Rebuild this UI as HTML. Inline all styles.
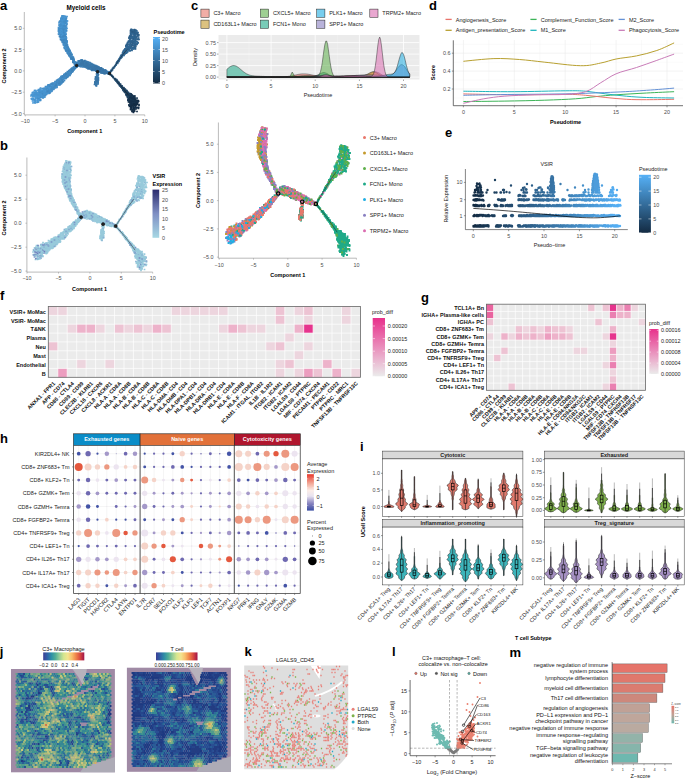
<!DOCTYPE html>
<html><head><meta charset="utf-8"><style>
html,body{margin:0;padding:0;background:#fff;}
svg{display:block;font-family:"Liberation Sans",sans-serif;}
</style></head><body>
<svg width="685" height="778" viewBox="0 0 685 778">
<rect width="685" height="778" fill="#fff"/>
<text x="0.0" y="9.5" font-size="13" text-anchor="start" font-weight="bold" fill="#000">a</text>
<text x="86.0" y="9.5" font-size="6.3" text-anchor="middle" font-weight="bold" fill="#000">Myeloid cells</text>
<path transform="scale(.5)" d="M133 48h0M125 67h0M132 36h0M130 88h0M132 93h0M127 64h0M118 58h0M129 75h0M132 44h0M128 83h0M132 102h0M119 65h0M121 63h0M125 64h0M125 65h0M132 81h0M119 61h0M126 63h0M131 56h0M134 83h0M124 75h0M128 60h0M138 103h0M118 56h0M118 61h0M138 98h0M132 68h0M129 62h0M138 106h0M135 101h0M123 63h0M120 64h0M130 55h0M133 94h0M125 66h0M128 72h0M126 53h0M128 46h0M125 44h0M132 74h0M127 56h0M123 81h0M127 64h0M123 40h0M132 37h0M98 183h0M69 199h0M119 164h0M117 167h0M71 203h0M98 185h0M112 166h0M90 194h0M77 181h0M81 189h0M93 184h0M110 166h0M123 164h0M87 185h0M114 171h0M103 176h0M107 179h0M130 148h0M98 170h0M108 171h0M106 176h0M125 161h0M109 167h0M99 184h0M78 182h0M71 196h0M108 169h0M127 159h0M93 178h0M106 178h0M86 189h0M65 191h0M79 195h0M90 187h0M113 164h0M137 146h0M83 191h0M71 187h0M81 176h0M79 199h0M107 173h0M97 177h0M101 179h0M98 173h0M122 153h0M76 204h0M82 183h0M119 167h0M88 186h0M70 202h0M104 171h0M81 192h0M97 171h0M125 155h0M117 158h0M100 176h0" stroke="#4590ca" stroke-width="3.40" stroke-linecap="square" fill="none"/>
<path transform="scale(.5)" d="M144 117h0M143 114h0M130 41h0M126 58h0M119 73h0M123 52h0M132 93h0M153 130h0M140 107h0M128 81h0M125 64h0M125 69h0M130 73h0M132 78h0M141 109h0M129 90h0M151 124h0M131 98h0M129 83h0M132 88h0M124 55h0M135 98h0M128 74h0M128 77h0M133 95h0M127 69h0M130 94h0M125 68h0M141 114h0M139 112h0M136 98h0M139 112h0M147 120h0M140 111h0M132 47h0M134 101h0M133 98h0M130 63h0M134 98h0M129 68h0M136 95h0M122 43h0M135 93h0M134 90h0M146 116h0M125 64h0M127 74h0M131 86h0M85 182h0M121 165h0M108 174h0M137 152h0M97 170h0M126 157h0M119 162h0M94 179h0M121 168h0M148 139h0M132 148h0M123 160h0M137 151h0M142 146h0M110 166h0M96 174h0M147 138h0M138 149h0M129 161h0M120 163h0M143 137h0M95 175h0M95 176h0M92 184h0M143 142h0M113 165h0M127 158h0M132 154h0M113 161h0M142 141h0M114 165h0M94 178h0M144 137h0M102 176h0M95 187h0M103 172h0M102 173h0M107 167h0M114 174h0M82 183h0M84 193h0M145 143h0" stroke="#4187bf" stroke-width="3.40" stroke-linecap="square" fill="none"/>
<path transform="scale(.5)" d="M140 103h0M131 73h0M135 92h0M131 56h0M121 73h0M127 38h0M130 42h0M118 64h0M127 49h0M133 49h0M127 82h0M130 79h0M142 110h0M144 117h0M124 61h0M125 34h0M125 85h0M124 60h0M141 111h0M124 59h0M120 69h0M126 43h0M126 79h0M129 97h0M122 47h0M122 52h0M127 84h0M125 48h0M129 71h0M126 81h0M137 108h0M132 101h0M122 38h0M134 84h0M123 63h0M131 75h0M135 100h0M132 100h0M125 44h0M129 35h0M127 81h0M124 73h0M130 71h0M128 63h0M148 124h0M137 96h0M128 73h0M122 69h0M133 45h0M144 118h0M135 90h0M133 62h0M129 60h0M127 85h0M139 112h0M139 109h0M127 63h0M129 83h0M142 144h0M86 186h0M141 148h0M103 181h0M78 186h0M87 183h0M130 150h0M144 144h0M79 180h0M110 170h0M84 190h0M133 147h0M130 150h0M75 194h0M130 150h0M81 199h0M84 189h0M141 139h0M81 185h0M85 195h0M151 136h0M104 182h0M135 152h0M74 187h0M103 175h0M124 165h0M148 134h0M114 169h0M130 153h0M120 157h0M81 201h0M144 136h0M75 192h0M122 157h0M100 179h0M92 188h0M99 178h0M93 177h0M86 187h0M97 177h0M145 138h0M99 172h0M112 173h0M149 134h0M120 164h0M154 131h0M140 144h0M86 190h0M103 183h0M103 176h0M103 179h0M109 166h0M111 173h0M105 174h0M118 160h0M131 157h0M114 166h0M90 179h0M93 181h0M135 152h0M120 170h0M83 194h0M108 171h0M120 160h0M126 156h0M87 193h0" stroke="#438bc4" stroke-width="3.40" stroke-linecap="square" fill="none"/>
<path transform="scale(.5)" d="M120 54h0M126 65h0M123 58h0M132 44h0M120 56h0M130 47h0M124 53h0M119 60h0M134 57h0M130 44h0M125 74h0M128 54h0M125 49h0M118 46h0M133 41h0M124 52h0M126 50h0M127 52h0M134 42h0M133 61h0M130 35h0M122 47h0M125 42h0M126 40h0M127 47h0M124 39h0M119 62h0M130 46h0M132 38h0M126 50h0M123 55h0M72 191h0M86 186h0M101 173h0M101 172h0M69 185h0M85 190h0M101 181h0M83 189h0M80 189h0M69 189h0M92 187h0M113 164h0M72 193h0M88 179h0M64 197h0M80 183h0M71 201h0M92 183h0M84 186h0M70 205h0M88 194h0M74 192h0M80 193h0M89 184h0M81 200h0M88 191h0" stroke="#4794d0" stroke-width="3.40" stroke-linecap="square" fill="none"/>
<path transform="scale(.5)" d="M148 122h0M146 122h0M146 125h0M143 118h0M150 127h0M149 128h0M152 125h0M149 127h0M142 144h0M140 146h0M138 141h0M150 135h0M198 139h0M168 123h0M200 140h0M155 129h0M150 128h0M189 137h0M179 130h0M186 137h0M149 129h0M163 125h0M187 138h0M181 132h0M197 140h0M174 128h0M162 133h0M187 132h0M160 128h0M164 122h0M191 133h0M169 129h0M181 135h0M173 131h0M168 133h0M195 141h0M173 123h0M204 142h0M174 136h0M176 135h0M184 129h0M181 133h0M189 138h0M189 132h0M189 136h0M173 129h0M198 139h0M191 164h0M191 165h0M195 154h0M193 172h0M194 164h0M194 165h0" stroke="#3d7fb4" stroke-width="3.40" stroke-linecap="square" fill="none"/>
<path transform="scale(.5)" d="M134 101h0M126 84h0M150 127h0M129 86h0M142 118h0M151 131h0M129 78h0M133 90h0M149 126h0M143 109h0M145 116h0M133 82h0M134 96h0M142 112h0M150 126h0M132 86h0M133 102h0M137 103h0M134 100h0M139 104h0M154 130h0M129 95h0M148 122h0M135 94h0M136 96h0M151 128h0M123 80h0M124 155h0M132 157h0M136 153h0M118 170h0M125 156h0M131 152h0M138 143h0M148 136h0M147 140h0M153 134h0M146 142h0M146 143h0M136 148h0M134 152h0M115 160h0M149 137h0M126 156h0M125 153h0M135 151h0M129 156h0M143 138h0M134 148h0M139 150h0M140 151h0M151 132h0M131 147h0M132 154h0M162 132h0M154 131h0M152 126h0M153 129h0M168 134h0M157 132h0M161 130h0M164 120h0M161 130h0M163 131h0M174 134h0M160 125h0" stroke="#3f83b9" stroke-width="3.40" stroke-linecap="square" fill="none"/>
<path transform="scale(.5)" d="M77 204h0M67 186h0M63 190h0M66 206h0M70 188h0M82 195h0M90 185h0M77 195h0M83 186h0M77 179h0M77 198h0" stroke="#4998d5" stroke-width="3.40" stroke-linecap="square" fill="none"/>
<path transform="scale(.5)" d="M65 185h0M67 204h0" stroke="#4c9cdb" stroke-width="3.40" stroke-linecap="square" fill="none"/>
<path transform="scale(.5)" d="M162 132h0M173 128h0M201 136h0M175 128h0M154 127h0M179 131h0M160 126h0M215 143h0M193 135h0M217 148h0M154 126h0M163 125h0M154 128h0M179 133h0M211 145h0M152 128h0M177 136h0M176 129h0M192 142h0M190 132h0M203 142h0M182 137h0M202 145h0M159 128h0M175 128h0M162 120h0M174 128h0M155 128h0M193 140h0M211 145h0M164 130h0M169 128h0M194 139h0M162 133h0M207 140h0M178 125h0M212 146h0M206 146h0M163 127h0M203 139h0M206 138h0M158 126h0M163 129h0M187 131h0M165 131h0M183 134h0M196 138h0M159 126h0M173 132h0M172 132h0M213 145h0M178 130h0M191 157h0M194 157h0M192 159h0M193 168h0M192 165h0M193 164h0M192 171h0M194 152h0M193 156h0" stroke="#3b7bae" stroke-width="3.40" stroke-linecap="square" fill="none"/>
<path transform="scale(.5)" d="M158 122h0M191 139h0M182 135h0M160 133h0M202 137h0M185 140h0M194 140h0M188 136h0M171 125h0M184 129h0M171 126h0M192 134h0M206 140h0M188 136h0M207 140h0M195 138h0M219 146h0M213 144h0M167 127h0M198 142h0M170 126h0M158 126h0M195 134h0M195 135h0M173 124h0M216 147h0M159 129h0M160 127h0M170 121h0M188 134h0M173 134h0M179 133h0M210 146h0M206 144h0M205 141h0M185 136h0M163 127h0M173 134h0M164 124h0M175 136h0M218 145h0M169 121h0M172 132h0M176 136h0M218 145h0M178 137h0M195 137h0M176 130h0M206 144h0M193 136h0M175 124h0M196 168h0M191 165h0M195 159h0M193 170h0M192 167h0M195 153h0M194 151h0M196 163h0M195 146h0M189 169h0M196 156h0M195 166h0M195 162h0M191 164h0" stroke="#3976a8" stroke-width="3.40" stroke-linecap="square" fill="none"/>
<path transform="scale(.5)" d="M208 143h0M203 142h0M192 132h0M209 144h0M204 144h0M212 141h0M208 147h0M199 136h0M208 144h0M196 138h0M202 142h0M215 145h0M203 136h0M192 138h0M215 144h0M211 147h0M206 146h0M195 151h0M191 158h0M193 165h0M197 160h0M194 167h0M195 165h0M196 146h0M194 147h0" stroke="#3772a3" stroke-width="3.40" stroke-linecap="square" fill="none"/>
<path transform="scale(.5)" d="M256 93h0M266 75h0M262 67h0M259 73h0M274 79h0M255 88h0M234 125h0M245 109h0M262 67h0M264 89h0M270 72h0M265 65h0M262 93h0M274 88h0M253 106h0M257 94h0M267 67h0M269 68h0M249 106h0M270 71h0M260 101h0M254 95h0M269 84h0M255 92h0M271 89h0M258 77h0M263 100h0M267 97h0M256 99h0M275 78h0M268 73h0M267 79h0M271 76h0M268 68h0M261 72h0M266 74h0M263 91h0M251 101h0M255 92h0M265 64h0M220 146h0M252 103h0M275 70h0M247 107h0M255 96h0M258 77h0M262 97h0M232 130h0M252 98h0M266 82h0M268 91h0M261 84h0M263 100h0M276 79h0M270 81h0M276 71h0M270 96h0M249 106h0M227 136h0M262 66h0M262 67h0" stroke="#2e618c" stroke-width="3.40" stroke-linecap="square" fill="none"/>
<path transform="scale(.5)" d="M246 110h0M236 123h0M258 99h0M230 133h0M260 102h0M233 127h0M261 87h0M225 138h0M240 116h0M239 119h0M254 93h0M238 118h0M227 135h0" stroke="#326a97" stroke-width="3.40" stroke-linecap="square" fill="none"/>
<path transform="scale(.5)" d="M270 86h0M261 67h0M260 79h0M252 92h0M242 111h0M257 82h0M264 90h0M254 99h0M273 83h0M262 70h0M223 142h0M234 125h0M242 112h0M225 140h0M265 80h0M260 74h0M241 113h0M272 61h0M264 84h0M255 104h0M263 94h0M260 86h0M276 86h0M270 97h0M255 85h0M227 136h0M236 123h0M268 95h0M235 125h0M237 123h0M235 123h0M272 69h0M243 115h0M268 65h0M264 83h0" stroke="#306692" stroke-width="3.40" stroke-linecap="square" fill="none"/>
<path transform="scale(.5)" d="M273 64h0M260 78h0M271 80h0M265 97h0M248 106h0M264 76h0M254 89h0M256 93h0M270 76h0M261 77h0M267 77h0M251 98h0M260 96h0M274 66h0M278 79h0M247 102h0M263 59h0M274 73h0M251 103h0M265 64h0M265 84h0M253 98h0M270 89h0M261 61h0M249 104h0M263 84h0M258 94h0M261 84h0" stroke="#2c5d86" stroke-width="3.40" stroke-linecap="square" fill="none"/>
<path transform="scale(.5)" d="M270 65h0M278 70h0M269 66h0" stroke="#2a5981" stroke-width="3.40" stroke-linecap="square" fill="none"/>
<path transform="scale(.5)" d="M273 204h0M275 204h0M269 206h0M259 213h0M266 203h0M270 203h0M257 198h0M263 212h0M257 204h0M264 208h0M272 204h0M266 201h0M272 209h0M263 209h0M266 203h0M269 199h0M267 225h0M272 205h0M267 213h0M263 200h0" stroke="#152f49" stroke-width="3.40" stroke-linecap="square" fill="none"/>
<path transform="scale(.5)" d="M265 196h0M253 181h0M249 184h0M258 188h0M258 198h0M267 204h0M269 205h0M253 183h0M260 188h0M256 195h0M268 208h0M271 204h0M265 203h0M255 184h0M261 201h0M266 208h0M270 198h0M259 200h0M247 181h0" stroke="#1b3c5a" stroke-width="3.40" stroke-linecap="square" fill="none"/>
<path transform="scale(.5)" d="M270 211h0M274 206h0M268 207h0M256 201h0M270 205h0M275 205h0M263 205h0M274 205h0M271 199h0M274 209h0M273 201h0M265 191h0M264 218h0M259 196h0M261 206h0M262 191h0M275 209h0M259 197h0M268 220h0M268 192h0" stroke="#17334e" stroke-width="3.40" stroke-linecap="square" fill="none"/>
<path transform="scale(.5)" d="M265 201h0M262 197h0M261 190h0M261 196h0M259 196h0M258 210h0M257 191h0M266 208h0M266 208h0M255 195h0M255 188h0M260 198h0M277 202h0M257 191h0M272 208h0M274 196h0M260 190h0M258 202h0M258 195h0M274 197h0M264 198h0M272 207h0M262 191h0M258 200h0" stroke="#193854" stroke-width="3.40" stroke-linecap="square" fill="none"/>
<path transform="scale(.5)" d="M231 159h0M231 159h0M233 159h0M233 160h0M235 165h0M223 150h0" stroke="#265176" stroke-width="3.40" stroke-linecap="square" fill="none"/>
<path transform="scale(.5)" d="M269 222h0M266 209h0M270 206h0M260 198h0M263 220h0M264 206h0M262 216h0M274 208h0M265 207h0M269 210h0M272 218h0M266 209h0M261 213h0" stroke="#132b43" stroke-width="3.40" stroke-linecap="square" fill="none"/>
<path transform="scale(.5)" d="M239 169h0M237 164h0M248 176h0M238 167h0M247 179h0M243 173h0M244 172h0M232 162h0M237 166h0M248 178h0" stroke="#22486a" stroke-width="3.40" stroke-linecap="square" fill="none"/>
<path transform="scale(.5)" d="M239 171h0M230 159h0M235 165h0M245 177h0M237 165h0" stroke="#244c70" stroke-width="3.40" stroke-linecap="square" fill="none"/>
<path transform="scale(.5)" d="M262 190h0M250 178h0M252 182h0M262 201h0M243 174h0M251 182h0M251 186h0M246 178h0M251 186h0M253 190h0M256 185h0M243 174h0M262 188h0M244 176h0" stroke="#1d405f" stroke-width="3.40" stroke-linecap="square" fill="none"/>
<path transform="scale(.5)" d="M246 178h0M246 177h0M248 181h0M257 187h0M247 177h0M249 182h0M247 175h0M252 184h0" stroke="#204465" stroke-width="3.40" stroke-linecap="square" fill="none"/>
<path transform="scale(.5)" d="M226 153h0" stroke="#28557b" stroke-width="3.40" stroke-linecap="square" fill="none"/>
<path transform="scale(.5)" d="M147 123h0M152 131h0M146 121h0M130 61h0M126 73h0M121 62h0M134 101h0M119 44h0M129 82h0M127 84h0M128 82h0M117 58h0M150 126h0M123 73h0M124 79h0M128 74h0M151 126h0M143 112h0M120 64h0M139 102h0M150 129h0M127 90h0M137 106h0M136 107h0M124 80h0M133 88h0M142 117h0M146 114h0M124 62h0M143 115h0M146 118h0M137 101h0M146 114h0M136 107h0M147 120h0M135 94h0M125 84h0M122 71h0M133 100h0M146 119h0M135 106h0M150 126h0M151 127h0M127 72h0M131 92h0M119 52h0M134 103h0M137 109h0M131 96h0M127 85h0M139 110h0M131 77h0M129 95h0M128 85h0M125 50h0M127 84h0M150 135h0M125 158h0M113 168h0M109 176h0M97 177h0M135 149h0M110 176h0M87 177h0M117 166h0M109 175h0M112 165h0M118 163h0M132 146h0M84 188h0M133 152h0M150 134h0M106 175h0M112 164h0M136 147h0M129 150h0M121 158h0M116 169h0M131 150h0M119 160h0M106 168h0M143 142h0M115 160h0M124 158h0M129 156h0M130 156h0M145 139h0M132 152h0M107 172h0M137 145h0M119 160h0M108 176h0M122 157h0M150 135h0M105 166h0M97 183h0M129 152h0M129 157h0M147 140h0M97 185h0M110 163h0M107 175h0M143 141h0" stroke="#4187bf" stroke-width="3.40" stroke-linecap="square" fill="none"/>
<path transform="scale(.5)" d="M147 115h0M129 88h0M138 107h0M138 111h0M142 109h0M132 93h0M148 120h0M148 125h0M143 113h0M150 126h0M130 87h0M148 118h0M127 85h0M142 113h0M141 105h0M129 87h0M139 100h0M127 78h0M141 144h0M140 142h0M132 150h0M140 140h0M143 142h0M142 143h0M138 142h0M144 140h0M152 135h0M132 147h0M153 133h0M152 133h0M125 152h0M147 135h0M113 173h0M114 163h0M123 155h0M139 146h0M142 146h0M144 139h0M118 162h0M135 154h0M125 160h0M125 158h0M147 139h0M159 131h0M161 130h0M164 131h0M164 126h0M159 125h0M163 128h0M159 132h0M160 128h0M159 131h0M170 128h0M159 132h0M165 129h0M156 122h0M160 123h0" stroke="#3f83b9" stroke-width="3.40" stroke-linecap="square" fill="none"/>
<path transform="scale(.5)" d="M125 57h0M145 113h0M128 73h0M127 69h0M127 56h0M129 88h0M135 105h0M134 84h0M123 43h0M129 83h0M122 72h0M125 60h0M120 57h0M132 83h0M133 101h0M121 58h0M127 55h0M132 93h0M130 65h0M139 105h0M125 43h0M121 73h0M121 76h0M127 68h0M137 103h0M126 80h0M118 59h0M141 110h0M131 36h0M127 71h0M127 36h0M123 51h0M133 101h0M127 45h0M127 40h0M136 105h0M122 63h0M122 72h0M134 101h0M125 36h0M134 102h0M139 103h0M127 81h0M128 80h0M148 120h0M121 54h0M127 73h0M128 88h0M123 44h0M120 59h0M136 101h0M119 50h0M125 83h0M128 50h0M117 61h0M129 88h0M122 157h0M147 134h0M108 178h0M83 187h0M125 152h0M112 169h0M110 171h0M92 181h0M119 160h0M91 173h0M105 172h0M100 179h0M122 155h0M99 179h0M107 168h0M113 175h0M78 191h0M79 186h0M149 134h0M129 155h0M88 185h0M115 164h0M101 182h0M101 180h0M125 153h0M66 191h0M103 167h0M110 169h0M78 188h0M83 189h0M142 145h0M79 190h0M133 153h0M108 166h0M102 176h0M82 185h0M142 142h0M110 175h0M89 186h0M123 166h0M109 172h0M119 159h0M122 167h0M90 182h0M103 168h0M154 134h0M136 153h0M83 188h0M105 174h0M93 178h0M100 169h0M134 150h0M120 168h0M149 138h0" stroke="#438bc4" stroke-width="3.40" stroke-linecap="square" fill="none"/>
<path transform="scale(.5)" d="M146 124h0M144 116h0M147 123h0M151 129h0M149 133h0M142 139h0M149 135h0M152 132h0M181 132h0M196 137h0M203 143h0M175 130h0M189 131h0M156 125h0M165 130h0M184 131h0M176 138h0M159 123h0M176 130h0M205 145h0M184 141h0M171 133h0M160 131h0M175 129h0M185 133h0M181 132h0M169 125h0M172 135h0M200 139h0M173 128h0M192 137h0M199 138h0M172 123h0M168 128h0M164 120h0M170 123h0M182 127h0M184 133h0M154 130h0M189 139h0M193 138h0M164 121h0M184 129h0M191 137h0M192 131h0M196 135h0M193 161h0M193 157h0M191 166h0M192 161h0M192 167h0M196 156h0M194 157h0M195 151h0M193 153h0M194 160h0M194 155h0M193 156h0M196 151h0M190 166h0" stroke="#3d7fb4" stroke-width="3.40" stroke-linecap="square" fill="none"/>
<path transform="scale(.5)" d="M123 51h0M124 78h0M117 63h0M125 49h0M129 94h0M122 51h0M127 58h0M123 35h0M125 78h0M123 36h0M128 65h0M119 43h0M129 46h0M125 32h0M122 62h0M120 59h0M125 35h0M120 56h0M119 68h0M122 51h0M132 38h0M122 41h0M133 101h0M129 81h0M124 76h0M133 99h0M122 64h0M131 96h0M128 83h0M129 70h0M124 63h0M134 82h0M142 105h0M126 58h0M124 75h0M122 42h0M122 39h0M135 98h0M124 42h0M123 76h0M127 37h0M119 65h0M127 51h0M140 105h0M132 73h0M128 88h0M134 33h0M131 57h0M133 87h0M128 37h0M134 48h0M130 94h0M128 41h0M121 49h0M128 76h0M126 37h0M125 65h0M127 85h0M113 174h0M88 185h0M80 181h0M105 168h0M79 201h0M91 181h0M87 195h0M80 186h0M64 189h0M73 184h0M81 182h0M85 181h0M91 191h0M93 189h0M90 188h0M94 175h0M111 169h0M88 184h0M94 176h0M82 190h0M73 191h0M76 189h0M136 149h0M101 178h0M98 173h0M97 175h0M115 164h0M125 156h0M85 184h0M124 157h0M114 162h0M87 183h0M96 182h0M78 197h0M92 183h0M101 175h0M72 191h0M112 173h0M74 187h0M87 190h0M84 183h0M118 160h0M105 173h0M106 178h0M101 171h0M81 193h0M98 175h0M99 173h0M69 192h0M80 178h0M104 181h0M104 170h0M81 191h0M94 181h0M117 169h0M96 176h0M80 183h0M114 170h0" stroke="#4590ca" stroke-width="3.40" stroke-linecap="square" fill="none"/>
<path transform="scale(.5)" d="M127 46h0M128 53h0M131 80h0M118 69h0M127 39h0M132 51h0M129 67h0M132 56h0M122 37h0M122 55h0M124 70h0M127 50h0M123 36h0M130 53h0M128 38h0M126 32h0M127 47h0M127 75h0M132 69h0M128 42h0M130 69h0M72 187h0M98 187h0M102 177h0M97 171h0M91 188h0M93 182h0M111 172h0M88 177h0M79 187h0M75 200h0M76 199h0M82 181h0M91 183h0M72 197h0M71 185h0M101 176h0M76 194h0M74 190h0M77 190h0M81 191h0M72 184h0M105 179h0M76 181h0M92 176h0M70 200h0M76 194h0M99 185h0M101 182h0M79 197h0M76 185h0" stroke="#4794d0" stroke-width="3.40" stroke-linecap="square" fill="none"/>
<path transform="scale(.5)" d="M125 35h0M133 46h0M128 38h0M129 37h0M64 190h0M66 193h0M70 204h0M65 190h0M66 199h0M80 189h0M67 197h0M67 184h0M75 195h0M76 193h0M80 194h0M67 188h0" stroke="#4998d5" stroke-width="3.40" stroke-linecap="square" fill="none"/>
<path transform="scale(.5)" d="M71 186h0M75 200h0M65 199h0" stroke="#4c9cdb" stroke-width="3.40" stroke-linecap="square" fill="none"/>
<path transform="scale(.5)" d="M182 130h0M150 127h0M171 128h0M201 138h0M154 125h0M191 136h0M174 125h0M158 123h0M191 134h0M161 129h0M216 146h0M157 126h0M156 128h0M183 135h0M194 132h0M168 127h0M181 131h0M188 135h0M187 131h0M198 144h0M188 137h0M217 148h0M215 144h0M189 134h0M167 130h0M183 127h0M198 139h0M206 140h0M158 122h0M158 128h0M175 127h0M197 136h0M180 126h0M172 132h0M217 146h0M212 146h0M189 135h0M190 132h0M173 133h0M198 134h0M183 136h0M157 126h0M173 127h0M170 130h0M172 124h0M193 159h0M195 146h0M192 165h0M196 159h0M194 164h0M196 160h0M194 147h0M192 164h0M192 154h0M191 159h0M195 155h0" stroke="#3b7bae" stroke-width="3.40" stroke-linecap="square" fill="none"/>
<path transform="scale(.5)" d="M187 129h0M185 137h0M204 141h0M187 139h0M185 131h0M167 124h0M179 131h0M204 146h0M181 135h0M177 125h0M168 129h0M212 145h0M194 137h0M215 145h0M200 138h0M173 132h0M186 137h0M173 130h0M191 137h0M213 145h0M181 138h0M186 135h0M201 138h0M185 133h0M195 141h0M176 125h0M208 143h0M205 144h0M211 145h0M201 144h0M176 135h0M165 121h0M206 139h0M168 123h0M181 134h0M180 129h0M197 140h0M183 138h0M202 140h0M196 138h0M189 136h0M192 138h0M159 129h0M158 131h0M205 145h0M185 132h0M178 135h0M191 139h0M166 125h0M194 162h0M194 161h0M194 165h0M190 163h0M197 156h0M191 168h0M195 158h0" stroke="#3976a8" stroke-width="3.40" stroke-linecap="square" fill="none"/>
<path transform="scale(.5)" d="M200 140h0M212 142h0M192 142h0M194 139h0M214 145h0M214 143h0M194 134h0M188 139h0M189 131h0M200 143h0M209 147h0M212 145h0M218 144h0M209 144h0M211 142h0M208 144h0M200 137h0M219 144h0M211 147h0M205 145h0M202 142h0M197 149h0M194 162h0M195 166h0M194 153h0M196 150h0" stroke="#3772a3" stroke-width="3.40" stroke-linecap="square" fill="none"/>
<path transform="scale(.5)" d="M262 69h0M269 69h0M262 92h0M266 87h0M269 74h0M260 74h0M264 84h0M271 80h0M261 88h0M263 89h0M268 91h0M261 84h0M270 92h0M269 92h0M242 114h0M264 73h0M270 72h0M252 93h0M258 89h0M260 95h0M254 99h0M257 99h0M249 102h0M254 90h0M263 83h0M266 87h0M268 63h0M261 92h0M268 62h0M265 86h0" stroke="#2c5d86" stroke-width="3.40" stroke-linecap="square" fill="none"/>
<path transform="scale(.5)" d="M270 91h0M251 101h0M248 100h0M250 106h0M241 117h0M262 84h0M234 124h0M241 117h0M268 90h0M225 137h0M254 96h0M251 101h0M237 120h0M261 95h0M235 126h0M259 96h0M240 117h0M235 125h0M247 103h0M259 93h0M238 122h0M243 112h0M269 71h0" stroke="#326a97" stroke-width="3.40" stroke-linecap="square" fill="none"/>
<path transform="scale(.5)" d="M264 81h0M270 62h0M259 82h0M251 106h0M236 123h0M271 78h0M270 65h0M253 100h0M259 91h0M252 91h0M252 97h0M268 97h0M266 67h0M236 122h0M259 82h0M252 101h0M253 94h0M263 59h0M255 97h0M269 66h0M250 98h0M267 84h0M269 75h0M268 74h0M229 133h0M271 88h0M245 106h0M244 114h0M276 85h0M265 95h0M254 93h0M255 98h0M244 111h0" stroke="#2e618c" stroke-width="3.40" stroke-linecap="square" fill="none"/>
<path transform="scale(.5)" d="M248 108h0M266 64h0M247 106h0M269 86h0M265 90h0M263 75h0M245 112h0M251 101h0M274 83h0M263 63h0M260 81h0M222 141h0M247 104h0M253 94h0M267 76h0M260 93h0M272 66h0M264 77h0M273 74h0M239 120h0M270 83h0M250 98h0M268 83h0M260 95h0M251 104h0M271 68h0M275 86h0M247 108h0M263 92h0M266 96h0M275 70h0M258 99h0M272 61h0M253 92h0M263 70h0M244 111h0M274 87h0M274 62h0M258 83h0M268 69h0M258 89h0M261 81h0M232 129h0M275 66h0M262 72h0M273 66h0M252 99h0M227 135h0M256 98h0" stroke="#306692" stroke-width="3.40" stroke-linecap="square" fill="none"/>
<path transform="scale(.5)" d="M277 74h0M275 67h0M263 62h0M220 149h0M224 152h0" stroke="#2a5981" stroke-width="3.40" stroke-linecap="square" fill="none"/>
<path transform="scale(.5)" d="M231 130h0M223 140h0" stroke="#346e9d" stroke-width="3.40" stroke-linecap="square" fill="none"/>
<path transform="scale(.5)" d="M245 176h0M249 179h0M243 174h0M248 181h0M237 165h0M240 170h0M235 163h0M241 168h0M244 176h0M244 172h0" stroke="#22486a" stroke-width="3.40" stroke-linecap="square" fill="none"/>
<path transform="scale(.5)" d="M245 176h0M236 166h0M232 160h0M240 172h0M226 154h0M233 160h0M229 158h0M233 162h0" stroke="#244c70" stroke-width="3.40" stroke-linecap="square" fill="none"/>
<path transform="scale(.5)" d="M270 218h0M261 193h0M260 193h0M261 189h0M261 197h0M269 209h0M266 206h0M261 208h0M275 215h0M271 206h0M262 215h0M260 204h0M268 200h0M264 197h0M261 203h0M264 207h0M275 215h0M269 210h0M268 203h0" stroke="#17334e" stroke-width="3.40" stroke-linecap="square" fill="none"/>
<path transform="scale(.5)" d="M268 207h0M260 196h0M259 200h0M263 189h0M263 203h0M265 193h0M261 198h0M262 197h0M263 196h0M259 189h0M262 190h0M263 191h0M259 202h0M253 181h0M254 190h0M266 194h0M249 182h0M268 194h0" stroke="#1b3c5a" stroke-width="3.40" stroke-linecap="square" fill="none"/>
<path transform="scale(.5)" d="M226 154h0M233 160h0M225 153h0" stroke="#265176" stroke-width="3.40" stroke-linecap="square" fill="none"/>
<path transform="scale(.5)" d="M254 186h0M249 182h0M249 183h0M248 179h0M249 179h0M260 187h0M252 182h0M248 179h0M247 176h0M256 189h0M266 196h0" stroke="#1d405f" stroke-width="3.40" stroke-linecap="square" fill="none"/>
<path transform="scale(.5)" d="M270 195h0M253 189h0M258 196h0M275 201h0M258 198h0M263 209h0M268 202h0M257 199h0M268 198h0M261 197h0M262 195h0M255 186h0M264 200h0M263 205h0M257 196h0" stroke="#193854" stroke-width="3.40" stroke-linecap="square" fill="none"/>
<path transform="scale(.5)" d="M269 206h0M264 190h0M261 218h0M270 200h0M262 208h0M264 223h0M266 210h0M261 219h0M276 202h0M267 195h0M275 206h0M274 204h0M267 208h0M265 202h0M264 194h0M257 200h0M263 215h0M273 215h0M268 195h0M271 205h0M273 208h0M263 195h0M263 197h0M266 212h0" stroke="#152f49" stroke-width="3.40" stroke-linecap="square" fill="none"/>
<path transform="scale(.5)" d="M272 210h0M274 223h0M260 201h0M267 223h0M277 215h0M267 218h0M273 202h0M265 205h0M267 217h0M268 207h0M260 202h0M268 220h0M265 223h0M263 216h0M278 211h0M269 210h0M269 215h0M262 212h0" stroke="#132b43" stroke-width="3.40" stroke-linecap="square" fill="none"/>
<path transform="scale(.5)" d="M257 185h0M241 171h0M251 182h0M246 180h0M246 180h0M242 174h0M253 189h0M242 171h0M256 194h0" stroke="#204465" stroke-width="3.40" stroke-linecap="square" fill="none"/>
<path transform="scale(.5)" d="M233 162h0M231 158h0M222 150h0" stroke="#28557b" stroke-width="3.40" stroke-linecap="square" fill="none"/>
<path transform="scale(.5)" d="M124 70h0M132 59h0M125 47h0M141 115h0M119 55h0M138 108h0M128 43h0M129 50h0M122 70h0M126 60h0M130 73h0M126 57h0M133 52h0M144 109h0M129 45h0M123 62h0M126 74h0M128 53h0M126 32h0M117 68h0M128 46h0M131 53h0M128 59h0M127 65h0M133 36h0M132 81h0M130 57h0M131 88h0M131 64h0M127 89h0M130 33h0M131 87h0M120 42h0M132 42h0M147 122h0M124 37h0M132 42h0M121 59h0M123 52h0M125 76h0M121 64h0M130 39h0M143 118h0M126 56h0M126 77h0M131 52h0M125 83h0M125 75h0M132 86h0M126 40h0M137 103h0M147 120h0M124 32h0M120 57h0M131 46h0M127 50h0M150 128h0M137 99h0M131 90h0M142 112h0M120 49h0M132 61h0M126 68h0M122 56h0M129 91h0M129 66h0M136 107h0M122 67h0M127 84h0M128 71h0M111 174h0M130 154h0M93 187h0M95 173h0M107 169h0M113 167h0M81 194h0M98 176h0M104 175h0M112 170h0M107 173h0M102 168h0M122 165h0M129 156h0M141 140h0M117 161h0M105 178h0M95 184h0M120 168h0M100 184h0M94 182h0M150 134h0M117 168h0M117 161h0M138 147h0M76 197h0M89 191h0M138 144h0M126 159h0M100 172h0M120 156h0M90 176h0M136 144h0M78 184h0M123 165h0M133 151h0M134 153h0M106 178h0M99 179h0M98 182h0M123 153h0M94 185h0M94 176h0M92 183h0M101 170h0M102 169h0M123 164h0M116 169h0M75 195h0M102 168h0M97 181h0M139 148h0M107 173h0M85 188h0M118 161h0M99 179h0M131 156h0M85 183h0M141 144h0M101 178h0M89 181h0M114 166h0M96 170h0M128 149h0" stroke="#438bc4" stroke-width="3.40" stroke-linecap="square" fill="none"/>
<path transform="scale(.5)" d="M129 90h0M122 72h0M130 92h0M123 65h0M123 37h0M123 66h0M128 55h0M125 70h0M130 89h0M127 78h0M123 38h0M128 46h0M132 95h0M128 84h0M122 69h0M133 94h0M127 76h0M129 72h0M122 59h0M129 63h0M124 72h0M121 65h0M133 55h0M124 51h0M128 46h0M129 61h0M132 79h0M142 113h0M129 75h0M138 102h0M130 81h0M118 60h0M127 87h0M129 39h0M122 41h0M128 37h0M119 64h0M131 74h0M133 95h0M127 69h0M131 94h0M127 72h0M127 63h0M133 76h0M126 82h0M130 67h0M120 50h0M131 33h0M103 177h0M134 151h0M94 186h0M75 187h0M86 196h0M88 190h0M73 190h0M113 175h0M89 184h0M71 188h0M130 153h0M79 195h0M123 160h0M98 177h0M75 204h0M75 188h0M89 185h0M77 189h0M71 188h0M125 157h0M84 177h0M86 177h0M69 181h0M98 185h0M91 189h0M111 167h0M123 167h0M109 172h0M110 168h0M74 205h0M115 168h0M110 168h0M103 180h0M70 206h0M107 171h0M94 173h0M68 191h0M90 189h0M103 173h0M101 182h0M67 200h0M115 169h0M106 171h0" stroke="#4590ca" stroke-width="3.40" stroke-linecap="square" fill="none"/>
<path transform="scale(.5)" d="M128 50h0M146 118h0M150 126h0M124 79h0M133 81h0M126 82h0M134 89h0M130 64h0M130 72h0M126 64h0M128 85h0M123 70h0M127 60h0M126 73h0M139 102h0M134 90h0M137 98h0M121 74h0M145 118h0M149 125h0M122 61h0M134 95h0M142 113h0M150 124h0M133 87h0M133 90h0M135 95h0M143 111h0M135 94h0M132 80h0M121 79h0M140 101h0M149 126h0M148 120h0M120 72h0M131 100h0M125 74h0M125 49h0M130 68h0M141 114h0M148 122h0M143 114h0M135 106h0M127 71h0M123 62h0M153 132h0M154 131h0M131 151h0M127 152h0M119 162h0M150 136h0M129 153h0M110 172h0M147 140h0M119 166h0M95 182h0M146 136h0M142 139h0M103 178h0M100 173h0M130 150h0M146 136h0M112 171h0M121 168h0M138 150h0M104 168h0M142 147h0M127 163h0M143 144h0M123 158h0M121 165h0M112 166h0M144 144h0M148 138h0M133 153h0M136 148h0M130 149h0M97 179h0M139 143h0M128 149h0M95 183h0M102 173h0M113 165h0M153 134h0M136 151h0M139 149h0M135 143h0M100 186h0M143 144h0" stroke="#4187bf" stroke-width="3.40" stroke-linecap="square" fill="none"/>
<path transform="scale(.5)" d="M120 45h0M128 49h0M120 55h0M125 49h0M127 48h0M125 32h0M125 42h0M123 60h0M117 55h0M122 39h0M123 71h0M122 66h0M124 66h0M118 50h0M125 42h0M130 62h0M122 60h0M131 64h0M121 63h0M125 69h0M129 32h0M131 67h0M125 46h0M123 61h0M126 40h0M130 62h0M123 54h0M124 77h0M124 47h0M131 66h0M124 41h0M123 71h0M125 62h0M128 38h0M87 180h0M65 186h0M66 197h0M63 197h0M62 192h0M97 175h0M87 194h0M94 187h0M67 190h0M87 180h0M80 192h0M77 187h0M72 193h0M90 180h0M70 185h0M93 174h0M76 188h0M89 182h0M87 181h0M87 184h0M87 193h0M75 187h0M80 182h0M82 188h0M70 181h0M110 165h0M83 189h0M90 186h0M73 191h0M89 180h0M83 184h0M71 188h0M99 178h0M71 193h0M100 175h0M77 195h0M103 171h0M88 188h0M102 183h0M95 179h0M75 202h0" stroke="#4794d0" stroke-width="3.40" stroke-linecap="square" fill="none"/>
<path transform="scale(.5)" d="M141 110h0M153 131h0M145 116h0M137 101h0M140 107h0M138 103h0M133 101h0M145 118h0M143 108h0M150 129h0M128 80h0M143 116h0M131 91h0M129 85h0M148 121h0M126 164h0M153 134h0M134 155h0M134 155h0M112 170h0M124 160h0M135 144h0M125 154h0M132 149h0M143 143h0M118 167h0M125 163h0M161 121h0M165 123h0M159 128h0M175 131h0M151 126h0M173 134h0M165 134h0M176 124h0M155 132h0M161 132h0M163 129h0M157 125h0M170 134h0M169 124h0M151 128h0M173 129h0M163 126h0" stroke="#3f83b9" stroke-width="3.40" stroke-linecap="square" fill="none"/>
<path transform="scale(.5)" d="M135 42h0M130 35h0M66 193h0M63 189h0M84 180h0M81 180h0M76 186h0M74 194h0M68 193h0M72 196h0M71 205h0M66 197h0M75 202h0M71 195h0M83 192h0M64 198h0M71 200h0M71 182h0M83 180h0M78 194h0M71 192h0M91 182h0M78 200h0M72 181h0" stroke="#4998d5" stroke-width="3.40" stroke-linecap="square" fill="none"/>
<path transform="scale(.5)" d="M145 118h0M142 116h0M150 137h0M147 137h0M154 132h0M144 140h0M151 133h0M160 127h0M202 137h0M163 127h0M167 132h0M166 127h0M173 130h0M159 126h0M198 142h0M175 125h0M163 121h0M180 132h0M197 138h0M176 125h0M213 143h0M201 139h0M183 131h0M160 125h0M185 137h0M162 130h0M180 138h0M174 125h0M159 128h0M208 142h0M189 132h0M204 138h0M179 128h0M175 132h0M195 141h0M165 126h0M195 157h0M196 167h0M191 164h0M194 163h0M195 165h0" stroke="#3d7fb4" stroke-width="3.40" stroke-linecap="square" fill="none"/>
<path transform="scale(.5)" d="M63 198h0M65 202h0" stroke="#4c9cdb" stroke-width="3.40" stroke-linecap="square" fill="none"/>
<path transform="scale(.5)" d="M154 130h0M211 140h0M185 129h0M166 132h0M173 123h0M204 140h0M206 139h0M177 126h0M203 140h0M162 126h0M195 140h0M216 144h0M182 137h0M173 130h0M169 129h0M186 138h0M206 140h0M169 127h0M165 123h0M173 135h0M170 130h0M200 140h0M212 144h0M182 131h0M168 131h0M159 130h0M204 141h0M180 134h0M199 141h0M186 130h0M189 138h0M170 126h0M208 141h0M180 125h0M209 147h0M183 139h0M178 135h0M194 136h0M179 130h0M182 137h0M166 129h0M193 160h0M192 158h0M193 161h0M194 163h0M195 159h0M196 164h0M195 154h0M194 153h0M193 153h0" stroke="#3b7bae" stroke-width="3.40" stroke-linecap="square" fill="none"/>
<path transform="scale(.5)" d="M204 141h0M184 137h0M184 137h0M196 137h0M197 143h0M172 127h0M166 124h0M180 130h0M205 144h0M189 137h0M171 133h0M177 134h0M193 138h0M190 131h0M187 138h0M166 126h0M196 133h0M163 129h0M168 132h0M218 145h0M202 146h0M164 128h0M193 136h0M159 122h0M173 132h0M168 123h0M163 130h0M160 129h0M181 134h0M186 133h0M173 126h0M165 122h0M172 128h0M183 140h0M209 144h0M202 140h0M165 123h0M206 142h0M163 122h0M187 138h0M184 134h0M212 143h0M155 129h0M176 128h0M208 141h0M189 137h0M176 131h0M198 135h0M196 135h0M200 138h0M216 145h0M162 126h0M167 123h0M167 128h0M191 140h0M184 129h0M188 141h0M192 171h0M194 156h0M194 153h0M194 160h0M196 164h0M193 148h0M195 160h0M191 154h0M193 160h0M195 149h0M196 158h0M192 163h0M193 157h0M195 156h0M190 166h0" stroke="#3976a8" stroke-width="3.40" stroke-linecap="square" fill="none"/>
<path transform="scale(.5)" d="M200 139h0M211 145h0M206 141h0M218 146h0M202 136h0M195 135h0M185 139h0M193 135h0M216 147h0M198 143h0M178 137h0M199 140h0M209 147h0M190 133h0M199 137h0M215 146h0M214 146h0M210 140h0M192 141h0M195 144h0M203 137h0M191 138h0M195 160h0M190 165h0M192 155h0M196 158h0M193 160h0M195 146h0M194 163h0" stroke="#3772a3" stroke-width="3.40" stroke-linecap="square" fill="none"/>
<path transform="scale(.5)" d="M268 97h0M256 85h0M263 65h0M264 91h0M233 126h0M253 105h0M247 105h0M268 67h0M265 64h0M272 92h0M265 87h0M242 116h0M264 65h0M273 76h0M268 85h0M262 62h0M268 75h0M271 60h0M270 64h0M265 84h0M268 67h0M268 87h0M271 98h0M262 93h0M271 73h0M261 73h0M269 71h0M269 62h0M258 75h0M265 73h0M268 77h0M253 89h0M269 93h0M270 67h0M250 108h0M270 75h0M270 79h0M262 90h0M220 148h0" stroke="#2c5d86" stroke-width="3.40" stroke-linecap="square" fill="none"/>
<path transform="scale(.5)" d="M269 59h0M269 60h0M265 63h0M266 61h0M276 69h0M270 78h0M227 156h0M227 155h0" stroke="#2a5981" stroke-width="3.40" stroke-linecap="square" fill="none"/>
<path transform="scale(.5)" d="M262 84h0M267 75h0M235 127h0M249 103h0M269 89h0M262 59h0M269 96h0M251 103h0M234 127h0M261 64h0M250 100h0M248 104h0M267 69h0M269 72h0M269 70h0M269 92h0M256 100h0M255 87h0M257 98h0M260 71h0M243 110h0M268 69h0M271 95h0M247 110h0M273 66h0M265 83h0M271 85h0M223 141h0M271 62h0M237 123h0M246 106h0M266 60h0M236 122h0M276 65h0M252 98h0M258 83h0" stroke="#2e618c" stroke-width="3.40" stroke-linecap="square" fill="none"/>
<path transform="scale(.5)" d="M255 103h0M250 103h0M252 99h0M221 143h0M247 109h0M254 95h0M248 110h0M230 132h0M250 101h0M237 122h0M267 97h0M253 105h0M242 114h0M248 111h0M258 101h0M232 130h0M240 115h0M264 96h0" stroke="#326a97" stroke-width="3.40" stroke-linecap="square" fill="none"/>
<path transform="scale(.5)" d="M264 101h0M221 144h0M260 92h0M250 104h0M252 97h0M220 145h0M277 77h0M249 103h0M265 96h0M260 92h0M270 76h0M266 73h0M266 98h0M261 90h0M236 122h0M253 98h0M255 103h0M268 86h0M266 68h0M252 97h0M271 84h0M262 75h0M258 94h0M269 80h0M271 72h0M240 117h0M239 117h0M251 104h0M266 60h0M252 106h0M270 77h0M256 85h0M270 77h0M270 79h0M247 103h0M258 95h0M266 74h0M248 106h0M255 94h0M263 67h0M274 89h0" stroke="#306692" stroke-width="3.40" stroke-linecap="square" fill="none"/>
<path transform="scale(.5)" d="M228 135h0" stroke="#346e9d" stroke-width="3.40" stroke-linecap="square" fill="none"/>
<path transform="scale(.5)" d="M259 188h0M251 185h0M268 195h0M253 189h0M262 195h0M256 190h0M252 189h0M253 191h0M266 201h0M258 189h0M253 185h0M255 192h0M252 185h0M250 183h0M250 184h0" stroke="#1b3c5a" stroke-width="3.40" stroke-linecap="square" fill="none"/>
<path transform="scale(.5)" d="M247 179h0M248 180h0M247 179h0M251 179h0M247 181h0M231 160h0M234 162h0M245 175h0M239 168h0" stroke="#22486a" stroke-width="3.40" stroke-linecap="square" fill="none"/>
<path transform="scale(.5)" d="M266 215h0M269 205h0M262 192h0M264 195h0M261 200h0M263 199h0M255 189h0M265 205h0M260 196h0M259 198h0M255 189h0M264 193h0M267 197h0M261 199h0M267 201h0M258 192h0M265 193h0M261 192h0M260 191h0M256 200h0" stroke="#193854" stroke-width="3.40" stroke-linecap="square" fill="none"/>
<path transform="scale(.5)" d="M269 208h0M259 205h0M271 200h0M269 222h0M269 210h0M268 218h0M268 215h0M258 200h0M263 213h0M266 223h0M262 211h0M276 201h0M269 215h0M265 220h0M274 209h0M268 193h0M271 210h0M265 211h0M271 203h0" stroke="#132b43" stroke-width="3.40" stroke-linecap="square" fill="none"/>
<path transform="scale(.5)" d="M270 198h0M262 188h0M278 209h0M262 205h0M259 202h0M260 190h0M257 201h0M265 197h0M266 197h0M257 199h0M266 200h0M260 206h0M265 204h0M262 192h0M271 213h0M258 210h0M267 220h0M264 203h0M270 192h0M268 205h0M272 202h0" stroke="#17334e" stroke-width="3.40" stroke-linecap="square" fill="none"/>
<path transform="scale(.5)" d="M238 166h0M241 171h0M246 177h0M246 177h0M247 179h0M237 167h0M237 168h0M246 177h0M236 166h0M255 193h0M253 184h0M243 173h0" stroke="#204465" stroke-width="3.40" stroke-linecap="square" fill="none"/>
<path transform="scale(.5)" d="M238 169h0M235 162h0M234 164h0M223 151h0M230 158h0" stroke="#265176" stroke-width="3.40" stroke-linecap="square" fill="none"/>
<path transform="scale(.5)" d="M245 176h0M253 182h0M254 182h0M260 189h0M255 193h0M245 177h0M256 194h0" stroke="#1d405f" stroke-width="3.40" stroke-linecap="square" fill="none"/>
<path transform="scale(.5)" d="M274 203h0M260 202h0M272 206h0M263 202h0M277 215h0M277 203h0M277 217h0M259 211h0M268 215h0M260 203h0M271 212h0M270 215h0M266 203h0M264 196h0M273 216h0M265 220h0M269 197h0M261 210h0M260 195h0M262 204h0" stroke="#152f49" stroke-width="3.40" stroke-linecap="square" fill="none"/>
<path transform="scale(.5)" d="M224 152h0M241 171h0M233 160h0M233 160h0M231 159h0M245 176h0M230 157h0M233 160h0" stroke="#244c70" stroke-width="3.40" stroke-linecap="square" fill="none"/>
<path transform="scale(.5)" d="M231 160h0" stroke="#28557b" stroke-width="3.40" stroke-linecap="square" fill="none"/>
<polyline points="109.5,73.5 116.1,64.1 122.1,55.6 126.9,49.6" fill="none" stroke="#111" stroke-width="0.45"/>
<polyline points="109.5,73.5 116.1,80.3 122.7,87.9 128.1,94.8" fill="none" stroke="#111" stroke-width="0.45"/>
<circle cx="76.63" cy="65.62" r="1.40" fill="#222" stroke="#000" stroke-width="0.4"/>
<circle cx="97.56" cy="71.75" r="1.40" fill="#222" stroke="#000" stroke-width="0.4"/>
<circle cx="109.52" cy="73.46" r="1.40" fill="#222" stroke="#000" stroke-width="0.4"/>
<line x1="24.3" y1="12.0" x2="24.3" y2="114.9" stroke="#8c8c8c" stroke-width="0.6"/>
<line x1="24.3" y1="114.9" x2="144.8" y2="114.9" stroke="#8c8c8c" stroke-width="0.6"/>
<line x1="25.3" y1="114.9" x2="25.3" y2="116.4" stroke="#8c8c8c" stroke-width="0.5"/>
<text x="25.3" y="123.2" font-size="5.4" text-anchor="middle" font-weight="normal" fill="#4d4d4d">−10</text>
<line x1="55.1" y1="114.9" x2="55.1" y2="116.4" stroke="#8c8c8c" stroke-width="0.5"/>
<text x="55.1" y="123.2" font-size="5.4" text-anchor="middle" font-weight="normal" fill="#4d4d4d">−5</text>
<line x1="85.0" y1="114.9" x2="85.0" y2="116.4" stroke="#8c8c8c" stroke-width="0.5"/>
<text x="85.0" y="123.2" font-size="5.4" text-anchor="middle" font-weight="normal" fill="#4d4d4d">0</text>
<line x1="114.9" y1="114.9" x2="114.9" y2="116.4" stroke="#8c8c8c" stroke-width="0.5"/>
<text x="114.9" y="123.2" font-size="5.4" text-anchor="middle" font-weight="normal" fill="#4d4d4d">5</text>
<line x1="144.8" y1="114.9" x2="144.8" y2="116.4" stroke="#8c8c8c" stroke-width="0.5"/>
<text x="144.8" y="123.2" font-size="5.4" text-anchor="middle" font-weight="normal" fill="#4d4d4d">10</text>
<line x1="22.8" y1="28.3" x2="24.3" y2="28.3" stroke="#8c8c8c" stroke-width="0.5"/>
<text x="21.8" y="30.3" font-size="5.4" text-anchor="end" font-weight="normal" fill="#4d4d4d">5.0</text>
<line x1="22.8" y1="49.6" x2="24.3" y2="49.6" stroke="#8c8c8c" stroke-width="0.5"/>
<text x="21.8" y="51.6" font-size="5.4" text-anchor="end" font-weight="normal" fill="#4d4d4d">2.5</text>
<line x1="22.8" y1="70.9" x2="24.3" y2="70.9" stroke="#8c8c8c" stroke-width="0.5"/>
<text x="21.8" y="72.9" font-size="5.4" text-anchor="end" font-weight="normal" fill="#4d4d4d">0.0</text>
<line x1="22.8" y1="92.2" x2="24.3" y2="92.2" stroke="#8c8c8c" stroke-width="0.5"/>
<text x="21.8" y="94.2" font-size="5.4" text-anchor="end" font-weight="normal" fill="#4d4d4d">−2.5</text>
<line x1="22.8" y1="113.5" x2="24.3" y2="113.5" stroke="#8c8c8c" stroke-width="0.5"/>
<text x="21.8" y="115.5" font-size="5.4" text-anchor="end" font-weight="normal" fill="#4d4d4d">−5.0</text>
<text x="84.7" y="133.0" font-size="5.5" text-anchor="middle" font-weight="bold" fill="#000">Component 1</text>
<text x="5.5" y="66.0" font-size="5.5" text-anchor="middle" font-weight="bold" fill="#000" transform="rotate(-90 5.5 66.0)">Component 2</text>
<text x="153.5" y="34.0" font-size="5.5" text-anchor="start" font-weight="bold" fill="#000">Pseudotime</text>
<defs><linearGradient id="gpt" x1="0" y1="1" x2="0" y2="0"><stop offset="0" stop-color="#132B43"/><stop offset="1" stop-color="#56B1F7"/></linearGradient><linearGradient id="gvsir" x1="0" y1="1" x2="0" y2="0"><stop offset="0" stop-color="#a7d8e4"/><stop offset="0.5" stop-color="#7f8fc4"/><stop offset="1" stop-color="#2c2c6e"/></linearGradient></defs>
<rect x="153.00" y="37.00" width="7.00" height="46.50" fill="url(#gpt)" stroke="none" stroke-width="0.5"/>
<line x1="153.0" y1="38.5" x2="154.5" y2="38.5" stroke="#fff" stroke-width="0.5"/>
<line x1="158.5" y1="38.5" x2="160.0" y2="38.5" stroke="#fff" stroke-width="0.5"/>
<text x="162.0" y="40.5" font-size="5.4" text-anchor="start" font-weight="normal" fill="#4d4d4d">20</text>
<line x1="153.0" y1="49.5" x2="154.5" y2="49.5" stroke="#fff" stroke-width="0.5"/>
<line x1="158.5" y1="49.5" x2="160.0" y2="49.5" stroke="#fff" stroke-width="0.5"/>
<text x="162.0" y="51.5" font-size="5.4" text-anchor="start" font-weight="normal" fill="#4d4d4d">15</text>
<line x1="153.0" y1="60.5" x2="154.5" y2="60.5" stroke="#fff" stroke-width="0.5"/>
<line x1="158.5" y1="60.5" x2="160.0" y2="60.5" stroke="#fff" stroke-width="0.5"/>
<text x="162.0" y="62.5" font-size="5.4" text-anchor="start" font-weight="normal" fill="#4d4d4d">10</text>
<line x1="153.0" y1="71.5" x2="154.5" y2="71.5" stroke="#fff" stroke-width="0.5"/>
<line x1="158.5" y1="71.5" x2="160.0" y2="71.5" stroke="#fff" stroke-width="0.5"/>
<text x="162.0" y="73.5" font-size="5.4" text-anchor="start" font-weight="normal" fill="#4d4d4d">5</text>
<line x1="153.0" y1="82.5" x2="154.5" y2="82.5" stroke="#fff" stroke-width="0.5"/>
<line x1="158.5" y1="82.5" x2="160.0" y2="82.5" stroke="#fff" stroke-width="0.5"/>
<text x="162.0" y="84.5" font-size="5.4" text-anchor="start" font-weight="normal" fill="#4d4d4d">0</text>
<text x="0.0" y="150.0" font-size="13" text-anchor="start" font-weight="bold" fill="#000">b</text>
<path transform="scale(.5)" d="M141 341h0M132 361h0M152 419h0M148 403h0M128 347h0M140 327h0M157 425h0M138 385h0M151 415h0M142 400h0M138 332h0M139 369h0M143 390h0M134 358h0M125 352h0M139 349h0M133 352h0M126 368h0M130 344h0M134 381h0M140 392h0M158 429h0M162 433h0M155 424h0M129 369h0M148 407h0M135 328h0M137 370h0M138 334h0M126 358h0M134 341h0M141 342h0M140 336h0M136 378h0M133 360h0M136 383h0M150 419h0M135 379h0M137 375h0M151 411h0M160 434h0M155 427h0M137 374h0M151 419h0M132 359h0M131 355h0M133 364h0M137 369h0M135 380h0M133 325h0M133 382h0M131 354h0M140 402h0M139 335h0M140 374h0M141 388h0M132 353h0M127 364h0M133 334h0M134 376h0M158 428h0M137 395h0M159 429h0M150 409h0M138 339h0M151 409h0M126 360h0M137 387h0M160 426h0M139 396h0M129 357h0M129 339h0M133 358h0M133 359h0M137 380h0M130 345h0M140 377h0M153 418h0M139 385h0M126 353h0M141 378h0M126 355h0M135 381h0M134 357h0M132 340h0M132 348h0M143 396h0M142 395h0M139 349h0M136 369h0M142 379h0M142 351h0M131 371h0M135 373h0M137 367h0M141 393h0M136 354h0M133 377h0M145 408h0M151 413h0M140 400h0M158 430h0M133 370h0M135 364h0M130 329h0M142 381h0M131 357h0M125 349h0M126 355h0M138 392h0M138 371h0M133 363h0M146 397h0M159 429h0M143 399h0M139 384h0M140 363h0M149 414h0M135 348h0M147 413h0M141 401h0M133 342h0M144 397h0M145 402h0M137 356h0M126 338h0M141 333h0M140 399h0M131 345h0M142 399h0M148 404h0M130 358h0M127 358h0M147 412h0M161 427h0M135 345h0M133 335h0M137 325h0M155 422h0M135 377h0M148 412h0M137 348h0M141 392h0M131 368h0M142 333h0M133 361h0M163 433h0M140 339h0M138 367h0M142 401h0M136 358h0M157 426h0M136 368h0M138 326h0M145 395h0M136 369h0M130 364h0M132 333h0M133 331h0M135 339h0M141 337h0M141 397h0M153 419h0M132 330h0M126 356h0M138 358h0M143 388h0M143 397h0M137 337h0M137 394h0M140 329h0M137 363h0M156 424h0M144 393h0M130 335h0M143 391h0M158 430h0M134 346h0M143 392h0M144 394h0M135 338h0M160 431h0M132 336h0M140 370h0M134 350h0M141 356h0M136 353h0M142 388h0M154 418h0M134 382h0M131 377h0M133 358h0M134 343h0M130 377h0M135 358h0M147 413h0M147 410h0M134 370h0M131 332h0M140 328h0M131 348h0M134 357h0M137 380h0M139 383h0M151 449h0M76 502h0M92 497h0M91 497h0M107 481h0M90 492h0M105 493h0M128 473h0M131 461h0M74 511h0M126 471h0M140 463h0M149 453h0M145 459h0M109 491h0M124 475h0M76 516h0M104 495h0M119 474h0M126 478h0M114 482h0M145 458h0M83 496h0M103 478h0M95 505h0M82 491h0M133 464h0M93 493h0M132 463h0M138 456h0M86 500h0M99 494h0M126 469h0M100 488h0M128 476h0M92 495h0M84 490h0M74 495h0M90 501h0M157 444h0M117 478h0M139 458h0M140 454h0M90 501h0M72 496h0M146 448h0M141 452h0M157 440h0M131 467h0M138 456h0M80 506h0M121 479h0M138 456h0M86 512h0M155 444h0M90 500h0M149 444h0M86 495h0M162 438h0M109 485h0M150 449h0M91 506h0M114 489h0M145 457h0M104 479h0M115 479h0M151 452h0M154 446h0M154 447h0M113 486h0M111 492h0M143 458h0M116 474h0M144 454h0M79 498h0M109 484h0M132 473h0M149 451h0M105 494h0M117 474h0M107 490h0M121 477h0M102 483h0M89 500h0M142 458h0M156 442h0M146 454h0M136 468h0M83 492h0M71 519h0M127 471h0M137 459h0M127 464h0M152 441h0M86 513h0M75 508h0M101 484h0M152 440h0M122 466h0M80 503h0M101 485h0M98 495h0M152 446h0M120 473h0M115 478h0M135 465h0M74 500h0M140 460h0M158 441h0M98 497h0M129 464h0M120 469h0M150 446h0M121 473h0M106 488h0M98 499h0M100 487h0M76 504h0M105 488h0M94 489h0M99 486h0M69 509h0M92 498h0M99 487h0M85 493h0M152 441h0M76 514h0M109 485h0M112 487h0M92 499h0M69 502h0M98 493h0M134 462h0M133 459h0M84 507h0M103 487h0M143 457h0M154 443h0M96 497h0M105 481h0M146 445h0M119 481h0M101 497h0M157 438h0M109 481h0M88 502h0M127 471h0M148 449h0M137 463h0M75 498h0M86 485h0M91 501h0M151 442h0M84 511h0M109 493h0M142 454h0M148 455h0M109 486h0M109 482h0M113 481h0M103 486h0M108 489h0M114 475h0M148 457h0M109 488h0M75 518h0M94 506h0M104 482h0M81 517h0M116 473h0M118 482h0M111 483h0M125 467h0M79 503h0M160 435h0M139 463h0M86 504h0M139 452h0M121 483h0M88 493h0M89 504h0M87 493h0M121 474h0M94 497h0M96 489h0M75 514h0M99 491h0M111 479h0M86 503h0M143 458h0M104 479h0M128 478h0M140 460h0M95 494h0M89 505h0M86 512h0M115 479h0M154 448h0M127 467h0M125 465h0M133 462h0M159 439h0M93 504h0M107 485h0M171 435h0M168 424h0M183 431h0M212 440h0M185 430h0M163 429h0M189 435h0M202 443h0M220 448h0M178 425h0M171 435h0M192 439h0M169 436h0M169 429h0M213 441h0M227 448h0M165 432h0M196 444h0M159 431h0M205 444h0M198 440h0M181 427h0M195 432h0M163 434h0M199 440h0M180 429h0M204 439h0M203 438h0M189 433h0M163 428h0M218 445h0M173 428h0M214 446h0M199 439h0M163 431h0M189 436h0M203 435h0M218 445h0M223 450h0M196 441h0M206 442h0M162 432h0M158 431h0M160 431h0M188 440h0M173 427h0M221 449h0M186 432h0M191 435h0M232 451h0M225 449h0M184 431h0M177 430h0M171 437h0M169 431h0M216 449h0M209 446h0M173 424h0M180 428h0M203 446h0M201 435h0M214 447h0M193 441h0M213 450h0M179 432h0M223 446h0M168 431h0M167 429h0M167 435h0M206 438h0M185 431h0M207 439h0M191 438h0M183 426h0M182 435h0M172 422h0M171 433h0M229 453h0M168 432h0M220 452h0M169 430h0M184 431h0M164 431h0M183 425h0M204 444h0M180 423h0M223 450h0M173 433h0M179 431h0M174 422h0M210 440h0M205 443h0M198 437h0M183 437h0M171 436h0M218 445h0M190 436h0M222 451h0M188 427h0M224 451h0M217 449h0M218 451h0M173 429h0M215 443h0M219 449h0M184 440h0M218 442h0M168 428h0M217 445h0M196 439h0M172 430h0M183 437h0M174 426h0M186 439h0M186 440h0M172 431h0M208 442h0M198 434h0M175 434h0M230 450h0M194 438h0M178 423h0M214 447h0M207 442h0M181 435h0M192 436h0M227 450h0M200 442h0M214 440h0M168 428h0M187 440h0M183 435h0M230 451h0M188 441h0M206 441h0M186 433h0M202 442h0M227 449h0M217 449h0M223 453h0M199 440h0M183 432h0M182 435h0M204 440h0M185 427h0M217 451h0M225 450h0M209 443h0M188 434h0M207 476h0M202 463h0M202 473h0M206 466h0M205 464h0M202 473h0M206 461h0M204 478h0M203 466h0M203 475h0M206 459h0M204 476h0M206 456h0M203 473h0M205 457h0M202 465h0M207 471h0M203 471h0M204 473h0M206 451h0M208 467h0M200 477h0M207 463h0M205 475h0M206 473h0M205 472h0M206 470h0M206 472h0M202 471h0M203 480h0M207 451h0M205 452h0M205 458h0M204 463h0M270 391h0M281 371h0M277 362h0M285 384h0M288 358h0M274 375h0M249 426h0M274 368h0M289 376h0M285 359h0M242 436h0M276 362h0M285 376h0M266 390h0M255 412h0M270 385h0M247 427h0M271 379h0M258 409h0M277 361h0M279 388h0M278 387h0M285 368h0M280 360h0M276 391h0M294 365h0M289 385h0M267 406h0M280 396h0M271 392h0M262 406h0M281 362h0M268 397h0M284 363h0M288 380h0M284 360h0M263 406h0M235 447h0M285 366h0M274 400h0M279 372h0M268 394h0M284 381h0M270 390h0M285 386h0M273 373h0M246 429h0M247 427h0M277 399h0M282 395h0M270 398h0M290 374h0M283 369h0M268 387h0M281 375h0M286 372h0M270 392h0M283 363h0M275 367h0M255 412h0M237 444h0M281 370h0M285 372h0M279 377h0M274 370h0M255 414h0M277 389h0M275 373h0M287 355h0M238 442h0M254 417h0M282 373h0M265 400h0M269 390h0M279 358h0M264 396h0M279 381h0M269 404h0M277 392h0M275 383h0M233 451h0M252 421h0M275 395h0M266 402h0M290 365h0M260 407h0M269 395h0M289 361h0M293 375h0M291 383h0M285 396h0M261 402h0M278 352h0M289 369h0M265 402h0M273 373h0M276 395h0M239 440h0M279 359h0M279 381h0M245 433h0M249 425h0M266 397h0M281 378h0M267 397h0M285 387h0M276 355h0M282 389h0M276 381h0M248 427h0M250 426h0M277 399h0M292 375h0M285 378h0M291 367h0M263 404h0M285 395h0M263 405h0M278 381h0M239 440h0M276 361h0M248 425h0M277 362h0M251 420h0M239 439h0M287 364h0M256 416h0M283 359h0M272 392h0M279 380h0M275 381h0M288 517h0M280 507h0M285 524h0M280 514h0M267 491h0M243 466h0M284 538h0M281 522h0M263 494h0M252 478h0M276 509h0M290 517h0M276 501h0M244 465h0M250 472h0M285 519h0M275 510h0M284 519h0M264 487h0M272 499h0M276 501h0M283 520h0M271 514h0M243 466h0M273 527h0M275 508h0M272 510h0M273 508h0M281 516h0M266 492h0M261 485h0M252 474h0M271 502h0M285 516h0M260 487h0M271 510h0M281 517h0M278 526h0M280 521h0M259 486h0M257 483h0M265 491h0M269 506h0M290 518h0M269 499h0M274 510h0M277 518h0M278 534h0M267 493h0M274 499h0M261 489h0M271 507h0M289 518h0M265 497h0M271 516h0M238 459h0M262 491h0M248 473h0M256 482h0M285 511h0M286 517h0M271 502h0M257 481h0M260 487h0M265 496h0M245 466h0M289 522h0M288 513h0M245 469h0M280 502h0M246 467h0M261 487h0M287 517h0M281 513h0M289 508h0M267 501h0M274 501h0M287 522h0M248 472h0M270 495h0M272 515h0M279 519h0M250 474h0M263 492h0M276 530h0M272 506h0M250 473h0M279 516h0M269 495h0M276 513h0M289 522h0M289 509h0M273 508h0M281 521h0M279 520h0M260 484h0M279 510h0M280 515h0M284 511h0M276 519h0M282 541h0M284 523h0M287 518h0M285 510h0M276 502h0M235 456h0M266 494h0M276 502h0M281 527h0M274 512h0M256 483h0M273 512h0M276 499h0M287 533h0M278 513h0M280 523h0M290 523h0M274 509h0M258 486h0M276 527h0M261 490h0M283 504h0" stroke="#98cadb" stroke-width="3.40" stroke-linecap="square" fill="none"/>
<path transform="scale(.5)" d="M140 392h0M149 412h0M127 349h0M146 402h0M138 336h0M140 355h0M129 339h0M107 481h0M152 448h0M68 501h0M120 472h0M163 434h0M89 496h0M89 496h0M229 453h0M198 443h0M208 444h0M195 432h0M205 471h0M289 519h0M284 518h0M281 522h0M283 522h0M259 486h0M261 487h0" stroke="#87b1d3" stroke-width="3.40" stroke-linecap="square" fill="none"/>
<path transform="scale(.5)" d="M131 352h0M132 346h0M143 401h0M133 342h0M138 454h0M126 475h0M82 489h0M169 427h0M274 402h0M277 365h0M275 385h0M252 479h0M272 523h0M279 521h0M278 532h0" stroke="#83a8cf" stroke-width="3.40" stroke-linecap="square" fill="none"/>
<path transform="scale(.5)" d="M152 418h0M82 516h0M130 471h0M160 440h0M157 437h0M95 496h0M145 451h0M129 459h0M82 510h0M132 461h0M94 502h0M197 435h0M206 446h0M173 434h0M184 438h0M272 397h0M274 375h0M285 518h0M287 522h0M277 522h0M283 535h0" stroke="#7f9eca" stroke-width="3.40" stroke-linecap="square" fill="none"/>
<path transform="scale(.5)" d="M146 406h0M117 473h0M85 500h0M135 466h0M209 443h0M161 428h0M202 436h0M177 437h0M215 447h0M204 481h0M268 392h0M283 394h0M271 498h0" stroke="#8ab6d4" stroke-width="3.40" stroke-linecap="square" fill="none"/>
<path transform="scale(.5)" d="M70 496h0M88 506h0M292 515h0M286 520h0" stroke="#7688c0" stroke-width="3.40" stroke-linecap="square" fill="none"/>
<path transform="scale(.5)" d="M132 468h0M75 498h0M120 472h0M83 506h0M170 433h0M259 410h0M276 513h0" stroke="#7a93c5" stroke-width="3.40" stroke-linecap="square" fill="none"/>
<path transform="scale(.5)" d="M72 517h0" stroke="#6c73b5" stroke-width="3.40" stroke-linecap="square" fill="none"/>
<path transform="scale(.5)" d="M211 445h0M178 436h0M199 435h0M202 471h0M269 382h0" stroke="#8ebbd6" stroke-width="3.40" stroke-linecap="square" fill="none"/>
<path transform="scale(.5)" d="M155 425h0M155 416h0M137 386h0M147 407h0M161 434h0M132 350h0M155 427h0M154 414h0M130 344h0M134 338h0M146 411h0M135 346h0M154 423h0M124 357h0M136 368h0M150 410h0M138 355h0M133 341h0M135 364h0M135 350h0M137 393h0M134 369h0M140 391h0M129 356h0M129 344h0M135 352h0M137 386h0M156 422h0M131 326h0M143 404h0M133 374h0M135 331h0M142 381h0M131 326h0M136 359h0M142 400h0M127 335h0M127 335h0M137 338h0M132 322h0M137 379h0M129 356h0M134 381h0M135 379h0M124 352h0M128 353h0M132 326h0M159 429h0M130 334h0M137 380h0M130 368h0M129 367h0M133 353h0M152 417h0M132 376h0M128 349h0M135 370h0M160 429h0M151 413h0M127 358h0M128 351h0M140 380h0M156 428h0M141 400h0M128 351h0M147 401h0M140 350h0M130 328h0M127 363h0M129 344h0M134 348h0M140 391h0M158 432h0M151 414h0M135 388h0M137 359h0M147 405h0M159 429h0M140 329h0M145 406h0M138 384h0M144 407h0M129 332h0M157 420h0M156 425h0M133 335h0M129 348h0M129 369h0M131 377h0M137 378h0M128 372h0M134 382h0M132 372h0M135 363h0M141 386h0M151 414h0M145 403h0M134 377h0M129 358h0M126 352h0M151 418h0M149 411h0M138 326h0M135 366h0M137 366h0M155 415h0M131 356h0M151 417h0M135 327h0M130 344h0M131 358h0M141 400h0M134 343h0M155 419h0M145 400h0M155 415h0M135 337h0M144 407h0M160 432h0M156 421h0M135 331h0M149 405h0M134 352h0M132 371h0M129 333h0M129 330h0M130 327h0M143 393h0M145 405h0M137 346h0M129 357h0M133 381h0M129 366h0M130 367h0M136 329h0M140 399h0M131 333h0M155 420h0M144 406h0M142 400h0M159 428h0M130 372h0M160 430h0M133 327h0M133 322h0M135 327h0M142 402h0M134 368h0M147 402h0M135 340h0M135 378h0M135 376h0M139 390h0M126 359h0M135 344h0M127 345h0M140 368h0M142 402h0M145 409h0M139 395h0M129 347h0M135 369h0M136 386h0M130 336h0M127 353h0M137 385h0M136 386h0M141 324h0M139 351h0M135 334h0M147 400h0M135 382h0M144 400h0M147 411h0M126 342h0M135 328h0M142 341h0M139 374h0M137 393h0M133 380h0M136 333h0M129 342h0M135 372h0M136 343h0M138 364h0M133 328h0M136 383h0M133 343h0M124 355h0M135 381h0M134 374h0M132 359h0M137 385h0M69 501h0M159 439h0M120 483h0M130 464h0M149 449h0M148 447h0M94 496h0M85 491h0M132 465h0M77 497h0M115 487h0M140 456h0M112 476h0M88 498h0M120 476h0M132 458h0M119 477h0M84 513h0M115 485h0M103 486h0M97 491h0M117 480h0M93 507h0M85 497h0M98 491h0M126 467h0M97 481h0M68 500h0M111 480h0M143 455h0M75 517h0M117 485h0M93 486h0M77 494h0M106 488h0M125 474h0M116 484h0M119 472h0M86 492h0M91 491h0M97 502h0M99 500h0M125 470h0M96 498h0M148 444h0M151 446h0M100 484h0M117 478h0M129 461h0M105 488h0M114 476h0M150 448h0M140 452h0M94 494h0M104 497h0M120 484h0M89 499h0M100 485h0M70 501h0M109 486h0M141 458h0M103 479h0M83 503h0M159 437h0M112 484h0M88 501h0M84 496h0M78 502h0M158 436h0M146 447h0M119 471h0M137 462h0M81 500h0M144 452h0M99 491h0M137 456h0M94 495h0M122 471h0M84 498h0M128 464h0M123 477h0M139 456h0M81 512h0M126 467h0M150 444h0M107 487h0M104 481h0M103 484h0M122 472h0M107 491h0M108 490h0M133 459h0M81 511h0M91 494h0M87 491h0M152 445h0M70 502h0M112 476h0M161 438h0M110 475h0M157 439h0M117 477h0M152 446h0M72 494h0M84 498h0M122 467h0M132 464h0M88 500h0M150 450h0M84 501h0M137 462h0M137 462h0M141 459h0M140 452h0M121 469h0M162 437h0M97 492h0M115 474h0M161 436h0M80 506h0M153 443h0M77 509h0M140 458h0M114 480h0M92 493h0M76 496h0M107 485h0M145 450h0M126 467h0M108 485h0M102 492h0M81 505h0M79 501h0M83 501h0M133 458h0M115 485h0M86 502h0M156 438h0M120 482h0M87 496h0M83 508h0M121 471h0M98 493h0M129 463h0M107 483h0M151 446h0M77 502h0M77 494h0M130 462h0M117 484h0M119 482h0M95 497h0M79 498h0M93 501h0M89 493h0M131 474h0M125 467h0M147 451h0M159 439h0M111 474h0M81 491h0M103 493h0M137 458h0M137 463h0M111 481h0M112 488h0M156 445h0M116 481h0M107 479h0M126 465h0M129 474h0M103 495h0M98 485h0M86 504h0M104 483h0M96 492h0M151 451h0M110 476h0M105 482h0M161 435h0M74 504h0M85 488h0M75 513h0M153 444h0M81 506h0M89 499h0M125 469h0M117 470h0M111 482h0M143 460h0M110 490h0M99 487h0M110 478h0M106 477h0M86 502h0M105 495h0M142 455h0M127 476h0M114 484h0M152 445h0M100 491h0M102 485h0M132 467h0M86 493h0M84 509h0M81 495h0M133 464h0M156 443h0M121 478h0M192 433h0M198 432h0M158 429h0M196 441h0M181 431h0M211 445h0M216 446h0M224 446h0M197 443h0M203 447h0M196 435h0M213 442h0M163 427h0M214 448h0M202 439h0M185 432h0M177 426h0M165 427h0M184 428h0M167 426h0M202 438h0M205 443h0M175 433h0M170 432h0M189 435h0M228 451h0M166 429h0M215 451h0M192 438h0M165 431h0M187 427h0M193 438h0M204 436h0M178 429h0M191 434h0M178 432h0M224 450h0M198 438h0M168 425h0M186 433h0M198 434h0M173 434h0M209 449h0M226 449h0M205 441h0M199 440h0M195 445h0M181 436h0M228 450h0M229 454h0M170 435h0M173 428h0M185 432h0M227 449h0M211 443h0M168 427h0M183 436h0M169 430h0M200 438h0M226 448h0M177 433h0M196 440h0M195 437h0M180 431h0M192 435h0M179 428h0M183 433h0M202 441h0M225 451h0M193 429h0M192 442h0M182 438h0M205 438h0M196 439h0M199 443h0M213 442h0M210 444h0M183 431h0M203 441h0M196 437h0M217 445h0M168 424h0M206 445h0M167 431h0M185 429h0M209 440h0M186 428h0M220 448h0M190 429h0M182 425h0M216 448h0M200 434h0M182 436h0M223 450h0M212 447h0M213 449h0M229 451h0M178 430h0M221 452h0M174 421h0M179 425h0M224 450h0M186 438h0M175 423h0M193 429h0M217 444h0M200 439h0M178 425h0M195 437h0M191 437h0M230 449h0M190 432h0M201 435h0M163 433h0M208 444h0M193 442h0M213 445h0M204 442h0M221 449h0M207 442h0M223 447h0M200 439h0M183 436h0M210 438h0M174 423h0M202 442h0M220 449h0M211 441h0M231 449h0M168 432h0M167 434h0M193 440h0M195 432h0M216 449h0M195 435h0M202 441h0M166 429h0M223 452h0M189 439h0M217 450h0M183 430h0M202 443h0M180 433h0M175 427h0M207 439h0M182 427h0M169 425h0M213 446h0M204 468h0M202 473h0M205 469h0M208 454h0M205 469h0M205 473h0M203 475h0M205 469h0M207 463h0M201 471h0M204 466h0M206 451h0M207 474h0M208 463h0M203 473h0M207 466h0M205 471h0M207 467h0M205 453h0M205 459h0M201 476h0M206 465h0M203 471h0M203 460h0M207 456h0M202 466h0M206 461h0M207 457h0M201 474h0M277 364h0M265 400h0M279 378h0M285 357h0M262 408h0M292 370h0M281 359h0M273 378h0M260 406h0M264 406h0M280 388h0M278 371h0M259 413h0M284 364h0M277 391h0M265 400h0M281 384h0M284 369h0M265 406h0M250 425h0M289 380h0M277 357h0M254 419h0M274 377h0M274 369h0M279 381h0M247 427h0M235 446h0M286 374h0M261 404h0M290 362h0M285 359h0M267 393h0M286 376h0M275 385h0M277 387h0M281 372h0M267 399h0M274 392h0M287 361h0M273 388h0M254 418h0M288 370h0M266 388h0M238 441h0M266 395h0M252 422h0M282 396h0M281 361h0M249 424h0M285 380h0M264 397h0M250 422h0M283 389h0M273 379h0M266 400h0M275 381h0M266 392h0M275 394h0M285 390h0M277 352h0M269 396h0M265 403h0M286 363h0M283 390h0M255 415h0M290 383h0M260 408h0M279 368h0M284 360h0M278 390h0M264 397h0M281 381h0M285 368h0M281 395h0M272 398h0M284 370h0M266 392h0M267 390h0M277 365h0M272 386h0M282 369h0M274 394h0M258 412h0M289 384h0M248 428h0M289 356h0M248 427h0M242 437h0M286 385h0M268 398h0M271 398h0M263 401h0M259 405h0M236 444h0M258 414h0M283 363h0M272 387h0M291 382h0M268 387h0M276 377h0M245 432h0M277 379h0M290 360h0M251 424h0M281 384h0M257 413h0M283 358h0M288 361h0M280 393h0M275 390h0M278 356h0M283 356h0M268 391h0M266 398h0M269 397h0M279 383h0M257 411h0M239 439h0M270 397h0M258 485h0M259 485h0M285 533h0M282 520h0M238 461h0M268 497h0M276 504h0M273 512h0M249 473h0M285 507h0M267 500h0M277 499h0M284 520h0M275 504h0M263 492h0M287 523h0M245 467h0M272 508h0M263 489h0M275 500h0M277 516h0M280 504h0M276 509h0M278 501h0M290 514h0M284 522h0M275 532h0M254 481h0M257 483h0M263 493h0M239 460h0M289 539h0M261 488h0M281 519h0M255 480h0M246 467h0M285 512h0M273 510h0M265 492h0M277 521h0M279 538h0M246 467h0M278 522h0M274 514h0M262 488h0M276 522h0M275 534h0M275 510h0M276 509h0M282 514h0M291 514h0M274 498h0M274 500h0M282 506h0M271 512h0M276 500h0M277 502h0M260 489h0M283 510h0M290 519h0M274 515h0M267 491h0M282 538h0M292 529h0M268 501h0M290 529h0M282 522h0M281 532h0M260 490h0M237 459h0M288 515h0M280 515h0M280 518h0M275 508h0M256 483h0M278 505h0M250 472h0M276 529h0M267 500h0M272 512h0M282 532h0M275 517h0M253 478h0M233 454h0M263 492h0M282 513h0M277 530h0M283 520h0M278 509h0M274 515h0M283 506h0M276 516h0M283 535h0M286 518h0M248 470h0M288 521h0M255 480h0M266 491h0M278 507h0M269 496h0M244 464h0M278 512h0M241 465h0M254 476h0M258 485h0M262 489h0M283 506h0M277 518h0M257 481h0M261 485h0M270 500h0M277 508h0M236 457h0M279 538h0M281 526h0M277 531h0M246 469h0M272 508h0M234 456h0M283 515h0M293 524h0M284 524h0M283 529h0M276 526h0" stroke="#98cadb" stroke-width="3.40" stroke-linecap="square" fill="none"/>
<path transform="scale(.5)" d="M131 374h0M141 339h0M139 394h0M142 379h0M150 405h0M143 397h0M141 384h0M135 382h0M71 505h0M71 511h0M97 498h0M118 480h0M81 504h0M163 437h0M158 442h0M171 433h0M186 442h0M216 450h0M211 444h0M206 457h0M279 373h0M261 402h0M272 380h0M274 508h0M281 524h0M289 517h0M285 519h0M288 529h0" stroke="#87b1d3" stroke-width="3.40" stroke-linecap="square" fill="none"/>
<path transform="scale(.5)" d="M139 377h0M137 362h0M133 326h0M141 398h0M134 370h0M136 328h0M72 509h0M72 499h0M172 431h0M165 424h0M205 461h0M284 389h0M273 395h0M274 391h0M271 495h0M276 506h0M290 529h0M284 524h0" stroke="#7a93c5" stroke-width="3.40" stroke-linecap="square" fill="none"/>
<path transform="scale(.5)" d="M125 364h0M156 437h0M94 487h0M169 435h0M224 451h0M205 467h0M204 462h0M281 508h0" stroke="#8ebbd6" stroke-width="3.40" stroke-linecap="square" fill="none"/>
<path transform="scale(.5)" d="M140 344h0M141 400h0M131 365h0M136 380h0M140 364h0M132 463h0M144 459h0M124 477h0M107 492h0M203 435h0M204 463h0M203 468h0M204 459h0M284 384h0M265 400h0M283 379h0M290 365h0M287 355h0M253 419h0M276 368h0" stroke="#8ab6d4" stroke-width="3.40" stroke-linecap="square" fill="none"/>
<path transform="scale(.5)" d="M157 422h0M148 405h0M138 392h0M158 437h0M144 455h0M133 463h0M111 489h0M207 441h0M199 434h0M168 434h0M168 435h0M175 432h0M244 433h0M277 381h0M268 395h0M278 508h0M261 490h0M281 506h0M246 470h0M270 505h0" stroke="#7f9eca" stroke-width="3.40" stroke-linecap="square" fill="none"/>
<path transform="scale(.5)" d="M135 329h0M76 497h0M168 434h0M191 435h0M194 434h0M211 442h0M200 443h0M205 464h0M262 400h0M282 387h0M275 394h0M283 367h0M278 521h0" stroke="#83a8cf" stroke-width="3.40" stroke-linecap="square" fill="none"/>
<path transform="scale(.5)" d="M86 500h0" stroke="#727ebb" stroke-width="3.40" stroke-linecap="square" fill="none"/>
<path transform="scale(.5)" d="M80 512h0M69 511h0M86 505h0" stroke="#7688c0" stroke-width="3.40" stroke-linecap="square" fill="none"/>
<path transform="scale(.5)" d="M131 365h0M137 388h0M136 343h0M139 353h0M136 341h0M127 348h0M132 341h0M149 410h0M155 419h0M159 428h0M162 435h0M132 322h0M130 368h0M132 339h0M131 375h0M150 416h0M126 348h0M146 408h0M136 335h0M130 359h0M137 342h0M129 366h0M133 354h0M132 333h0M131 328h0M138 369h0M130 360h0M135 348h0M133 365h0M134 350h0M137 386h0M134 374h0M141 345h0M152 409h0M141 378h0M137 336h0M130 329h0M153 417h0M133 378h0M142 387h0M130 356h0M129 330h0M133 369h0M136 346h0M138 358h0M137 368h0M133 358h0M145 400h0M133 322h0M135 338h0M148 407h0M140 394h0M136 382h0M136 381h0M130 365h0M146 402h0M125 362h0M130 364h0M135 354h0M131 361h0M133 368h0M148 402h0M141 400h0M136 338h0M125 343h0M142 388h0M139 346h0M132 334h0M145 396h0M153 420h0M138 357h0M136 353h0M137 367h0M130 354h0M130 353h0M135 359h0M128 357h0M137 357h0M151 408h0M129 370h0M132 367h0M154 420h0M129 360h0M141 326h0M157 427h0M141 349h0M159 432h0M129 355h0M140 377h0M137 323h0M138 351h0M138 385h0M139 358h0M135 387h0M138 323h0M131 344h0M142 393h0M139 384h0M127 333h0M150 414h0M132 338h0M158 426h0M141 384h0M140 333h0M130 355h0M141 388h0M136 338h0M134 331h0M143 394h0M151 412h0M131 328h0M140 334h0M137 355h0M128 352h0M130 345h0M136 377h0M132 372h0M129 358h0M143 392h0M151 418h0M140 375h0M137 371h0M140 376h0M138 330h0M131 347h0M133 350h0M153 419h0M129 375h0M148 400h0M125 353h0M134 374h0M131 339h0M158 428h0M139 389h0M139 345h0M157 422h0M139 360h0M137 330h0M132 380h0M129 333h0M127 367h0M139 399h0M151 417h0M132 371h0M132 370h0M140 383h0M134 332h0M131 332h0M135 327h0M126 359h0M145 402h0M133 342h0M138 369h0M156 422h0M132 322h0M135 364h0M137 363h0M135 367h0M149 415h0M137 382h0M128 351h0M138 338h0M135 343h0M145 398h0M139 388h0M150 412h0M135 358h0M127 342h0M140 354h0M134 363h0M157 424h0M157 423h0M151 415h0M130 349h0M138 362h0M137 389h0M143 406h0M137 361h0M127 343h0M134 366h0M144 407h0M132 356h0M130 356h0M129 362h0M135 329h0M139 323h0M135 381h0M135 366h0M109 487h0M162 435h0M163 434h0M118 483h0M139 457h0M135 458h0M126 470h0M133 471h0M100 496h0M80 498h0M158 439h0M159 441h0M137 459h0M69 496h0M92 507h0M117 481h0M94 501h0M78 501h0M162 437h0M138 460h0M71 509h0M120 484h0M156 444h0M127 474h0M101 492h0M95 494h0M99 498h0M155 440h0M151 443h0M67 509h0M101 482h0M109 487h0M66 504h0M113 478h0M120 475h0M106 482h0M138 456h0M87 505h0M92 506h0M104 485h0M111 484h0M76 499h0M155 440h0M142 462h0M119 479h0M129 476h0M146 456h0M142 461h0M84 507h0M119 478h0M77 507h0M111 476h0M114 481h0M108 475h0M100 498h0M131 467h0M72 501h0M104 487h0M155 441h0M130 472h0M136 462h0M92 489h0M85 503h0M80 517h0M124 468h0M81 499h0M94 495h0M150 452h0M112 488h0M101 494h0M163 435h0M128 476h0M106 494h0M100 492h0M134 471h0M152 449h0M82 500h0M159 438h0M124 476h0M124 468h0M146 453h0M81 509h0M82 497h0M76 499h0M153 445h0M131 465h0M95 503h0M77 504h0M128 472h0M146 449h0M133 466h0M106 480h0M128 463h0M96 485h0M75 495h0M89 487h0M92 486h0M119 478h0M119 474h0M73 491h0M153 449h0M99 483h0M81 499h0M144 449h0M94 492h0M92 490h0M92 494h0M92 505h0M80 498h0M157 442h0M104 496h0M141 459h0M84 494h0M97 499h0M85 492h0M87 498h0M131 467h0M130 472h0M141 457h0M159 436h0M142 459h0M143 449h0M112 487h0M106 488h0M75 491h0M105 492h0M144 454h0M131 459h0M133 460h0M139 455h0M100 495h0M69 510h0M89 499h0M100 485h0M97 493h0M107 478h0M109 477h0M116 481h0M96 496h0M117 476h0M131 471h0M137 455h0M103 488h0M76 492h0M147 448h0M79 518h0M78 502h0M122 476h0M123 477h0M94 490h0M83 505h0M81 507h0M151 447h0M76 499h0M116 476h0M105 487h0M76 505h0M136 454h0M106 484h0M108 476h0M83 506h0M101 493h0M109 490h0M75 519h0M103 491h0M147 453h0M108 482h0M120 473h0M114 482h0M161 437h0M90 499h0M125 475h0M113 480h0M144 457h0M125 468h0M105 489h0M93 499h0M100 482h0M73 502h0M147 454h0M95 500h0M144 448h0M109 482h0M106 496h0M107 492h0M139 463h0M132 471h0M71 512h0M101 488h0M80 514h0M152 449h0M91 493h0M107 488h0M95 491h0M121 474h0M103 479h0M136 454h0M123 477h0M112 480h0M163 433h0M215 446h0M223 445h0M194 441h0M194 441h0M207 441h0M196 432h0M208 448h0M169 430h0M176 435h0M182 430h0M183 425h0M172 430h0M174 425h0M176 426h0M212 443h0M215 444h0M223 450h0M218 443h0M190 433h0M216 449h0M177 436h0M200 441h0M181 437h0M187 428h0M187 438h0M204 442h0M176 430h0M217 446h0M183 433h0M201 434h0M198 442h0M230 451h0M176 429h0M213 440h0M207 437h0M168 429h0M215 445h0M172 432h0M206 439h0M185 427h0M178 435h0M230 450h0M196 443h0M214 451h0M174 431h0M204 439h0M173 423h0M171 429h0M168 423h0M190 435h0M183 435h0M208 442h0M206 445h0M204 438h0M228 453h0M177 426h0M173 433h0M192 441h0M187 428h0M170 431h0M209 448h0M192 437h0M197 437h0M183 433h0M178 432h0M183 429h0M197 442h0M160 429h0M174 424h0M193 434h0M182 431h0M217 445h0M169 427h0M194 445h0M195 441h0M179 429h0M174 425h0M183 439h0M180 433h0M188 441h0M172 433h0M174 438h0M190 443h0M211 444h0M184 427h0M220 449h0M168 431h0M224 449h0M193 434h0M210 444h0M213 445h0M174 425h0M218 446h0M172 425h0M197 442h0M177 434h0M221 452h0M200 437h0M168 433h0M210 440h0M227 451h0M194 438h0M226 451h0M222 445h0M215 445h0M224 447h0M164 432h0M186 430h0M190 438h0M210 445h0M220 445h0M196 433h0M199 436h0M200 443h0M179 428h0M220 446h0M200 441h0M186 434h0M203 445h0M191 428h0M206 448h0M209 439h0M221 452h0M189 430h0M207 438h0M211 442h0M228 450h0M193 443h0M172 429h0M185 435h0M177 425h0M177 431h0M188 439h0M205 440h0M189 433h0M201 444h0M192 441h0M214 441h0M194 432h0M175 428h0M201 442h0M175 432h0M199 445h0M204 467h0M203 479h0M205 463h0M206 467h0M206 459h0M201 473h0M205 467h0M203 461h0M207 464h0M203 464h0M204 468h0M205 470h0M206 466h0M207 472h0M204 453h0M206 464h0M207 472h0M201 471h0M204 467h0M206 467h0M206 451h0M202 460h0M205 470h0M206 461h0M206 473h0M205 470h0M203 467h0M205 459h0M206 454h0M204 459h0M207 465h0M203 470h0M204 463h0M206 462h0M200 474h0M282 396h0M284 353h0M276 380h0M270 382h0M269 403h0M278 401h0M234 449h0M278 360h0M282 371h0M274 390h0M248 429h0M264 403h0M266 396h0M232 451h0M292 373h0M278 389h0M246 429h0M267 405h0M261 405h0M282 361h0M262 403h0M263 402h0M280 395h0M284 387h0M279 359h0M277 353h0M274 390h0M285 372h0M287 391h0M281 368h0M284 394h0M265 402h0M280 385h0M255 417h0M280 397h0M266 399h0M275 387h0M234 448h0M249 424h0M279 359h0M288 372h0M247 429h0M275 358h0M282 382h0M277 356h0M263 400h0M267 397h0M283 371h0M269 403h0M261 404h0M281 363h0M286 354h0M282 364h0M283 367h0M285 358h0M284 365h0M266 396h0M284 390h0M286 381h0M279 381h0M283 362h0M277 370h0M273 392h0M284 376h0M243 435h0M270 399h0M282 385h0M286 368h0M253 418h0M252 419h0M283 354h0M286 397h0M265 403h0M276 391h0M286 369h0M269 384h0M280 353h0M271 397h0M274 366h0M257 411h0M275 369h0M283 364h0M284 367h0M286 393h0M284 356h0M279 358h0M260 411h0M288 360h0M280 379h0M272 371h0M286 382h0M236 446h0M279 369h0M266 406h0M283 373h0M267 386h0M281 355h0M284 391h0M286 356h0M284 362h0M284 373h0M250 425h0M291 364h0M264 408h0M285 374h0M270 382h0M267 405h0M285 373h0M260 406h0M256 415h0M261 411h0M285 375h0M281 354h0M261 402h0M285 370h0M272 394h0M281 370h0M261 406h0M249 424h0M269 393h0M291 360h0M266 396h0M285 375h0M278 362h0M289 387h0M273 380h0M276 388h0M274 499h0M283 521h0M252 474h0M252 477h0M258 486h0M276 499h0M265 496h0M255 479h0M248 470h0M274 518h0M286 512h0M261 490h0M284 537h0M283 523h0M247 471h0M289 516h0M235 457h0M277 503h0M274 515h0M259 486h0M237 458h0M260 486h0M283 507h0M279 506h0M277 518h0M282 532h0M267 500h0M274 514h0M277 507h0M270 501h0M255 479h0M276 513h0M265 489h0M283 529h0M273 512h0M261 488h0M277 512h0M274 501h0M287 519h0M266 500h0M271 513h0M244 467h0M250 475h0M267 492h0M267 502h0M277 527h0M250 477h0M280 509h0M268 492h0M274 500h0M269 500h0M281 509h0M280 538h0M244 467h0M271 511h0M277 525h0M281 513h0M291 514h0M280 518h0M260 486h0M275 507h0M283 529h0M246 467h0M277 514h0M273 510h0M293 529h0M292 516h0M280 535h0M246 467h0M269 500h0M272 499h0M280 512h0M292 531h0M273 525h0M289 522h0M249 474h0M267 495h0M259 486h0M275 519h0M279 517h0M269 503h0M244 466h0M266 495h0M283 504h0M283 530h0M278 505h0M285 524h0M243 464h0M276 503h0M242 465h0M246 467h0M264 492h0M247 469h0M286 527h0M259 484h0M279 525h0M282 509h0M267 494h0M275 511h0M281 513h0M274 516h0M272 503h0M280 504h0M273 524h0M285 526h0M281 535h0M285 529h0M281 516h0M275 503h0M256 482h0M264 494h0M279 507h0M287 530h0M286 515h0M284 503h0M284 509h0M275 524h0M274 502h0M253 476h0M270 513h0M275 506h0M282 518h0M287 515h0M277 517h0" stroke="#98cadb" stroke-width="3.40" stroke-linecap="square" fill="none"/>
<path transform="scale(.5)" d="M128 336h0M137 390h0M138 356h0M133 379h0M76 518h0M80 515h0M117 474h0M88 494h0M83 512h0M171 435h0M172 429h0M283 383h0M284 510h0" stroke="#8ab6d4" stroke-width="3.40" stroke-linecap="square" fill="none"/>
<path transform="scale(.5)" d="M134 341h0M130 366h0M133 364h0M138 325h0M137 378h0M134 384h0M130 366h0M139 392h0M89 490h0M130 475h0M117 473h0M67 510h0M89 489h0M109 480h0M97 492h0M69 514h0M213 441h0M168 431h0M225 447h0M185 434h0M216 443h0M183 431h0M264 400h0M284 518h0M293 522h0M261 488h0M269 505h0" stroke="#7f9eca" stroke-width="3.40" stroke-linecap="square" fill="none"/>
<path transform="scale(.5)" d="M131 354h0M141 392h0M152 420h0M131 373h0M103 484h0M149 445h0M70 509h0M209 447h0M213 443h0M220 446h0M281 529h0M261 490h0M279 535h0" stroke="#7a93c5" stroke-width="3.40" stroke-linecap="square" fill="none"/>
<path transform="scale(.5)" d="M124 348h0M139 359h0M139 361h0M155 423h0M143 333h0M141 372h0M142 457h0M67 500h0M132 463h0M183 437h0M173 432h0M166 428h0M179 438h0M179 426h0M160 431h0M206 445h0M207 475h0M268 393h0M262 410h0M251 424h0M282 396h0M241 438h0M272 400h0M245 433h0M279 394h0M269 504h0" stroke="#87b1d3" stroke-width="3.40" stroke-linecap="square" fill="none"/>
<path transform="scale(.5)" d="M129 360h0M151 414h0M141 393h0M159 431h0M93 489h0M81 497h0M138 459h0M96 490h0M76 512h0M76 503h0M109 493h0M149 449h0M170 423h0M228 449h0M186 427h0M164 435h0M264 402h0M260 409h0M253 417h0M240 462h0M259 486h0M270 506h0M233 454h0M240 461h0" stroke="#83a8cf" stroke-width="3.40" stroke-linecap="square" fill="none"/>
<path transform="scale(.5)" d="M134 372h0M146 402h0M261 488h0" stroke="#8ebbd6" stroke-width="3.40" stroke-linecap="square" fill="none"/>
<path transform="scale(.5)" d="M70 504h0M86 490h0M79 505h0M73 505h0M76 491h0M279 516h0" stroke="#7688c0" stroke-width="3.40" stroke-linecap="square" fill="none"/>
<path transform="scale(.5)" d="M75 507h0M89 503h0" stroke="#727ebb" stroke-width="3.40" stroke-linecap="square" fill="none"/>
<polyline points="115.6,226.1 122.6,215.5 128.8,205.8 133.9,199.1" fill="none" stroke="#111" stroke-width="0.45"/>
<polyline points="115.6,226.1 122.6,233.8 129.5,242.5 135.1,250.2" fill="none" stroke="#111" stroke-width="0.45"/>
<circle cx="81.11" cy="217.22" r="1.60" fill="#222" stroke="#000" stroke-width="0.4"/>
<circle cx="103.09" cy="224.16" r="1.60" fill="#222" stroke="#000" stroke-width="0.4"/>
<circle cx="115.65" cy="226.09" r="1.60" fill="#222" stroke="#000" stroke-width="0.4"/>
<line x1="26.9" y1="157.5" x2="26.9" y2="272.1" stroke="#8c8c8c" stroke-width="0.6"/>
<line x1="26.9" y1="272.1" x2="152.7" y2="272.1" stroke="#8c8c8c" stroke-width="0.6"/>
<line x1="27.0" y1="272.1" x2="27.0" y2="273.6" stroke="#8c8c8c" stroke-width="0.5"/>
<text x="27.0" y="280.4" font-size="5.4" text-anchor="middle" font-weight="normal" fill="#4d4d4d">−10</text>
<line x1="58.5" y1="272.1" x2="58.5" y2="273.6" stroke="#8c8c8c" stroke-width="0.5"/>
<text x="58.5" y="280.4" font-size="5.4" text-anchor="middle" font-weight="normal" fill="#4d4d4d">−5</text>
<line x1="89.9" y1="272.1" x2="89.9" y2="273.6" stroke="#8c8c8c" stroke-width="0.5"/>
<text x="89.9" y="280.4" font-size="5.4" text-anchor="middle" font-weight="normal" fill="#4d4d4d">0</text>
<line x1="121.3" y1="272.1" x2="121.3" y2="273.6" stroke="#8c8c8c" stroke-width="0.5"/>
<text x="121.3" y="280.4" font-size="5.4" text-anchor="middle" font-weight="normal" fill="#4d4d4d">5</text>
<line x1="152.7" y1="272.1" x2="152.7" y2="273.6" stroke="#8c8c8c" stroke-width="0.5"/>
<text x="152.7" y="280.4" font-size="5.4" text-anchor="middle" font-weight="normal" fill="#4d4d4d">10</text>
<line x1="25.4" y1="175.2" x2="26.9" y2="175.2" stroke="#8c8c8c" stroke-width="0.5"/>
<text x="21.4" y="177.2" font-size="5.4" text-anchor="end" font-weight="normal" fill="#4d4d4d">5.0</text>
<line x1="25.4" y1="199.2" x2="26.9" y2="199.2" stroke="#8c8c8c" stroke-width="0.5"/>
<text x="21.4" y="201.2" font-size="5.4" text-anchor="end" font-weight="normal" fill="#4d4d4d">2.5</text>
<line x1="25.4" y1="223.2" x2="26.9" y2="223.2" stroke="#8c8c8c" stroke-width="0.5"/>
<text x="21.4" y="225.2" font-size="5.4" text-anchor="end" font-weight="normal" fill="#4d4d4d">0.0</text>
<line x1="25.4" y1="247.2" x2="26.9" y2="247.2" stroke="#8c8c8c" stroke-width="0.5"/>
<text x="21.4" y="249.2" font-size="5.4" text-anchor="end" font-weight="normal" fill="#4d4d4d">−2.5</text>
<line x1="25.4" y1="271.1" x2="26.9" y2="271.1" stroke="#8c8c8c" stroke-width="0.5"/>
<text x="21.4" y="273.1" font-size="5.4" text-anchor="end" font-weight="normal" fill="#4d4d4d">−5.0</text>
<text x="5.5" y="218.0" font-size="5.5" text-anchor="middle" font-weight="bold" fill="#000" transform="rotate(-90 5.5 218.0)">Component 2</text>
<text x="89.5" y="290.5" font-size="5.5" text-anchor="middle" font-weight="bold" fill="#000">Component 1</text>
<text x="152.5" y="177.5" font-size="5.5" text-anchor="start" font-weight="bold" fill="#000">VSIR</text>
<text x="152.5" y="185.5" font-size="5.5" text-anchor="start" font-weight="bold" fill="#000">Expression</text>
<rect x="152.50" y="189.60" width="6.70" height="48.20" fill="url(#gvsir)" stroke="none" stroke-width="0.5"/>
<text x="162.0" y="192.2" font-size="5.4" text-anchor="start" font-weight="normal" fill="#4d4d4d">25</text>
<text x="162.0" y="201.7" font-size="5.4" text-anchor="start" font-weight="normal" fill="#4d4d4d">20</text>
<text x="162.0" y="211.2" font-size="5.4" text-anchor="start" font-weight="normal" fill="#4d4d4d">15</text>
<text x="162.0" y="220.8" font-size="5.4" text-anchor="start" font-weight="normal" fill="#4d4d4d">10</text>
<text x="162.0" y="230.3" font-size="5.4" text-anchor="start" font-weight="normal" fill="#4d4d4d">5</text>
<text x="162.0" y="239.8" font-size="5.4" text-anchor="start" font-weight="normal" fill="#4d4d4d">0</text>
<text x="191.0" y="9.5" font-size="13" text-anchor="start" font-weight="bold" fill="#000">c</text>
<rect x="200.90" y="9.10" width="8.20" height="8.20" fill="#E8776B" stroke="#222" stroke-width="0.5" fill-opacity="0.6"/>
<text x="213.4" y="15.3" font-size="5.5" text-anchor="start" font-weight="normal" fill="#222">C3+ Macro</text>
<rect x="200.90" y="20.10" width="8.20" height="8.20" fill="#C49A2C" stroke="#222" stroke-width="0.5" fill-opacity="0.6"/>
<text x="213.4" y="26.3" font-size="5.5" text-anchor="start" font-weight="normal" fill="#222">CD163L1+ Macro</text>
<rect x="260.40" y="9.10" width="8.20" height="8.20" fill="#5DAF4A" stroke="#222" stroke-width="0.5" fill-opacity="0.6"/>
<text x="272.9" y="15.3" font-size="5.5" text-anchor="start" font-weight="normal" fill="#222">CXCL5+ Macro</text>
<rect x="260.40" y="20.10" width="8.20" height="8.20" fill="#1FAA88" stroke="#222" stroke-width="0.5" fill-opacity="0.6"/>
<text x="272.9" y="26.3" font-size="5.5" text-anchor="start" font-weight="normal" fill="#222">FCN1+ Mono</text>
<rect x="316.70" y="9.10" width="8.20" height="8.20" fill="#20AEE3" stroke="#222" stroke-width="0.5" fill-opacity="0.6"/>
<text x="329.2" y="15.3" font-size="5.5" text-anchor="start" font-weight="normal" fill="#222">PLK1+ Macro</text>
<rect x="316.70" y="20.10" width="8.20" height="8.20" fill="#8A80C1" stroke="#222" stroke-width="0.5" fill-opacity="0.6"/>
<text x="329.2" y="26.3" font-size="5.5" text-anchor="start" font-weight="normal" fill="#222">SPP1+ Macro</text>
<rect x="369.80" y="9.10" width="8.20" height="8.20" fill="#DB6DB0" stroke="#222" stroke-width="0.5" fill-opacity="0.6"/>
<text x="382.3" y="15.3" font-size="5.5" text-anchor="start" font-weight="normal" fill="#222">TRPM2+ Macro</text>
<rect x="218.50" y="35.00" width="201.00" height="44.50" fill="#EBEBEB" stroke="none" stroke-width="0.5"/>
<line x1="249.0" y1="35.0" x2="249.0" y2="79.5" stroke="#f5f5f5" stroke-width="0.4"/>
<line x1="293.1" y1="35.0" x2="293.1" y2="79.5" stroke="#f5f5f5" stroke-width="0.4"/>
<line x1="337.3" y1="35.0" x2="337.3" y2="79.5" stroke="#f5f5f5" stroke-width="0.4"/>
<line x1="381.4" y1="35.0" x2="381.4" y2="79.5" stroke="#f5f5f5" stroke-width="0.4"/>
<line x1="218.5" y1="71.3" x2="419.5" y2="71.3" stroke="#f5f5f5" stroke-width="0.4"/>
<line x1="218.5" y1="59.8" x2="419.5" y2="59.8" stroke="#f5f5f5" stroke-width="0.4"/>
<line x1="218.5" y1="48.3" x2="419.5" y2="48.3" stroke="#f5f5f5" stroke-width="0.4"/>
<line x1="226.9" y1="35.0" x2="226.9" y2="79.5" stroke="#fff" stroke-width="0.8"/>
<line x1="271.1" y1="35.0" x2="271.1" y2="79.5" stroke="#fff" stroke-width="0.8"/>
<line x1="315.2" y1="35.0" x2="315.2" y2="79.5" stroke="#fff" stroke-width="0.8"/>
<line x1="359.4" y1="35.0" x2="359.4" y2="79.5" stroke="#fff" stroke-width="0.8"/>
<line x1="403.5" y1="35.0" x2="403.5" y2="79.5" stroke="#fff" stroke-width="0.8"/>
<line x1="218.5" y1="77.1" x2="419.5" y2="77.1" stroke="#fff" stroke-width="0.8"/>
<line x1="218.5" y1="65.6" x2="419.5" y2="65.6" stroke="#fff" stroke-width="0.8"/>
<line x1="218.5" y1="54.1" x2="419.5" y2="54.1" stroke="#fff" stroke-width="0.8"/>
<line x1="218.5" y1="42.6" x2="419.5" y2="42.6" stroke="#fff" stroke-width="0.8"/>
<path d="M226.9,77.1 L226.9,69.3 L227.8,68.5 L228.7,67.8 L229.5,67.1 L230.4,66.5 L231.3,66.1 L232.2,65.7 L233.1,65.6 L234.0,65.5 L234.8,65.7 L235.7,65.9 L236.6,66.3 L237.5,66.9 L238.4,67.5 L239.3,68.2 L240.1,68.9 L241.0,69.7 L241.9,70.4 L242.8,71.2 L243.7,71.9 L244.6,72.5 L245.4,73.1 L246.3,73.7 L247.2,74.1 L248.1,74.5 L249.0,74.9 L249.9,75.2 L250.7,75.4 L251.6,75.6 L252.5,75.7 L253.4,75.8 L254.3,75.9 L255.2,76.0 L256.0,76.1 L256.9,76.1 L257.8,76.2 L258.7,76.2 L259.6,76.2 L260.5,76.3 L261.3,76.3 L262.2,76.4 L263.1,76.4 L264.0,76.4 L264.9,76.5 L265.8,76.5 L266.6,76.5 L267.5,76.6 L268.4,76.6 L269.3,76.6 L270.2,76.7 L271.1,76.7 L271.9,76.7 L272.8,76.7 L273.7,76.8 L274.6,76.8 L275.5,76.8 L276.3,76.8 L277.2,76.8 L278.1,76.8 L279.0,76.8 L279.9,76.9 L280.8,76.8 L281.6,76.8 L282.5,76.8 L283.4,76.8 L284.3,76.8 L285.2,76.8 L286.1,76.8 L286.9,76.7 L287.8,76.7 L288.7,76.7 L289.6,76.7 L290.5,76.6 L291.4,76.6 L292.2,76.6 L293.1,76.5 L294.0,76.5 L294.9,76.5 L295.8,76.4 L296.7,76.4 L297.5,76.4 L298.4,76.3 L299.3,76.3 L300.2,76.3 L301.1,76.2 L302.0,76.2 L302.8,76.2 L303.7,76.2 L304.6,76.2 L305.5,76.2 L306.4,76.2 L307.3,76.2 L308.1,76.2 L309.0,76.2 L309.9,76.2 L310.8,76.2 L311.7,76.2 L312.6,76.1 L313.4,76.1 L314.3,76.0 L315.2,75.8 L316.1,75.6 L317.0,75.3 L317.8,74.9 L318.7,74.5 L319.6,74.0 L320.5,73.6 L321.4,73.2 L322.3,72.8 L323.1,72.6 L324.0,72.6 L324.9,72.7 L325.8,73.0 L326.7,73.4 L327.6,73.8 L328.4,74.4 L329.3,74.9 L330.2,75.4 L331.1,75.8 L332.0,76.1 L332.9,76.4 L333.7,76.6 L334.6,76.8 L335.5,76.9 L336.4,76.9 L337.3,77.0 L338.2,77.0 L339.0,77.0 L339.9,77.1 L340.8,77.1 L341.7,77.1 L342.6,77.1 L343.5,77.1 L344.3,77.1 L345.2,77.1 L346.1,77.1 L347.0,77.1 L347.9,77.1 L348.8,77.1 L349.6,77.1 L350.5,77.1 L351.4,77.1 L352.3,77.1 L353.2,77.1 L354.1,77.1 L354.9,77.1 L355.8,77.1 L356.7,77.1 L357.6,77.1 L358.5,77.1 L359.4,77.1 L360.2,77.1 L361.1,77.1 L362.0,77.1 L362.9,77.1 L363.8,77.1 L364.6,77.1 L365.5,77.1 L366.4,77.1 L367.3,77.1 L368.2,77.1 L369.1,77.1 L369.9,77.1 L370.8,77.1 L371.7,77.1 L372.6,77.1 L373.5,77.1 L374.4,77.1 L375.2,77.1 L376.1,77.1 L377.0,77.1 L377.9,77.1 L378.8,77.1 L379.7,77.1 L380.5,77.1 L381.4,77.1 L382.3,77.1 L383.2,77.1 L384.1,77.1 L385.0,77.1 L385.8,77.1 L386.7,77.1 L387.6,77.1 L388.5,77.1 L389.4,77.1 L390.3,77.1 L391.1,77.1 L392.0,77.1 L392.9,77.1 L393.8,77.1 L394.7,77.1 L395.6,77.1 L396.4,77.1 L397.3,77.1 L398.2,77.1 L399.1,77.1 L400.0,77.1 L400.9,77.1 L401.7,77.1 L402.6,77.1 L403.5,77.1 L404.4,77.1 L405.3,77.1 L406.1,77.1 L407.0,77.1 L407.9,77.1 L408.8,77.1 L409.7,77.1 L409.7,77.1 Z" fill="#1FAA88" fill-opacity="0.55" stroke="#222" stroke-width="0.45"/>
<path d="M226.9,77.1 L226.9,77.1 L227.8,77.1 L228.7,77.1 L229.5,77.1 L230.4,77.1 L231.3,77.1 L232.2,77.1 L233.1,77.1 L234.0,77.1 L234.8,77.1 L235.7,77.1 L236.6,77.1 L237.5,77.1 L238.4,77.1 L239.3,77.1 L240.1,77.1 L241.0,77.1 L241.9,77.1 L242.8,77.1 L243.7,77.1 L244.6,77.1 L245.4,77.1 L246.3,77.1 L247.2,77.1 L248.1,77.1 L249.0,77.1 L249.9,77.1 L250.7,77.1 L251.6,77.1 L252.5,77.1 L253.4,77.1 L254.3,77.1 L255.2,77.1 L256.0,77.1 L256.9,77.1 L257.8,77.1 L258.7,77.1 L259.6,77.1 L260.5,77.1 L261.3,77.1 L262.2,77.1 L263.1,77.1 L264.0,77.1 L264.9,77.1 L265.8,77.1 L266.6,77.1 L267.5,77.1 L268.4,77.1 L269.3,77.1 L270.2,77.1 L271.1,77.1 L271.9,77.1 L272.8,77.1 L273.7,77.1 L274.6,77.1 L275.5,77.1 L276.3,77.1 L277.2,77.1 L278.1,77.1 L279.0,77.0 L279.9,77.0 L280.8,77.0 L281.6,77.0 L282.5,76.9 L283.4,76.9 L284.3,76.8 L285.2,76.7 L286.1,76.7 L286.9,76.6 L287.8,76.5 L288.7,76.3 L289.6,76.2 L290.5,76.1 L291.4,75.9 L292.2,75.7 L293.1,75.5 L294.0,75.3 L294.9,75.1 L295.8,75.0 L296.7,74.8 L297.5,74.6 L298.4,74.4 L299.3,74.3 L300.2,74.1 L301.1,74.0 L302.0,73.9 L302.8,73.9 L303.7,73.9 L304.6,73.9 L305.5,73.9 L306.4,74.0 L307.3,74.1 L308.1,74.2 L309.0,74.4 L309.9,74.5 L310.8,74.7 L311.7,74.9 L312.6,75.1 L313.4,75.3 L314.3,75.4 L315.2,75.6 L316.1,75.7 L317.0,75.9 L317.8,76.0 L318.7,76.1 L319.6,76.2 L320.5,76.2 L321.4,76.3 L322.3,76.3 L323.1,76.3 L324.0,76.3 L324.9,76.3 L325.8,76.3 L326.7,76.2 L327.6,76.2 L328.4,76.2 L329.3,76.1 L330.2,76.1 L331.1,76.1 L332.0,76.0 L332.9,76.0 L333.7,76.0 L334.6,76.0 L335.5,76.0 L336.4,75.9 L337.3,75.9 L338.2,75.9 L339.0,75.9 L339.9,75.9 L340.8,75.9 L341.7,75.9 L342.6,75.9 L343.5,75.9 L344.3,75.9 L345.2,75.8 L346.1,75.8 L347.0,75.8 L347.9,75.8 L348.8,75.8 L349.6,75.7 L350.5,75.7 L351.4,75.7 L352.3,75.7 L353.2,75.7 L354.1,75.7 L354.9,75.7 L355.8,75.7 L356.7,75.7 L357.6,75.7 L358.5,75.7 L359.4,75.8 L360.2,75.8 L361.1,75.8 L362.0,75.8 L362.9,75.7 L363.8,75.6 L364.6,75.5 L365.5,75.3 L366.4,75.1 L367.3,74.8 L368.2,74.4 L369.1,74.0 L369.9,73.5 L370.8,73.1 L371.7,72.7 L372.6,72.3 L373.5,72.0 L374.4,71.9 L375.2,71.8 L376.1,71.9 L377.0,72.2 L377.9,72.5 L378.8,72.9 L379.7,73.4 L380.5,74.0 L381.4,74.5 L382.3,75.0 L383.2,75.4 L384.1,75.8 L385.0,76.1 L385.8,76.4 L386.7,76.6 L387.6,76.8 L388.5,76.9 L389.4,76.9 L390.3,77.0 L391.1,77.0 L392.0,77.1 L392.9,77.1 L393.8,77.1 L394.7,77.1 L395.6,77.1 L396.4,77.1 L397.3,77.1 L398.2,77.1 L399.1,77.1 L400.0,77.1 L400.9,77.1 L401.7,77.1 L402.6,77.1 L403.5,77.1 L404.4,77.1 L405.3,77.1 L406.1,77.1 L407.0,77.1 L407.9,77.1 L408.8,77.1 L409.7,77.1 L409.7,77.1 Z" fill="#E8776B" fill-opacity="0.55" stroke="#222" stroke-width="0.45"/>
<path d="M226.9,77.1 L226.9,77.1 L227.8,77.1 L228.7,77.1 L229.5,77.1 L230.4,77.1 L231.3,77.1 L232.2,77.1 L233.1,77.1 L234.0,77.1 L234.8,77.1 L235.7,77.1 L236.6,77.1 L237.5,77.1 L238.4,77.1 L239.3,77.1 L240.1,77.1 L241.0,77.1 L241.9,77.1 L242.8,77.1 L243.7,77.1 L244.6,77.1 L245.4,77.1 L246.3,77.1 L247.2,77.1 L248.1,77.1 L249.0,77.1 L249.9,77.1 L250.7,77.1 L251.6,77.1 L252.5,77.1 L253.4,77.1 L254.3,77.1 L255.2,77.1 L256.0,77.1 L256.9,77.1 L257.8,77.1 L258.7,77.1 L259.6,77.1 L260.5,77.1 L261.3,77.1 L262.2,77.1 L263.1,77.1 L264.0,77.1 L264.9,77.1 L265.8,77.1 L266.6,77.1 L267.5,77.1 L268.4,77.1 L269.3,77.1 L270.2,77.1 L271.1,77.1 L271.9,77.1 L272.8,77.0 L273.7,77.0 L274.6,77.0 L275.5,77.0 L276.3,77.0 L277.2,77.0 L278.1,77.0 L279.0,77.0 L279.9,77.0 L280.8,77.0 L281.6,76.9 L282.5,76.9 L283.4,76.9 L284.3,76.9 L285.2,76.9 L286.1,76.9 L286.9,76.8 L287.8,76.8 L288.7,76.8 L289.6,76.8 L290.5,76.8 L291.4,76.7 L292.2,76.7 L293.1,76.7 L294.0,76.7 L294.9,76.6 L295.8,76.6 L296.7,76.6 L297.5,76.5 L298.4,76.5 L299.3,76.5 L300.2,76.5 L301.1,76.4 L302.0,76.4 L302.8,76.4 L303.7,76.4 L304.6,76.3 L305.5,76.3 L306.4,76.3 L307.3,76.3 L308.1,76.2 L309.0,76.2 L309.9,76.2 L310.8,76.2 L311.7,76.2 L312.6,76.2 L313.4,76.2 L314.3,76.2 L315.2,76.2 L316.1,76.2 L317.0,76.2 L317.8,76.2 L318.7,76.2 L319.6,76.2 L320.5,76.2 L321.4,76.2 L322.3,76.2 L323.1,76.2 L324.0,76.2 L324.9,76.3 L325.8,76.3 L326.7,76.3 L327.6,76.3 L328.4,76.3 L329.3,76.3 L330.2,76.3 L331.1,76.3 L332.0,76.4 L332.9,76.4 L333.7,76.4 L334.6,76.4 L335.5,76.4 L336.4,76.3 L337.3,76.3 L338.2,76.3 L339.0,76.3 L339.9,76.3 L340.8,76.3 L341.7,76.2 L342.6,76.2 L343.5,76.2 L344.3,76.1 L345.2,76.1 L346.1,76.1 L347.0,76.0 L347.9,76.0 L348.8,75.9 L349.6,75.9 L350.5,75.9 L351.4,75.8 L352.3,75.8 L353.2,75.8 L354.1,75.7 L354.9,75.7 L355.8,75.7 L356.7,75.7 L357.6,75.7 L358.5,75.7 L359.4,75.7 L360.2,75.6 L361.1,75.6 L362.0,75.6 L362.9,75.5 L363.8,75.4 L364.6,75.2 L365.5,74.9 L366.4,74.6 L367.3,74.2 L368.2,73.7 L369.1,73.2 L369.9,72.8 L370.8,72.3 L371.7,72.0 L372.6,71.7 L373.5,71.7 L374.4,71.9 L375.2,72.2 L376.1,72.6 L377.0,73.2 L377.9,73.8 L378.8,74.4 L379.7,74.9 L380.5,75.4 L381.4,75.8 L382.3,76.2 L383.2,76.4 L384.1,76.6 L385.0,76.7 L385.8,76.8 L386.7,76.9 L387.6,76.9 L388.5,77.0 L389.4,77.0 L390.3,77.0 L391.1,77.0 L392.0,77.0 L392.9,77.0 L393.8,77.1 L394.7,77.1 L395.6,77.1 L396.4,77.1 L397.3,77.1 L398.2,77.1 L399.1,77.1 L400.0,77.1 L400.9,77.1 L401.7,77.1 L402.6,77.1 L403.5,77.1 L404.4,77.1 L405.3,77.1 L406.1,77.1 L407.0,77.1 L407.9,77.1 L408.8,77.1 L409.7,77.1 L409.7,77.1 Z" fill="#C49A2C" fill-opacity="0.55" stroke="#222" stroke-width="0.45"/>
<path d="M226.9,77.1 L226.9,77.1 L227.8,77.1 L228.7,77.1 L229.5,77.1 L230.4,77.1 L231.3,77.1 L232.2,77.1 L233.1,77.1 L234.0,77.1 L234.8,77.1 L235.7,77.1 L236.6,77.1 L237.5,77.1 L238.4,77.1 L239.3,77.1 L240.1,77.1 L241.0,77.1 L241.9,77.1 L242.8,77.1 L243.7,77.1 L244.6,77.1 L245.4,77.1 L246.3,77.1 L247.2,77.1 L248.1,77.1 L249.0,77.1 L249.9,77.1 L250.7,77.1 L251.6,77.1 L252.5,77.1 L253.4,77.1 L254.3,77.1 L255.2,77.1 L256.0,77.1 L256.9,77.1 L257.8,77.1 L258.7,77.1 L259.6,77.1 L260.5,77.1 L261.3,77.1 L262.2,77.1 L263.1,77.1 L264.0,77.1 L264.9,77.1 L265.8,77.1 L266.6,77.1 L267.5,77.1 L268.4,77.1 L269.3,77.1 L270.2,77.1 L271.1,77.1 L271.9,77.1 L272.8,77.1 L273.7,77.1 L274.6,77.1 L275.5,77.1 L276.3,77.1 L277.2,77.1 L278.1,77.1 L279.0,77.1 L279.9,77.1 L280.8,77.1 L281.6,77.1 L282.5,77.1 L283.4,77.1 L284.3,77.0 L285.2,77.0 L286.1,77.0 L286.9,77.0 L287.8,76.9 L288.7,76.9 L289.6,76.7 L290.5,75.7 L291.4,73.5 L292.2,72.1 L293.1,73.4 L294.0,75.4 L294.9,76.3 L295.8,76.4 L296.7,76.3 L297.5,76.3 L298.4,76.2 L299.3,76.1 L300.2,76.0 L301.1,75.9 L302.0,75.9 L302.8,75.8 L303.7,75.8 L304.6,75.7 L305.5,75.7 L306.4,75.7 L307.3,75.7 L308.1,75.7 L309.0,75.8 L309.9,75.8 L310.8,75.9 L311.7,75.9 L312.6,76.0 L313.4,76.1 L314.3,76.2 L315.2,76.2 L316.1,76.3 L317.0,76.2 L317.8,75.9 L318.7,75.3 L319.6,73.9 L320.5,71.5 L321.4,67.7 L322.3,62.5 L323.1,56.2 L324.0,49.6 L324.9,44.2 L325.8,41.1 L326.7,41.1 L327.6,44.2 L328.4,49.8 L329.3,56.3 L330.2,62.7 L331.1,68.0 L332.0,71.9 L332.9,74.3 L333.7,75.8 L334.6,76.5 L335.5,76.9 L336.4,77.0 L337.3,77.1 L338.2,77.1 L339.0,77.1 L339.9,77.1 L340.8,77.1 L341.7,77.1 L342.6,77.1 L343.5,77.1 L344.3,77.1 L345.2,77.1 L346.1,77.1 L347.0,77.1 L347.9,77.1 L348.8,77.1 L349.6,77.1 L350.5,77.1 L351.4,77.1 L352.3,77.1 L353.2,77.1 L354.1,77.1 L354.9,77.1 L355.8,77.1 L356.7,77.1 L357.6,77.1 L358.5,77.1 L359.4,77.1 L360.2,77.1 L361.1,77.1 L362.0,77.1 L362.9,77.1 L363.8,77.1 L364.6,77.1 L365.5,77.1 L366.4,77.1 L367.3,77.1 L368.2,77.1 L369.1,77.1 L369.9,77.1 L370.8,77.1 L371.7,77.1 L372.6,77.1 L373.5,77.1 L374.4,77.1 L375.2,77.1 L376.1,77.1 L377.0,77.1 L377.9,77.1 L378.8,77.1 L379.7,77.1 L380.5,77.1 L381.4,77.1 L382.3,77.1 L383.2,77.1 L384.1,77.1 L385.0,77.1 L385.8,77.1 L386.7,77.1 L387.6,77.1 L388.5,77.1 L389.4,77.1 L390.3,77.1 L391.1,77.1 L392.0,77.1 L392.9,77.1 L393.8,77.1 L394.7,77.1 L395.6,77.1 L396.4,77.1 L397.3,77.1 L398.2,77.1 L399.1,77.1 L400.0,77.1 L400.9,77.1 L401.7,77.1 L402.6,77.1 L403.5,77.1 L404.4,77.1 L405.3,77.1 L406.1,77.1 L407.0,77.1 L407.9,77.1 L408.8,77.1 L409.7,77.1 L409.7,77.1 Z" fill="#5DAF4A" fill-opacity="0.55" stroke="#222" stroke-width="0.45"/>
<path d="M226.9,77.1 L226.9,77.1 L227.8,77.1 L228.7,77.1 L229.5,77.1 L230.4,77.1 L231.3,77.1 L232.2,77.1 L233.1,77.1 L234.0,77.1 L234.8,77.1 L235.7,77.1 L236.6,77.1 L237.5,77.1 L238.4,77.1 L239.3,77.1 L240.1,77.1 L241.0,77.1 L241.9,77.1 L242.8,77.1 L243.7,77.1 L244.6,77.1 L245.4,77.1 L246.3,77.1 L247.2,77.1 L248.1,77.1 L249.0,77.1 L249.9,77.1 L250.7,77.1 L251.6,77.1 L252.5,77.1 L253.4,77.1 L254.3,77.1 L255.2,77.1 L256.0,77.1 L256.9,77.1 L257.8,77.1 L258.7,77.1 L259.6,77.1 L260.5,77.1 L261.3,77.1 L262.2,77.1 L263.1,77.1 L264.0,77.1 L264.9,77.1 L265.8,77.1 L266.6,77.1 L267.5,77.1 L268.4,77.1 L269.3,77.1 L270.2,77.1 L271.1,77.1 L271.9,77.1 L272.8,77.1 L273.7,77.1 L274.6,77.1 L275.5,77.1 L276.3,77.1 L277.2,77.1 L278.1,77.1 L279.0,77.1 L279.9,77.1 L280.8,77.1 L281.6,77.1 L282.5,77.1 L283.4,77.1 L284.3,77.1 L285.2,77.1 L286.1,77.1 L286.9,77.1 L287.8,77.1 L288.7,77.1 L289.6,77.1 L290.5,77.1 L291.4,77.1 L292.2,77.1 L293.1,77.1 L294.0,77.1 L294.9,77.1 L295.8,77.1 L296.7,77.1 L297.5,77.1 L298.4,77.1 L299.3,77.1 L300.2,77.1 L301.1,77.1 L302.0,77.1 L302.8,77.1 L303.7,77.1 L304.6,77.1 L305.5,77.0 L306.4,77.0 L307.3,77.0 L308.1,77.0 L309.0,76.9 L309.9,76.8 L310.8,76.8 L311.7,76.7 L312.6,76.6 L313.4,76.5 L314.3,76.4 L315.2,76.2 L316.1,76.1 L317.0,76.0 L317.8,75.8 L318.7,75.7 L319.6,75.6 L320.5,75.5 L321.4,75.4 L322.3,75.3 L323.1,75.2 L324.0,75.2 L324.9,75.2 L325.8,75.3 L326.7,75.3 L327.6,75.4 L328.4,75.5 L329.3,75.6 L330.2,75.7 L331.1,75.8 L332.0,76.0 L332.9,76.1 L333.7,76.2 L334.6,76.3 L335.5,76.3 L336.4,76.4 L337.3,76.4 L338.2,76.5 L339.0,76.5 L339.9,76.5 L340.8,76.5 L341.7,76.4 L342.6,76.4 L343.5,76.4 L344.3,76.3 L345.2,76.3 L346.1,76.2 L347.0,76.1 L347.9,76.1 L348.8,76.0 L349.6,75.9 L350.5,75.9 L351.4,75.8 L352.3,75.7 L353.2,75.6 L354.1,75.6 L354.9,75.5 L355.8,75.4 L356.7,75.3 L357.6,75.3 L358.5,75.2 L359.4,75.1 L360.2,75.1 L361.1,75.0 L362.0,75.0 L362.9,74.9 L363.8,74.9 L364.6,74.9 L365.5,74.8 L366.4,74.8 L367.3,74.8 L368.2,74.8 L369.1,74.8 L369.9,74.8 L370.8,74.8 L371.7,74.9 L372.6,74.9 L373.5,74.9 L374.4,75.0 L375.2,75.0 L376.1,75.1 L377.0,75.1 L377.9,75.2 L378.8,75.3 L379.7,75.3 L380.5,75.4 L381.4,75.5 L382.3,75.5 L383.2,75.6 L384.1,75.7 L385.0,75.8 L385.8,75.8 L386.7,75.8 L387.6,75.8 L388.5,75.8 L389.4,75.7 L390.3,75.5 L391.1,75.2 L392.0,74.7 L392.9,74.1 L393.8,73.3 L394.7,72.3 L395.6,71.2 L396.4,69.9 L397.3,68.6 L398.2,67.4 L399.1,66.2 L400.0,65.4 L400.9,64.8 L401.7,64.7 L402.6,64.9 L403.5,65.5 L404.4,66.4 L405.3,67.6 L406.1,68.9 L407.0,70.3 L407.9,71.6 L408.8,72.8 L409.7,73.8 L409.7,77.1 Z" fill="#8A80C1" fill-opacity="0.55" stroke="#222" stroke-width="0.45"/>
<path d="M226.9,77.1 L226.9,77.1 L227.8,77.1 L228.7,77.1 L229.5,77.1 L230.4,77.1 L231.3,77.1 L232.2,77.1 L233.1,77.1 L234.0,77.1 L234.8,77.1 L235.7,77.1 L236.6,77.1 L237.5,77.1 L238.4,77.1 L239.3,77.1 L240.1,77.1 L241.0,77.1 L241.9,77.1 L242.8,77.1 L243.7,77.1 L244.6,77.1 L245.4,77.1 L246.3,77.1 L247.2,77.1 L248.1,77.1 L249.0,77.1 L249.9,77.1 L250.7,77.1 L251.6,77.1 L252.5,77.1 L253.4,77.1 L254.3,77.1 L255.2,77.1 L256.0,77.1 L256.9,77.1 L257.8,77.1 L258.7,77.1 L259.6,77.1 L260.5,77.1 L261.3,77.1 L262.2,77.1 L263.1,77.1 L264.0,77.1 L264.9,77.1 L265.8,77.1 L266.6,77.1 L267.5,77.1 L268.4,77.1 L269.3,77.1 L270.2,77.1 L271.1,77.1 L271.9,77.1 L272.8,77.1 L273.7,77.1 L274.6,77.1 L275.5,77.1 L276.3,77.1 L277.2,77.1 L278.1,77.1 L279.0,77.1 L279.9,77.1 L280.8,77.1 L281.6,77.1 L282.5,77.1 L283.4,77.1 L284.3,77.1 L285.2,77.1 L286.1,77.1 L286.9,77.1 L287.8,77.1 L288.7,77.1 L289.6,77.1 L290.5,77.1 L291.4,77.1 L292.2,77.1 L293.1,77.1 L294.0,77.1 L294.9,77.1 L295.8,77.1 L296.7,77.1 L297.5,77.1 L298.4,77.1 L299.3,77.1 L300.2,77.1 L301.1,77.1 L302.0,77.1 L302.8,77.1 L303.7,77.1 L304.6,77.1 L305.5,77.1 L306.4,77.1 L307.3,77.1 L308.1,77.1 L309.0,77.1 L309.9,77.1 L310.8,77.1 L311.7,77.1 L312.6,77.1 L313.4,77.1 L314.3,77.1 L315.2,77.1 L316.1,77.1 L317.0,77.1 L317.8,77.1 L318.7,77.1 L319.6,77.1 L320.5,77.1 L321.4,77.1 L322.3,77.1 L323.1,77.1 L324.0,77.1 L324.9,77.1 L325.8,77.1 L326.7,77.1 L327.6,77.1 L328.4,77.1 L329.3,77.1 L330.2,77.1 L331.1,77.1 L332.0,77.1 L332.9,77.1 L333.7,77.1 L334.6,77.1 L335.5,77.1 L336.4,77.1 L337.3,77.1 L338.2,77.1 L339.0,77.1 L339.9,77.1 L340.8,77.1 L341.7,77.1 L342.6,77.1 L343.5,77.1 L344.3,77.1 L345.2,77.1 L346.1,77.1 L347.0,77.1 L347.9,77.1 L348.8,77.1 L349.6,77.1 L350.5,77.1 L351.4,77.1 L352.3,77.1 L353.2,77.1 L354.1,77.1 L354.9,77.1 L355.8,77.1 L356.7,77.1 L357.6,77.1 L358.5,77.1 L359.4,77.1 L360.2,77.1 L361.1,77.1 L362.0,77.1 L362.9,77.1 L363.8,77.1 L364.6,77.1 L365.5,77.1 L366.4,77.1 L367.3,77.1 L368.2,77.1 L369.1,77.1 L369.9,77.1 L370.8,77.0 L371.7,77.0 L372.6,77.0 L373.5,76.9 L374.4,76.9 L375.2,76.8 L376.1,76.7 L377.0,76.6 L377.9,76.5 L378.8,76.4 L379.7,76.2 L380.5,76.0 L381.4,75.8 L382.3,75.6 L383.2,75.4 L384.1,75.2 L385.0,75.0 L385.8,74.8 L386.7,74.7 L387.6,74.5 L388.5,74.4 L389.4,74.3 L390.3,74.3 L391.1,74.2 L392.0,74.0 L392.9,73.8 L393.8,73.2 L394.7,72.3 L395.6,70.9 L396.4,68.8 L397.3,66.1 L398.2,62.9 L399.1,59.5 L400.0,56.4 L400.9,53.9 L401.7,52.6 L402.6,52.8 L403.5,54.3 L404.4,57.1 L405.3,60.5 L406.1,64.2 L407.0,67.6 L407.9,70.6 L408.8,72.9 L409.7,74.5 L409.7,77.1 Z" fill="#20AEE3" fill-opacity="0.55" stroke="#222" stroke-width="0.45"/>
<path d="M226.9,77.1 L226.9,77.1 L227.8,77.1 L228.7,77.1 L229.5,77.1 L230.4,77.1 L231.3,77.1 L232.2,77.1 L233.1,77.1 L234.0,77.1 L234.8,77.1 L235.7,77.1 L236.6,77.1 L237.5,77.1 L238.4,77.1 L239.3,77.1 L240.1,77.1 L241.0,77.1 L241.9,77.1 L242.8,77.1 L243.7,77.1 L244.6,77.1 L245.4,77.1 L246.3,77.1 L247.2,77.1 L248.1,77.1 L249.0,77.1 L249.9,77.1 L250.7,77.1 L251.6,77.1 L252.5,77.1 L253.4,77.1 L254.3,77.1 L255.2,77.1 L256.0,77.1 L256.9,77.1 L257.8,77.1 L258.7,77.1 L259.6,77.1 L260.5,77.1 L261.3,77.1 L262.2,77.1 L263.1,77.1 L264.0,77.1 L264.9,77.1 L265.8,77.1 L266.6,77.1 L267.5,77.1 L268.4,77.1 L269.3,77.1 L270.2,77.1 L271.1,77.1 L271.9,77.1 L272.8,77.1 L273.7,77.1 L274.6,77.1 L275.5,77.1 L276.3,77.1 L277.2,77.1 L278.1,77.1 L279.0,77.1 L279.9,77.1 L280.8,77.1 L281.6,77.1 L282.5,77.1 L283.4,77.1 L284.3,77.1 L285.2,77.1 L286.1,77.1 L286.9,77.1 L287.8,77.1 L288.7,77.1 L289.6,77.1 L290.5,77.1 L291.4,77.1 L292.2,77.1 L293.1,77.1 L294.0,77.1 L294.9,77.1 L295.8,77.1 L296.7,77.1 L297.5,77.1 L298.4,77.1 L299.3,77.1 L300.2,77.1 L301.1,77.1 L302.0,77.1 L302.8,77.1 L303.7,77.1 L304.6,77.1 L305.5,77.1 L306.4,77.1 L307.3,77.1 L308.1,77.1 L309.0,77.1 L309.9,77.1 L310.8,77.1 L311.7,77.1 L312.6,77.1 L313.4,77.1 L314.3,77.1 L315.2,77.1 L316.1,77.0 L317.0,77.0 L317.8,76.9 L318.7,76.8 L319.6,76.6 L320.5,76.3 L321.4,76.0 L322.3,75.6 L323.1,75.3 L324.0,75.0 L324.9,74.8 L325.8,74.7 L326.7,74.7 L327.6,74.9 L328.4,75.2 L329.3,75.5 L330.2,75.8 L331.1,76.1 L332.0,76.3 L332.9,76.4 L333.7,76.5 L334.6,76.6 L335.5,76.6 L336.4,76.6 L337.3,76.5 L338.2,76.5 L339.0,76.4 L339.9,76.4 L340.8,76.3 L341.7,76.3 L342.6,76.2 L343.5,76.2 L344.3,76.1 L345.2,76.0 L346.1,76.0 L347.0,75.9 L347.9,75.9 L348.8,75.9 L349.6,75.8 L350.5,75.8 L351.4,75.8 L352.3,75.7 L353.2,75.7 L354.1,75.7 L354.9,75.7 L355.8,75.7 L356.7,75.7 L357.6,75.7 L358.5,75.8 L359.4,75.8 L360.2,75.8 L361.1,75.9 L362.0,75.9 L362.9,75.9 L363.8,76.0 L364.6,76.0 L365.5,76.1 L366.4,76.2 L367.3,76.2 L368.2,76.3 L369.1,76.3 L369.9,76.3 L370.8,76.3 L371.7,76.0 L372.6,75.4 L373.5,74.0 L374.4,71.2 L375.2,66.8 L376.1,60.4 L377.0,52.6 L377.9,44.9 L378.8,39.2 L379.7,37.1 L380.5,39.2 L381.4,45.1 L382.3,52.8 L383.2,60.6 L384.1,67.1 L385.0,71.6 L385.8,74.4 L386.7,75.9 L387.6,76.6 L388.5,76.9 L389.4,77.0 L390.3,77.0 L391.1,77.1 L392.0,77.1 L392.9,77.1 L393.8,77.1 L394.7,77.1 L395.6,77.1 L396.4,77.1 L397.3,77.1 L398.2,77.1 L399.1,77.1 L400.0,77.1 L400.9,77.1 L401.7,77.1 L402.6,77.1 L403.5,77.1 L404.4,77.1 L405.3,77.1 L406.1,77.1 L407.0,77.1 L407.9,77.1 L408.8,77.1 L409.7,77.1 L409.7,77.1 Z" fill="#DB6DB0" fill-opacity="0.55" stroke="#222" stroke-width="0.45"/>
<line x1="226.9" y1="79.5" x2="226.9" y2="81.0" stroke="#555" stroke-width="0.5"/>
<text x="226.9" y="87.5" font-size="5.4" text-anchor="middle" font-weight="normal" fill="#4d4d4d">0</text>
<line x1="271.1" y1="79.5" x2="271.1" y2="81.0" stroke="#555" stroke-width="0.5"/>
<text x="271.1" y="87.5" font-size="5.4" text-anchor="middle" font-weight="normal" fill="#4d4d4d">5</text>
<line x1="315.2" y1="79.5" x2="315.2" y2="81.0" stroke="#555" stroke-width="0.5"/>
<text x="315.2" y="87.5" font-size="5.4" text-anchor="middle" font-weight="normal" fill="#4d4d4d">10</text>
<line x1="359.4" y1="79.5" x2="359.4" y2="81.0" stroke="#555" stroke-width="0.5"/>
<text x="359.4" y="87.5" font-size="5.4" text-anchor="middle" font-weight="normal" fill="#4d4d4d">15</text>
<line x1="403.5" y1="79.5" x2="403.5" y2="81.0" stroke="#555" stroke-width="0.5"/>
<text x="403.5" y="87.5" font-size="5.4" text-anchor="middle" font-weight="normal" fill="#4d4d4d">20</text>
<line x1="217.0" y1="77.1" x2="218.5" y2="77.1" stroke="#555" stroke-width="0.5"/>
<text x="216.0" y="79.1" font-size="5.4" text-anchor="end" font-weight="normal" fill="#4d4d4d">0.00</text>
<line x1="217.0" y1="65.6" x2="218.5" y2="65.6" stroke="#555" stroke-width="0.5"/>
<text x="216.0" y="67.6" font-size="5.4" text-anchor="end" font-weight="normal" fill="#4d4d4d">0.25</text>
<line x1="217.0" y1="54.1" x2="218.5" y2="54.1" stroke="#555" stroke-width="0.5"/>
<text x="216.0" y="56.1" font-size="5.4" text-anchor="end" font-weight="normal" fill="#4d4d4d">0.50</text>
<line x1="217.0" y1="42.6" x2="218.5" y2="42.6" stroke="#555" stroke-width="0.5"/>
<text x="216.0" y="44.6" font-size="5.4" text-anchor="end" font-weight="normal" fill="#4d4d4d">0.75</text>
<text x="196.5" y="57.0" font-size="5.4" text-anchor="middle" font-weight="normal" fill="#222" transform="rotate(-90 196.5 57.0)">Density</text>
<text x="318.0" y="96.5" font-size="5.4" text-anchor="middle" font-weight="normal" fill="#222">Pseudotime</text>
<path transform="scale(.5)" d="M534 277h0M546 369h0M532 261h0M530 267h0M531 310h0M535 335h0M531 287h0M525 290h0M525 325h0M556 385h0M526 263h0M530 269h0M526 278h0M534 278h0M532 272h0M528 321h0M527 322h0M529 318h0M529 316h0M524 305h0M529 310h0M527 323h0M524 259h0M532 316h0M525 270h0M529 342h0M529 323h0M532 320h0M527 325h0M524 277h0M528 311h0M527 315h0M529 308h0M528 293h0M532 347h0M526 305h0M521 263h0M524 304h0M535 345h0M532 346h0M524 271h0M529 259h0M532 275h0M529 308h0M528 297h0M537 341h0M528 310h0M533 273h0M530 297h0M529 303h0M521 270h0M527 274h0M524 272h0M533 295h0M528 292h0M526 326h0M524 298h0M540 362h0M540 358h0M526 312h0M522 267h0M526 297h0M544 404h0M542 409h0M455 459h0M530 413h0M530 413h0M542 398h0M504 440h0M535 415h0M506 434h0M458 484h0M472 464h0M545 395h0M545 401h0M486 461h0M546 395h0M502 449h0M487 455h0M500 439h0M483 457h0M469 475h0M496 447h0M566 388h0M562 376h0M582 383h0M557 381h0M619 403h0M589 392h0M564 389h0M564 381h0M612 394h0M593 398h0M604 398h0M577 378h0M592 384h0M576 380h0M601 391h0M558 380h0M617 399h0M568 379h0M613 401h0M596 393h0M601 388h0M604 396h0M552 384h0M555 384h0M621 404h0M583 384h0M572 382h0M615 404h0M608 401h0M575 380h0M623 401h0M563 383h0M562 381h0M581 383h0M605 392h0M579 377h0M567 373h0M629 408h0M563 385h0M619 408h0M564 382h0M559 383h0M576 374h0M575 384h0M608 394h0M596 391h0M579 390h0M566 389h0M586 389h0M622 407h0M585 379h0M568 381h0M619 404h0M562 380h0M616 400h0M593 393h0M567 382h0M579 391h0M569 378h0M582 394h0M568 384h0M606 396h0M570 387h0M591 391h0M574 374h0M613 401h0M577 388h0M627 405h0M613 394h0M563 380h0M583 394h0M580 388h0M585 395h0M604 395h0M582 386h0M600 396h0M628 405h0M622 409h0M582 378h0M616 407h0M662 359h0M676 344h0M679 317h0M679 349h0M681 306h0M680 329h0" stroke="#DB6DB0" stroke-width="3.80" stroke-linecap="square" fill="none"/>
<path transform="scale(.5)" d="M523 302h0M541 350h0M519 285h0M550 376h0M545 364h0M534 347h0M532 337h0M552 381h0M548 374h0M541 355h0M529 312h0M525 300h0M528 327h0M543 369h0M522 290h0M554 387h0M549 378h0M544 369h0M524 326h0M533 332h0M525 318h0M552 380h0M553 381h0M518 287h0M543 358h0M544 358h0M529 332h0M553 377h0M531 342h0M547 367h0M523 283h0M532 330h0M517 292h0M534 321h0M535 343h0M535 341h0M533 339h0M544 362h0M530 271h0M551 383h0M524 312h0M534 325h0M530 337h0M553 381h0M532 328h0M532 303h0M542 364h0M527 285h0M540 362h0M533 348h0M537 343h0M537 349h0M529 296h0M534 346h0M541 351h0M540 361h0M555 379h0M525 279h0M549 372h0M526 320h0M541 361h0M534 269h0M533 294h0M558 385h0M535 348h0M527 309h0M520 275h0M526 275h0M534 343h0M517 295h0M535 333h0M535 343h0M529 339h0M550 375h0M536 339h0M536 336h0M551 382h0M536 337h0M536 340h0M554 383h0M532 311h0M534 333h0M548 367h0M529 323h0M531 327h0M469 483h0M499 453h0M493 459h0M538 415h0M525 422h0M532 410h0M551 394h0M538 414h0M453 465h0M511 437h0M476 464h0M549 396h0M539 410h0M518 430h0M526 423h0M551 394h0M520 422h0M543 401h0M495 450h0M469 471h0M494 450h0M487 448h0M488 449h0M479 463h0M484 461h0M494 442h0M475 467h0M518 430h0M544 396h0M499 450h0M493 443h0M508 443h0M554 388h0M531 421h0M476 460h0M475 455h0M512 434h0M482 460h0M473 468h0M547 403h0M525 420h0M611 393h0M627 403h0M559 384h0M580 383h0M569 375h0M601 401h0M598 388h0M613 402h0M612 406h0M601 398h0M622 406h0M617 397h0M582 392h0M605 396h0M589 389h0M597 394h0M579 384h0M625 405h0" stroke="#8A80C1" stroke-width="3.80" stroke-linecap="square" fill="none"/>
<path transform="scale(.5)" d="M530 329h0M526 298h0M516 290h0M517 309h0M522 282h0M520 310h0M516 298h0M523 299h0M523 294h0M523 293h0M531 271h0M523 292h0M518 305h0M530 275h0M517 300h0M520 297h0M520 275h0M524 297h0M524 299h0M521 283h0M517 294h0M525 297h0M523 286h0M531 287h0M534 289h0M523 313h0M525 320h0M522 297h0M516 287h0M516 293h0M530 313h0M524 278h0M516 275h0M534 268h0M523 283h0M522 297h0M518 298h0M526 282h0M529 286h0M522 310h0M524 301h0M530 260h0M521 305h0M524 269h0M525 266h0M523 265h0M529 274h0M532 263h0M525 284h0M526 288h0M522 320h0M526 280h0M522 320h0M526 298h0M532 263h0M522 286h0M463 466h0M479 460h0M493 456h0M509 434h0M469 453h0M487 457h0M480 458h0M460 458h0M478 465h0M551 398h0M533 408h0M498 447h0M504 451h0M493 439h0M544 407h0M523 433h0M494 458h0M518 422h0M505 438h0M463 469h0M481 451h0M472 456h0M455 466h0M509 442h0M462 462h0M503 442h0M492 448h0M497 451h0M506 433h0M516 425h0M466 468h0M535 415h0M492 440h0M518 438h0M473 479h0M518 425h0" stroke="#C49A2C" stroke-width="3.80" stroke-linecap="square" fill="none"/>
<path transform="scale(.5)" d="M532 337h0M544 359h0M532 349h0M534 323h0M539 349h0M537 356h0M539 343h0M539 354h0M533 338h0M551 377h0M546 370h0M480 460h0M478 455h0M519 432h0M523 418h0M532 421h0M537 416h0M517 439h0M504 443h0M470 459h0M492 438h0M483 470h0M481 456h0M524 420h0M473 464h0M517 428h0M488 450h0M519 435h0M471 452h0M507 438h0M531 415h0M477 465h0M457 459h0M539 403h0M522 425h0M467 471h0M473 478h0M549 399h0M477 464h0M474 458h0M556 391h0M543 405h0M478 472h0M548 401h0M548 402h0M500 455h0M536 410h0M466 461h0M498 445h0M541 407h0M507 434h0M491 444h0M534 415h0M528 426h0M470 455h0M473 479h0M490 445h0M512 425h0M467 467h0M489 446h0M486 458h0M510 433h0M460 464h0M532 417h0M510 427h0M512 432h0M486 462h0M488 449h0M480 461h0M498 447h0M525 419h0M524 416h0M471 472h0M492 448h0M535 414h0M538 400h0M489 461h0M498 442h0M529 421h0M473 447h0M479 465h0M471 477h0M498 456h0M535 410h0M541 412h0M499 447h0M498 443h0M503 435h0M541 414h0M500 444h0M473 469h0M531 408h0M512 444h0M475 456h0M476 469h0M484 451h0M487 454h0M532 418h0M476 470h0M505 440h0M553 392h0M480 469h0M579 383h0M586 387h0M599 397h0M553 383h0M596 394h0M602 392h0M557 383h0M586 389h0M618 399h0M584 394h0M632 407h0M625 404h0M566 390h0M564 383h0M590 395h0M575 384h0M604 391h0M578 388h0M580 383h0M579 376h0M568 386h0M603 398h0M617 404h0M614 398h0M595 386h0M631 406h0M631 406h0M616 404h0M578 388h0M602 394h0M585 386h0M606 435h0M600 432h0M604 424h0M602 439h0M601 434h0M604 416h0M604 413h0M603 414h0M600 423h0M605 430h0M602 432h0M604 407h0M606 425h0M598 438h0M605 421h0M604 435h0M604 433h0M604 428h0M604 432h0M600 430h0M606 406h0M603 408h0M602 420h0" stroke="#E8776B" stroke-width="3.80" stroke-linecap="square" fill="none"/>
<path transform="scale(.5)" d="M545 368h0M542 361h0M536 348h0M607 397h0M573 376h0M566 388h0M610 399h0M557 386h0M597 394h0M586 385h0M623 405h0M594 394h0M555 380h0M556 384h0M568 378h0M588 388h0M573 390h0M561 388h0M588 392h0M566 386h0M574 389h0M569 373h0M618 399h0M624 407h0M617 406h0M580 394h0M597 396h0M597 388h0M607 397h0M682 302h0M691 327h0M651 377h0M644 389h0M680 302h0M670 335h0M675 322h0M682 301h0M684 333h0M693 323h0M684 320h0M679 311h0M693 294h0M656 367h0M684 325h0M673 352h0M682 337h0M697 327h0M690 342h0M672 337h0M673 326h0M688 339h0M654 370h0M693 305h0M688 299h0M684 324h0M655 440h0M676 491h0M689 485h0M691 486h0M681 479h0M698 481h0M693 489h0M662 447h0M665 449h0M692 488h0" stroke="#5DAF4A" stroke-width="3.80" stroke-linecap="square" fill="none"/>
<path transform="scale(.5)" d="M496 442h0M517 430h0M515 434h0M530 412h0M507 433h0M511 440h0M502 447h0M496 453h0M529 416h0M461 462h0M546 394h0M475 471h0M526 424h0M547 397h0M551 391h0M557 386h0M541 404h0M482 471h0M515 423h0M629 409h0M595 397h0M606 399h0M595 388h0M600 389h0M604 400h0M614 402h0M565 386h0M592 384h0M568 387h0M580 391h0M564 379h0M600 421h0M600 430h0M603 422h0M600 432h0M605 418h0M602 441h0M601 424h0M602 435h0M601 432h0M603 430h0M601 431h0M603 431h0M601 440h0M604 415h0M674 337h0M686 312h0M694 298h0M679 317h0M678 310h0M695 318h0M690 299h0M691 319h0M658 360h0M674 330h0M649 379h0M661 357h0M683 331h0M690 309h0M685 300h0M681 336h0M700 306h0M694 330h0M671 354h0M685 342h0M676 338h0M665 354h0M687 302h0M672 344h0M689 303h0M690 300h0M666 354h0M636 402h0M691 307h0M679 347h0M684 314h0M672 339h0M689 325h0M674 335h0M691 331h0M677 315h0M648 381h0M649 379h0M682 346h0M687 341h0M674 344h0M696 316h0M689 310h0M672 331h0M686 317h0M692 314h0M674 337h0M688 303h0M679 309h0M658 361h0M638 398h0M686 311h0M690 314h0M657 364h0M682 334h0M680 316h0M639 396h0M687 315h0M669 347h0M673 335h0M684 298h0M668 343h0M679 327h0M633 407h0M655 371h0M679 340h0M670 349h0M696 306h0M664 354h0M673 340h0M695 301h0M699 318h0M664 349h0M683 291h0M695 311h0M668 349h0M677 315h0M681 341h0M641 393h0M684 299h0M684 324h0M646 385h0M651 376h0M670 344h0M686 321h0M671 344h0M690 331h0M680 294h0M688 334h0M680 324h0M650 379h0M652 377h0M682 346h0M698 318h0M690 321h0M697 308h0M666 351h0M691 341h0M667 353h0M683 325h0M641 394h0M681 301h0M650 376h0M681 302h0M641 392h0M659 366h0M677 338h0M680 325h0M694 483h0M685 472h0M690 493h0M685 480h0M671 453h0M645 424h0M689 508h0M686 490h0M667 457h0M655 438h0M681 475h0M696 484h0M681 465h0M694 487h0M646 423h0M653 431h0M691 486h0M679 476h0M689 487h0M668 449h0M676 463h0M680 465h0M688 488h0M675 480h0M645 424h0M677 495h0M680 473h0M677 475h0M678 473h0M686 483h0M669 455h0M665 446h0M654 434h0M675 466h0M690 483h0M663 449h0M675 476h0M687 484h0M683 494h0M686 489h0M662 448h0M686 489h0M660 445h0M668 454h0M673 471h0M696 485h0M673 463h0M679 475h0M682 485h0M682 504h0M671 456h0M679 463h0M664 451h0M675 472h0M695 485h0M669 460h0M676 483h0M684 488h0M639 416h0M665 454h0M650 432h0M659 443h0M688 490h0M691 477h0M691 484h0M675 466h0M660 441h0M663 449h0M669 459h0M647 425h0M675 461h0M695 490h0M694 479h0M647 428h0M685 467h0M648 426h0M664 448h0M692 484h0M686 480h0M695 473h0M670 465h0M679 465h0M693 490h0M650 432h0M674 458h0M677 481h0M682 490h0M683 502h0M684 486h0M652 433h0M667 455h0M681 499h0M676 471h0M652 432h0M684 482h0M673 458h0M680 479h0M695 490h0M695 475h0M678 474h0M686 489h0M684 488h0M663 446h0M684 476h0M685 482h0M689 477h0M680 487h0M687 512h0M690 491h0M692 485h0M691 476h0M681 466h0M636 412h0M669 457h0M681 466h0M687 495h0M678 479h0M659 444h0M677 478h0M681 463h0M693 503h0M682 479h0M685 491h0M696 491h0M678 474h0M661 447h0M680 495h0M688 505h0M664 453h0M688 468h0" stroke="#1FAA88" stroke-width="3.80" stroke-linecap="square" fill="none"/>
<path transform="scale(.5)" d="M460 477h0M462 483h0M496 441h0M546 403h0M521 430h0M530 410h0M554 393h0M524 427h0M551 391h0M457 486h0M462 473h0M483 459h0M510 431h0M454 475h0M462 480h0M510 431h0M537 407h0M477 459h0M461 485h0M520 416h0M467 483h0M517 434h0M461 481h0M469 451h0M523 418h0M482 466h0" stroke="#20AEE3" stroke-width="3.80" stroke-linecap="square" fill="none"/>
<path transform="scale(.5)" d="M549 376h0M555 387h0M528 309h0M530 294h0M524 278h0M527 305h0M526 288h0M525 310h0M529 330h0M522 260h0M536 352h0M522 260h0M518 271h0M518 271h0M528 274h0M524 256h0M527 322h0M524 260h0M553 381h0M521 270h0M529 324h0M525 292h0M527 312h0M554 380h0M533 347h0M526 286h0M532 336h0M529 299h0M540 353h0M532 263h0M530 328h0M524 270h0M526 304h0M538 350h0M544 368h0M542 359h0M530 260h0M527 307h0M548 365h0M544 366h0M527 261h0M527 273h0M527 266h0M520 269h0M520 265h0M537 352h0M524 324h0M523 269h0M548 370h0M535 347h0M553 380h0M524 261h0M534 349h0M526 309h0M540 349h0M526 321h0M527 319h0M527 281h0M527 310h0M522 271h0M534 257h0M537 347h0M527 263h0M534 277h0M531 316h0M524 323h0M528 268h0M528 280h0M525 262h0M524 280h0M527 325h0M526 317h0M520 418h0M493 461h0M498 447h0M466 478h0M487 454h0M471 461h0M492 445h0M458 475h0M474 454h0M455 477h0M512 428h0M485 455h0M496 445h0M544 401h0M509 442h0M516 425h0M502 450h0M496 440h0M521 434h0M494 458h0M534 412h0M458 463h0M488 453h0M512 438h0M595 384h0M552 381h0M593 394h0M610 399h0M624 401h0M595 397h0M601 402h0M593 387h0M558 379h0M572 378h0M581 379h0M561 377h0M603 397h0M586 387h0M561 381h0M589 392h0M559 383h0M583 379h0M588 387h0M574 384h0M624 405h0M626 405h0M610 397h0M579 389h0M626 403h0M572 385h0M594 394h0M579 386h0M590 381h0M589 396h0M603 391h0M593 392h0M597 397h0M593 390h0M562 375h0M605 400h0M561 383h0M583 379h0M619 403h0M597 387h0M610 402h0M620 408h0M624 405h0M582 392h0M570 374h0M617 398h0M573 376h0M588 391h0M631 404h0M587 385h0M590 396h0M620 405h0M605 396h0M623 402h0M597 393h0M579 389h0M600 396h0M620 404h0M610 395h0M632 404h0M563 384h0M562 386h0M590 394h0M615 405h0M593 388h0M560 381h0M623 407h0M585 393h0M616 405h0M599 398h0M576 385h0M571 378h0M612 401h0M690 334h0M665 346h0M646 385h0M681 324h0M684 315h0M688 332h0M672 341h0M669 347h0M696 306h0M680 340h0M693 294h0M677 341h0M656 369h0M664 349h0M676 323h0M678 337h0M681 309h0M689 308h0" stroke="#DB6DB0" stroke-width="3.80" stroke-linecap="square" fill="none"/>
<path transform="scale(.5)" d="M549 366h0M529 330h0M539 355h0M548 378h0M526 274h0M539 360h0M522 316h0M548 374h0M516 305h0M543 358h0M532 336h0M550 373h0M525 317h0M534 324h0M534 346h0M529 322h0M532 281h0M526 325h0M545 367h0M545 362h0M550 379h0M540 348h0M544 363h0M527 333h0M553 380h0M533 275h0M538 354h0M537 355h0M551 370h0M549 376h0M526 326h0M522 306h0M523 314h0M533 330h0M544 363h0M527 324h0M533 346h0M548 369h0M537 347h0M548 365h0M537 355h0M554 385h0M549 372h0M542 352h0M525 290h0M535 338h0M533 345h0M536 354h0M526 276h0M532 305h0M531 335h0M535 349h0M537 357h0M527 264h0M531 341h0M528 330h0M529 329h0M527 269h0M540 346h0M526 326h0M540 359h0M529 339h0M527 315h0M530 304h0M528 327h0M529 329h0M464 461h0M505 449h0M524 415h0M509 437h0M507 441h0M481 472h0M517 426h0M485 442h0M501 441h0M535 411h0M457 469h0M495 450h0M478 453h0M485 466h0M487 464h0M484 462h0M488 446h0M494 450h0M463 460h0M456 477h0M529 419h0M537 407h0M529 413h0M512 430h0M531 412h0M517 426h0M496 449h0M493 442h0M496 454h0M497 452h0M555 392h0M499 435h0M545 401h0M528 420h0M555 389h0M467 469h0M532 415h0M497 446h0M469 465h0M486 456h0M520 421h0M464 467h0M507 445h0M466 461h0M480 465h0M477 456h0M522 434h0M529 415h0M529 421h0M550 399h0M506 441h0M517 423h0M473 469h0M499 436h0M518 436h0M545 400h0M490 447h0M549 398h0M589 385h0M612 396h0M600 393h0M581 385h0M603 389h0M596 394h0M565 388h0M581 385h0M627 404h0M563 379h0M574 379h0M578 392h0M607 393h0M577 376h0M569 372h0M575 376h0M598 392h0M592 390h0M569 373h0M592 384h0" stroke="#8A80C1" stroke-width="3.80" stroke-linecap="square" fill="none"/>
<path transform="scale(.5)" d="M523 289h0M521 281h0M527 284h0M515 296h0M520 295h0M520 281h0M526 290h0M526 266h0M527 299h0M520 296h0M515 291h0M519 291h0M521 310h0M520 309h0M523 318h0M519 287h0M518 298h0M519 289h0M532 323h0M519 290h0M532 288h0M521 262h0M517 303h0M521 281h0M520 267h0M520 286h0M520 310h0M522 319h0M519 314h0M525 319h0M521 298h0M516 291h0M529 306h0M522 296h0M521 281h0M523 297h0M526 280h0M523 313h0M522 261h0M529 284h0M520 297h0M521 307h0M521 308h0M528 263h0M521 314h0M525 255h0M526 262h0M517 299h0M518 283h0M532 309h0M520 285h0M518 291h0M527 330h0M530 289h0M517 279h0M520 278h0M515 294h0M523 299h0M553 393h0M510 444h0M521 422h0M482 459h0M472 453h0M485 454h0M472 460h0M454 464h0M504 436h0M489 446h0M552 390h0M465 466h0M468 464h0M512 431h0M524 415h0M478 457h0M471 462h0M543 406h0M534 416h0M505 434h0M547 397h0M462 459h0M538 406h0M491 454h0M468 470h0M465 465h0M475 459h0M463 457h0M553 393h0M468 453h0M493 445h0M494 443h0M460 468h0M472 450h0M467 471h0M500 453h0M500 439h0M473 455h0M471 474h0" stroke="#C49A2C" stroke-width="3.80" stroke-linecap="square" fill="none"/>
<path transform="scale(.5)" d="M547 363h0M529 338h0M552 384h0M533 347h0M528 321h0M554 382h0M526 326h0M454 466h0M542 405h0M541 402h0M524 423h0M532 412h0M476 462h0M510 436h0M471 480h0M505 446h0M492 448h0M486 453h0M507 447h0M481 448h0M464 457h0M515 434h0M506 445h0M509 431h0M474 455h0M515 429h0M541 398h0M544 401h0M543 403h0M532 407h0M482 457h0M511 445h0M477 463h0M455 465h0M533 414h0M470 467h0M502 445h0M475 465h0M471 459h0M552 389h0M539 402h0M509 430h0M482 459h0M519 422h0M513 437h0M543 398h0M546 399h0M456 466h0M502 435h0M551 392h0M507 437h0M458 457h0M512 425h0M523 422h0M476 464h0M471 465h0M529 420h0M532 408h0M556 390h0M466 471h0M503 441h0M480 456h0M517 426h0M525 415h0M505 446h0M550 392h0M510 443h0M511 430h0M521 419h0M483 460h0M540 407h0M501 433h0M492 456h0M492 458h0M484 455h0M544 407h0M555 388h0M546 398h0M476 463h0M516 428h0M507 429h0M501 443h0M535 418h0M487 449h0M495 437h0M473 466h0M504 445h0M523 425h0M468 458h0M524 422h0M577 383h0M615 401h0M560 378h0M600 391h0M570 386h0M565 384h0M614 406h0M590 392h0M573 381h0M596 392h0M563 376h0M596 387h0M603 395h0M628 406h0M597 391h0M600 395h0M625 406h0M612 396h0M581 381h0M587 381h0M616 404h0M578 389h0M623 405h0M611 404h0M599 388h0M557 385h0M606 398h0M612 399h0M608 391h0M580 382h0M578 378h0M603 428h0M606 410h0M604 427h0M603 432h0M603 428h0M598 430h0M605 433h0M606 421h0M603 416h0M599 436h0M604 423h0M605 413h0" stroke="#E8776B" stroke-width="3.80" stroke-linecap="square" fill="none"/>
<path transform="scale(.5)" d="M531 319h0M529 302h0M525 260h0M526 312h0M528 262h0M549 391h0M501 436h0M507 438h0M492 440h0M485 462h0M482 448h0M523 421h0M496 446h0M473 467h0M501 442h0M486 446h0M536 416h0M515 437h0M496 454h0M563 387h0M588 388h0M606 394h0M566 386h0M597 387h0M591 387h0M582 396h0M615 405h0M568 383h0M563 386h0M562 388h0M610 398h0M609 396h0M570 385h0M598 397h0M560 375h0M602 427h0M602 421h0M600 433h0M601 427h0M601 435h0M606 420h0M602 424h0M605 407h0M601 433h0M605 424h0M603 430h0M605 425h0M603 421h0M604 413h0M602 415h0M603 408h0M603 425h0M604 418h0M601 430h0M600 418h0M600 424h0M602 420h0M604 418h0M605 414h0M599 433h0M681 304h0M683 321h0M690 296h0M665 356h0M698 312h0M678 321h0M663 354h0M662 362h0M689 305h0M681 336h0M686 329h0M690 311h0M668 354h0M652 377h0M679 311h0M684 325h0M650 378h0M636 400h0M691 316h0M664 352h0M696 302h0M690 299h0M692 319h0M680 330h0M682 331h0M671 346h0M677 333h0M669 333h0M670 341h0M655 373h0M688 342h0M651 375h0M668 343h0M688 334h0M678 322h0M670 347h0M680 324h0M670 338h0M690 335h0M682 291h0M673 342h0M668 351h0M689 335h0M658 364h0M664 356h0M684 310h0M689 300h0M667 343h0M687 325h0M691 309h0M686 341h0M676 344h0M670 337h0M671 335h0M676 331h0M688 311h0M679 340h0M661 360h0M650 380h0M650 379h0M643 390h0M691 329h0M672 345h0M676 345h0M667 348h0M662 353h0M661 364h0M697 326h0M672 332h0M646 384h0M682 323h0M686 328h0M688 297h0M685 339h0M680 335h0M683 295h0M689 295h0M672 336h0M673 343h0M684 327h0M660 360h0M641 393h0M661 447h0M662 446h0M690 502h0M688 487h0M640 418h0M679 473h0M672 460h0M681 469h0M677 478h0M651 433h0M690 472h0M671 464h0M682 463h0M689 487h0M679 469h0M666 454h0M693 491h0M646 425h0M677 474h0M667 451h0M680 464h0M682 483h0M685 469h0M681 475h0M683 466h0M696 480h0M689 490h0M679 502h0M656 441h0M660 444h0M667 456h0M640 417h0M694 510h0M665 451h0M686 487h0M658 440h0M648 426h0M691 478h0M677 475h0M669 455h0M681 489h0M684 509h0M648 426h0M683 490h0M679 480h0M666 450h0M686 492h0M681 490h0M680 504h0M680 476h0M681 474h0M688 481h0M697 481h0M679 462h0M678 464h0M687 471h0M675 478h0M681 465h0M682 466h0M663 451h0M689 475h0M696 486h0M678 482h0M671 453h0M687 509h0M698 498h0M672 465h0M694 484h0M696 498h0M687 489h0M686 502h0M663 452h0M638 415h0M693 482h0M685 481h0M685 485h0M680 474h0M659 444h0M691 486h0M683 470h0M652 431h0M681 498h0M670 464h0M676 478h0M687 501h0M679 484h0M656 438h0M633 410h0M666 454h0M688 479h0M682 499h0M688 488h0M683 474h0M694 498h0M679 481h0M688 471h0M680 482h0M688 505h0M683 488h0M691 485h0M650 429h0M694 489h0M658 441h0M670 454h0M683 472h0M673 460h0M645 422h0M683 478h0M643 423h0M657 436h0M661 446h0M665 451h0M689 471h0M682 485h0M660 441h0M664 447h0M674 464h0M682 474h0M637 414h0M684 509h0M686 494h0M682 500h0M648 427h0M676 473h0M635 412h0M686 474h0M688 482h0M699 492h0M689 492h0M689 498h0M681 494h0" stroke="#1FAA88" stroke-width="3.80" stroke-linecap="square" fill="none"/>
<path transform="scale(.5)" d="M533 345h0M531 340h0M534 322h0M543 353h0M535 344h0M550 372h0M541 352h0M533 328h0M530 338h0M613 403h0M628 406h0M582 385h0M569 387h0M608 404h0M592 400h0M577 389h0M629 410h0M568 380h0M563 388h0M564 382h0M593 390h0M576 383h0M589 388h0M608 398h0M579 383h0M601 395h0M616 399h0M629 407h0M574 382h0M624 406h0M590 381h0M602 396h0M600 394h0M601 387h0M605 393h0M564 376h0M668 347h0M686 298h0M690 328h0M668 354h0M685 332h0M683 313h0M669 347h0M695 324h0M682 296h0M657 369h0M679 320h0M671 338h0M686 314h0M679 337h0M692 301h0M657 368h0M694 311h0M639 395h0M686 301h0M690 323h0M652 372h0M688 323h0M679 339h0M691 303h0M696 327h0M683 335h0M690 312h0M682 306h0M695 328h0M695 295h0M637 398h0M688 304h0M676 331h0M680 320h0M696 300h0M654 375h0M659 362h0M694 301h0M670 345h0M674 343h0M675 458h0M683 473h0M665 453h0M686 471h0M647 428h0M681 471h0M674 470h0M696 498h0M689 492h0" stroke="#5DAF4A" stroke-width="3.80" stroke-linecap="square" fill="none"/>
<path transform="scale(.5)" d="M461 484h0M552 390h0M473 464h0M508 441h0M536 411h0M467 478h0M467 477h0M524 421h0M463 475h0M470 474h0M500 451h0M473 470h0M557 390h0M461 479h0M552 396h0" stroke="#20AEE3" stroke-width="3.80" stroke-linecap="square" fill="none"/>
<path transform="scale(.5)" d="M523 305h0M518 286h0M524 255h0M522 318h0M517 286h0M521 299h0M520 306h0M521 300h0M524 306h0M522 264h0M521 295h0M527 274h0M522 306h0M515 303h0M521 305h0M516 280h0M523 269h0M530 296h0M529 309h0M521 291h0M519 297h0M520 311h0M523 309h0M520 300h0M520 295h0M532 320h0M529 256h0M522 281h0M521 295h0M528 274h0M526 266h0M519 291h0M521 282h0M520 298h0M532 317h0M528 313h0M520 317h0M516 292h0M522 275h0M529 265h0M524 323h0M518 308h0M517 298h0M526 305h0M526 308h0M519 289h0M518 278h0M521 287h0M530 303h0M518 280h0M524 295h0M522 296h0M521 302h0M527 264h0M531 257h0M556 388h0M467 462h0M552 393h0M548 394h0M452 468h0M462 462h0M471 472h0M509 439h0M493 448h0M539 408h0M462 463h0M459 454h0M480 457h0M534 416h0M461 454h0M540 403h0M464 466h0M482 452h0M467 472h0M462 469h0M489 442h0M459 466h0M483 464h0M536 403h0M498 443h0M496 455h0" stroke="#C49A2C" stroke-width="3.80" stroke-linecap="square" fill="none"/>
<path transform="scale(.5)" d="M528 333h0M528 280h0M532 291h0M553 380h0M524 275h0M539 356h0M527 270h0M528 279h0M525 293h0M522 262h0M530 310h0M527 286h0M525 289h0M529 331h0M533 282h0M529 272h0M525 321h0M525 311h0M528 284h0M530 298h0M529 309h0M525 298h0M525 255h0M527 326h0M526 293h0M525 310h0M527 274h0M531 284h0M527 291h0M527 299h0M529 297h0M533 260h0M533 287h0M530 289h0M530 330h0M531 298h0M526 331h0M530 256h0M531 328h0M518 269h0M552 378h0M532 269h0M523 262h0M532 269h0M524 314h0M532 319h0M530 265h0M525 288h0M525 316h0M552 380h0M531 283h0M520 268h0M524 313h0M524 311h0M532 327h0M526 267h0M527 262h0M537 349h0M524 278h0M523 256h0M529 303h0M530 274h0M526 280h0M538 344h0M531 333h0M543 361h0M527 297h0M532 293h0M526 303h0M529 301h0M526 307h0M527 307h0M498 448h0M456 469h0M481 452h0M473 452h0M530 418h0M549 398h0M544 397h0M548 394h0M528 420h0M480 451h0M456 474h0M519 420h0M488 444h0M536 404h0M482 454h0M480 453h0M550 396h0M493 459h0M505 441h0M507 436h0M522 430h0M512 436h0M475 457h0M506 436h0M498 452h0M540 409h0M556 391h0M503 440h0M481 463h0M531 421h0M489 450h0M557 385h0M591 395h0M591 394h0M606 403h0M578 381h0M579 376h0M571 377h0M610 398h0M623 406h0M587 385h0M616 405h0M598 395h0M577 390h0M583 380h0M583 391h0M616 401h0M598 387h0M630 407h0M571 380h0M612 393h0M605 390h0M568 385h0M605 392h0M573 388h0M593 397h0M569 383h0M563 374h0M579 388h0M602 392h0M629 409h0M573 377h0M568 385h0M564 384h0M607 403h0M589 390h0M594 390h0M579 385h0M579 381h0M570 375h0M578 383h0M591 399h0M570 376h0M576 385h0M585 395h0M609 398h0M612 399h0M569 377h0M617 401h0M567 376h0M595 397h0M621 408h0M598 390h0M563 385h0M609 394h0M627 407h0M591 391h0M626 407h0M621 399h0M558 384h0M583 382h0M619 400h0M575 380h0M598 394h0M582 387h0M601 400h0M604 403h0M607 392h0M605 392h0M610 396h0M567 381h0M573 377h0M573 383h0M599 398h0M613 395h0M592 384h0M599 396h0M571 384h0M597 400h0M668 350h0M664 357h0M672 339h0M665 359h0M667 347h0M653 375h0M687 342h0M642 392h0M676 347h0M647 385h0M656 366h0M684 340h0" stroke="#DB6DB0" stroke-width="3.80" stroke-linecap="square" fill="none"/>
<path transform="scale(.5)" d="M519 272h0M528 278h0M524 278h0M542 358h0M548 369h0M556 387h0M521 309h0M524 268h0M526 317h0M534 321h0M515 286h0M546 367h0M534 332h0M520 265h0M538 347h0M541 355h0M539 350h0M521 300h0M523 301h0M540 349h0M533 346h0M526 313h0M535 333h0M538 343h0M547 370h0M521 293h0M531 298h0M544 356h0M547 370h0M551 378h0M553 384h0M534 339h0M543 363h0M531 302h0M523 274h0M533 328h0M533 333h0M536 339h0M544 361h0M535 268h0M529 294h0M527 320h0M536 338h0M544 368h0M530 295h0M522 284h0M546 369h0M541 347h0M531 334h0M551 372h0M531 300h0M531 346h0M544 367h0M522 268h0M530 311h0M542 365h0M529 326h0M533 314h0M525 323h0M550 375h0M551 373h0M544 364h0M529 334h0M535 354h0M526 325h0M508 444h0M531 414h0M526 415h0M453 464h0M489 460h0M529 415h0M468 460h0M479 473h0M464 465h0M556 391h0M483 457h0M488 461h0M503 438h0M493 446h0M504 442h0M462 486h0M521 431h0M472 468h0M514 427h0M543 408h0M501 450h0M519 436h0M545 404h0M469 464h0M515 436h0M515 427h0M467 481h0M468 461h0M464 469h0M525 424h0M477 448h0M480 447h0M546 404h0M480 469h0M533 416h0M485 463h0M472 455h0M522 432h0M537 410h0M522 416h0M452 476h0M476 463h0M496 439h0M498 437h0M462 478h0M513 437h0M463 468h0M528 410h0M455 481h0M537 413h0M516 427h0M470 478h0M494 451h0M540 411h0M545 404h0M496 450h0M511 433h0M491 439h0M615 399h0M617 397h0M568 374h0M587 388h0M583 379h0M617 399h0M610 399h0M580 379h0M624 404h0M609 400h0M594 385h0M619 400h0M586 382h0M590 397h0M582 388h0" stroke="#8A80C1" stroke-width="3.80" stroke-linecap="square" fill="none"/>
<path transform="scale(.5)" d="M526 277h0M522 293h0M521 307h0M524 304h0M530 259h0M523 315h0M526 328h0M522 307h0M557 387h0M477 452h0M466 470h0M510 446h0M480 471h0M488 461h0M522 425h0M553 391h0M539 404h0M475 462h0M533 413h0M507 434h0M484 459h0M494 449h0M495 446h0M463 453h0M528 410h0M513 437h0M502 440h0M612 395h0M565 373h0M607 401h0M563 383h0M629 405h0M624 402h0M582 387h0M611 397h0M579 390h0M583 378h0M559 388h0M565 388h0M568 384h0M620 401h0M561 379h0M575 391h0M615 397h0M575 377h0M554 383h0M579 384h0M604 400h0M601 426h0M601 422h0M602 427h0M604 424h0M604 421h0M606 431h0M605 435h0M599 430h0M604 429h0M604 418h0M604 432h0M603 416h0M602 417h0M688 342h0M689 292h0M681 324h0M674 326h0M635 404h0M682 300h0M687 313h0M650 381h0M669 342h0M633 406h0M683 334h0M648 381h0M671 353h0M664 353h0M688 301h0M666 350h0M666 349h0M690 331h0M684 298h0M693 336h0M689 340h0M669 350h0M685 329h0M658 367h0M685 344h0M635 403h0M651 375h0M684 299h0M693 314h0M649 381h0M679 298h0M688 325h0M681 295h0M667 346h0M671 343h0M688 313h0M673 350h0M665 351h0M691 293h0M687 305h0M689 308h0M690 298h0M689 306h0M670 342h0M689 336h0M684 325h0M688 302h0M645 388h0M675 346h0M688 329h0M656 368h0M655 369h0M689 292h0M692 343h0M681 336h0M692 310h0M673 328h0M676 343h0M679 307h0M660 359h0M680 311h0M688 305h0M690 308h0M691 339h0M690 295h0M684 297h0M664 360h0M694 300h0M685 323h0M676 313h0M691 326h0M637 400h0M684 310h0M688 315h0M671 331h0M686 294h0M690 337h0M692 295h0M690 302h0M652 376h0M697 305h0M667 356h0M690 317h0M663 353h0M690 318h0M690 312h0M676 339h0M651 375h0M673 338h0M697 300h0M670 342h0M690 318h0M677 323h0M681 332h0M678 462h0M664 450h0M689 489h0M690 476h0M654 434h0M654 437h0M661 447h0M681 462h0M669 459h0M657 440h0M650 429h0M699 490h0M678 485h0M692 478h0M665 452h0M689 507h0M689 491h0M649 431h0M695 483h0M636 413h0M681 467h0M679 481h0M662 448h0M638 415h0M663 447h0M688 472h0M683 471h0M681 485h0M688 502h0M670 464h0M678 480h0M681 472h0M674 465h0M657 440h0M680 479h0M668 451h0M689 498h0M677 478h0M664 450h0M682 478h0M679 465h0M693 486h0M670 464h0M676 480h0M646 425h0M652 435h0M671 454h0M671 466h0M682 496h0M653 436h0M685 474h0M672 455h0M679 464h0M673 464h0M686 474h0M685 509h0M646 425h0M675 477h0M682 494h0M686 479h0M698 480h0M685 485h0M663 447h0M679 473h0M689 499h0M648 426h0M682 481h0M677 475h0M699 499h0M698 482h0M685 505h0M648 426h0M673 464h0M676 463h0M686 478h0M699 501h0M677 493h0M695 490h0M651 433h0M671 458h0M662 448h0M679 487h0M684 483h0M673 468h0M645 424h0M670 459h0M688 469h0M688 499h0M683 469h0M691 492h0M645 422h0M681 467h0M644 422h0M647 425h0M668 455h0M649 428h0M692 495h0M662 445h0M684 494h0M687 475h0M671 457h0M680 477h0M687 480h0M678 483h0M676 468h0M685 469h0M677 492h0M691 494h0M686 505h0M691 498h0M686 482h0M680 468h0M659 443h0M668 457h0M684 473h0M693 500h0M691 482h0M690 468h0M689 475h0M680 492h0M678 467h0M655 436h0M674 479h0M679 471h0M688 485h0M693 482h0M681 484h0" stroke="#1FAA88" stroke-width="3.80" stroke-linecap="square" fill="none"/>
<path transform="scale(.5)" d="M529 335h0M543 366h0M545 358h0M533 340h0M528 325h0M539 349h0M550 373h0M536 354h0M517 429h0M525 430h0M553 395h0M455 460h0M506 442h0M482 465h0M518 434h0M489 455h0M489 443h0M499 449h0M511 434h0M495 443h0M530 412h0M474 470h0M500 446h0M534 419h0M510 440h0M520 435h0M539 413h0M534 419h0M500 436h0M498 435h0M457 465h0M549 394h0M467 463h0M482 458h0M490 457h0M558 388h0M495 457h0M489 455h0M526 430h0M468 475h0M546 399h0M522 423h0M483 467h0M519 432h0M495 441h0M484 446h0M461 458h0M510 438h0M509 433h0M468 463h0M467 461h0M471 457h0M522 426h0M553 389h0M536 404h0M502 449h0M495 450h0M494 455h0M525 417h0M531 411h0M489 458h0M489 446h0M486 456h0M529 411h0M491 450h0M462 455h0M470 470h0M545 402h0M462 463h0M497 436h0M469 471h0M490 456h0M492 453h0M497 443h0M510 432h0M503 443h0M478 462h0M516 435h0M495 459h0M524 430h0M479 456h0M483 453h0M614 400h0M605 394h0M593 385h0M564 382h0M571 388h0M567 382h0M602 396h0M571 382h0M579 385h0M595 396h0M563 380h0M581 379h0M630 406h0M613 406h0M602 393h0M566 380h0M604 399h0M589 395h0M574 385h0M594 396h0M575 381h0M579 392h0M567 386h0M620 404h0M563 383h0M590 387h0M573 387h0M624 402h0M587 391h0M597 397h0M588 379h0M629 405h0M584 392h0M586 386h0M589 395h0M570 380h0M601 440h0M603 421h0M605 425h0M604 416h0M599 432h0M604 426h0M601 419h0M606 422h0M603 429h0M605 431h0M603 409h0M602 426h0M605 426h0M604 407h0M600 417h0M603 429h0M601 425h0M604 410h0M605 423h0M601 429h0M602 421h0M604 420h0M598 434h0" stroke="#E8776B" stroke-width="3.80" stroke-linecap="square" fill="none"/>
<path transform="scale(.5)" d="M533 337h0M549 374h0M544 363h0M545 370h0M529 321h0M533 338h0M531 337h0M553 383h0M623 399h0M570 376h0M572 389h0M614 399h0M607 396h0M554 380h0M590 387h0M564 379h0M593 395h0M569 391h0M587 397h0M614 400h0M597 389h0M620 408h0M603 393h0M567 381h0M673 350h0M683 347h0M679 336h0M668 351h0M698 315h0M685 340h0M681 292h0M678 335h0M691 315h0M686 309h0M669 345h0M680 332h0M689 327h0M686 304h0M692 324h0M682 312h0M677 338h0M689 319h0M692 309h0M669 351h0M686 292h0M670 354h0M690 316h0M674 325h0M671 353h0M690 315h0M658 365h0M665 360h0M686 293h0M664 349h0M686 311h0M665 354h0M682 302h0M695 332h0M686 498h0M689 485h0M641 419h0M664 450h0M664 453h0M673 469h0M673 469h0M662 447h0M674 471h0M684 483h0M633 410h0M684 505h0M641 419h0" stroke="#5DAF4A" stroke-width="3.80" stroke-linecap="square" fill="none"/>
<path transform="scale(.5)" d="M534 414h0M457 474h0M453 475h0M492 446h0M459 470h0M530 416h0M463 473h0M466 483h0M542 399h0M524 421h0M484 452h0M462 472h0M476 467h0M522 434h0M507 432h0M454 476h0M476 451h0M465 485h0M461 487h0M499 440h0M485 455h0M498 456h0M457 478h0M467 481h0M542 404h0" stroke="#20AEE3" stroke-width="3.80" stroke-linecap="square" fill="none"/>
<polyline points="315.9,204.0 323.5,191.6 330.3,180.3 335.8,172.3" fill="none" stroke="#111" stroke-width="0.45"/>
<polyline points="315.9,204.0 323.5,213.0 331.0,223.2 337.2,232.2" fill="none" stroke="#111" stroke-width="0.45"/>
<circle cx="278.20" cy="193.59" r="1.70" fill="none" stroke="#000" stroke-width="1.1"/>
<circle cx="302.21" cy="201.73" r="1.70" fill="none" stroke="#000" stroke-width="1.1"/>
<circle cx="315.93" cy="203.99" r="1.70" fill="none" stroke="#000" stroke-width="1.1"/>
<line x1="218.4" y1="122.5" x2="218.4" y2="258.2" stroke="#8c8c8c" stroke-width="0.6"/>
<line x1="218.4" y1="258.2" x2="356.5" y2="258.2" stroke="#8c8c8c" stroke-width="0.6"/>
<line x1="219.2" y1="258.2" x2="219.2" y2="259.7" stroke="#8c8c8c" stroke-width="0.5"/>
<text x="219.2" y="266.5" font-size="5.4" text-anchor="middle" font-weight="normal" fill="#4d4d4d">−10</text>
<line x1="253.5" y1="258.2" x2="253.5" y2="259.7" stroke="#8c8c8c" stroke-width="0.5"/>
<text x="253.5" y="266.5" font-size="5.4" text-anchor="middle" font-weight="normal" fill="#4d4d4d">−5</text>
<line x1="287.8" y1="258.2" x2="287.8" y2="259.7" stroke="#8c8c8c" stroke-width="0.5"/>
<text x="287.8" y="266.5" font-size="5.4" text-anchor="middle" font-weight="normal" fill="#4d4d4d">0</text>
<line x1="322.1" y1="258.2" x2="322.1" y2="259.7" stroke="#8c8c8c" stroke-width="0.5"/>
<text x="322.1" y="266.5" font-size="5.4" text-anchor="middle" font-weight="normal" fill="#4d4d4d">5</text>
<line x1="356.4" y1="258.2" x2="356.4" y2="259.7" stroke="#8c8c8c" stroke-width="0.5"/>
<text x="356.4" y="266.5" font-size="5.4" text-anchor="middle" font-weight="normal" fill="#4d4d4d">10</text>
<line x1="216.9" y1="144.2" x2="218.4" y2="144.2" stroke="#8c8c8c" stroke-width="0.5"/>
<text x="213.6" y="146.2" font-size="5.4" text-anchor="end" font-weight="normal" fill="#4d4d4d">5.0</text>
<line x1="216.9" y1="172.4" x2="218.4" y2="172.4" stroke="#8c8c8c" stroke-width="0.5"/>
<text x="213.6" y="174.4" font-size="5.4" text-anchor="end" font-weight="normal" fill="#4d4d4d">2.5</text>
<line x1="216.9" y1="200.6" x2="218.4" y2="200.6" stroke="#8c8c8c" stroke-width="0.5"/>
<text x="213.6" y="202.6" font-size="5.4" text-anchor="end" font-weight="normal" fill="#4d4d4d">0.0</text>
<line x1="216.9" y1="228.9" x2="218.4" y2="228.9" stroke="#8c8c8c" stroke-width="0.5"/>
<text x="213.6" y="230.9" font-size="5.4" text-anchor="end" font-weight="normal" fill="#4d4d4d">−2.5</text>
<line x1="216.9" y1="257.1" x2="218.4" y2="257.1" stroke="#8c8c8c" stroke-width="0.5"/>
<text x="213.6" y="259.1" font-size="5.4" text-anchor="end" font-weight="normal" fill="#4d4d4d">−5.0</text>
<text x="287.8" y="277.2" font-size="5.5" text-anchor="middle" font-weight="bold" fill="#000">Component 1</text>
<text x="200.0" y="190.5" font-size="5.5" text-anchor="middle" font-weight="bold" fill="#000" transform="rotate(-90 200.0 190.5)">Component 2</text>
<circle cx="364.50" cy="137.50" r="1.50" fill="#E8776B" stroke="none" stroke-width="0.4"/>
<text x="369.7" y="139.6" font-size="5.5" text-anchor="start" font-weight="normal" fill="#222">C3+ Macro</text>
<circle cx="364.50" cy="153.03" r="1.50" fill="#C49A2C" stroke="none" stroke-width="0.4"/>
<text x="369.7" y="155.1" font-size="5.5" text-anchor="start" font-weight="normal" fill="#222">CD163L1+ Macro</text>
<circle cx="364.50" cy="168.56" r="1.50" fill="#5DAF4A" stroke="none" stroke-width="0.4"/>
<text x="369.7" y="170.7" font-size="5.5" text-anchor="start" font-weight="normal" fill="#222">CXCL5+ Macro</text>
<circle cx="364.50" cy="184.09" r="1.50" fill="#1FAA88" stroke="none" stroke-width="0.4"/>
<text x="369.7" y="186.2" font-size="5.5" text-anchor="start" font-weight="normal" fill="#222">FCN1+ Mono</text>
<circle cx="364.50" cy="199.62" r="1.50" fill="#20AEE3" stroke="none" stroke-width="0.4"/>
<text x="369.7" y="201.7" font-size="5.5" text-anchor="start" font-weight="normal" fill="#222">PLK1+ Macro</text>
<circle cx="364.50" cy="215.15" r="1.50" fill="#8A80C1" stroke="none" stroke-width="0.4"/>
<text x="369.7" y="217.2" font-size="5.5" text-anchor="start" font-weight="normal" fill="#222">SPP1+ Macro</text>
<circle cx="364.50" cy="230.68" r="1.50" fill="#DB6DB0" stroke="none" stroke-width="0.4"/>
<text x="369.7" y="232.8" font-size="5.5" text-anchor="start" font-weight="normal" fill="#222">TRPM2+ Macro</text>
<text x="429.0" y="9.5" font-size="13" text-anchor="start" font-weight="bold" fill="#000">d</text>
<line x1="445.5" y1="19.4" x2="451.7" y2="19.4" stroke="#E8736B" stroke-width="1.3"/>
<text x="455.8" y="21.5" font-size="5.5" text-anchor="start" font-weight="normal" fill="#222">Angiogenesis_Score</text>
<line x1="445.5" y1="30.3" x2="451.7" y2="30.3" stroke="#B8A030" stroke-width="1.3"/>
<text x="455.8" y="32.4" font-size="5.5" text-anchor="start" font-weight="normal" fill="#222">Antigen_presentation_Score</text>
<line x1="530.4" y1="19.4" x2="536.6" y2="19.4" stroke="#3DB458" stroke-width="1.3"/>
<text x="540.7" y="21.5" font-size="5.5" text-anchor="start" font-weight="normal" fill="#222">Complement_Function_Score</text>
<line x1="530.4" y1="30.3" x2="536.6" y2="30.3" stroke="#1FB5BD" stroke-width="1.3"/>
<text x="540.7" y="32.4" font-size="5.5" text-anchor="start" font-weight="normal" fill="#222">M1_Score</text>
<line x1="618.6" y1="19.4" x2="624.8" y2="19.4" stroke="#6491D6" stroke-width="1.3"/>
<text x="628.9" y="21.5" font-size="5.5" text-anchor="start" font-weight="normal" fill="#222">M2_Score</text>
<line x1="618.6" y1="30.3" x2="624.8" y2="30.3" stroke="#C97CB8" stroke-width="1.3"/>
<text x="628.9" y="32.4" font-size="5.5" text-anchor="start" font-weight="normal" fill="#222">Phagocytosis_Score</text>
<line x1="463.4" y1="40.0" x2="463.4" y2="105.7" stroke="#e6e6e6" stroke-width="0.5"/>
<line x1="514.3" y1="40.0" x2="514.3" y2="105.7" stroke="#e6e6e6" stroke-width="0.5"/>
<line x1="565.2" y1="40.0" x2="565.2" y2="105.7" stroke="#e6e6e6" stroke-width="0.5"/>
<line x1="616.1" y1="40.0" x2="616.1" y2="105.7" stroke="#e6e6e6" stroke-width="0.5"/>
<line x1="667.0" y1="40.0" x2="667.0" y2="105.7" stroke="#e6e6e6" stroke-width="0.5"/>
<line x1="453.5" y1="89.0" x2="683.0" y2="89.0" stroke="#e6e6e6" stroke-width="0.5"/>
<line x1="453.5" y1="71.1" x2="683.0" y2="71.1" stroke="#e6e6e6" stroke-width="0.5"/>
<line x1="453.5" y1="53.2" x2="683.0" y2="53.2" stroke="#e6e6e6" stroke-width="0.5"/>
<line x1="453.5" y1="98.0" x2="683.0" y2="98.0" stroke="#f3f3f3" stroke-width="0.4"/>
<line x1="453.5" y1="80.1" x2="683.0" y2="80.1" stroke="#f3f3f3" stroke-width="0.4"/>
<line x1="453.5" y1="62.2" x2="683.0" y2="62.2" stroke="#f3f3f3" stroke-width="0.4"/>
<line x1="453.5" y1="44.3" x2="683.0" y2="44.3" stroke="#f3f3f3" stroke-width="0.4"/>
<line x1="488.8" y1="40.0" x2="488.8" y2="105.7" stroke="#f3f3f3" stroke-width="0.4"/>
<line x1="539.8" y1="40.0" x2="539.8" y2="105.7" stroke="#f3f3f3" stroke-width="0.4"/>
<line x1="590.6" y1="40.0" x2="590.6" y2="105.7" stroke="#f3f3f3" stroke-width="0.4"/>
<line x1="641.5" y1="40.0" x2="641.5" y2="105.7" stroke="#f3f3f3" stroke-width="0.4"/>
<path d="M463.4,101.5 C470.2,101.5 490.5,101.3 504.1,101.1 C517.7,100.9 533.0,100.6 544.8,100.2 C556.7,99.8 566.9,99.4 575.4,98.8 C583.9,98.2 589.0,97.3 595.7,96.6 C602.5,95.9 607.6,95.4 616.1,94.8 C624.6,94.2 637.0,93.5 646.6,93.0 C656.3,92.5 669.5,91.9 674.1,91.7" fill="none" stroke="#3DB458" stroke-width="1.0"/>
<path d="M463.4,93.9 C471.9,94.1 497.3,94.7 514.3,94.8 C531.3,94.9 553.3,94.3 565.2,94.4 C577.1,94.4 578.8,94.7 585.6,95.3 C592.3,95.8 599.1,96.8 605.9,97.5 C612.7,98.2 619.5,98.9 626.3,99.3 C633.1,99.7 638.7,99.7 646.6,99.7 C654.6,99.7 669.5,99.4 674.1,99.3" fill="none" stroke="#E8736B" stroke-width="1.0"/>
<path d="M463.4,91.2 C471.9,91.3 497.3,91.8 514.3,91.7 C531.3,91.6 553.3,90.9 565.2,90.8 C577.1,90.7 578.8,90.7 585.6,91.2 C592.3,91.8 599.1,93.1 605.9,93.9 C612.7,94.7 619.5,95.6 626.3,96.2 C633.1,96.8 638.7,97.2 646.6,97.5 C654.6,97.8 669.5,97.9 674.1,98.0" fill="none" stroke="#1FB5BD" stroke-width="1.0"/>
<path d="M463.4,95.3 C471.9,95.1 497.3,94.6 514.3,94.4 C531.3,94.1 548.2,94.3 565.2,93.9 C582.2,93.5 602.5,92.7 616.1,92.1 C629.7,91.5 637.0,91.0 646.6,90.3 C656.3,89.7 669.5,88.5 674.1,88.1" fill="none" stroke="#6491D6" stroke-width="1.0"/>
<path d="M463.4,103.3 C466.8,102.6 477.0,100.0 483.8,98.8 C490.5,97.7 495.6,96.8 504.1,96.2 C512.6,95.5 524.5,95.1 534.7,94.8 C544.8,94.5 556.7,94.9 565.2,94.4 C573.7,93.8 579.6,93.6 585.6,91.7 C591.5,89.7 595.7,85.7 600.8,82.7 C605.9,79.8 610.2,76.3 616.1,73.8 C622.0,71.2 629.7,69.8 636.5,67.5 C643.2,65.3 650.5,62.6 656.8,60.4 C663.1,58.1 671.2,55.1 674.1,54.1" fill="none" stroke="#C97CB8" stroke-width="1.0"/>
<path d="M463.4,61.3 C468.5,60.8 484.6,58.9 493.9,58.6 C503.3,58.3 510.9,58.9 519.4,59.5 C527.9,60.1 534.7,61.1 544.8,62.2 C555.0,63.2 571.1,65.6 580.5,65.7 C589.8,65.9 594.9,64.2 600.8,63.0 C606.8,61.9 610.2,60.2 616.1,59.0 C622.0,57.8 629.7,57.3 636.5,55.9 C643.2,54.5 650.5,52.7 656.8,50.5 C663.1,48.4 671.2,44.2 674.1,42.9" fill="none" stroke="#B8A030" stroke-width="1.0"/>
<line x1="453.3" y1="40.3" x2="453.3" y2="105.7" stroke="#333" stroke-width="0.7"/>
<line x1="453.3" y1="105.7" x2="683.0" y2="105.7" stroke="#333" stroke-width="0.7"/>
<line x1="463.4" y1="105.7" x2="463.4" y2="107.3" stroke="#333" stroke-width="0.5"/>
<text x="463.4" y="114.0" font-size="5.4" text-anchor="middle" font-weight="normal" fill="#4d4d4d">0</text>
<line x1="514.3" y1="105.7" x2="514.3" y2="107.3" stroke="#333" stroke-width="0.5"/>
<text x="514.3" y="114.0" font-size="5.4" text-anchor="middle" font-weight="normal" fill="#4d4d4d">5</text>
<line x1="565.2" y1="105.7" x2="565.2" y2="107.3" stroke="#333" stroke-width="0.5"/>
<text x="565.2" y="114.0" font-size="5.4" text-anchor="middle" font-weight="normal" fill="#4d4d4d">10</text>
<line x1="616.1" y1="105.7" x2="616.1" y2="107.3" stroke="#333" stroke-width="0.5"/>
<text x="616.1" y="114.0" font-size="5.4" text-anchor="middle" font-weight="normal" fill="#4d4d4d">15</text>
<line x1="667.0" y1="105.7" x2="667.0" y2="107.3" stroke="#333" stroke-width="0.5"/>
<text x="667.0" y="114.0" font-size="5.4" text-anchor="middle" font-weight="normal" fill="#4d4d4d">20</text>
<line x1="451.8" y1="89.0" x2="453.3" y2="89.0" stroke="#333" stroke-width="0.5"/>
<text x="450.5" y="91.0" font-size="5.4" text-anchor="end" font-weight="normal" fill="#4d4d4d">0.2</text>
<line x1="451.8" y1="71.1" x2="453.3" y2="71.1" stroke="#333" stroke-width="0.5"/>
<text x="450.5" y="73.1" font-size="5.4" text-anchor="end" font-weight="normal" fill="#4d4d4d">0.4</text>
<line x1="451.8" y1="53.2" x2="453.3" y2="53.2" stroke="#333" stroke-width="0.5"/>
<text x="450.5" y="55.2" font-size="5.4" text-anchor="end" font-weight="normal" fill="#4d4d4d">0.6</text>
<text x="435.0" y="72.6" font-size="5.5" text-anchor="middle" font-weight="bold" fill="#000" transform="rotate(-90 435.0 72.6)">Score</text>
<text x="565.5" y="124.0" font-size="5.5" text-anchor="middle" font-weight="bold" fill="#000">Pseudotime</text>
<text x="445.0" y="136.5" font-size="13" text-anchor="start" font-weight="bold" fill="#000">e</text>
<text x="546.7" y="165.5" font-size="5.4" text-anchor="middle" font-weight="normal" fill="#222">VSIR</text>
<path transform="scale(.5)" d="M1130 453h0M1128 451h0M1132 453h0M1126 452h0M1132 453h0M1129 452h0M1125 452h0M1133 452h0M1126 452h0M1132 452h0M1129 451h0M1130 452h0M1127 452h0M1130 452h0M1130 453h0M1130 453h0M1128 451h0M1134 451h0M1126 453h0M1131 452h0M1132 451h0M1127 451h0M1129 452h0M1132 452h0M1130 432h0M1127 432h0M1125 431h0M1134 430h0M1131 431h0M1130 431h0M1129 431h0M1127 431h0M1127 430h0M1127 432h0M1127 432h0M1132 431h0M1127 431h0M1125 431h0M1128 432h0M1129 432h0M1131 431h0M1126 432h0M1126 432h0M1129 431h0M1132 430h0M1125 431h0M1132 432h0M1131 432h0M1133 432h0M1130 431h0M1132 432h0M1133 411h0M1128 412h0M1128 412h0M1127 411h0M1130 412h0M1127 411h0M1128 412h0M1132 410h0M1126 412h0M1129 412h0M1131 411h0M1125 411h0M1129 411h0M1128 411h0M1131 412h0M1133 411h0M1130 412h0M1130 412h0M1131 410h0M1133 412h0M1126 410h0M1130 400h0M1126 400h0M1129 400h0M1125 400h0M1127 399h0M1126 401h0M1125 400h0M1126 400h0" stroke="#3d7fb4" stroke-width="4.80" stroke-linecap="round" fill="none"/>
<path transform="scale(.5)" d="M1180 453h0M1187 452h0M1181 452h0M1188 453h0M1188 451h0M1183 452h0M1185 452h0M1180 451h0M1181 452h0M1186 453h0M1187 453h0M1185 451h0M1185 452h0M1181 451h0M1183 431h0M1180 432h0M1189 431h0M1187 430h0M1183 432h0M1185 431h0M1186 432h0M1187 431h0M1184 431h0M1182 431h0M1181 431h0M1183 432h0M1189 431h0M1186 431h0M1186 432h0M1187 412h0M1185 411h0M1185 412h0M1184 412h0M1181 412h0M1182 411h0M1185 411h0M1183 411h0M1188 412h0M1180 410h0M1186 410h0M1188 411h0M1189 411h0M1188 411h0M1185 410h0M1182 400h0M1187 399h0M1182 400h0M1188 401h0M1181 399h0M1187 400h0M1186 400h0M1183 399h0M1182 391h0M1181 391h0M1188 392h0M1184 390h0M1186 392h0M1188 392h0M1181 392h0M1180 392h0M1187 385h0M1184 385h0M1185 385h0M1185 385h0M1186 385h0M1185 384h0M1186 385h0M1185 384h0M1189 380h0M1185 380h0M1189 379h0M1186 380h0M1186 379h0M1185 380h0M1188 379h0M1186 380h0M1184 379h0M1184 380h0M1185 375h0M1187 376h0M1188 375h0M1186 375h0M1185 375h0M1188 376h0M1185 371h0M1186 372h0M1186 371h0M1185 368h0M1188 367h0M1187 367h0M1187 367h0M1185 368h0M1189 367h0M1186 365h0M1189 365h0M1188 365h0M1188 365h0M1186 365h0M1187 362h0M1187 362h0M1186 362h0M1188 360h0M1187 360h0M1189 360h0M1188 359h0M1188 357h0M1189 358h0M1187 357h0M1188 355h0M1188 355h0M1188 353h0M1188 353h0M1188 351h0" stroke="#4998d5" stroke-width="4.80" stroke-linecap="round" fill="none"/>
<path transform="scale(.5)" d="M1164 453h0M1169 453h0M1167 453h0M1162 453h0M1165 451h0M1170 452h0M1165 453h0M1167 452h0M1163 451h0M1164 452h0M1162 452h0M1168 452h0M1170 452h0M1168 451h0M1170 452h0M1168 452h0M1164 452h0M1170 453h0M1163 453h0M1169 453h0M1168 452h0M1162 451h0M1163 452h0M1169 451h0M1165 451h0M1162 452h0M1169 452h0M1169 432h0M1166 432h0M1162 431h0M1169 431h0M1163 432h0M1168 432h0M1164 432h0M1167 432h0M1162 431h0M1169 431h0M1169 431h0M1166 431h0M1170 431h0M1167 432h0M1168 431h0M1166 411h0M1170 411h0M1162 411h0M1164 411h0M1166 412h0M1168 412h0M1167 412h0M1163 410h0M1165 410h0M1168 412h0M1169 412h0M1166 412h0M1164 411h0M1167 410h0M1169 411h0M1168 411h0M1164 412h0M1167 412h0M1165 411h0M1169 411h0M1163 412h0M1163 411h0M1164 400h0M1166 399h0M1168 400h0M1170 401h0M1166 399h0M1164 400h0M1169 400h0M1164 400h0M1167 400h0M1169 400h0M1170 401h0M1169 399h0M1164 400h0M1166 399h0M1164 400h0M1170 400h0M1163 400h0M1165 400h0M1165 399h0M1165 400h0M1169 390h0M1167 391h0M1164 392h0M1163 390h0M1163 391h0M1166 391h0M1166 390h0M1166 392h0M1168 385h0M1167 385h0M1170 380h0M1166 371h0" stroke="#4590ca" stroke-width="4.80" stroke-linecap="round" fill="none"/>
<path transform="scale(.5)" d="M955 452h0M953 453h0M956 452h0M959 452h0M957 452h0M957 452h0M959 451h0M955 452h0M958 453h0M956 453h0M954 451h0M958 453h0M958 451h0M951 451h0M954 453h0M952 453h0M958 452h0M959 453h0M958 452h0M955 452h0M953 432h0M959 431h0M957 432h0M956 431h0M957 431h0M953 431h0M956 431h0M953 431h0M955 431h0M956 432h0M957 432h0M960 431h0M953 432h0M954 430h0M959 430h0M957 431h0M956 432h0M953 412h0M956 411h0M959 411h0M954 412h0M956 411h0M955 412h0M956 411h0M955 411h0M954 411h0M959 412h0M953 411h0M958 412h0M956 412h0M958 412h0M957 412h0M959 411h0M952 410h0M955 411h0M953 411h0M955 412h0M954 412h0M958 412h0M955 399h0M953 400h0M955 400h0M956 400h0M954 399h0M954 399h0M959 400h0M959 399h0M953 401h0M956 399h0M953 401h0M955 400h0M953 399h0M959 399h0M953 401h0M956 400h0M952 399h0M959 399h0M953 400h0M952 399h0M960 392h0M955 391h0M954 391h0M954 391h0M959 391h0M956 391h0M959 391h0M951 390h0M959 391h0M951 391h0M957 392h0M958 385h0M956 384h0M959 385h0M955 385h0M957 380h0M953 379h0M954 380h0M957 380h0M954 379h0M955 380h0M955 375h0M954 375h0M960 375h0M958 375h0M955 375h0M955 375h0M960 371h0M953 372h0M953 372h0M955 368h0M954 367h0M958 368h0M959 367h0" stroke="#152f49" stroke-width="4.80" stroke-linecap="round" fill="none"/>
<path transform="scale(.5)" d="M1224 452h0M1223 452h0M1224 452h0M1225 451h0M1217 452h0M1218 452h0M1225 452h0M1222 453h0M1217 451h0M1223 452h0M1222 451h0M1222 452h0M1222 451h0M1219 452h0M1222 453h0M1225 451h0M1225 452h0M1217 452h0M1216 452h0M1217 452h0M1224 452h0M1220 431h0M1225 430h0M1223 431h0M1221 430h0M1217 432h0M1218 431h0M1219 432h0M1220 431h0M1224 431h0M1225 430h0M1225 432h0M1218 432h0M1221 432h0M1225 432h0M1220 432h0M1222 431h0M1220 431h0M1220 431h0M1224 432h0M1218 431h0M1218 432h0M1222 431h0M1223 430h0M1219 432h0M1219 431h0M1222 412h0M1217 410h0M1222 411h0M1223 411h0M1220 412h0M1219 411h0M1218 412h0M1220 411h0M1223 412h0M1224 411h0M1219 412h0M1222 412h0M1224 411h0M1223 412h0M1221 411h0M1221 410h0M1221 411h0M1225 410h0M1222 411h0M1224 411h0M1221 399h0M1222 400h0M1223 399h0M1221 399h0M1224 401h0M1224 399h0M1221 400h0M1224 399h0M1217 400h0M1219 400h0M1225 392h0M1218 392h0M1225 391h0M1220 391h0M1224 392h0M1222 391h0M1221 391h0M1222 391h0M1223 392h0M1224 391h0M1221 384h0M1220 385h0M1222 385h0M1225 385h0M1224 385h0M1223 385h0M1224 384h0M1224 380h0M1222 380h0M1224 380h0M1225 375h0" stroke="#52a9ec" stroke-width="4.80" stroke-linecap="round" fill="none"/>
<path transform="scale(.5)" d="M1212 451h0M1216 453h0M1212 451h0M1209 451h0M1216 453h0M1215 452h0M1214 452h0M1208 452h0M1211 452h0M1215 452h0M1210 452h0M1211 451h0M1210 451h0M1214 452h0M1207 451h0M1213 452h0M1212 452h0M1211 453h0M1209 452h0M1215 451h0M1211 452h0M1208 451h0M1215 432h0M1210 431h0M1215 432h0M1210 431h0M1210 431h0M1214 431h0M1208 432h0M1212 431h0M1214 432h0M1208 432h0M1214 432h0M1208 430h0M1213 432h0M1210 431h0M1216 431h0M1209 432h0M1211 432h0M1208 431h0M1209 431h0M1216 432h0M1208 432h0M1207 432h0M1212 412h0M1214 411h0M1212 411h0M1210 412h0M1215 412h0M1209 411h0M1209 411h0M1216 412h0M1216 412h0M1208 411h0M1211 410h0M1213 412h0M1209 412h0M1208 410h0M1209 411h0M1215 411h0M1209 412h0M1210 410h0M1209 412h0M1210 412h0M1209 412h0M1215 412h0M1216 399h0M1216 399h0M1214 399h0M1208 399h0M1214 400h0M1207 400h0M1208 400h0M1213 399h0M1211 400h0M1216 400h0M1214 399h0M1211 400h0M1214 401h0M1216 399h0M1209 399h0M1209 401h0M1212 399h0" stroke="#50a4e6" stroke-width="4.80" stroke-linecap="round" fill="none"/>
<path transform="scale(.5)" d="M1085 451h0M1088 452h0M1088 452h0M1081 452h0M1080 453h0M1080 452h0M1087 452h0M1087 451h0M1087 452h0M1088 453h0M1085 453h0M1082 452h0M1087 452h0M1087 452h0M1081 452h0M1085 452h0M1088 452h0M1080 451h0M1082 452h0M1084 451h0M1084 452h0M1085 453h0M1081 431h0M1081 432h0M1087 432h0M1079 432h0M1080 432h0M1081 431h0M1086 431h0M1081 431h0M1084 431h0M1085 432h0M1087 431h0M1084 432h0M1084 432h0M1086 431h0M1086 432h0M1085 431h0M1083 431h0M1086 432h0M1085 431h0M1083 431h0M1085 432h0M1084 432h0M1080 432h0M1085 411h0M1082 412h0M1088 412h0M1086 411h0M1086 412h0M1080 411h0M1086 411h0M1084 411h0M1080 410h0M1085 412h0M1082 411h0M1086 411h0M1086 411h0M1086 411h0M1085 411h0M1081 412h0M1081 410h0M1085 412h0M1081 411h0M1086 412h0M1084 412h0M1083 400h0M1088 399h0M1084 399h0M1086 401h0M1088 400h0M1087 401h0M1081 400h0M1082 400h0M1085 399h0M1086 400h0M1081 399h0M1082 401h0M1084 399h0M1087 391h0M1088 391h0M1081 392h0M1079 392h0M1088 391h0M1080 392h0M1081 391h0M1082 392h0M1086 390h0M1087 391h0M1087 391h0M1083 392h0M1086 390h0M1081 385h0M1081 385h0M1088 385h0M1085 384h0M1083 380h0M1083 380h0M1084 379h0M1081 375h0M1079 375h0" stroke="#326a97" stroke-width="4.80" stroke-linecap="round" fill="none"/>
<path transform="scale(.5)" d="M1107 452h0M1102 451h0M1104 452h0M1102 452h0M1099 452h0M1106 453h0M1105 452h0M1104 453h0M1106 452h0M1099 451h0M1099 451h0M1099 453h0M1102 452h0M1098 453h0M1105 451h0M1098 453h0M1104 452h0M1100 430h0M1104 432h0M1105 431h0M1099 430h0M1101 430h0M1100 432h0M1101 431h0M1100 431h0M1101 432h0M1098 431h0M1104 432h0M1102 432h0M1100 431h0M1106 431h0M1106 431h0M1104 432h0M1105 411h0M1100 411h0M1106 411h0M1100 411h0M1099 410h0M1098 412h0M1104 412h0M1102 412h0M1106 411h0M1098 412h0M1100 411h0M1101 400h0M1106 399h0M1098 401h0M1098 399h0M1102 399h0M1105 400h0M1106 399h0M1103 400h0M1102 392h0M1102 392h0M1105 391h0M1105 392h0M1099 391h0M1106 390h0M1103 391h0M1104 392h0M1101 391h0M1106 392h0M1105 385h0M1106 385h0M1104 385h0M1105 385h0M1101 385h0M1100 385h0M1100 385h0M1105 385h0M1105 385h0M1100 385h0M1104 385h0M1104 385h0M1106 385h0M1106 379h0M1102 379h0M1104 379h0M1100 380h0M1100 379h0M1102 379h0M1104 380h0M1107 380h0M1102 380h0M1103 379h0M1105 380h0M1102 379h0M1100 379h0M1101 376h0M1102 375h0M1105 376h0M1105 375h0M1105 375h0M1106 375h0M1105 371h0M1106 372h0M1101 371h0M1100 372h0M1104 371h0M1103 371h0M1103 372h0M1104 371h0M1105 371h0M1103 371h0M1105 368h0M1102 368h0M1105 368h0M1105 368h0M1104 367h0M1103 368h0M1105 367h0M1103 368h0M1103 368h0M1101 364h0M1105 365h0M1102 364h0M1103 365h0M1104 365h0M1105 365h0M1105 365h0M1106 365h0M1105 365h0M1107 365h0M1105 362h0M1106 362h0M1103 362h0M1105 362h0M1105 362h0M1106 362h0M1105 362h0M1104 362h0M1102 362h0M1105 360h0M1102 360h0M1105 360h0M1106 359h0M1103 360h0M1102 359h0M1102 360h0M1105 357h0M1103 357h0M1103 357h0M1105 357h0M1102 357h0M1106 357h0M1106 355h0M1103 355h0M1103 355h0M1105 355h0M1103 355h0M1104 354h0M1103 353h0M1104 353h0M1105 353h0M1105 384h0M1103 385h0M1102 384h0M1105 385h0M1104 385h0M1103 379h0M1100 380h0M1100 379h0M1100 380h0M1099 379h0M1104 375h0M1101 371h0M1103 371h0" stroke="#3772a3" stroke-width="4.80" stroke-linecap="round" fill="none"/>
<path transform="scale(.5)" d="M950 451h0M947 453h0M950 452h0M947 452h0M950 452h0M949 453h0M947 453h0M950 452h0M948 431h0M949 431h0M948 432h0M949 430h0M950 431h0M949 432h0M948 431h0M948 431h0M948 431h0M947 432h0M949 432h0M948 431h0M947 411h0M949 411h0M951 411h0M951 410h0M950 412h0M949 411h0M947 410h0M951 412h0M947 400h0M948 400h0M951 399h0M948 400h0M950 401h0M949 400h0M950 400h0M947 391h0M949 391h0M949 385h0M950 384h0M950 380h0M951 380h0" stroke="#132b43" stroke-width="4.80" stroke-linecap="round" fill="none"/>
<path transform="scale(.5)" d="M994 453h0M994 451h0M994 452h0M992 453h0M994 452h0M993 452h0M994 452h0M995 451h0M995 451h0M996 452h0M993 451h0M996 452h0M996 453h0M996 451h0M989 431h0M989 432h0M988 431h0M989 432h0M995 412h0M994 412h0M990 412h0M990 410h0M991 412h0M992 412h0M993 410h0M990 412h0M989 410h0M992 412h0M996 399h0M993 385h0M993 385h0M989 385h0M990 360h0" stroke="#1d405f" stroke-width="4.80" stroke-linecap="round" fill="none"/>
<path transform="scale(.5)" d="M1008 451h0M1013 451h0M1013 452h0M1011 452h0M1012 451h0M1010 451h0M1012 451h0M1015 452h0M1010 452h0M1008 452h0M1014 452h0M1011 453h0M1010 452h0M1010 451h0M1012 431h0M1007 432h0M1008 432h0M1011 431h0M1012 432h0M1011 432h0M1010 432h0M1006 432h0M1009 432h0M1008 432h0M1009 431h0M1011 431h0M1007 432h0M1011 412h0M1013 411h0M1012 411h0M1014 411h0M1011 411h0M1015 411h0M1015 411h0M1011 412h0M1009 399h0M1009 400h0M1008 401h0M1007 400h0M1009 399h0M1010 399h0M1010 400h0M1007 399h0M1013 384h0M1008 385h0M1008 385h0M1007 380h0M1006 380h0M1008 380h0" stroke="#22486a" stroke-width="4.80" stroke-linecap="round" fill="none"/>
<path transform="scale(.5)" d="M1236 453h0M1237 452h0M1235 452h0M1236 452h0M1240 452h0M1236 453h0M1236 452h0M1237 452h0M1237 452h0M1238 431h0M1237 432h0M1236 431h0M1239 432h0M1238 431h0M1237 432h0M1237 432h0M1240 432h0M1235 431h0M1237 431h0M1236 431h0M1238 431h0M1237 432h0M1240 432h0M1237 432h0M1239 432h0M1236 410h0M1235 411h0M1236 412h0M1236 410h0M1237 410h0M1237 412h0M1235 412h0M1240 411h0M1241 411h0M1240 411h0M1240 410h0M1241 411h0M1237 412h0M1239 411h0M1237 410h0M1236 412h0M1237 400h0M1239 399h0M1239 399h0M1240 401h0M1240 400h0M1238 400h0M1238 401h0M1240 400h0M1237 401h0M1239 399h0M1235 400h0M1240 400h0M1237 400h0" stroke="#56b1f7" stroke-width="4.80" stroke-linecap="round" fill="none"/>
<path transform="scale(.5)" d="M1229 452h0M1231 453h0M1228 451h0M1229 452h0M1228 452h0M1228 453h0M1228 453h0M1233 452h0M1229 453h0M1227 452h0M1227 452h0M1233 452h0M1233 452h0M1233 451h0M1226 452h0M1232 452h0M1234 451h0M1228 453h0M1233 452h0M1228 452h0M1230 451h0M1230 453h0M1227 452h0M1233 453h0M1229 452h0M1231 451h0M1226 451h0M1228 451h0M1234 451h0M1233 453h0M1227 432h0M1228 432h0M1232 431h0M1229 431h0M1226 431h0M1228 431h0M1226 431h0M1234 432h0M1228 430h0M1227 432h0M1227 432h0M1227 411h0M1229 411h0M1231 412h0M1227 411h0M1235 412h0M1233 411h0M1229 412h0M1235 411h0M1233 412h0M1234 411h0M1229 412h0M1233 411h0M1229 412h0M1227 412h0M1231 412h0M1228 411h0M1230 411h0M1234 399h0M1227 401h0M1228 399h0M1226 400h0M1232 400h0M1231 400h0M1233 399h0M1233 399h0M1230 400h0M1233 399h0M1229 399h0M1230 400h0M1231 399h0M1233 390h0M1231 391h0M1227 390h0M1232 392h0M1231 391h0M1233 391h0M1226 385h0M1227 379h0M1227 379h0M1226 376h0M1226 375h0M1234 380h0" stroke="#54adf1" stroke-width="4.80" stroke-linecap="round" fill="none"/>
<path transform="scale(.5)" d="M1146 451h0M1146 452h0M1149 453h0M1150 452h0M1144 452h0M1149 453h0M1148 452h0M1149 452h0M1145 453h0M1144 453h0M1147 453h0M1150 452h0M1146 452h0M1149 453h0M1149 452h0M1150 453h0M1147 453h0M1148 452h0M1151 453h0M1152 451h0M1145 452h0M1148 430h0M1149 431h0M1151 432h0M1147 432h0M1147 432h0M1145 431h0M1147 431h0M1150 430h0M1151 432h0M1152 432h0M1144 431h0M1145 431h0M1147 430h0M1144 431h0M1151 431h0M1146 431h0M1148 430h0M1147 431h0M1147 431h0M1149 432h0M1147 431h0M1144 432h0M1145 432h0M1152 431h0M1148 432h0M1144 431h0M1150 432h0M1148 411h0M1149 412h0M1149 411h0M1152 411h0M1147 411h0M1151 411h0M1147 412h0M1152 411h0M1149 411h0M1152 411h0M1152 412h0M1151 411h0M1148 412h0M1147 412h0M1152 410h0M1152 412h0M1148 410h0M1150 411h0M1146 400h0M1148 400h0M1149 399h0M1149 400h0M1147 400h0M1148 399h0M1146 400h0M1151 400h0M1149 399h0M1147 400h0M1144 391h0M1143 391h0M1152 391h0M1151 392h0M1148 392h0M1143 392h0M1146 392h0M1150 391h0M1145 391h0M1152 392h0M1145 392h0M1145 392h0M1148 392h0M1150 375h0" stroke="#4187bf" stroke-width="4.80" stroke-linecap="round" fill="none"/>
<path transform="scale(.5)" d="M1053 451h0M1057 453h0M1053 453h0M1053 452h0M1058 452h0M1057 452h0M1053 453h0M1058 451h0M1060 451h0M1060 453h0M1055 453h0M1057 451h0M1053 452h0M1057 451h0M1053 452h0M1060 451h0M1057 452h0M1059 452h0M1060 453h0M1058 453h0M1055 452h0M1061 453h0M1060 452h0M1059 452h0M1056 452h0M1054 431h0M1054 432h0M1059 432h0M1055 432h0M1055 432h0M1054 430h0M1054 431h0M1052 431h0M1056 432h0M1060 430h0M1052 432h0M1055 432h0M1057 431h0M1054 432h0M1053 432h0M1056 432h0M1057 431h0M1060 432h0M1056 431h0M1056 431h0M1055 432h0M1057 432h0M1061 432h0M1055 432h0M1060 432h0M1055 411h0M1060 412h0M1056 412h0M1060 411h0M1060 412h0M1055 412h0M1059 412h0M1059 412h0M1059 412h0M1053 411h0M1057 412h0M1059 410h0M1055 412h0M1054 411h0M1056 411h0M1059 412h0M1057 411h0M1055 400h0M1052 400h0M1053 399h0M1053 400h0M1056 400h0M1058 399h0M1057 399h0M1058 399h0M1054 400h0M1057 399h0M1054 385h0M1052 385h0M1053 379h0M1054 368h0" stroke="#2c5d86" stroke-width="4.80" stroke-linecap="round" fill="none"/>
<path transform="scale(.5)" d="M966 452h0M963 453h0M960 451h0M963 453h0M967 451h0M961 453h0M964 452h0M963 452h0M962 451h0M965 453h0M965 452h0M961 451h0M966 451h0M965 453h0M961 451h0M969 451h0M965 452h0M965 452h0M968 453h0M968 452h0M963 452h0M969 452h0M962 453h0M965 452h0M967 452h0M961 453h0M962 453h0M963 430h0M966 431h0M964 431h0M966 430h0M966 431h0M966 431h0M965 432h0M966 431h0M965 431h0M968 431h0M961 430h0M965 432h0M968 412h0M967 411h0M963 412h0M963 411h0M962 411h0M963 410h0M967 411h0M967 412h0M968 412h0M968 410h0M969 412h0M962 400h0M966 400h0M967 401h0M967 401h0M965 400h0M964 400h0M966 400h0M963 392h0M963 391h0M961 392h0M962 390h0M966 391h0M961 391h0M962 391h0M963 392h0M964 385h0M962 384h0M962 385h0M961 385h0M965 385h0M965 385h0M961 380h0M962 380h0M961 375h0M962 375h0M961 372h0M961 371h0M961 371h0" stroke="#17334e" stroke-width="4.80" stroke-linecap="round" fill="none"/>
<path transform="scale(.5)" d="M1124 451h0M1117 451h0M1121 453h0M1117 451h0M1117 452h0M1120 451h0M1122 452h0M1122 451h0M1120 451h0M1116 452h0M1119 453h0M1123 452h0M1121 451h0M1121 452h0M1123 453h0M1116 451h0M1116 452h0M1125 453h0M1121 452h0M1122 452h0M1118 453h0M1124 451h0M1117 451h0M1121 452h0M1118 453h0M1125 431h0M1124 432h0M1120 431h0M1118 431h0M1121 432h0M1117 431h0M1121 431h0M1120 432h0M1117 432h0M1123 432h0M1120 432h0M1117 431h0M1121 431h0M1120 431h0M1116 432h0M1121 431h0M1124 432h0M1122 432h0M1124 431h0M1119 410h0M1117 411h0M1119 411h0M1118 412h0M1120 411h0M1120 412h0M1119 412h0M1119 412h0M1124 412h0M1117 412h0M1117 411h0M1125 412h0M1122 412h0M1118 412h0M1119 410h0M1124 412h0M1117 412h0M1117 411h0M1121 411h0M1124 411h0M1119 411h0M1119 411h0M1120 412h0M1118 412h0M1118 412h0M1124 412h0M1116 399h0M1116 400h0M1125 399h0M1121 368h0" stroke="#3b7bae" stroke-width="4.80" stroke-linecap="round" fill="none"/>
<path transform="scale(.5)" d="M1038 453h0M1038 452h0M1040 451h0M1042 453h0M1038 452h0M1037 451h0M1038 451h0M1039 451h0M1040 453h0M1040 451h0M1038 452h0M1037 453h0M1036 451h0M1040 453h0M1037 453h0M1043 432h0M1038 432h0M1041 431h0M1040 432h0M1039 432h0M1038 432h0M1039 431h0M1041 431h0M1040 432h0M1040 432h0M1038 431h0M1039 411h0M1042 411h0M1040 411h0M1037 411h0M1040 411h0M1042 412h0M1038 412h0M1041 411h0M1039 412h0M1041 411h0M1040 411h0M1040 411h0M1039 412h0M1039 399h0M1037 399h0M1039 399h0M1042 400h0M1038 400h0M1042 399h0M1038 399h0M1040 399h0M1037 399h0M1037 400h0M1040 399h0M1037 400h0M1041 391h0M1039 390h0M1037 392h0M1038 391h0M1038 391h0M1040 391h0M1037 391h0M1040 391h0M1043 380h0" stroke="#28557b" stroke-width="4.80" stroke-linecap="round" fill="none"/>
<path transform="scale(.5)" d="M1195 451h0M1193 451h0M1195 452h0M1197 453h0M1190 452h0M1195 453h0M1193 453h0M1191 452h0M1191 451h0M1193 452h0M1191 452h0M1197 452h0M1190 452h0M1197 452h0M1191 452h0M1191 453h0M1192 453h0M1194 452h0M1189 453h0M1195 451h0M1195 452h0M1197 452h0M1193 451h0M1197 432h0M1194 432h0M1196 431h0M1196 432h0M1198 432h0M1191 431h0M1196 431h0M1192 432h0M1194 431h0M1192 412h0M1194 411h0M1195 412h0M1192 412h0M1192 410h0M1195 412h0M1196 411h0M1195 411h0M1190 411h0M1192 411h0M1195 412h0M1193 412h0M1190 412h0M1195 411h0M1191 411h0M1192 412h0M1197 412h0M1196 411h0M1193 411h0M1195 410h0M1193 410h0M1193 412h0M1195 411h0M1197 412h0M1192 399h0M1198 399h0M1197 399h0M1192 400h0M1194 399h0M1198 400h0M1190 400h0M1191 400h0M1192 400h0M1192 399h0M1192 399h0M1193 400h0M1198 401h0M1189 391h0M1197 392h0M1195 391h0M1192 392h0M1192 385h0M1198 385h0M1191 384h0M1196 385h0M1195 385h0M1195 385h0M1192 385h0M1195 384h0M1198 385h0M1194 385h0M1191 385h0M1196 385h0M1196 385h0M1191 379h0M1191 380h0M1190 379h0M1194 380h0M1189 380h0M1193 379h0M1190 380h0M1195 380h0M1195 375h0M1192 375h0M1195 376h0M1196 375h0M1192 375h0M1190 375h0M1192 375h0M1197 375h0M1193 375h0M1193 376h0M1198 375h0M1192 375h0M1194 375h0M1195 371h0M1189 371h0M1190 371h0M1196 371h0M1197 371h0M1191 371h0M1193 372h0M1193 372h0M1195 371h0M1195 371h0M1193 372h0M1196 371h0M1192 371h0M1191 371h0M1196 372h0M1189 368h0M1195 368h0M1190 367h0M1195 368h0M1191 367h0M1189 368h0M1191 368h0M1191 367h0M1190 368h0M1196 368h0M1197 368h0M1191 364h0M1194 365h0M1193 365h0M1189 364h0M1195 364h0M1195 364h0M1194 365h0M1192 365h0M1196 365h0M1193 365h0M1191 365h0M1192 362h0M1194 362h0M1196 362h0M1195 362h0M1194 363h0M1195 362h0M1190 362h0M1191 362h0M1192 362h0M1196 361h0M1190 362h0M1189 360h0M1190 360h0M1195 360h0M1194 359h0M1195 360h0M1194 360h0M1195 359h0M1194 359h0M1193 359h0M1190 357h0M1194 357h0M1189 357h0M1195 357h0M1192 357h0M1193 358h0M1192 357h0M1195 357h0M1190 358h0M1194 355h0M1191 355h0M1195 355h0M1192 355h0M1193 356h0M1194 355h0M1191 356h0M1193 355h0M1192 353h0M1190 353h0M1192 354h0M1194 353h0M1192 353h0M1190 353h0M1193 353h0M1190 351h0M1192 351h0M1194 352h0M1191 351h0M1192 351h0M1191 351h0M1191 351h0M1191 350h0M1190 350h0M1191 350h0M1192 350h0M1194 349h0M1192 349h0M1192 349h0M1191 348h0M1191 348h0M1190 348h0M1189 348h0M1190 348h0" stroke="#4c9cdb" stroke-width="4.80" stroke-linecap="round" fill="none"/>
<path transform="scale(.5)" d="M1178 452h0M1175 451h0M1177 453h0M1175 452h0M1174 452h0M1177 453h0M1176 452h0M1176 453h0M1174 453h0M1172 451h0M1179 452h0M1172 452h0M1176 452h0M1175 451h0M1177 453h0M1177 453h0M1173 452h0M1179 453h0M1171 452h0M1179 453h0M1172 431h0M1180 431h0M1177 432h0M1176 431h0M1177 431h0M1173 432h0M1179 432h0M1173 431h0M1172 431h0M1175 431h0M1177 431h0M1176 431h0M1171 431h0M1179 432h0M1172 432h0M1174 431h0M1179 431h0M1179 431h0M1175 432h0M1171 432h0M1177 431h0M1177 432h0M1174 432h0M1177 412h0M1180 411h0M1175 410h0M1178 412h0M1175 411h0M1178 411h0M1176 411h0M1171 410h0M1179 412h0M1180 412h0M1179 411h0M1177 412h0M1179 412h0M1176 411h0M1175 410h0M1179 412h0M1172 412h0M1172 400h0M1172 399h0M1172 399h0M1173 401h0M1179 399h0M1179 400h0M1172 399h0M1177 400h0M1176 400h0M1171 400h0M1178 400h0M1179 400h0M1180 401h0M1178 399h0M1177 399h0M1173 401h0M1174 399h0M1179 401h0M1174 392h0M1171 392h0M1177 391h0M1178 390h0M1171 384h0M1177 385h0M1177 379h0" stroke="#4794d0" stroke-width="4.80" stroke-linecap="round" fill="none"/>
<path transform="scale(.5)" d="M1051 452h0M1047 452h0M1046 452h0M1052 453h0M1050 451h0M1051 452h0M1046 453h0M1048 451h0M1050 452h0M1051 451h0M1045 453h0M1043 431h0M1047 431h0M1043 432h0M1044 432h0M1046 432h0M1049 431h0M1044 432h0M1043 431h0M1049 431h0M1043 431h0M1044 432h0M1049 431h0M1050 432h0M1047 431h0M1045 431h0M1046 432h0M1048 431h0M1048 432h0M1043 431h0M1043 431h0M1047 431h0M1047 432h0M1051 432h0M1048 412h0M1044 411h0M1048 412h0M1045 411h0M1047 411h0M1047 411h0M1047 411h0M1045 412h0M1050 412h0M1050 411h0M1044 412h0M1047 412h0M1048 412h0M1044 412h0M1044 412h0M1047 412h0M1051 412h0M1046 411h0M1046 412h0M1050 411h0M1047 400h0M1048 399h0M1049 400h0M1050 400h0M1048 400h0M1048 401h0M1047 400h0M1044 399h0M1047 399h0M1046 400h0M1044 399h0M1046 400h0M1050 400h0M1043 400h0M1050 400h0M1048 392h0M1051 392h0M1049 391h0M1046 392h0M1049 392h0M1045 392h0M1046 392h0M1048 385h0M1048 385h0M1049 385h0M1047 385h0M1052 379h0M1047 380h0M1046 376h0M1049 375h0" stroke="#2a5981" stroke-width="4.80" stroke-linecap="round" fill="none"/>
<path transform="scale(.5)" d="M1199 451h0M1205 452h0M1206 452h0M1202 451h0M1199 451h0M1203 432h0M1206 432h0M1199 432h0M1205 431h0M1207 431h0M1199 432h0M1203 432h0M1201 432h0M1204 431h0M1207 432h0M1205 431h0M1201 432h0M1198 432h0M1207 431h0M1207 432h0M1205 432h0M1199 432h0M1204 432h0M1206 432h0M1202 431h0M1203 431h0M1198 432h0M1200 411h0M1207 411h0M1207 411h0M1204 411h0M1201 411h0M1202 412h0M1203 411h0M1204 411h0M1206 411h0M1205 411h0M1203 411h0M1202 412h0M1207 411h0M1201 411h0M1201 410h0M1204 411h0M1201 411h0M1205 412h0M1201 412h0M1205 412h0M1201 412h0M1206 412h0M1205 412h0M1199 412h0M1201 412h0M1203 412h0M1199 412h0M1203 412h0M1206 400h0M1203 400h0M1202 400h0M1198 401h0M1204 400h0M1200 400h0M1206 399h0M1202 399h0M1203 399h0M1207 400h0M1201 399h0M1203 399h0M1205 401h0M1202 392h0M1203 391h0M1202 390h0M1201 391h0M1199 391h0M1204 392h0M1199 385h0M1198 379h0M1198 379h0M1198 380h0M1204 371h0" stroke="#4ea0e0" stroke-width="4.80" stroke-linecap="round" fill="none"/>
<path transform="scale(.5)" d="M999 451h0M997 453h0M999 452h0M997 452h0M1001 452h0M1002 451h0M1001 451h0M1001 452h0M999 451h0M998 451h0M1000 453h0M1005 411h0M1003 412h0M1004 411h0M1005 412h0M1004 411h0M1006 411h0M1002 411h0M1002 412h0M1004 411h0M1006 412h0M1004 412h0M1002 411h0M1002 411h0M1001 412h0M1006 411h0M1005 412h0M1004 411h0M1002 410h0M1002 412h0M1004 411h0M1005 401h0M1002 401h0M998 399h0M1003 399h0M998 400h0M1004 399h0M1003 400h0M1002 400h0M998 399h0M1004 400h0M1002 385h0M1001 385h0" stroke="#204465" stroke-width="4.80" stroke-linecap="round" fill="none"/>
<path transform="scale(.5)" d="M1066 451h0M1065 451h0M1066 452h0M1067 451h0M1070 453h0M1069 452h0M1062 453h0M1067 451h0M1063 451h0M1065 452h0M1070 451h0M1064 451h0M1064 453h0M1062 451h0M1061 451h0M1062 453h0M1068 453h0M1070 452h0M1067 452h0M1069 451h0M1065 431h0M1067 430h0M1066 431h0M1066 431h0M1068 432h0M1065 431h0M1064 432h0M1066 430h0M1068 431h0M1069 431h0M1061 431h0M1062 432h0M1062 430h0M1063 432h0M1069 431h0M1066 430h0M1066 430h0M1066 410h0M1062 412h0M1070 411h0M1066 412h0M1061 411h0M1066 412h0M1064 411h0M1068 412h0M1063 410h0M1065 412h0M1066 411h0M1066 410h0M1064 412h0M1064 412h0M1070 412h0M1061 412h0M1068 412h0M1069 411h0M1061 412h0M1061 410h0M1063 412h0M1068 411h0M1061 410h0M1068 412h0M1068 411h0M1070 411h0M1070 400h0M1067 400h0M1067 399h0M1069 400h0M1070 399h0M1069 391h0M1068 391h0M1070 392h0M1067 391h0M1069 391h0M1064 371h0" stroke="#2e618c" stroke-width="4.80" stroke-linecap="round" fill="none"/>
<path transform="scale(.5)" d="M1074 451h0M1070 452h0M1074 452h0M1074 452h0M1073 452h0M1079 453h0M1070 452h0M1077 453h0M1078 453h0M1076 453h0M1072 452h0M1070 451h0M1077 452h0M1074 452h0M1079 452h0M1076 453h0M1078 452h0M1075 451h0M1072 451h0M1078 452h0M1070 452h0M1070 453h0M1077 431h0M1072 431h0M1072 431h0M1077 431h0M1079 430h0M1078 432h0M1078 432h0M1077 432h0M1071 431h0M1072 432h0M1078 432h0M1076 432h0M1075 432h0M1071 431h0M1073 431h0M1076 430h0M1073 430h0M1071 431h0M1075 432h0M1070 432h0M1077 432h0M1077 432h0M1073 431h0M1077 432h0M1075 431h0M1073 411h0M1076 411h0M1072 411h0M1073 411h0M1073 411h0M1075 412h0M1078 412h0M1077 411h0M1077 412h0M1070 411h0M1076 411h0M1078 412h0M1073 411h0M1072 410h0M1079 411h0M1076 412h0M1073 412h0M1076 411h0M1078 410h0M1076 411h0M1078 401h0M1076 399h0M1077 399h0M1079 400h0M1072 400h0M1074 399h0M1072 399h0M1075 400h0M1077 399h0M1071 400h0M1073 399h0M1076 399h0M1078 399h0M1072 392h0M1070 392h0M1075 391h0M1076 391h0M1074 392h0M1076 390h0M1078 392h0M1078 391h0M1077 391h0M1071 385h0M1075 385h0M1077 385h0M1077 385h0M1074 380h0M1071 380h0M1077 376h0" stroke="#306692" stroke-width="4.80" stroke-linecap="round" fill="none"/>
<path transform="scale(.5)" d="M1161 452h0M1158 453h0M1158 451h0M1159 453h0M1156 452h0M1161 452h0M1157 451h0M1157 452h0M1161 452h0M1156 453h0M1159 452h0M1153 451h0M1159 452h0M1160 451h0M1157 452h0M1159 451h0M1161 451h0M1156 452h0M1161 431h0M1160 431h0M1158 431h0M1161 432h0M1161 431h0M1155 432h0M1159 432h0M1157 432h0M1156 430h0M1159 431h0M1156 431h0M1155 431h0M1161 432h0M1153 431h0M1161 431h0M1161 431h0M1157 431h0M1160 431h0M1153 432h0M1160 432h0M1159 411h0M1156 412h0M1154 411h0M1153 410h0M1160 412h0M1156 411h0M1158 410h0M1152 411h0M1157 411h0M1155 411h0M1161 412h0M1156 411h0M1160 410h0M1155 411h0M1158 411h0M1158 410h0M1156 411h0M1153 411h0M1153 412h0M1156 412h0M1160 399h0M1156 399h0M1159 399h0M1153 399h0M1160 399h0M1153 400h0M1155 399h0M1153 400h0M1156 399h0M1153 400h0M1159 392h0M1153 391h0M1159 392h0M1160 391h0M1155 392h0M1159 391h0M1153 391h0M1161 391h0M1156 392h0M1158 391h0M1153 392h0M1153 392h0M1157 391h0M1158 391h0" stroke="#438bc4" stroke-width="4.80" stroke-linecap="round" fill="none"/>
<path transform="scale(.5)" d="M1093 452h0M1089 453h0M1093 452h0M1097 452h0M1093 452h0M1096 451h0M1092 453h0M1091 452h0M1092 452h0M1096 451h0M1097 453h0M1094 452h0M1090 453h0M1092 451h0M1095 452h0M1098 431h0M1094 431h0M1096 432h0M1097 432h0M1093 432h0M1095 432h0M1094 431h0M1090 432h0M1089 431h0M1095 432h0M1091 431h0M1090 432h0M1092 432h0M1094 430h0M1089 430h0M1089 432h0M1090 432h0M1094 432h0M1092 430h0M1092 432h0M1091 431h0M1094 430h0M1091 431h0M1093 431h0M1097 431h0M1093 432h0M1091 431h0M1090 432h0M1091 431h0M1089 411h0M1091 411h0M1094 410h0M1096 411h0M1095 411h0M1094 412h0M1096 412h0M1088 412h0M1096 411h0M1097 411h0M1097 412h0M1089 411h0M1089 412h0M1095 411h0M1097 412h0M1097 412h0M1095 412h0M1089 411h0M1094 401h0M1094 400h0M1093 399h0M1097 399h0M1093 399h0M1094 399h0M1095 399h0M1094 400h0M1090 400h0M1097 399h0M1095 400h0M1094 399h0M1093 400h0M1096 399h0M1090 400h0M1096 401h0M1097 391h0M1093 392h0M1094 391h0M1091 391h0M1096 392h0M1093 392h0M1097 390h0M1095 385h0M1096 376h0M1096 375h0" stroke="#346e9d" stroke-width="4.80" stroke-linecap="round" fill="none"/>
<path transform="scale(.5)" d="M973 451h0M974 452h0M972 452h0M973 451h0M975 451h0M976 451h0M970 452h0M974 451h0M971 452h0M971 451h0M971 452h0M975 452h0M977 453h0M976 452h0M976 451h0M977 451h0M971 452h0M975 452h0M974 452h0M972 452h0M972 452h0M974 451h0M973 452h0M970 452h0M977 452h0M975 451h0M977 453h0M977 453h0M976 431h0M973 431h0M970 431h0M974 432h0M973 431h0M975 431h0M976 432h0M970 431h0M975 432h0M977 432h0M970 431h0M971 432h0M978 431h0M971 431h0M972 432h0M975 431h0M975 431h0M976 431h0M972 432h0M978 432h0M977 430h0M975 431h0M978 410h0M978 410h0M976 411h0M976 412h0M978 410h0M978 412h0M977 411h0M978 412h0M975 380h0M973 385h0" stroke="#193854" stroke-width="4.80" stroke-linecap="round" fill="none"/>
<path transform="scale(.5)" d="M1142 453h0M1136 453h0M1138 451h0M1136 452h0M1136 452h0M1142 451h0M1143 452h0M1137 452h0M1139 453h0M1139 453h0M1136 453h0M1143 451h0M1143 451h0M1136 452h0M1141 452h0M1139 453h0M1138 452h0M1136 451h0M1141 432h0M1142 432h0M1135 432h0M1140 432h0M1140 430h0M1140 431h0M1139 431h0M1136 431h0M1143 432h0M1138 431h0M1143 432h0M1143 432h0M1142 430h0M1139 432h0M1140 431h0M1140 431h0M1142 432h0M1142 431h0M1140 432h0M1135 431h0M1142 431h0M1136 432h0M1134 411h0M1137 412h0M1135 412h0M1141 412h0M1137 412h0M1135 411h0M1135 411h0M1135 412h0M1135 412h0M1135 412h0M1143 411h0M1141 412h0M1138 412h0M1136 411h0M1134 410h0M1137 411h0M1141 411h0M1138 410h0M1136 412h0M1143 399h0M1143 399h0M1140 399h0M1141 400h0M1143 400h0M1140 399h0M1139 401h0M1138 391h0M1140 391h0M1140 392h0M1138 391h0M1139 391h0M1143 392h0M1140 391h0M1140 392h0M1135 380h0" stroke="#3f83b9" stroke-width="4.80" stroke-linecap="round" fill="none"/>
<path transform="scale(.5)" d="M1107 451h0M1113 452h0M1107 451h0M1109 451h0M1108 453h0M1115 452h0M1110 451h0M1112 452h0M1112 452h0M1109 453h0M1113 451h0M1112 451h0M1109 453h0M1114 431h0M1111 432h0M1112 430h0M1112 432h0M1116 431h0M1108 432h0M1111 432h0M1112 432h0M1107 431h0M1109 432h0M1111 431h0M1110 431h0M1112 432h0M1107 431h0M1112 412h0M1107 411h0M1110 411h0M1114 410h0M1113 411h0M1107 411h0M1107 411h0M1112 411h0M1114 411h0M1114 410h0M1113 412h0M1109 411h0M1116 411h0M1115 412h0M1115 411h0M1112 411h0M1110 411h0M1110 412h0M1112 411h0M1114 411h0M1115 412h0M1109 412h0M1107 412h0M1113 399h0M1114 399h0M1107 399h0M1110 400h0M1116 401h0M1108 401h0M1107 399h0M1113 400h0M1107 391h0M1108 392h0M1107 392h0M1108 392h0M1107 385h0M1108 385h0M1109 384h0M1108 379h0M1108 375h0M1107 375h0M1108 375h0M1107 375h0M1108 376h0M1108 376h0M1107 375h0M1107 371h0M1108 372h0M1107 368h0M1107 368h0" stroke="#3976a8" stroke-width="4.80" stroke-linecap="round" fill="none"/>
<path transform="scale(.5)" d="M1019 451h0M1021 452h0M1016 452h0M1016 452h0M1021 452h0M1016 452h0M1018 451h0M1022 452h0M1024 452h0M1016 453h0M1017 452h0M1024 452h0M1024 453h0M1024 453h0M1023 452h0M1017 453h0M1023 432h0M1024 432h0M1022 431h0M1024 430h0M1016 411h0M1019 412h0M1016 412h0M1016 412h0M1017 412h0M1020 412h0M1024 410h0M1022 411h0M1017 411h0M1023 412h0M1020 410h0M1023 412h0M1023 410h0M1022 412h0M1021 412h0M1023 411h0M1024 412h0M1016 412h0M1017 411h0M1018 412h0M1015 410h0M1020 412h0M1023 411h0M1019 385h0M1022 371h0" stroke="#244c70" stroke-width="4.80" stroke-linecap="round" fill="none"/>
<path transform="scale(.5)" d="M985 431h0M985 432h0M979 432h0M985 432h0M985 432h0M984 431h0M987 432h0M985 432h0M983 431h0M979 410h0" stroke="#1b3c5a" stroke-width="4.80" stroke-linecap="round" fill="none"/>
<path transform="scale(.5)" d="M1025 431h0M1025 432h0M1026 431h0" stroke="#265176" stroke-width="4.80" stroke-linecap="round" fill="none"/>
<path d="M473.3,208.4 C479.2,208.8 496.9,210.0 508.7,211.0 C520.4,212.0 534.6,213.3 544.0,214.2 C553.4,215.1 558.7,215.8 565.2,216.4 C571.7,217.0 577.6,217.4 582.9,217.6 C588.2,217.8 592.3,217.9 597.0,217.8 C601.7,217.7 607.3,217.1 611.2,216.8 C615.1,216.5 618.8,216.0 620.4,215.8" fill="none" stroke="#000" stroke-width="0.7"/>
<line x1="465.4" y1="169.0" x2="465.4" y2="229.6" stroke="#333" stroke-width="0.6"/>
<line x1="465.4" y1="229.6" x2="627.8" y2="229.6" stroke="#333" stroke-width="0.6"/>
<line x1="473.3" y1="229.6" x2="473.3" y2="231.2" stroke="#333" stroke-width="0.5"/>
<text x="473.3" y="237.5" font-size="5.4" text-anchor="middle" font-weight="normal" fill="#4d4d4d">0</text>
<line x1="508.7" y1="229.6" x2="508.7" y2="231.2" stroke="#333" stroke-width="0.5"/>
<text x="508.7" y="237.5" font-size="5.4" text-anchor="middle" font-weight="normal" fill="#4d4d4d">5</text>
<line x1="544.0" y1="229.6" x2="544.0" y2="231.2" stroke="#333" stroke-width="0.5"/>
<text x="544.0" y="237.5" font-size="5.4" text-anchor="middle" font-weight="normal" fill="#4d4d4d">10</text>
<line x1="579.4" y1="229.6" x2="579.4" y2="231.2" stroke="#333" stroke-width="0.5"/>
<text x="579.4" y="237.5" font-size="5.4" text-anchor="middle" font-weight="normal" fill="#4d4d4d">15</text>
<line x1="614.7" y1="229.6" x2="614.7" y2="231.2" stroke="#333" stroke-width="0.5"/>
<text x="614.7" y="237.5" font-size="5.4" text-anchor="middle" font-weight="normal" fill="#4d4d4d">20</text>
<line x1="463.9" y1="182.4" x2="465.4" y2="182.4" stroke="#333" stroke-width="0.5"/>
<text x="462.5" y="184.4" font-size="5.4" text-anchor="end" font-weight="normal" fill="#4d4d4d">10</text>
<line x1="463.9" y1="199.7" x2="465.4" y2="199.7" stroke="#333" stroke-width="0.5"/>
<text x="462.5" y="201.7" font-size="5.4" text-anchor="end" font-weight="normal" fill="#4d4d4d">3</text>
<line x1="463.9" y1="215.7" x2="465.4" y2="215.7" stroke="#333" stroke-width="0.5"/>
<text x="462.5" y="217.7" font-size="5.4" text-anchor="end" font-weight="normal" fill="#4d4d4d">1</text>
<text x="448.5" y="198.7" font-size="5.4" text-anchor="middle" font-weight="normal" fill="#222" transform="rotate(-90 448.5 198.7)">Relative Expression</text>
<text x="549.5" y="247.0" font-size="5.4" text-anchor="middle" font-weight="normal" fill="#222">Pseudo−time</text>
<text x="639.0" y="171.0" font-size="5.4" text-anchor="start" font-weight="normal" fill="#222">Pseudotime</text>
<rect x="639.00" y="174.80" width="11.90" height="58.00" fill="url(#gpt)" stroke="none" stroke-width="0.5"/>
<line x1="639.0" y1="177.2" x2="641.5" y2="177.2" stroke="#fff" stroke-width="0.5"/>
<line x1="648.4" y1="177.2" x2="650.9" y2="177.2" stroke="#fff" stroke-width="0.5"/>
<text x="653.3" y="179.2" font-size="5.4" text-anchor="start" font-weight="normal" fill="#4d4d4d">20</text>
<line x1="639.0" y1="191.1" x2="641.5" y2="191.1" stroke="#fff" stroke-width="0.5"/>
<line x1="648.4" y1="191.1" x2="650.9" y2="191.1" stroke="#fff" stroke-width="0.5"/>
<text x="653.3" y="193.1" font-size="5.4" text-anchor="start" font-weight="normal" fill="#4d4d4d">15</text>
<line x1="639.0" y1="205.0" x2="641.5" y2="205.0" stroke="#fff" stroke-width="0.5"/>
<line x1="648.4" y1="205.0" x2="650.9" y2="205.0" stroke="#fff" stroke-width="0.5"/>
<text x="653.3" y="207.0" font-size="5.4" text-anchor="start" font-weight="normal" fill="#4d4d4d">10</text>
<line x1="639.0" y1="218.9" x2="641.5" y2="218.9" stroke="#fff" stroke-width="0.5"/>
<line x1="648.4" y1="218.9" x2="650.9" y2="218.9" stroke="#fff" stroke-width="0.5"/>
<text x="653.3" y="220.9" font-size="5.4" text-anchor="start" font-weight="normal" fill="#4d4d4d">5</text>
<line x1="639.0" y1="232.8" x2="641.5" y2="232.8" stroke="#fff" stroke-width="0.5"/>
<line x1="648.4" y1="232.8" x2="650.9" y2="232.8" stroke="#fff" stroke-width="0.5"/>
<text x="653.3" y="234.8" font-size="5.4" text-anchor="start" font-weight="normal" fill="#4d4d4d">0</text>
<text x="0.0" y="300.0" font-size="13" text-anchor="start" font-weight="bold" fill="#000">f</text>
<rect x="48.30" y="306.50" width="312.11" height="70.80" fill="#EBEBEB" stroke="none" stroke-width="0.5"/>
<rect x="48.30" y="306.50" width="9.46" height="8.85" fill="#EDD5DE" stroke="none" stroke-width="0.5"/>
<rect x="57.76" y="306.50" width="9.46" height="8.85" fill="#EDD5DE" stroke="none" stroke-width="0.5"/>
<rect x="171.25" y="306.50" width="9.46" height="8.85" fill="#EDD5DE" stroke="none" stroke-width="0.5"/>
<rect x="180.71" y="306.50" width="9.46" height="8.85" fill="#EDD5DE" stroke="none" stroke-width="0.5"/>
<rect x="190.17" y="306.50" width="9.46" height="8.85" fill="#EDD5DE" stroke="none" stroke-width="0.5"/>
<rect x="199.63" y="306.50" width="9.46" height="8.85" fill="#EDD5DE" stroke="none" stroke-width="0.5"/>
<rect x="209.09" y="306.50" width="9.46" height="8.85" fill="#EDD5DE" stroke="none" stroke-width="0.5"/>
<rect x="218.54" y="306.50" width="9.46" height="8.85" fill="#EDD5DE" stroke="none" stroke-width="0.5"/>
<rect x="275.29" y="306.50" width="9.46" height="8.85" fill="#EDC3D3" stroke="none" stroke-width="0.5"/>
<rect x="294.21" y="306.50" width="9.46" height="8.85" fill="#EDD5DE" stroke="none" stroke-width="0.5"/>
<rect x="303.67" y="306.50" width="9.46" height="8.85" fill="#EDC3D3" stroke="none" stroke-width="0.5"/>
<rect x="341.50" y="306.50" width="9.46" height="8.85" fill="#EDD5DE" stroke="none" stroke-width="0.5"/>
<rect x="275.29" y="315.35" width="9.46" height="8.85" fill="#EDC3D3" stroke="none" stroke-width="0.5"/>
<rect x="303.67" y="315.35" width="9.46" height="8.85" fill="#EDD5DE" stroke="none" stroke-width="0.5"/>
<rect x="341.50" y="315.35" width="9.46" height="8.85" fill="#EDD5DE" stroke="none" stroke-width="0.5"/>
<rect x="67.22" y="324.20" width="9.46" height="8.85" fill="#EDD5DE" stroke="none" stroke-width="0.5"/>
<rect x="76.67" y="324.20" width="9.46" height="8.85" fill="#EDB2CA" stroke="none" stroke-width="0.5"/>
<rect x="86.13" y="324.20" width="9.46" height="8.85" fill="#EDB2CA" stroke="none" stroke-width="0.5"/>
<rect x="95.59" y="324.20" width="9.46" height="8.85" fill="#EDD5DE" stroke="none" stroke-width="0.5"/>
<rect x="114.51" y="324.20" width="9.46" height="8.85" fill="#EDC3D3" stroke="none" stroke-width="0.5"/>
<rect x="123.96" y="324.20" width="9.46" height="8.85" fill="#EDD5DE" stroke="none" stroke-width="0.5"/>
<rect x="133.42" y="324.20" width="9.46" height="8.85" fill="#EDC3D3" stroke="none" stroke-width="0.5"/>
<rect x="142.88" y="324.20" width="9.46" height="8.85" fill="#EDD5DE" stroke="none" stroke-width="0.5"/>
<rect x="152.34" y="324.20" width="9.46" height="8.85" fill="#EDB2CA" stroke="none" stroke-width="0.5"/>
<rect x="161.80" y="324.20" width="9.46" height="8.85" fill="#EDC3D3" stroke="none" stroke-width="0.5"/>
<rect x="218.54" y="324.20" width="9.46" height="8.85" fill="#EDD5DE" stroke="none" stroke-width="0.5"/>
<rect x="228.00" y="324.20" width="9.46" height="8.85" fill="#EDB2CA" stroke="none" stroke-width="0.5"/>
<rect x="237.46" y="324.20" width="9.46" height="8.85" fill="#EDC3D3" stroke="none" stroke-width="0.5"/>
<rect x="246.92" y="324.20" width="9.46" height="8.85" fill="#EDD5DE" stroke="none" stroke-width="0.5"/>
<rect x="256.38" y="324.20" width="9.46" height="8.85" fill="#EDD5DE" stroke="none" stroke-width="0.5"/>
<rect x="294.21" y="324.20" width="9.46" height="8.85" fill="#EDB2CA" stroke="none" stroke-width="0.5"/>
<rect x="303.67" y="324.20" width="9.46" height="8.85" fill="#E6338D" stroke="none" stroke-width="0.5"/>
<rect x="284.75" y="333.05" width="9.46" height="8.85" fill="#EDD5DE" stroke="none" stroke-width="0.5"/>
<rect x="48.30" y="341.90" width="9.46" height="8.85" fill="#EDC3D3" stroke="none" stroke-width="0.5"/>
<rect x="265.83" y="341.90" width="9.46" height="8.85" fill="#EDD5DE" stroke="none" stroke-width="0.5"/>
<rect x="275.29" y="341.90" width="9.46" height="8.85" fill="#EDC3D3" stroke="none" stroke-width="0.5"/>
<rect x="303.67" y="341.90" width="9.46" height="8.85" fill="#EDD5DE" stroke="none" stroke-width="0.5"/>
<rect x="294.21" y="350.75" width="9.46" height="8.85" fill="#EDD5DE" stroke="none" stroke-width="0.5"/>
<rect x="76.67" y="359.60" width="9.46" height="8.85" fill="#EDD5DE" stroke="none" stroke-width="0.5"/>
<rect x="105.05" y="359.60" width="9.46" height="8.85" fill="#EDD5DE" stroke="none" stroke-width="0.5"/>
<rect x="275.29" y="359.60" width="9.46" height="8.85" fill="#EDD5DE" stroke="none" stroke-width="0.5"/>
<rect x="284.75" y="359.60" width="9.46" height="8.85" fill="#EDC3D3" stroke="none" stroke-width="0.5"/>
<rect x="322.58" y="359.60" width="9.46" height="8.85" fill="#EDB2CA" stroke="none" stroke-width="0.5"/>
<rect x="57.76" y="368.45" width="9.46" height="8.85" fill="#EC9DBF" stroke="none" stroke-width="0.5"/>
<rect x="275.29" y="368.45" width="9.46" height="8.85" fill="#EDD5DE" stroke="none" stroke-width="0.5"/>
<rect x="294.21" y="368.45" width="9.46" height="8.85" fill="#EDD5DE" stroke="none" stroke-width="0.5"/>
<rect x="303.67" y="368.45" width="9.46" height="8.85" fill="#EC9DBF" stroke="none" stroke-width="0.5"/>
<rect x="313.12" y="368.45" width="9.46" height="8.85" fill="#EDC3D3" stroke="none" stroke-width="0.5"/>
<rect x="332.04" y="368.45" width="9.46" height="8.85" fill="#EDB2CA" stroke="none" stroke-width="0.5"/>
<rect x="350.96" y="368.45" width="9.46" height="8.85" fill="#EDD5DE" stroke="none" stroke-width="0.5"/>
<line x1="57.8" y1="306.5" x2="57.8" y2="377.3" stroke="#fff" stroke-width="0.7"/>
<line x1="67.2" y1="306.5" x2="67.2" y2="377.3" stroke="#fff" stroke-width="0.7"/>
<line x1="76.7" y1="306.5" x2="76.7" y2="377.3" stroke="#fff" stroke-width="0.7"/>
<line x1="86.1" y1="306.5" x2="86.1" y2="377.3" stroke="#fff" stroke-width="0.7"/>
<line x1="95.6" y1="306.5" x2="95.6" y2="377.3" stroke="#fff" stroke-width="0.7"/>
<line x1="105.0" y1="306.5" x2="105.0" y2="377.3" stroke="#fff" stroke-width="0.7"/>
<line x1="114.5" y1="306.5" x2="114.5" y2="377.3" stroke="#fff" stroke-width="0.7"/>
<line x1="124.0" y1="306.5" x2="124.0" y2="377.3" stroke="#fff" stroke-width="0.7"/>
<line x1="133.4" y1="306.5" x2="133.4" y2="377.3" stroke="#fff" stroke-width="0.7"/>
<line x1="142.9" y1="306.5" x2="142.9" y2="377.3" stroke="#fff" stroke-width="0.7"/>
<line x1="152.3" y1="306.5" x2="152.3" y2="377.3" stroke="#fff" stroke-width="0.7"/>
<line x1="161.8" y1="306.5" x2="161.8" y2="377.3" stroke="#fff" stroke-width="0.7"/>
<line x1="171.3" y1="306.5" x2="171.3" y2="377.3" stroke="#fff" stroke-width="0.7"/>
<line x1="180.7" y1="306.5" x2="180.7" y2="377.3" stroke="#fff" stroke-width="0.7"/>
<line x1="190.2" y1="306.5" x2="190.2" y2="377.3" stroke="#fff" stroke-width="0.7"/>
<line x1="199.6" y1="306.5" x2="199.6" y2="377.3" stroke="#fff" stroke-width="0.7"/>
<line x1="209.1" y1="306.5" x2="209.1" y2="377.3" stroke="#fff" stroke-width="0.7"/>
<line x1="218.5" y1="306.5" x2="218.5" y2="377.3" stroke="#fff" stroke-width="0.7"/>
<line x1="228.0" y1="306.5" x2="228.0" y2="377.3" stroke="#fff" stroke-width="0.7"/>
<line x1="237.5" y1="306.5" x2="237.5" y2="377.3" stroke="#fff" stroke-width="0.7"/>
<line x1="246.9" y1="306.5" x2="246.9" y2="377.3" stroke="#fff" stroke-width="0.7"/>
<line x1="256.4" y1="306.5" x2="256.4" y2="377.3" stroke="#fff" stroke-width="0.7"/>
<line x1="265.8" y1="306.5" x2="265.8" y2="377.3" stroke="#fff" stroke-width="0.7"/>
<line x1="275.3" y1="306.5" x2="275.3" y2="377.3" stroke="#fff" stroke-width="0.7"/>
<line x1="284.8" y1="306.5" x2="284.8" y2="377.3" stroke="#fff" stroke-width="0.7"/>
<line x1="294.2" y1="306.5" x2="294.2" y2="377.3" stroke="#fff" stroke-width="0.7"/>
<line x1="303.7" y1="306.5" x2="303.7" y2="377.3" stroke="#fff" stroke-width="0.7"/>
<line x1="313.1" y1="306.5" x2="313.1" y2="377.3" stroke="#fff" stroke-width="0.7"/>
<line x1="322.6" y1="306.5" x2="322.6" y2="377.3" stroke="#fff" stroke-width="0.7"/>
<line x1="332.0" y1="306.5" x2="332.0" y2="377.3" stroke="#fff" stroke-width="0.7"/>
<line x1="341.5" y1="306.5" x2="341.5" y2="377.3" stroke="#fff" stroke-width="0.7"/>
<line x1="351.0" y1="306.5" x2="351.0" y2="377.3" stroke="#fff" stroke-width="0.7"/>
<line x1="48.3" y1="315.4" x2="360.4" y2="315.4" stroke="#fff" stroke-width="0.7"/>
<line x1="48.3" y1="324.2" x2="360.4" y2="324.2" stroke="#fff" stroke-width="0.7"/>
<line x1="48.3" y1="333.1" x2="360.4" y2="333.1" stroke="#fff" stroke-width="0.7"/>
<line x1="48.3" y1="341.9" x2="360.4" y2="341.9" stroke="#fff" stroke-width="0.7"/>
<line x1="48.3" y1="350.8" x2="360.4" y2="350.8" stroke="#fff" stroke-width="0.7"/>
<line x1="48.3" y1="359.6" x2="360.4" y2="359.6" stroke="#fff" stroke-width="0.7"/>
<line x1="48.3" y1="368.4" x2="360.4" y2="368.4" stroke="#fff" stroke-width="0.7"/>
<rect x="48.30" y="306.50" width="312.11" height="70.80" fill="none" stroke="#666" stroke-width="0.8"/>
<text x="45.8" y="313.7" font-size="5.5" text-anchor="end" font-weight="bold" fill="#111">VSIR+ MoMac</text>
<text x="45.8" y="322.6" font-size="5.5" text-anchor="end" font-weight="bold" fill="#111">VSIR- MoMac</text>
<text x="45.8" y="331.4" font-size="5.5" text-anchor="end" font-weight="bold" fill="#111">T&amp;NK</text>
<text x="45.8" y="340.3" font-size="5.5" text-anchor="end" font-weight="bold" fill="#111">Plasma</text>
<text x="45.8" y="349.1" font-size="5.5" text-anchor="end" font-weight="bold" fill="#111">Neu</text>
<text x="45.8" y="358.0" font-size="5.5" text-anchor="end" font-weight="bold" fill="#111">Mast</text>
<text x="45.8" y="366.8" font-size="5.5" text-anchor="end" font-weight="bold" fill="#111">Endothelial</text>
<text x="45.8" y="375.7" font-size="5.5" text-anchor="end" font-weight="bold" fill="#111">B</text>
<text x="55.5" y="383.8" font-size="5.4" text-anchor="end" font-weight="bold" fill="#111" transform="rotate(-45 55.5 383.8)">ANXA1 - FPR1</text>
<text x="65.0" y="383.8" font-size="5.4" text-anchor="end" font-weight="bold" fill="#111" transform="rotate(-45 65.0 383.8)">APP - CD74</text>
<text x="74.4" y="383.8" font-size="5.4" text-anchor="end" font-weight="bold" fill="#111" transform="rotate(-45 74.4 383.8)">CD86 - CTLA4</text>
<text x="83.9" y="383.8" font-size="5.4" text-anchor="end" font-weight="bold" fill="#111" transform="rotate(-45 83.9 383.8)">CD99 - CD99</text>
<text x="93.4" y="383.8" font-size="5.4" text-anchor="end" font-weight="bold" fill="#111" transform="rotate(-45 93.4 383.8)">CLEC2B - KLRB1</text>
<text x="102.8" y="383.8" font-size="5.4" text-anchor="end" font-weight="bold" fill="#111" transform="rotate(-45 102.8 383.8)">CXCL16 - CXCR6</text>
<text x="112.3" y="383.8" font-size="5.4" text-anchor="end" font-weight="bold" fill="#111" transform="rotate(-45 112.3 383.8)">CXCL8 - ACKR1</text>
<text x="121.7" y="383.8" font-size="5.4" text-anchor="end" font-weight="bold" fill="#111" transform="rotate(-45 121.7 383.8)">HLA-A - CD8A</text>
<text x="131.2" y="383.8" font-size="5.4" text-anchor="end" font-weight="bold" fill="#111" transform="rotate(-45 131.2 383.8)">HLA-A - CD8B</text>
<text x="140.7" y="383.8" font-size="5.4" text-anchor="end" font-weight="bold" fill="#111" transform="rotate(-45 140.7 383.8)">HLA-B - CD8A</text>
<text x="150.1" y="383.8" font-size="5.4" text-anchor="end" font-weight="bold" fill="#111" transform="rotate(-45 150.1 383.8)">HLA-B - CD8B</text>
<text x="159.6" y="383.8" font-size="5.4" text-anchor="end" font-weight="bold" fill="#111" transform="rotate(-45 159.6 383.8)">HLA-C - CD8A</text>
<text x="169.0" y="383.8" font-size="5.4" text-anchor="end" font-weight="bold" fill="#111" transform="rotate(-45 169.0 383.8)">HLA-C - CD8B</text>
<text x="178.5" y="383.8" font-size="5.4" text-anchor="end" font-weight="bold" fill="#111" transform="rotate(-45 178.5 383.8)">HLA-DMA - CD4</text>
<text x="187.9" y="383.8" font-size="5.4" text-anchor="end" font-weight="bold" fill="#111" transform="rotate(-45 187.9 383.8)">HLA-DMB - CD4</text>
<text x="197.4" y="383.8" font-size="5.4" text-anchor="end" font-weight="bold" fill="#111" transform="rotate(-45 197.4 383.8)">HLA-DPA1 - CD4</text>
<text x="206.9" y="383.8" font-size="5.4" text-anchor="end" font-weight="bold" fill="#111" transform="rotate(-45 206.9 383.8)">HLA-DPB1 - CD4</text>
<text x="216.3" y="383.8" font-size="5.4" text-anchor="end" font-weight="bold" fill="#111" transform="rotate(-45 216.3 383.8)">HLA-DRA - CD4</text>
<text x="225.8" y="383.8" font-size="5.4" text-anchor="end" font-weight="bold" fill="#111" transform="rotate(-45 225.8 383.8)">HLA-DRB1 - CD4</text>
<text x="235.2" y="383.8" font-size="5.4" text-anchor="end" font-weight="bold" fill="#111" transform="rotate(-45 235.2 383.8)">HLA-E - CD8A</text>
<text x="244.7" y="383.8" font-size="5.4" text-anchor="end" font-weight="bold" fill="#111" transform="rotate(-45 244.7 383.8)">HLA-E - CD8B</text>
<text x="254.1" y="383.8" font-size="5.4" text-anchor="end" font-weight="bold" fill="#111" transform="rotate(-45 254.1 383.8)">HLA-F - CD8A</text>
<text x="263.6" y="383.8" font-size="5.4" text-anchor="end" font-weight="bold" fill="#111" transform="rotate(-45 263.6 383.8)">ICAM1 - ITGAL_ITGB2</text>
<text x="273.1" y="383.8" font-size="5.4" text-anchor="end" font-weight="bold" fill="#111" transform="rotate(-45 273.1 383.8)">IL1B - IL1R2</text>
<text x="282.5" y="383.8" font-size="5.4" text-anchor="end" font-weight="bold" fill="#111" transform="rotate(-45 282.5 383.8)">ITGB2 - ICAM1</text>
<text x="292.0" y="383.8" font-size="5.4" text-anchor="end" font-weight="bold" fill="#111" transform="rotate(-45 292.0 383.8)">ITGB2 - ICAM2</text>
<text x="301.4" y="383.8" font-size="5.4" text-anchor="end" font-weight="bold" fill="#111" transform="rotate(-45 301.4 383.8)">LGALS9 - CD44</text>
<text x="310.9" y="383.8" font-size="5.4" text-anchor="end" font-weight="bold" fill="#111" transform="rotate(-45 310.9 383.8)">LGALS9 - PTPRC</text>
<text x="320.4" y="383.8" font-size="5.4" text-anchor="end" font-weight="bold" fill="#111" transform="rotate(-45 320.4 383.8)">MIF - CD74_CXCR4</text>
<text x="329.8" y="383.8" font-size="5.4" text-anchor="end" font-weight="bold" fill="#111" transform="rotate(-45 329.8 383.8)">PECAM1 - PECAM1</text>
<text x="339.3" y="383.8" font-size="5.4" text-anchor="end" font-weight="bold" fill="#111" transform="rotate(-45 339.3 383.8)">PTPRC - CD22</text>
<text x="348.7" y="383.8" font-size="5.4" text-anchor="end" font-weight="bold" fill="#111" transform="rotate(-45 348.7 383.8)">PTPRC - MRC1</text>
<text x="358.2" y="383.8" font-size="5.4" text-anchor="end" font-weight="bold" fill="#111" transform="rotate(-45 358.2 383.8)">TNFSF13B - TNFRSF13C</text>
<text x="372.0" y="314.0" font-size="5.4" text-anchor="start" font-weight="normal" fill="#222">prob_diff</text>
<defs><linearGradient id="gpink" x1="0" y1="1" x2="0" y2="0"><stop offset="0" stop-color="#EBEBEB"/><stop offset="1" stop-color="#E8308B"/></linearGradient></defs>
<rect x="372.70" y="318.00" width="12.30" height="58.30" fill="url(#gpink)" stroke="none" stroke-width="0.5"/>
<line x1="372.7" y1="326.0" x2="375.0" y2="326.0" stroke="#fff" stroke-width="0.5"/>
<line x1="382.7" y1="326.0" x2="385.0" y2="326.0" stroke="#fff" stroke-width="0.5"/>
<text x="387.7" y="328.0" font-size="5.4" text-anchor="start" font-weight="normal" fill="#222">0.00020</text>
<line x1="372.7" y1="338.6" x2="375.0" y2="338.6" stroke="#fff" stroke-width="0.5"/>
<line x1="382.7" y1="338.6" x2="385.0" y2="338.6" stroke="#fff" stroke-width="0.5"/>
<text x="387.7" y="340.6" font-size="5.4" text-anchor="start" font-weight="normal" fill="#222">0.00015</text>
<line x1="372.7" y1="351.2" x2="375.0" y2="351.2" stroke="#fff" stroke-width="0.5"/>
<line x1="382.7" y1="351.2" x2="385.0" y2="351.2" stroke="#fff" stroke-width="0.5"/>
<text x="387.7" y="353.2" font-size="5.4" text-anchor="start" font-weight="normal" fill="#222">0.00010</text>
<line x1="372.7" y1="363.7" x2="375.0" y2="363.7" stroke="#fff" stroke-width="0.5"/>
<line x1="382.7" y1="363.7" x2="385.0" y2="363.7" stroke="#fff" stroke-width="0.5"/>
<text x="387.7" y="365.7" font-size="5.4" text-anchor="start" font-weight="normal" fill="#222">0.00005</text>
<line x1="372.7" y1="376.3" x2="375.0" y2="376.3" stroke="#fff" stroke-width="0.5"/>
<line x1="382.7" y1="376.3" x2="385.0" y2="376.3" stroke="#fff" stroke-width="0.5"/>
<text x="387.7" y="378.3" font-size="5.4" text-anchor="start" font-weight="normal" fill="#222">0.00000</text>
<text x="421.0" y="301.5" font-size="13" text-anchor="start" font-weight="bold" fill="#000">g</text>
<rect x="486.40" y="304.20" width="159.17" height="86.10" fill="#EBEBEB" stroke="none" stroke-width="0.5"/>
<rect x="486.40" y="304.20" width="7.24" height="7.17" fill="#E9649F" stroke="none" stroke-width="0.5"/>
<rect x="587.69" y="304.20" width="7.24" height="7.17" fill="#EDC3D3" stroke="none" stroke-width="0.5"/>
<rect x="602.16" y="304.20" width="7.24" height="7.17" fill="#EDC3D3" stroke="none" stroke-width="0.5"/>
<rect x="609.39" y="304.20" width="7.24" height="7.17" fill="#E6338D" stroke="none" stroke-width="0.5"/>
<rect x="616.63" y="304.20" width="7.24" height="7.17" fill="#EDB2CA" stroke="none" stroke-width="0.5"/>
<rect x="623.87" y="304.20" width="7.24" height="7.17" fill="#EA80B1" stroke="none" stroke-width="0.5"/>
<rect x="631.10" y="304.20" width="7.24" height="7.17" fill="#EDD5DE" stroke="none" stroke-width="0.5"/>
<rect x="486.40" y="311.38" width="7.24" height="7.17" fill="#E9649F" stroke="none" stroke-width="0.5"/>
<rect x="609.39" y="311.38" width="7.24" height="7.17" fill="#EA80B1" stroke="none" stroke-width="0.5"/>
<rect x="616.63" y="311.38" width="7.24" height="7.17" fill="#EDB2CA" stroke="none" stroke-width="0.5"/>
<rect x="623.87" y="311.38" width="7.24" height="7.17" fill="#EDB2CA" stroke="none" stroke-width="0.5"/>
<rect x="486.40" y="318.55" width="7.24" height="7.17" fill="#EDC3D3" stroke="none" stroke-width="0.5"/>
<rect x="594.92" y="318.55" width="7.24" height="7.17" fill="#EDC3D3" stroke="none" stroke-width="0.5"/>
<rect x="638.34" y="318.55" width="7.24" height="7.17" fill="#EDD5DE" stroke="none" stroke-width="0.5"/>
<rect x="515.34" y="325.72" width="7.24" height="7.17" fill="#EDC3D3" stroke="none" stroke-width="0.5"/>
<rect x="522.57" y="325.72" width="7.24" height="7.17" fill="#EDD5DE" stroke="none" stroke-width="0.5"/>
<rect x="529.81" y="325.72" width="7.24" height="7.17" fill="#EDC3D3" stroke="none" stroke-width="0.5"/>
<rect x="537.04" y="325.72" width="7.24" height="7.17" fill="#EDD5DE" stroke="none" stroke-width="0.5"/>
<rect x="544.28" y="325.72" width="7.24" height="7.17" fill="#EDB2CA" stroke="none" stroke-width="0.5"/>
<rect x="551.51" y="325.72" width="7.24" height="7.17" fill="#EDC3D3" stroke="none" stroke-width="0.5"/>
<rect x="558.75" y="325.72" width="7.24" height="7.17" fill="#EDC3D3" stroke="none" stroke-width="0.5"/>
<rect x="565.99" y="325.72" width="7.24" height="7.17" fill="#EDD5DE" stroke="none" stroke-width="0.5"/>
<rect x="609.39" y="325.72" width="7.24" height="7.17" fill="#EDB2CA" stroke="none" stroke-width="0.5"/>
<rect x="486.40" y="332.90" width="7.24" height="7.17" fill="#EDD5DE" stroke="none" stroke-width="0.5"/>
<rect x="500.87" y="332.90" width="7.24" height="7.17" fill="#EDB2CA" stroke="none" stroke-width="0.5"/>
<rect x="508.10" y="332.90" width="7.24" height="7.17" fill="#EDD5DE" stroke="none" stroke-width="0.5"/>
<rect x="515.34" y="332.90" width="7.24" height="7.17" fill="#EDB2CA" stroke="none" stroke-width="0.5"/>
<rect x="522.57" y="332.90" width="7.24" height="7.17" fill="#EDC3D3" stroke="none" stroke-width="0.5"/>
<rect x="529.81" y="332.90" width="7.24" height="7.17" fill="#EDB2CA" stroke="none" stroke-width="0.5"/>
<rect x="537.04" y="332.90" width="7.24" height="7.17" fill="#EDC3D3" stroke="none" stroke-width="0.5"/>
<rect x="544.28" y="332.90" width="7.24" height="7.17" fill="#EC9DBF" stroke="none" stroke-width="0.5"/>
<rect x="551.51" y="332.90" width="7.24" height="7.17" fill="#EDB2CA" stroke="none" stroke-width="0.5"/>
<rect x="558.75" y="332.90" width="7.24" height="7.17" fill="#EDB2CA" stroke="none" stroke-width="0.5"/>
<rect x="565.99" y="332.90" width="7.24" height="7.17" fill="#EDC3D3" stroke="none" stroke-width="0.5"/>
<rect x="602.16" y="332.90" width="7.24" height="7.17" fill="#EDD5DE" stroke="none" stroke-width="0.5"/>
<rect x="609.39" y="332.90" width="7.24" height="7.17" fill="#E6338D" stroke="none" stroke-width="0.5"/>
<rect x="609.39" y="340.07" width="7.24" height="7.17" fill="#EDD5DE" stroke="none" stroke-width="0.5"/>
<rect x="500.87" y="347.25" width="7.24" height="7.17" fill="#EDC3D3" stroke="none" stroke-width="0.5"/>
<rect x="573.22" y="347.25" width="7.24" height="7.17" fill="#EDD5DE" stroke="none" stroke-width="0.5"/>
<rect x="580.45" y="347.25" width="7.24" height="7.17" fill="#EDD5DE" stroke="none" stroke-width="0.5"/>
<rect x="609.39" y="347.25" width="7.24" height="7.17" fill="#EC9DBF" stroke="none" stroke-width="0.5"/>
<rect x="493.63" y="354.43" width="7.24" height="7.17" fill="#EDC3D3" stroke="none" stroke-width="0.5"/>
<rect x="609.39" y="354.43" width="7.24" height="7.17" fill="#EDB2CA" stroke="none" stroke-width="0.5"/>
<rect x="602.16" y="361.60" width="7.24" height="7.17" fill="#EDD5DE" stroke="none" stroke-width="0.5"/>
<rect x="609.39" y="361.60" width="7.24" height="7.17" fill="#EA80B1" stroke="none" stroke-width="0.5"/>
<rect x="609.39" y="368.77" width="7.24" height="7.17" fill="#EDD5DE" stroke="none" stroke-width="0.5"/>
<rect x="609.39" y="375.95" width="7.24" height="7.17" fill="#EDC3D3" stroke="none" stroke-width="0.5"/>
<rect x="508.10" y="383.12" width="7.24" height="7.17" fill="#EDC3D3" stroke="none" stroke-width="0.5"/>
<rect x="602.16" y="383.12" width="7.24" height="7.17" fill="#EDD5DE" stroke="none" stroke-width="0.5"/>
<rect x="609.39" y="383.12" width="7.24" height="7.17" fill="#EA80B1" stroke="none" stroke-width="0.5"/>
<line x1="493.6" y1="304.2" x2="493.6" y2="390.3" stroke="#fff" stroke-width="0.7"/>
<line x1="500.9" y1="304.2" x2="500.9" y2="390.3" stroke="#fff" stroke-width="0.7"/>
<line x1="508.1" y1="304.2" x2="508.1" y2="390.3" stroke="#fff" stroke-width="0.7"/>
<line x1="515.3" y1="304.2" x2="515.3" y2="390.3" stroke="#fff" stroke-width="0.7"/>
<line x1="522.6" y1="304.2" x2="522.6" y2="390.3" stroke="#fff" stroke-width="0.7"/>
<line x1="529.8" y1="304.2" x2="529.8" y2="390.3" stroke="#fff" stroke-width="0.7"/>
<line x1="537.0" y1="304.2" x2="537.0" y2="390.3" stroke="#fff" stroke-width="0.7"/>
<line x1="544.3" y1="304.2" x2="544.3" y2="390.3" stroke="#fff" stroke-width="0.7"/>
<line x1="551.5" y1="304.2" x2="551.5" y2="390.3" stroke="#fff" stroke-width="0.7"/>
<line x1="558.8" y1="304.2" x2="558.8" y2="390.3" stroke="#fff" stroke-width="0.7"/>
<line x1="566.0" y1="304.2" x2="566.0" y2="390.3" stroke="#fff" stroke-width="0.7"/>
<line x1="573.2" y1="304.2" x2="573.2" y2="390.3" stroke="#fff" stroke-width="0.7"/>
<line x1="580.5" y1="304.2" x2="580.5" y2="390.3" stroke="#fff" stroke-width="0.7"/>
<line x1="587.7" y1="304.2" x2="587.7" y2="390.3" stroke="#fff" stroke-width="0.7"/>
<line x1="594.9" y1="304.2" x2="594.9" y2="390.3" stroke="#fff" stroke-width="0.7"/>
<line x1="602.2" y1="304.2" x2="602.2" y2="390.3" stroke="#fff" stroke-width="0.7"/>
<line x1="609.4" y1="304.2" x2="609.4" y2="390.3" stroke="#fff" stroke-width="0.7"/>
<line x1="616.6" y1="304.2" x2="616.6" y2="390.3" stroke="#fff" stroke-width="0.7"/>
<line x1="623.9" y1="304.2" x2="623.9" y2="390.3" stroke="#fff" stroke-width="0.7"/>
<line x1="631.1" y1="304.2" x2="631.1" y2="390.3" stroke="#fff" stroke-width="0.7"/>
<line x1="638.3" y1="304.2" x2="638.3" y2="390.3" stroke="#fff" stroke-width="0.7"/>
<line x1="486.4" y1="311.4" x2="645.6" y2="311.4" stroke="#fff" stroke-width="0.7"/>
<line x1="486.4" y1="318.6" x2="645.6" y2="318.6" stroke="#fff" stroke-width="0.7"/>
<line x1="486.4" y1="325.7" x2="645.6" y2="325.7" stroke="#fff" stroke-width="0.7"/>
<line x1="486.4" y1="332.9" x2="645.6" y2="332.9" stroke="#fff" stroke-width="0.7"/>
<line x1="486.4" y1="340.1" x2="645.6" y2="340.1" stroke="#fff" stroke-width="0.7"/>
<line x1="486.4" y1="347.2" x2="645.6" y2="347.2" stroke="#fff" stroke-width="0.7"/>
<line x1="486.4" y1="354.4" x2="645.6" y2="354.4" stroke="#fff" stroke-width="0.7"/>
<line x1="486.4" y1="361.6" x2="645.6" y2="361.6" stroke="#fff" stroke-width="0.7"/>
<line x1="486.4" y1="368.8" x2="645.6" y2="368.8" stroke="#fff" stroke-width="0.7"/>
<line x1="486.4" y1="375.9" x2="645.6" y2="375.9" stroke="#fff" stroke-width="0.7"/>
<line x1="486.4" y1="383.1" x2="645.6" y2="383.1" stroke="#fff" stroke-width="0.7"/>
<rect x="486.40" y="304.20" width="159.17" height="86.10" fill="none" stroke="#666" stroke-width="0.8"/>
<text x="484.0" y="309.8" font-size="5.5" text-anchor="end" font-weight="bold" fill="#111">TCL1A+ Bn</text>
<text x="484.0" y="317.0" font-size="5.5" text-anchor="end" font-weight="bold" fill="#111">IGHA+ Plasma-like cells</text>
<text x="484.0" y="324.1" font-size="5.5" text-anchor="end" font-weight="bold" fill="#111">IGHA+ PC</text>
<text x="484.0" y="331.3" font-size="5.5" text-anchor="end" font-weight="bold" fill="#111">CD8+ ZNF683+ Tm</text>
<text x="484.0" y="338.5" font-size="5.5" text-anchor="end" font-weight="bold" fill="#111">CD8+ GZMK+ Tem</text>
<text x="484.0" y="345.7" font-size="5.5" text-anchor="end" font-weight="bold" fill="#111">CD8+ GZMH+ Temra</text>
<text x="484.0" y="352.8" font-size="5.5" text-anchor="end" font-weight="bold" fill="#111">CD8+ FGFBP2+ Temra</text>
<text x="484.0" y="360.0" font-size="5.5" text-anchor="end" font-weight="bold" fill="#111">CD4+ TNFRSF9+ Treg</text>
<text x="484.0" y="367.2" font-size="5.5" text-anchor="end" font-weight="bold" fill="#111">CD4+ LEF1+ Tn</text>
<text x="484.0" y="374.4" font-size="5.5" text-anchor="end" font-weight="bold" fill="#111">CD4+ IL26+ Th17</text>
<text x="484.0" y="381.5" font-size="5.5" text-anchor="end" font-weight="bold" fill="#111">CD4+ IL17A+ Th17</text>
<text x="484.0" y="388.7" font-size="5.5" text-anchor="end" font-weight="bold" fill="#111">CD4+ ICA1+ Treg</text>
<text x="492.0" y="396.8" font-size="5.3" text-anchor="end" font-weight="bold" fill="#111" transform="rotate(-45 492.0 396.8)">APP - CD74</text>
<text x="499.3" y="396.8" font-size="5.3" text-anchor="end" font-weight="bold" fill="#111" transform="rotate(-45 499.3 396.8)">CD86 - CTLA4</text>
<text x="506.5" y="396.8" font-size="5.3" text-anchor="end" font-weight="bold" fill="#111" transform="rotate(-45 506.5 396.8)">CD99 - CD99</text>
<text x="513.7" y="396.8" font-size="5.3" text-anchor="end" font-weight="bold" fill="#111" transform="rotate(-45 513.7 396.8)">CLEC2B - KLRB1</text>
<text x="521.0" y="396.8" font-size="5.3" text-anchor="end" font-weight="bold" fill="#111" transform="rotate(-45 521.0 396.8)">HLA-A - CD8A</text>
<text x="528.2" y="396.8" font-size="5.3" text-anchor="end" font-weight="bold" fill="#111" transform="rotate(-45 528.2 396.8)">HLA-A - CD8B</text>
<text x="535.4" y="396.8" font-size="5.3" text-anchor="end" font-weight="bold" fill="#111" transform="rotate(-45 535.4 396.8)">HLA-B - CD8A</text>
<text x="542.7" y="396.8" font-size="5.3" text-anchor="end" font-weight="bold" fill="#111" transform="rotate(-45 542.7 396.8)">HLA-B - CD8B</text>
<text x="549.9" y="396.8" font-size="5.3" text-anchor="end" font-weight="bold" fill="#111" transform="rotate(-45 549.9 396.8)">HLA-C - CD8A</text>
<text x="557.1" y="396.8" font-size="5.3" text-anchor="end" font-weight="bold" fill="#111" transform="rotate(-45 557.1 396.8)">HLA-C - CD8B</text>
<text x="564.4" y="396.8" font-size="5.3" text-anchor="end" font-weight="bold" fill="#111" transform="rotate(-45 564.4 396.8)">HLA-E - CD8A</text>
<text x="571.6" y="396.8" font-size="5.3" text-anchor="end" font-weight="bold" fill="#111" transform="rotate(-45 571.6 396.8)">HLA-E - CD8B</text>
<text x="578.8" y="396.8" font-size="5.3" text-anchor="end" font-weight="bold" fill="#111" transform="rotate(-45 578.8 396.8)">HLA-E - CD94:NKG2A</text>
<text x="586.1" y="396.8" font-size="5.3" text-anchor="end" font-weight="bold" fill="#111" transform="rotate(-45 586.1 396.8)">HLA-E - CD94:NKG2C</text>
<text x="593.3" y="396.8" font-size="5.3" text-anchor="end" font-weight="bold" fill="#111" transform="rotate(-45 593.3 396.8)">ITGB2 - ICAM1</text>
<text x="600.5" y="396.8" font-size="5.3" text-anchor="end" font-weight="bold" fill="#111" transform="rotate(-45 600.5 396.8)">ITGB2 - ICAM2</text>
<text x="607.8" y="396.8" font-size="5.3" text-anchor="end" font-weight="bold" fill="#111" transform="rotate(-45 607.8 396.8)">LGALS9 - CD44</text>
<text x="615.0" y="396.8" font-size="5.3" text-anchor="end" font-weight="bold" fill="#111" transform="rotate(-45 615.0 396.8)">LGALS9 - PTPRC</text>
<text x="622.2" y="396.8" font-size="5.3" text-anchor="end" font-weight="bold" fill="#111" transform="rotate(-45 622.2 396.8)">MIF - CD74_CXCR4</text>
<text x="629.5" y="396.8" font-size="5.3" text-anchor="end" font-weight="bold" fill="#111" transform="rotate(-45 629.5 396.8)">TNFSF13B - TNFRSF13B</text>
<text x="636.7" y="396.8" font-size="5.3" text-anchor="end" font-weight="bold" fill="#111" transform="rotate(-45 636.7 396.8)">TNFSF13B - TNFRSF17</text>
<text x="644.0" y="396.8" font-size="5.3" text-anchor="end" font-weight="bold" fill="#111" transform="rotate(-45 644.0 396.8)">TNFSF13B - TNFRSF13C</text>
<text x="649.0" y="324.5" font-size="5.4" text-anchor="start" font-weight="normal" fill="#222">prob_diff</text>
<rect x="649.30" y="329.00" width="9.20" height="45.00" fill="url(#gpink)" stroke="none" stroke-width="0.5"/>
<line x1="649.3" y1="330.3" x2="651.0" y2="330.3" stroke="#fff" stroke-width="0.5"/>
<line x1="656.8" y1="330.3" x2="658.5" y2="330.3" stroke="#fff" stroke-width="0.5"/>
<text x="661.0" y="332.3" font-size="5.4" text-anchor="start" font-weight="normal" fill="#222">0.00016</text>
<line x1="649.3" y1="341.2" x2="651.0" y2="341.2" stroke="#fff" stroke-width="0.5"/>
<line x1="656.8" y1="341.2" x2="658.5" y2="341.2" stroke="#fff" stroke-width="0.5"/>
<text x="661.0" y="343.2" font-size="5.4" text-anchor="start" font-weight="normal" fill="#222">0.00012</text>
<line x1="649.3" y1="352.1" x2="651.0" y2="352.1" stroke="#fff" stroke-width="0.5"/>
<line x1="656.8" y1="352.1" x2="658.5" y2="352.1" stroke="#fff" stroke-width="0.5"/>
<text x="661.0" y="354.1" font-size="5.4" text-anchor="start" font-weight="normal" fill="#222">0.00008</text>
<line x1="649.3" y1="363.1" x2="651.0" y2="363.1" stroke="#fff" stroke-width="0.5"/>
<line x1="656.8" y1="363.1" x2="658.5" y2="363.1" stroke="#fff" stroke-width="0.5"/>
<text x="661.0" y="365.1" font-size="5.4" text-anchor="start" font-weight="normal" fill="#222">0.00004</text>
<line x1="649.3" y1="374.0" x2="651.0" y2="374.0" stroke="#fff" stroke-width="0.5"/>
<line x1="656.8" y1="374.0" x2="658.5" y2="374.0" stroke="#fff" stroke-width="0.5"/>
<text x="661.0" y="376.0" font-size="5.4" text-anchor="start" font-weight="normal" fill="#222">0.00000</text>
<text x="0.0" y="443.0" font-size="13" text-anchor="start" font-weight="bold" fill="#000">h</text>
<line x1="78.7" y1="445.4" x2="78.7" y2="593.5" stroke="#ebebeb" stroke-width="0.5"/>
<line x1="88.1" y1="445.4" x2="88.1" y2="593.5" stroke="#ebebeb" stroke-width="0.5"/>
<line x1="97.5" y1="445.4" x2="97.5" y2="593.5" stroke="#ebebeb" stroke-width="0.5"/>
<line x1="106.8" y1="445.4" x2="106.8" y2="593.5" stroke="#ebebeb" stroke-width="0.5"/>
<line x1="116.2" y1="445.4" x2="116.2" y2="593.5" stroke="#ebebeb" stroke-width="0.5"/>
<line x1="125.6" y1="445.4" x2="125.6" y2="593.5" stroke="#ebebeb" stroke-width="0.5"/>
<line x1="135.0" y1="445.4" x2="135.0" y2="593.5" stroke="#ebebeb" stroke-width="0.5"/>
<line x1="144.7" y1="445.4" x2="144.7" y2="593.5" stroke="#ebebeb" stroke-width="0.5"/>
<line x1="154.1" y1="445.4" x2="154.1" y2="593.5" stroke="#ebebeb" stroke-width="0.5"/>
<line x1="163.5" y1="445.4" x2="163.5" y2="593.5" stroke="#ebebeb" stroke-width="0.5"/>
<line x1="172.8" y1="445.4" x2="172.8" y2="593.5" stroke="#ebebeb" stroke-width="0.5"/>
<line x1="182.2" y1="445.4" x2="182.2" y2="593.5" stroke="#ebebeb" stroke-width="0.5"/>
<line x1="191.6" y1="445.4" x2="191.6" y2="593.5" stroke="#ebebeb" stroke-width="0.5"/>
<line x1="201.0" y1="445.4" x2="201.0" y2="593.5" stroke="#ebebeb" stroke-width="0.5"/>
<line x1="210.4" y1="445.4" x2="210.4" y2="593.5" stroke="#ebebeb" stroke-width="0.5"/>
<line x1="219.7" y1="445.4" x2="219.7" y2="593.5" stroke="#ebebeb" stroke-width="0.5"/>
<line x1="229.1" y1="445.4" x2="229.1" y2="593.5" stroke="#ebebeb" stroke-width="0.5"/>
<line x1="238.8" y1="445.4" x2="238.8" y2="593.5" stroke="#ebebeb" stroke-width="0.5"/>
<line x1="248.1" y1="445.4" x2="248.1" y2="593.5" stroke="#ebebeb" stroke-width="0.5"/>
<line x1="257.4" y1="445.4" x2="257.4" y2="593.5" stroke="#ebebeb" stroke-width="0.5"/>
<line x1="266.7" y1="445.4" x2="266.7" y2="593.5" stroke="#ebebeb" stroke-width="0.5"/>
<line x1="276.0" y1="445.4" x2="276.0" y2="593.5" stroke="#ebebeb" stroke-width="0.5"/>
<line x1="285.3" y1="445.4" x2="285.3" y2="593.5" stroke="#ebebeb" stroke-width="0.5"/>
<line x1="294.6" y1="445.4" x2="294.6" y2="593.5" stroke="#ebebeb" stroke-width="0.5"/>
<line x1="73.5" y1="453.7" x2="300.3" y2="453.7" stroke="#ebebeb" stroke-width="0.5"/>
<line x1="73.5" y1="466.9" x2="300.3" y2="466.9" stroke="#ebebeb" stroke-width="0.5"/>
<line x1="73.5" y1="480.1" x2="300.3" y2="480.1" stroke="#ebebeb" stroke-width="0.5"/>
<line x1="73.5" y1="493.3" x2="300.3" y2="493.3" stroke="#ebebeb" stroke-width="0.5"/>
<line x1="73.5" y1="506.5" x2="300.3" y2="506.5" stroke="#ebebeb" stroke-width="0.5"/>
<line x1="73.5" y1="519.7" x2="300.3" y2="519.7" stroke="#ebebeb" stroke-width="0.5"/>
<line x1="73.5" y1="532.9" x2="300.3" y2="532.9" stroke="#ebebeb" stroke-width="0.5"/>
<line x1="73.5" y1="546.1" x2="300.3" y2="546.1" stroke="#ebebeb" stroke-width="0.5"/>
<line x1="73.5" y1="559.3" x2="300.3" y2="559.3" stroke="#ebebeb" stroke-width="0.5"/>
<line x1="73.5" y1="572.5" x2="300.3" y2="572.5" stroke="#ebebeb" stroke-width="0.5"/>
<line x1="73.5" y1="585.7" x2="300.3" y2="585.7" stroke="#ebebeb" stroke-width="0.5"/>
<rect x="73.50" y="433.80" width="66.60" height="11.50" fill="#0A8DC8" stroke="#222" stroke-width="0.6"/>
<rect x="140.10" y="433.80" width="94.20" height="11.50" fill="#E2713A" stroke="#222" stroke-width="0.6"/>
<rect x="234.30" y="433.80" width="66.00" height="11.50" fill="#B0162E" stroke="#222" stroke-width="0.6"/>
<text x="106.8" y="440.8" font-size="5.5" text-anchor="middle" font-weight="bold" fill="#fff">Exhausted genes</text>
<text x="187.2" y="440.8" font-size="5.5" text-anchor="middle" font-weight="bold" fill="#fff">Naive genes</text>
<text x="267.3" y="440.8" font-size="5.5" text-anchor="middle" font-weight="bold" fill="#fff">Cytotoxicity genes</text>
<circle cx="78.70" cy="453.70" r="1.85" fill="#4353A6" stroke="none" stroke-width="0.4"/>
<circle cx="88.08" cy="453.70" r="2.65" fill="#6F69B1" stroke="none" stroke-width="0.4"/>
<circle cx="97.46" cy="453.70" r="1.10" fill="#4353A6" stroke="none" stroke-width="0.4"/>
<circle cx="106.84" cy="453.70" r="2.25" fill="#A498C9" stroke="none" stroke-width="0.4"/>
<circle cx="116.22" cy="453.70" r="0.45" fill="#6F69B1" stroke="none" stroke-width="0.4"/>
<circle cx="125.60" cy="453.70" r="1.85" fill="#6F69B1" stroke="none" stroke-width="0.4"/>
<circle cx="134.98" cy="453.70" r="2.25" fill="#A498C9" stroke="none" stroke-width="0.4"/>
<circle cx="78.70" cy="466.90" r="4.00" fill="#E4583E" stroke="none" stroke-width="0.4"/>
<circle cx="88.08" cy="466.90" r="3.50" fill="#F5D3C8" stroke="none" stroke-width="0.4"/>
<circle cx="97.46" cy="466.90" r="2.65" fill="#F5D3C8" stroke="none" stroke-width="0.4"/>
<circle cx="106.84" cy="466.90" r="2.65" fill="#EC9880" stroke="none" stroke-width="0.4"/>
<circle cx="116.22" cy="466.90" r="2.65" fill="#ECE4F0" stroke="none" stroke-width="0.4"/>
<circle cx="125.60" cy="466.90" r="1.85" fill="#F5D3C8" stroke="none" stroke-width="0.4"/>
<circle cx="134.98" cy="466.90" r="2.25" fill="#F5D3C8" stroke="none" stroke-width="0.4"/>
<circle cx="78.70" cy="480.10" r="1.45" fill="#6F69B1" stroke="none" stroke-width="0.4"/>
<circle cx="88.08" cy="480.10" r="2.25" fill="#6F69B1" stroke="none" stroke-width="0.4"/>
<circle cx="97.46" cy="480.10" r="1.85" fill="#ECE4F0" stroke="none" stroke-width="0.4"/>
<circle cx="106.84" cy="480.10" r="1.45" fill="#6F69B1" stroke="none" stroke-width="0.4"/>
<circle cx="116.22" cy="480.10" r="1.85" fill="#A498C9" stroke="none" stroke-width="0.4"/>
<circle cx="125.60" cy="480.10" r="1.45" fill="#6F69B1" stroke="none" stroke-width="0.4"/>
<circle cx="134.98" cy="480.10" r="1.45" fill="#6F69B1" stroke="none" stroke-width="0.4"/>
<circle cx="78.70" cy="493.30" r="2.25" fill="#ECE4F0" stroke="none" stroke-width="0.4"/>
<circle cx="88.08" cy="493.30" r="2.25" fill="#6F69B1" stroke="none" stroke-width="0.4"/>
<circle cx="97.46" cy="493.30" r="1.85" fill="#A498C9" stroke="none" stroke-width="0.4"/>
<circle cx="106.84" cy="493.30" r="1.45" fill="#6F69B1" stroke="none" stroke-width="0.4"/>
<circle cx="116.22" cy="493.30" r="1.45" fill="#6F69B1" stroke="none" stroke-width="0.4"/>
<circle cx="125.60" cy="493.30" r="1.45" fill="#6F69B1" stroke="none" stroke-width="0.4"/>
<circle cx="134.98" cy="493.30" r="1.45" fill="#6F69B1" stroke="none" stroke-width="0.4"/>
<circle cx="78.70" cy="506.50" r="2.25" fill="#A498C9" stroke="none" stroke-width="0.4"/>
<circle cx="88.08" cy="506.50" r="2.25" fill="#4353A6" stroke="none" stroke-width="0.4"/>
<circle cx="97.46" cy="506.50" r="1.45" fill="#4353A6" stroke="none" stroke-width="0.4"/>
<circle cx="106.84" cy="506.50" r="0.45" fill="#ECE4F0" stroke="none" stroke-width="0.4"/>
<circle cx="116.22" cy="506.50" r="1.45" fill="#6F69B1" stroke="none" stroke-width="0.4"/>
<circle cx="125.60" cy="506.50" r="1.10" fill="#6F69B1" stroke="none" stroke-width="0.4"/>
<circle cx="134.98" cy="506.50" r="1.45" fill="#A498C9" stroke="none" stroke-width="0.4"/>
<circle cx="78.70" cy="519.70" r="2.25" fill="#ECE4F0" stroke="none" stroke-width="0.4"/>
<circle cx="88.08" cy="519.70" r="2.25" fill="#6F69B1" stroke="none" stroke-width="0.4"/>
<circle cx="97.46" cy="519.70" r="1.10" fill="#4353A6" stroke="none" stroke-width="0.4"/>
<circle cx="106.84" cy="519.70" r="1.85" fill="#F5D3C8" stroke="none" stroke-width="0.4"/>
<circle cx="116.22" cy="519.70" r="1.10" fill="#4353A6" stroke="none" stroke-width="0.4"/>
<circle cx="125.60" cy="519.70" r="1.10" fill="#4353A6" stroke="none" stroke-width="0.4"/>
<circle cx="134.98" cy="519.70" r="1.45" fill="#6F69B1" stroke="none" stroke-width="0.4"/>
<circle cx="78.70" cy="532.90" r="2.65" fill="#F5D3C8" stroke="none" stroke-width="0.4"/>
<circle cx="88.08" cy="532.90" r="4.00" fill="#EC9880" stroke="none" stroke-width="0.4"/>
<circle cx="97.46" cy="532.90" r="2.65" fill="#F5D3C8" stroke="none" stroke-width="0.4"/>
<circle cx="106.84" cy="532.90" r="1.85" fill="#ECE4F0" stroke="none" stroke-width="0.4"/>
<circle cx="116.22" cy="532.90" r="4.00" fill="#EC9880" stroke="none" stroke-width="0.4"/>
<circle cx="125.60" cy="532.90" r="2.25" fill="#E4583E" stroke="none" stroke-width="0.4"/>
<circle cx="134.98" cy="532.90" r="2.65" fill="#EC9880" stroke="none" stroke-width="0.4"/>
<circle cx="78.70" cy="546.10" r="1.10" fill="#4353A6" stroke="none" stroke-width="0.4"/>
<circle cx="88.08" cy="546.10" r="1.85" fill="#6F69B1" stroke="none" stroke-width="0.4"/>
<circle cx="97.46" cy="546.10" r="1.45" fill="#6F69B1" stroke="none" stroke-width="0.4"/>
<circle cx="106.84" cy="546.10" r="1.10" fill="#6F69B1" stroke="none" stroke-width="0.4"/>
<circle cx="116.22" cy="546.10" r="1.45" fill="#6F69B1" stroke="none" stroke-width="0.4"/>
<circle cx="125.60" cy="546.10" r="1.10" fill="#6F69B1" stroke="none" stroke-width="0.4"/>
<circle cx="134.98" cy="546.10" r="1.10" fill="#6F69B1" stroke="none" stroke-width="0.4"/>
<circle cx="78.70" cy="559.30" r="2.65" fill="#A498C9" stroke="none" stroke-width="0.4"/>
<circle cx="88.08" cy="559.30" r="2.65" fill="#ECE4F0" stroke="none" stroke-width="0.4"/>
<circle cx="97.46" cy="559.30" r="2.25" fill="#A498C9" stroke="none" stroke-width="0.4"/>
<circle cx="106.84" cy="559.30" r="1.85" fill="#A498C9" stroke="none" stroke-width="0.4"/>
<circle cx="116.22" cy="559.30" r="2.65" fill="#ECE4F0" stroke="none" stroke-width="0.4"/>
<circle cx="125.60" cy="559.30" r="1.85" fill="#F5D3C8" stroke="none" stroke-width="0.4"/>
<circle cx="134.98" cy="559.30" r="1.85" fill="#F5D3C8" stroke="none" stroke-width="0.4"/>
<circle cx="78.70" cy="572.50" r="2.65" fill="#F5D3C8" stroke="none" stroke-width="0.4"/>
<circle cx="88.08" cy="572.50" r="3.05" fill="#F5D3C8" stroke="none" stroke-width="0.4"/>
<circle cx="97.46" cy="572.50" r="3.05" fill="#EC9880" stroke="none" stroke-width="0.4"/>
<circle cx="106.84" cy="572.50" r="2.25" fill="#EC9880" stroke="none" stroke-width="0.4"/>
<circle cx="116.22" cy="572.50" r="3.50" fill="#EC9880" stroke="none" stroke-width="0.4"/>
<circle cx="125.60" cy="572.50" r="1.85" fill="#F5D3C8" stroke="none" stroke-width="0.4"/>
<circle cx="134.98" cy="572.50" r="2.65" fill="#EC9880" stroke="none" stroke-width="0.4"/>
<circle cx="78.70" cy="585.70" r="1.85" fill="#6F69B1" stroke="none" stroke-width="0.4"/>
<circle cx="88.08" cy="585.70" r="2.65" fill="#F5D3C8" stroke="none" stroke-width="0.4"/>
<circle cx="97.46" cy="585.70" r="2.25" fill="#F5D3C8" stroke="none" stroke-width="0.4"/>
<circle cx="106.84" cy="585.70" r="1.45" fill="#4353A6" stroke="none" stroke-width="0.4"/>
<circle cx="116.22" cy="585.70" r="2.25" fill="#F5D3C8" stroke="none" stroke-width="0.4"/>
<circle cx="125.60" cy="585.70" r="1.45" fill="#A498C9" stroke="none" stroke-width="0.4"/>
<circle cx="134.98" cy="585.70" r="1.85" fill="#6F69B1" stroke="none" stroke-width="0.4"/>
<circle cx="144.70" cy="453.70" r="1.10" fill="#4353A6" stroke="none" stroke-width="0.4"/>
<circle cx="154.08" cy="453.70" r="1.10" fill="#6F69B1" stroke="none" stroke-width="0.4"/>
<circle cx="163.46" cy="453.70" r="1.10" fill="#6F69B1" stroke="none" stroke-width="0.4"/>
<circle cx="172.84" cy="453.70" r="1.45" fill="#4353A6" stroke="none" stroke-width="0.4"/>
<circle cx="182.22" cy="453.70" r="2.65" fill="#F5D3C8" stroke="none" stroke-width="0.4"/>
<circle cx="191.60" cy="453.70" r="1.10" fill="#6F69B1" stroke="none" stroke-width="0.4"/>
<circle cx="200.98" cy="453.70" r="0.75" fill="#6F69B1" stroke="none" stroke-width="0.4"/>
<circle cx="210.36" cy="453.70" r="1.45" fill="#6F69B1" stroke="none" stroke-width="0.4"/>
<circle cx="219.74" cy="453.70" r="0.75" fill="#6F69B1" stroke="none" stroke-width="0.4"/>
<circle cx="229.12" cy="453.70" r="2.25" fill="#4353A6" stroke="none" stroke-width="0.4"/>
<circle cx="144.70" cy="466.90" r="1.45" fill="#4353A6" stroke="none" stroke-width="0.4"/>
<circle cx="154.08" cy="466.90" r="1.10" fill="#6F69B1" stroke="none" stroke-width="0.4"/>
<circle cx="163.46" cy="466.90" r="1.10" fill="#6F69B1" stroke="none" stroke-width="0.4"/>
<circle cx="172.84" cy="466.90" r="1.85" fill="#6F69B1" stroke="none" stroke-width="0.4"/>
<circle cx="182.22" cy="466.90" r="1.85" fill="#4353A6" stroke="none" stroke-width="0.4"/>
<circle cx="191.60" cy="466.90" r="1.10" fill="#4353A6" stroke="none" stroke-width="0.4"/>
<circle cx="200.98" cy="466.90" r="1.10" fill="#6F69B1" stroke="none" stroke-width="0.4"/>
<circle cx="210.36" cy="466.90" r="1.10" fill="#6F69B1" stroke="none" stroke-width="0.4"/>
<circle cx="219.74" cy="466.90" r="1.10" fill="#6F69B1" stroke="none" stroke-width="0.4"/>
<circle cx="229.12" cy="466.90" r="1.85" fill="#4353A6" stroke="none" stroke-width="0.4"/>
<circle cx="144.70" cy="480.10" r="3.50" fill="#EC9880" stroke="none" stroke-width="0.4"/>
<circle cx="154.08" cy="480.10" r="2.25" fill="#F5D3C8" stroke="none" stroke-width="0.4"/>
<circle cx="163.46" cy="480.10" r="1.45" fill="#ECE4F0" stroke="none" stroke-width="0.4"/>
<circle cx="172.84" cy="480.10" r="1.45" fill="#A498C9" stroke="none" stroke-width="0.4"/>
<circle cx="182.22" cy="480.10" r="2.25" fill="#EC9880" stroke="none" stroke-width="0.4"/>
<circle cx="191.60" cy="480.10" r="1.45" fill="#E4583E" stroke="none" stroke-width="0.4"/>
<circle cx="200.98" cy="480.10" r="1.10" fill="#6F69B1" stroke="none" stroke-width="0.4"/>
<circle cx="210.36" cy="480.10" r="1.45" fill="#ECE4F0" stroke="none" stroke-width="0.4"/>
<circle cx="219.74" cy="480.10" r="1.10" fill="#6F69B1" stroke="none" stroke-width="0.4"/>
<circle cx="229.12" cy="480.10" r="1.85" fill="#F5D3C8" stroke="none" stroke-width="0.4"/>
<circle cx="144.70" cy="493.30" r="2.65" fill="#ECE4F0" stroke="none" stroke-width="0.4"/>
<circle cx="154.08" cy="493.30" r="1.45" fill="#A498C9" stroke="none" stroke-width="0.4"/>
<circle cx="163.46" cy="493.30" r="1.10" fill="#6F69B1" stroke="none" stroke-width="0.4"/>
<circle cx="172.84" cy="493.30" r="1.45" fill="#6F69B1" stroke="none" stroke-width="0.4"/>
<circle cx="182.22" cy="493.30" r="1.45" fill="#A498C9" stroke="none" stroke-width="0.4"/>
<circle cx="191.60" cy="493.30" r="1.10" fill="#A498C9" stroke="none" stroke-width="0.4"/>
<circle cx="200.98" cy="493.30" r="1.10" fill="#6F69B1" stroke="none" stroke-width="0.4"/>
<circle cx="210.36" cy="493.30" r="1.45" fill="#A498C9" stroke="none" stroke-width="0.4"/>
<circle cx="219.74" cy="493.30" r="1.10" fill="#6F69B1" stroke="none" stroke-width="0.4"/>
<circle cx="229.12" cy="493.30" r="1.85" fill="#A498C9" stroke="none" stroke-width="0.4"/>
<circle cx="144.70" cy="506.50" r="2.65" fill="#A498C9" stroke="none" stroke-width="0.4"/>
<circle cx="154.08" cy="506.50" r="1.45" fill="#6F69B1" stroke="none" stroke-width="0.4"/>
<circle cx="163.46" cy="506.50" r="1.10" fill="#6F69B1" stroke="none" stroke-width="0.4"/>
<circle cx="172.84" cy="506.50" r="1.45" fill="#A498C9" stroke="none" stroke-width="0.4"/>
<circle cx="182.22" cy="506.50" r="1.85" fill="#A498C9" stroke="none" stroke-width="0.4"/>
<circle cx="191.60" cy="506.50" r="1.45" fill="#F5D3C8" stroke="none" stroke-width="0.4"/>
<circle cx="200.98" cy="506.50" r="1.10" fill="#6F69B1" stroke="none" stroke-width="0.4"/>
<circle cx="210.36" cy="506.50" r="1.45" fill="#A498C9" stroke="none" stroke-width="0.4"/>
<circle cx="219.74" cy="506.50" r="1.10" fill="#F5D3C8" stroke="none" stroke-width="0.4"/>
<circle cx="229.12" cy="506.50" r="1.85" fill="#A498C9" stroke="none" stroke-width="0.4"/>
<circle cx="144.70" cy="519.70" r="1.45" fill="#4353A6" stroke="none" stroke-width="0.4"/>
<circle cx="154.08" cy="519.70" r="1.10" fill="#6F69B1" stroke="none" stroke-width="0.4"/>
<circle cx="163.46" cy="519.70" r="1.45" fill="#A498C9" stroke="none" stroke-width="0.4"/>
<circle cx="172.84" cy="519.70" r="1.45" fill="#4353A6" stroke="none" stroke-width="0.4"/>
<circle cx="182.22" cy="519.70" r="2.65" fill="#EC9880" stroke="none" stroke-width="0.4"/>
<circle cx="191.60" cy="519.70" r="1.45" fill="#F5D3C8" stroke="none" stroke-width="0.4"/>
<circle cx="200.98" cy="519.70" r="1.10" fill="#6F69B1" stroke="none" stroke-width="0.4"/>
<circle cx="210.36" cy="519.70" r="1.10" fill="#6F69B1" stroke="none" stroke-width="0.4"/>
<circle cx="219.74" cy="519.70" r="1.10" fill="#6F69B1" stroke="none" stroke-width="0.4"/>
<circle cx="229.12" cy="519.70" r="1.85" fill="#A498C9" stroke="none" stroke-width="0.4"/>
<circle cx="144.70" cy="532.90" r="3.50" fill="#ECE4F0" stroke="none" stroke-width="0.4"/>
<circle cx="154.08" cy="532.90" r="1.45" fill="#A498C9" stroke="none" stroke-width="0.4"/>
<circle cx="163.46" cy="532.90" r="2.65" fill="#F5D3C8" stroke="none" stroke-width="0.4"/>
<circle cx="172.84" cy="532.90" r="2.65" fill="#F5D3C8" stroke="none" stroke-width="0.4"/>
<circle cx="182.22" cy="532.90" r="1.45" fill="#4353A6" stroke="none" stroke-width="0.4"/>
<circle cx="191.60" cy="532.90" r="1.10" fill="#6F69B1" stroke="none" stroke-width="0.4"/>
<circle cx="200.98" cy="532.90" r="1.10" fill="#A498C9" stroke="none" stroke-width="0.4"/>
<circle cx="210.36" cy="532.90" r="1.45" fill="#6F69B1" stroke="none" stroke-width="0.4"/>
<circle cx="219.74" cy="532.90" r="1.10" fill="#A498C9" stroke="none" stroke-width="0.4"/>
<circle cx="229.12" cy="532.90" r="2.25" fill="#A498C9" stroke="none" stroke-width="0.4"/>
<circle cx="144.70" cy="546.10" r="3.50" fill="#F5D3C8" stroke="none" stroke-width="0.4"/>
<circle cx="154.08" cy="546.10" r="2.65" fill="#EC9880" stroke="none" stroke-width="0.4"/>
<circle cx="163.46" cy="546.10" r="2.25" fill="#E4583E" stroke="none" stroke-width="0.4"/>
<circle cx="172.84" cy="546.10" r="1.45" fill="#A498C9" stroke="none" stroke-width="0.4"/>
<circle cx="182.22" cy="546.10" r="1.45" fill="#ECE4F0" stroke="none" stroke-width="0.4"/>
<circle cx="191.60" cy="546.10" r="0.75" fill="#ECE4F0" stroke="none" stroke-width="0.4"/>
<circle cx="200.98" cy="546.10" r="2.25" fill="#E4583E" stroke="none" stroke-width="0.4"/>
<circle cx="210.36" cy="546.10" r="2.65" fill="#EC9880" stroke="none" stroke-width="0.4"/>
<circle cx="219.74" cy="546.10" r="1.45" fill="#EC9880" stroke="none" stroke-width="0.4"/>
<circle cx="229.12" cy="546.10" r="1.85" fill="#F5D3C8" stroke="none" stroke-width="0.4"/>
<circle cx="144.70" cy="559.30" r="3.50" fill="#F5D3C8" stroke="none" stroke-width="0.4"/>
<circle cx="154.08" cy="559.30" r="1.45" fill="#6F69B1" stroke="none" stroke-width="0.4"/>
<circle cx="163.46" cy="559.30" r="1.85" fill="#ECE4F0" stroke="none" stroke-width="0.4"/>
<circle cx="172.84" cy="559.30" r="3.05" fill="#E4583E" stroke="none" stroke-width="0.4"/>
<circle cx="182.22" cy="559.30" r="1.85" fill="#6F69B1" stroke="none" stroke-width="0.4"/>
<circle cx="191.60" cy="559.30" r="1.10" fill="#6F69B1" stroke="none" stroke-width="0.4"/>
<circle cx="200.98" cy="559.30" r="1.10" fill="#A498C9" stroke="none" stroke-width="0.4"/>
<circle cx="210.36" cy="559.30" r="1.45" fill="#ECE4F0" stroke="none" stroke-width="0.4"/>
<circle cx="219.74" cy="559.30" r="1.45" fill="#EC9880" stroke="none" stroke-width="0.4"/>
<circle cx="229.12" cy="559.30" r="3.05" fill="#E4583E" stroke="none" stroke-width="0.4"/>
<circle cx="144.70" cy="572.50" r="2.65" fill="#A498C9" stroke="none" stroke-width="0.4"/>
<circle cx="154.08" cy="572.50" r="1.45" fill="#6F69B1" stroke="none" stroke-width="0.4"/>
<circle cx="163.46" cy="572.50" r="1.45" fill="#6F69B1" stroke="none" stroke-width="0.4"/>
<circle cx="172.84" cy="572.50" r="1.85" fill="#F5D3C8" stroke="none" stroke-width="0.4"/>
<circle cx="182.22" cy="572.50" r="1.45" fill="#4353A6" stroke="none" stroke-width="0.4"/>
<circle cx="191.60" cy="572.50" r="1.10" fill="#6F69B1" stroke="none" stroke-width="0.4"/>
<circle cx="200.98" cy="572.50" r="1.10" fill="#6F69B1" stroke="none" stroke-width="0.4"/>
<circle cx="210.36" cy="572.50" r="1.10" fill="#6F69B1" stroke="none" stroke-width="0.4"/>
<circle cx="219.74" cy="572.50" r="1.10" fill="#A498C9" stroke="none" stroke-width="0.4"/>
<circle cx="229.12" cy="572.50" r="1.85" fill="#6F69B1" stroke="none" stroke-width="0.4"/>
<circle cx="144.70" cy="585.70" r="3.05" fill="#ECE4F0" stroke="none" stroke-width="0.4"/>
<circle cx="154.08" cy="585.70" r="2.65" fill="#EC9880" stroke="none" stroke-width="0.4"/>
<circle cx="163.46" cy="585.70" r="1.85" fill="#F5D3C8" stroke="none" stroke-width="0.4"/>
<circle cx="172.84" cy="585.70" r="1.45" fill="#ECE4F0" stroke="none" stroke-width="0.4"/>
<circle cx="182.22" cy="585.70" r="1.45" fill="#A498C9" stroke="none" stroke-width="0.4"/>
<circle cx="191.60" cy="585.70" r="1.10" fill="#6F69B1" stroke="none" stroke-width="0.4"/>
<circle cx="200.98" cy="585.70" r="1.45" fill="#F5D3C8" stroke="none" stroke-width="0.4"/>
<circle cx="210.36" cy="585.70" r="2.25" fill="#F5D3C8" stroke="none" stroke-width="0.4"/>
<circle cx="219.74" cy="585.70" r="1.10" fill="#A498C9" stroke="none" stroke-width="0.4"/>
<circle cx="229.12" cy="585.70" r="1.45" fill="#ECE4F0" stroke="none" stroke-width="0.4"/>
<circle cx="238.80" cy="453.70" r="3.50" fill="#F5D3C8" stroke="none" stroke-width="0.4"/>
<circle cx="248.10" cy="453.70" r="3.05" fill="#F5D3C8" stroke="none" stroke-width="0.4"/>
<circle cx="257.40" cy="453.70" r="1.85" fill="#6F69B1" stroke="none" stroke-width="0.4"/>
<circle cx="266.70" cy="453.70" r="3.05" fill="#EC9880" stroke="none" stroke-width="0.4"/>
<circle cx="276.00" cy="453.70" r="2.65" fill="#E4583E" stroke="none" stroke-width="0.4"/>
<circle cx="285.30" cy="453.70" r="4.00" fill="#EC9880" stroke="none" stroke-width="0.4"/>
<circle cx="294.60" cy="453.70" r="3.05" fill="#ECE4F0" stroke="none" stroke-width="0.4"/>
<circle cx="238.80" cy="466.90" r="4.00" fill="#F5D3C8" stroke="none" stroke-width="0.4"/>
<circle cx="248.10" cy="466.90" r="3.05" fill="#F5D3C8" stroke="none" stroke-width="0.4"/>
<circle cx="257.40" cy="466.90" r="4.00" fill="#EC9880" stroke="none" stroke-width="0.4"/>
<circle cx="266.70" cy="466.90" r="3.05" fill="#F5D3C8" stroke="none" stroke-width="0.4"/>
<circle cx="276.00" cy="466.90" r="1.85" fill="#A498C9" stroke="none" stroke-width="0.4"/>
<circle cx="285.30" cy="466.90" r="4.00" fill="#F5D3C8" stroke="none" stroke-width="0.4"/>
<circle cx="294.60" cy="466.90" r="4.00" fill="#EC9880" stroke="none" stroke-width="0.4"/>
<circle cx="238.80" cy="480.10" r="1.85" fill="#6F69B1" stroke="none" stroke-width="0.4"/>
<circle cx="248.10" cy="480.10" r="1.45" fill="#4353A6" stroke="none" stroke-width="0.4"/>
<circle cx="257.40" cy="480.10" r="1.85" fill="#6F69B1" stroke="none" stroke-width="0.4"/>
<circle cx="266.70" cy="480.10" r="1.45" fill="#6F69B1" stroke="none" stroke-width="0.4"/>
<circle cx="276.00" cy="480.10" r="1.85" fill="#A498C9" stroke="none" stroke-width="0.4"/>
<circle cx="285.30" cy="480.10" r="2.25" fill="#6F69B1" stroke="none" stroke-width="0.4"/>
<circle cx="294.60" cy="480.10" r="1.45" fill="#6F69B1" stroke="none" stroke-width="0.4"/>
<circle cx="238.80" cy="493.30" r="2.65" fill="#ECE4F0" stroke="none" stroke-width="0.4"/>
<circle cx="248.10" cy="493.30" r="1.85" fill="#A498C9" stroke="none" stroke-width="0.4"/>
<circle cx="257.40" cy="493.30" r="2.25" fill="#F5D3C8" stroke="none" stroke-width="0.4"/>
<circle cx="266.70" cy="493.30" r="1.85" fill="#A498C9" stroke="none" stroke-width="0.4"/>
<circle cx="276.00" cy="493.30" r="1.85" fill="#F5D3C8" stroke="none" stroke-width="0.4"/>
<circle cx="285.30" cy="493.30" r="3.05" fill="#ECE4F0" stroke="none" stroke-width="0.4"/>
<circle cx="294.60" cy="493.30" r="2.25" fill="#ECE4F0" stroke="none" stroke-width="0.4"/>
<circle cx="238.80" cy="506.50" r="3.05" fill="#F5D3C8" stroke="none" stroke-width="0.4"/>
<circle cx="248.10" cy="506.50" r="2.25" fill="#F5D3C8" stroke="none" stroke-width="0.4"/>
<circle cx="257.40" cy="506.50" r="1.85" fill="#ECE4F0" stroke="none" stroke-width="0.4"/>
<circle cx="266.70" cy="506.50" r="2.25" fill="#F5D3C8" stroke="none" stroke-width="0.4"/>
<circle cx="276.00" cy="506.50" r="1.85" fill="#F5D3C8" stroke="none" stroke-width="0.4"/>
<circle cx="285.30" cy="506.50" r="2.65" fill="#ECE4F0" stroke="none" stroke-width="0.4"/>
<circle cx="294.60" cy="506.50" r="2.25" fill="#ECE4F0" stroke="none" stroke-width="0.4"/>
<circle cx="238.80" cy="519.70" r="4.00" fill="#EC9880" stroke="none" stroke-width="0.4"/>
<circle cx="248.10" cy="519.70" r="3.50" fill="#EC9880" stroke="none" stroke-width="0.4"/>
<circle cx="257.40" cy="519.70" r="2.65" fill="#F5D3C8" stroke="none" stroke-width="0.4"/>
<circle cx="266.70" cy="519.70" r="4.00" fill="#EC9880" stroke="none" stroke-width="0.4"/>
<circle cx="276.00" cy="519.70" r="1.45" fill="#ECE4F0" stroke="none" stroke-width="0.4"/>
<circle cx="285.30" cy="519.70" r="3.50" fill="#F5D3C8" stroke="none" stroke-width="0.4"/>
<circle cx="294.60" cy="519.70" r="4.00" fill="#EC9880" stroke="none" stroke-width="0.4"/>
<circle cx="238.80" cy="532.90" r="1.45" fill="#6F69B1" stroke="none" stroke-width="0.4"/>
<circle cx="248.10" cy="532.90" r="1.85" fill="#6F69B1" stroke="none" stroke-width="0.4"/>
<circle cx="257.40" cy="532.90" r="1.45" fill="#6F69B1" stroke="none" stroke-width="0.4"/>
<circle cx="266.70" cy="532.90" r="1.85" fill="#4353A6" stroke="none" stroke-width="0.4"/>
<circle cx="276.00" cy="532.90" r="0.75" fill="#6F69B1" stroke="none" stroke-width="0.4"/>
<circle cx="285.30" cy="532.90" r="1.85" fill="#6F69B1" stroke="none" stroke-width="0.4"/>
<circle cx="294.60" cy="532.90" r="1.45" fill="#6F69B1" stroke="none" stroke-width="0.4"/>
<circle cx="238.80" cy="546.10" r="0.75" fill="#6F69B1" stroke="none" stroke-width="0.4"/>
<circle cx="248.10" cy="546.10" r="1.10" fill="#6F69B1" stroke="none" stroke-width="0.4"/>
<circle cx="257.40" cy="546.10" r="1.10" fill="#6F69B1" stroke="none" stroke-width="0.4"/>
<circle cx="266.70" cy="546.10" r="1.10" fill="#6F69B1" stroke="none" stroke-width="0.4"/>
<circle cx="276.00" cy="546.10" r="1.10" fill="#6F69B1" stroke="none" stroke-width="0.4"/>
<circle cx="285.30" cy="546.10" r="1.10" fill="#6F69B1" stroke="none" stroke-width="0.4"/>
<circle cx="294.60" cy="546.10" r="0.75" fill="#6F69B1" stroke="none" stroke-width="0.4"/>
<circle cx="238.80" cy="559.30" r="2.25" fill="#A498C9" stroke="none" stroke-width="0.4"/>
<circle cx="248.10" cy="559.30" r="1.85" fill="#A498C9" stroke="none" stroke-width="0.4"/>
<circle cx="257.40" cy="559.30" r="1.85" fill="#6F69B1" stroke="none" stroke-width="0.4"/>
<circle cx="266.70" cy="559.30" r="1.85" fill="#A498C9" stroke="none" stroke-width="0.4"/>
<circle cx="276.00" cy="559.30" r="1.45" fill="#ECE4F0" stroke="none" stroke-width="0.4"/>
<circle cx="285.30" cy="559.30" r="2.65" fill="#6F69B1" stroke="none" stroke-width="0.4"/>
<circle cx="294.60" cy="559.30" r="1.85" fill="#6F69B1" stroke="none" stroke-width="0.4"/>
<circle cx="238.80" cy="572.50" r="2.25" fill="#ECE4F0" stroke="none" stroke-width="0.4"/>
<circle cx="248.10" cy="572.50" r="2.25" fill="#A498C9" stroke="none" stroke-width="0.4"/>
<circle cx="257.40" cy="572.50" r="3.05" fill="#F5D3C8" stroke="none" stroke-width="0.4"/>
<circle cx="266.70" cy="572.50" r="2.65" fill="#A498C9" stroke="none" stroke-width="0.4"/>
<circle cx="276.00" cy="572.50" r="1.85" fill="#A498C9" stroke="none" stroke-width="0.4"/>
<circle cx="285.30" cy="572.50" r="3.05" fill="#ECE4F0" stroke="none" stroke-width="0.4"/>
<circle cx="294.60" cy="572.50" r="2.25" fill="#ECE4F0" stroke="none" stroke-width="0.4"/>
<circle cx="238.80" cy="585.70" r="1.10" fill="#4353A6" stroke="none" stroke-width="0.4"/>
<circle cx="248.10" cy="585.70" r="1.10" fill="#6F69B1" stroke="none" stroke-width="0.4"/>
<circle cx="257.40" cy="585.70" r="1.10" fill="#6F69B1" stroke="none" stroke-width="0.4"/>
<circle cx="266.70" cy="585.70" r="1.10" fill="#6F69B1" stroke="none" stroke-width="0.4"/>
<circle cx="276.00" cy="585.70" r="1.10" fill="#6F69B1" stroke="none" stroke-width="0.4"/>
<circle cx="285.30" cy="585.70" r="1.85" fill="#4353A6" stroke="none" stroke-width="0.4"/>
<circle cx="294.60" cy="585.70" r="1.10" fill="#6F69B1" stroke="none" stroke-width="0.4"/>
<line x1="73.5" y1="445.4" x2="73.5" y2="593.5" stroke="#444" stroke-width="0.8"/>
<line x1="140.1" y1="445.4" x2="140.1" y2="593.5" stroke="#222" stroke-width="0.8"/>
<line x1="234.3" y1="445.4" x2="234.3" y2="593.5" stroke="#222" stroke-width="0.8"/>
<line x1="300.3" y1="445.4" x2="300.3" y2="593.5" stroke="#444" stroke-width="0.8"/>
<line x1="73.5" y1="593.5" x2="300.3" y2="593.5" stroke="#444" stroke-width="0.8"/>
<line x1="72.0" y1="453.7" x2="73.5" y2="453.7" stroke="#444" stroke-width="0.5"/>
<text x="69.5" y="455.8" font-size="5.5" text-anchor="end" font-weight="normal" fill="#222">KIR2DL4+ NK</text>
<line x1="72.0" y1="466.9" x2="73.5" y2="466.9" stroke="#444" stroke-width="0.5"/>
<text x="69.5" y="469.0" font-size="5.5" text-anchor="end" font-weight="normal" fill="#222">CD8+ ZNF683+ Tm</text>
<line x1="72.0" y1="480.1" x2="73.5" y2="480.1" stroke="#444" stroke-width="0.5"/>
<text x="69.5" y="482.2" font-size="5.5" text-anchor="end" font-weight="normal" fill="#222">CD8+ KLF2+ Tn</text>
<line x1="72.0" y1="493.3" x2="73.5" y2="493.3" stroke="#444" stroke-width="0.5"/>
<text x="69.5" y="495.4" font-size="5.5" text-anchor="end" font-weight="normal" fill="#222">CD8+ GZMK+ Tem</text>
<line x1="72.0" y1="506.5" x2="73.5" y2="506.5" stroke="#444" stroke-width="0.5"/>
<text x="69.5" y="508.6" font-size="5.5" text-anchor="end" font-weight="normal" fill="#222">CD8+ GZMH+ Temra</text>
<line x1="72.0" y1="519.7" x2="73.5" y2="519.7" stroke="#444" stroke-width="0.5"/>
<text x="69.5" y="521.8" font-size="5.5" text-anchor="end" font-weight="normal" fill="#222">CD8+ FGFBP2+ Temra</text>
<line x1="72.0" y1="532.9" x2="73.5" y2="532.9" stroke="#444" stroke-width="0.5"/>
<text x="69.5" y="535.0" font-size="5.5" text-anchor="end" font-weight="normal" fill="#222">CD4+ TNFRSF9+ Treg</text>
<line x1="72.0" y1="546.1" x2="73.5" y2="546.1" stroke="#444" stroke-width="0.5"/>
<text x="69.5" y="548.2" font-size="5.5" text-anchor="end" font-weight="normal" fill="#222">CD4+ LEF1+ Tn</text>
<line x1="72.0" y1="559.3" x2="73.5" y2="559.3" stroke="#444" stroke-width="0.5"/>
<text x="69.5" y="561.4" font-size="5.5" text-anchor="end" font-weight="normal" fill="#222">CD4+ IL26+ Th17</text>
<line x1="72.0" y1="572.5" x2="73.5" y2="572.5" stroke="#444" stroke-width="0.5"/>
<text x="69.5" y="574.6" font-size="5.5" text-anchor="end" font-weight="normal" fill="#222">CD4+ IL17A+ Th17</text>
<line x1="72.0" y1="585.7" x2="73.5" y2="585.7" stroke="#444" stroke-width="0.5"/>
<text x="69.5" y="587.8" font-size="5.5" text-anchor="end" font-weight="normal" fill="#222">CD4+ ICA1+ Treg</text>
<line x1="78.7" y1="593.5" x2="78.7" y2="595.0" stroke="#444" stroke-width="0.5"/>
<text x="80.7" y="600.0" font-size="5.7" text-anchor="end" font-weight="normal" fill="#222" transform="rotate(-45 80.7 600.0)">LAG3</text>
<line x1="88.1" y1="593.5" x2="88.1" y2="595.0" stroke="#444" stroke-width="0.5"/>
<text x="90.1" y="600.0" font-size="5.7" text-anchor="end" font-weight="normal" fill="#222" transform="rotate(-45 90.1 600.0)">TIGIT</text>
<line x1="97.5" y1="593.5" x2="97.5" y2="595.0" stroke="#444" stroke-width="0.5"/>
<text x="99.5" y="600.0" font-size="5.7" text-anchor="end" font-weight="normal" fill="#222" transform="rotate(-45 99.5 600.0)">PDCD1</text>
<line x1="106.8" y1="593.5" x2="106.8" y2="595.0" stroke="#444" stroke-width="0.5"/>
<text x="108.8" y="600.0" font-size="5.7" text-anchor="end" font-weight="normal" fill="#222" transform="rotate(-45 108.8 600.0)">HAVCR2</text>
<line x1="116.2" y1="593.5" x2="116.2" y2="595.0" stroke="#444" stroke-width="0.5"/>
<text x="118.2" y="600.0" font-size="5.7" text-anchor="end" font-weight="normal" fill="#222" transform="rotate(-45 118.2 600.0)">CTLA4</text>
<line x1="125.6" y1="593.5" x2="125.6" y2="595.0" stroke="#444" stroke-width="0.5"/>
<text x="127.6" y="600.0" font-size="5.7" text-anchor="end" font-weight="normal" fill="#222" transform="rotate(-45 127.6 600.0)">LAYN</text>
<line x1="135.0" y1="593.5" x2="135.0" y2="595.0" stroke="#444" stroke-width="0.5"/>
<text x="137.0" y="600.0" font-size="5.7" text-anchor="end" font-weight="normal" fill="#222" transform="rotate(-45 137.0 600.0)">ENTPD1</text>
<line x1="144.7" y1="593.5" x2="144.7" y2="595.0" stroke="#444" stroke-width="0.5"/>
<text x="146.7" y="600.0" font-size="5.7" text-anchor="end" font-weight="normal" fill="#222" transform="rotate(-45 146.7 600.0)">IL7R</text>
<line x1="154.1" y1="593.5" x2="154.1" y2="595.0" stroke="#444" stroke-width="0.5"/>
<text x="156.1" y="600.0" font-size="5.7" text-anchor="end" font-weight="normal" fill="#222" transform="rotate(-45 156.1 600.0)">CCR7</text>
<line x1="163.5" y1="593.5" x2="163.5" y2="595.0" stroke="#444" stroke-width="0.5"/>
<text x="165.5" y="600.0" font-size="5.7" text-anchor="end" font-weight="normal" fill="#222" transform="rotate(-45 165.5 600.0)">SELL</text>
<line x1="172.8" y1="593.5" x2="172.8" y2="595.0" stroke="#444" stroke-width="0.5"/>
<text x="174.8" y="600.0" font-size="5.7" text-anchor="end" font-weight="normal" fill="#222" transform="rotate(-45 174.8 600.0)">FOXO1</text>
<line x1="182.2" y1="593.5" x2="182.2" y2="595.0" stroke="#444" stroke-width="0.5"/>
<text x="184.2" y="600.0" font-size="5.7" text-anchor="end" font-weight="normal" fill="#222" transform="rotate(-45 184.2 600.0)">KLF2</text>
<line x1="191.6" y1="593.5" x2="191.6" y2="595.0" stroke="#444" stroke-width="0.5"/>
<text x="193.6" y="600.0" font-size="5.7" text-anchor="end" font-weight="normal" fill="#222" transform="rotate(-45 193.6 600.0)">KLF3</text>
<line x1="201.0" y1="593.5" x2="201.0" y2="595.0" stroke="#444" stroke-width="0.5"/>
<text x="203.0" y="600.0" font-size="5.7" text-anchor="end" font-weight="normal" fill="#222" transform="rotate(-45 203.0 600.0)">LEF1</text>
<line x1="210.4" y1="593.5" x2="210.4" y2="595.0" stroke="#444" stroke-width="0.5"/>
<text x="212.4" y="600.0" font-size="5.7" text-anchor="end" font-weight="normal" fill="#222" transform="rotate(-45 212.4 600.0)">TCF7</text>
<line x1="219.7" y1="593.5" x2="219.7" y2="595.0" stroke="#444" stroke-width="0.5"/>
<text x="221.7" y="600.0" font-size="5.7" text-anchor="end" font-weight="normal" fill="#222" transform="rotate(-45 221.7 600.0)">ACTN1</text>
<line x1="229.1" y1="593.5" x2="229.1" y2="595.0" stroke="#444" stroke-width="0.5"/>
<text x="231.1" y="600.0" font-size="5.7" text-anchor="end" font-weight="normal" fill="#222" transform="rotate(-45 231.1 600.0)">FOXP1</text>
<line x1="238.8" y1="593.5" x2="238.8" y2="595.0" stroke="#444" stroke-width="0.5"/>
<text x="240.8" y="600.0" font-size="5.7" text-anchor="end" font-weight="normal" fill="#222" transform="rotate(-45 240.8 600.0)">NKG7</text>
<line x1="248.1" y1="593.5" x2="248.1" y2="595.0" stroke="#444" stroke-width="0.5"/>
<text x="250.1" y="600.0" font-size="5.7" text-anchor="end" font-weight="normal" fill="#222" transform="rotate(-45 250.1 600.0)">PRF1</text>
<line x1="257.4" y1="593.5" x2="257.4" y2="595.0" stroke="#444" stroke-width="0.5"/>
<text x="259.4" y="600.0" font-size="5.7" text-anchor="end" font-weight="normal" fill="#222" transform="rotate(-45 259.4 600.0)">IFNG</text>
<line x1="266.7" y1="593.5" x2="266.7" y2="595.0" stroke="#444" stroke-width="0.5"/>
<text x="268.7" y="600.0" font-size="5.7" text-anchor="end" font-weight="normal" fill="#222" transform="rotate(-45 268.7 600.0)">GNLY</text>
<line x1="276.0" y1="593.5" x2="276.0" y2="595.0" stroke="#444" stroke-width="0.5"/>
<text x="278.0" y="600.0" font-size="5.7" text-anchor="end" font-weight="normal" fill="#222" transform="rotate(-45 278.0 600.0)">GZMK</text>
<line x1="285.3" y1="593.5" x2="285.3" y2="595.0" stroke="#444" stroke-width="0.5"/>
<text x="287.3" y="600.0" font-size="5.7" text-anchor="end" font-weight="normal" fill="#222" transform="rotate(-45 287.3 600.0)">GZMA</text>
<line x1="294.6" y1="593.5" x2="294.6" y2="595.0" stroke="#444" stroke-width="0.5"/>
<text x="296.6" y="600.0" font-size="5.7" text-anchor="end" font-weight="normal" fill="#222" transform="rotate(-45 296.6 600.0)">GZMB</text>
<text x="307.0" y="466.3" font-size="5.5" text-anchor="start" font-weight="normal" fill="#222">Average</text>
<text x="307.0" y="473.1" font-size="5.5" text-anchor="start" font-weight="normal" fill="#222">Expression</text>
<defs><linearGradient id="gavg" x1="0" y1="1" x2="0" y2="0"><stop offset="0" stop-color="#3A4DA2"/><stop offset="0.2" stop-color="#8A85C0"/><stop offset="0.4" stop-color="#E8E3F0"/><stop offset="0.55" stop-color="#FBEDE8"/><stop offset="0.75" stop-color="#F2A796"/><stop offset="1" stop-color="#E8392C"/></linearGradient></defs>
<rect x="307.00" y="474.20" width="6.90" height="36.40" fill="url(#gavg)" stroke="none" stroke-width="0.5"/>
<line x1="307.0" y1="478.8" x2="308.3" y2="478.8" stroke="#fff" stroke-width="0.4"/>
<line x1="312.6" y1="478.8" x2="313.9" y2="478.8" stroke="#fff" stroke-width="0.4"/>
<text x="316.5" y="480.8" font-size="5.5" text-anchor="start" font-weight="normal" fill="#222">2</text>
<line x1="307.0" y1="487.8" x2="308.3" y2="487.8" stroke="#fff" stroke-width="0.4"/>
<line x1="312.6" y1="487.8" x2="313.9" y2="487.8" stroke="#fff" stroke-width="0.4"/>
<text x="316.5" y="489.8" font-size="5.5" text-anchor="start" font-weight="normal" fill="#222">1</text>
<line x1="307.0" y1="496.6" x2="308.3" y2="496.6" stroke="#fff" stroke-width="0.4"/>
<line x1="312.6" y1="496.6" x2="313.9" y2="496.6" stroke="#fff" stroke-width="0.4"/>
<text x="316.5" y="498.6" font-size="5.5" text-anchor="start" font-weight="normal" fill="#222">0</text>
<line x1="307.0" y1="505.5" x2="308.3" y2="505.5" stroke="#fff" stroke-width="0.4"/>
<line x1="312.6" y1="505.5" x2="313.9" y2="505.5" stroke="#fff" stroke-width="0.4"/>
<text x="316.5" y="507.5" font-size="5.5" text-anchor="start" font-weight="normal" fill="#222">−1</text>
<text x="307.0" y="523.7" font-size="5.5" text-anchor="start" font-weight="normal" fill="#222">Percent</text>
<text x="307.0" y="530.2" font-size="5.5" text-anchor="start" font-weight="normal" fill="#222">Expressed</text>
<circle cx="312.40" cy="535.90" r="0.45" fill="#000" stroke="none" stroke-width="0.4"/>
<text x="318.5" y="537.9" font-size="5.5" text-anchor="start" font-weight="normal" fill="#222">0</text>
<circle cx="312.40" cy="543.00" r="2.60" fill="#000" stroke="none" stroke-width="0.4"/>
<text x="318.5" y="545.0" font-size="5.5" text-anchor="start" font-weight="normal" fill="#222">25</text>
<circle cx="312.40" cy="551.00" r="3.40" fill="#000" stroke="none" stroke-width="0.4"/>
<text x="318.5" y="553.0" font-size="5.5" text-anchor="start" font-weight="normal" fill="#222">50</text>
<circle cx="312.40" cy="561.00" r="4.30" fill="#000" stroke="none" stroke-width="0.4"/>
<text x="318.5" y="563.0" font-size="5.5" text-anchor="start" font-weight="normal" fill="#222">75</text>
<text x="360.0" y="451.0" font-size="13" text-anchor="start" font-weight="bold" fill="#000">i</text>
<rect x="382.50" y="451.10" width="140.40" height="7.80" fill="#D9D9D9" stroke="#333" stroke-width="0.5"/>
<text x="452.7" y="457.0" font-size="5.5" text-anchor="middle" font-weight="bold" fill="#1a1a1a">Cytotoxic</text>
<rect x="382.50" y="458.90" width="140.40" height="57.40" fill="#fff" stroke="#333" stroke-width="0.5"/>
<line x1="381.0" y1="506.5" x2="382.5" y2="506.5" stroke="#333" stroke-width="0.5"/>
<text x="380.0" y="508.5" font-size="5.4" text-anchor="end" font-weight="normal" fill="#4d4d4d">0.0</text>
<line x1="381.0" y1="489.9" x2="382.5" y2="489.9" stroke="#333" stroke-width="0.5"/>
<text x="380.0" y="491.9" font-size="5.4" text-anchor="end" font-weight="normal" fill="#4d4d4d">0.5</text>
<line x1="381.0" y1="473.3" x2="382.5" y2="473.3" stroke="#333" stroke-width="0.5"/>
<text x="380.0" y="475.3" font-size="5.4" text-anchor="end" font-weight="normal" fill="#4d4d4d">1.0</text>
<line x1="388.9" y1="516.3" x2="388.9" y2="517.8" stroke="#333" stroke-width="0.5"/>
<line x1="388.9" y1="501.5" x2="388.9" y2="489.9" stroke="#a8a8a8" stroke-width="0.8"/>
<line x1="388.9" y1="501.5" x2="388.9" y2="495.7" stroke="#222" stroke-width="0.75"/>
<path d="M388.6,507.5 L384.7,507.3 L384.3,507.2 L384.0,507.0 L383.9,506.9 L383.8,506.7 L383.8,506.6 L383.9,506.5 L384.0,506.3 L384.2,506.2 L384.5,506.0 L384.8,505.9 L385.1,505.7 L385.5,505.6 L385.8,505.4 L386.2,505.3 L386.6,505.1 L386.9,505.0 L387.3,504.8 L387.6,504.7 L387.8,504.5 L388.0,504.4 L388.2,504.2 L388.3,504.1 L388.4,503.9 L388.5,503.8 L388.6,503.6 L388.6,503.5 L388.6,503.3 L388.6,503.2 L388.6,503.0 L388.6,502.9 L388.6,502.7 L388.6,502.6 L388.6,502.4 L388.6,502.3 L388.6,502.1 L388.6,502.0 L388.6,501.8 L388.6,501.7 L388.6,501.5 L389.1,501.5 L389.2,501.7 L389.2,501.8 L389.2,502.0 L389.2,502.1 L389.2,502.3 L389.2,502.4 L389.2,502.6 L389.2,502.7 L389.2,502.9 L389.2,503.0 L389.2,503.2 L389.2,503.3 L389.2,503.5 L389.2,503.6 L389.2,503.8 L389.3,503.9 L389.4,504.1 L389.6,504.2 L389.7,504.4 L389.9,504.5 L390.2,504.7 L390.5,504.8 L390.8,505.0 L391.2,505.1 L391.5,505.3 L391.9,505.4 L392.3,505.6 L392.6,505.7 L393.0,505.9 L393.3,506.0 L393.5,506.2 L393.7,506.3 L393.9,506.5 L394.0,506.6 L394.0,506.7 L393.9,506.9 L393.7,507.0 L393.5,507.2 L393.1,507.3 L389.1,507.5 Z" fill="#E07A6D" stroke="#262626" stroke-width="0.55"/>
<line x1="388.9" y1="507.5" x2="388.9" y2="501.5" stroke="#222" stroke-width="0.6"/>
<rect x="387.48" y="506.17" width="2.80" height="0.80" fill="#E07A6D" stroke="#000" stroke-width="0.7"/>
<line x1="387.5" y1="506.5" x2="390.3" y2="506.5" stroke="#000" stroke-width="0.7"/>
<line x1="401.6" y1="516.3" x2="401.6" y2="517.8" stroke="#333" stroke-width="0.5"/>
<path d="M401.4,511.5 L400.6,510.4 L399.6,509.4 L398.4,508.4 L397.9,507.3 L398.0,506.3 L397.0,505.3 L395.6,504.2 L396.0,503.2 L397.6,502.1 L398.2,501.1 L397.9,500.1 L397.9,499.0 L398.8,498.0 L399.4,497.0 L399.2,495.9 L398.8,494.9 L399.0,493.8 L399.7,492.8 L399.9,491.8 L399.7,490.7 L399.7,489.7 L400.2,488.7 L400.6,487.6 L400.6,486.6 L400.5,485.5 L400.7,484.5 L401.0,483.5 L401.1,482.4 L401.0,481.4 L401.1,480.4 L401.2,479.3 L401.3,478.3 L401.3,477.2 L401.3,476.2 L401.3,475.2 L401.3,474.1 L401.3,473.1 L401.3,472.1 L401.3,471.0 L401.4,470.0 L401.9,470.0 L401.9,471.0 L401.9,472.1 L401.9,473.1 L401.9,474.1 L401.9,475.2 L401.9,476.2 L401.9,477.2 L401.9,478.3 L402.1,479.3 L402.2,480.4 L402.3,481.4 L402.2,482.4 L402.3,483.5 L402.6,484.5 L402.8,485.5 L402.7,486.6 L402.7,487.6 L403.1,488.7 L403.6,489.7 L403.6,490.7 L403.4,491.8 L403.6,492.8 L404.3,493.8 L404.5,494.9 L404.1,495.9 L403.9,497.0 L404.5,498.0 L405.4,499.0 L405.4,500.1 L405.1,501.1 L405.7,502.1 L407.3,503.2 L407.6,504.2 L406.3,505.3 L405.3,506.3 L405.4,507.3 L404.9,508.4 L403.7,509.4 L402.7,510.4 L401.9,511.5 Z" fill="#E07A6D" stroke="#262626" stroke-width="0.55"/>
<line x1="401.6" y1="511.5" x2="401.6" y2="470.0" stroke="#222" stroke-width="0.6"/>
<rect x="400.25" y="489.90" width="2.80" height="15.60" fill="#E07A6D" stroke="#000" stroke-width="0.7"/>
<line x1="400.2" y1="498.2" x2="403.0" y2="498.2" stroke="#000" stroke-width="0.7"/>
<line x1="414.4" y1="516.3" x2="414.4" y2="517.8" stroke="#333" stroke-width="0.5"/>
<path d="M414.2,509.8 L412.5,509.0 L411.2,508.2 L410.4,507.3 L410.3,506.5 L409.9,505.7 L409.3,504.8 L409.6,504.0 L411.0,503.2 L412.3,502.4 L413.0,501.5 L413.0,500.7 L412.9,499.9 L412.9,499.0 L413.2,498.2 L413.5,497.4 L413.6,496.5 L413.6,495.7 L413.6,494.9 L413.7,494.1 L413.9,493.2 L414.0,492.4 L414.1,491.6 L414.0,490.7 L414.0,489.9 L414.1,489.1 L414.1,488.2 L414.1,487.4 L414.1,486.6 L414.1,485.8 L414.1,484.9 L414.1,484.1 L414.1,483.3 L414.1,482.4 L414.1,481.6 L414.1,480.8 L414.1,479.9 L414.1,479.1 L414.1,478.3 L414.1,477.4 L414.2,476.6 L414.7,476.6 L414.7,477.4 L414.7,478.3 L414.7,479.1 L414.7,479.9 L414.7,480.8 L414.7,481.6 L414.7,482.4 L414.7,483.3 L414.7,484.1 L414.7,484.9 L414.7,485.8 L414.7,486.6 L414.7,487.4 L414.7,488.2 L414.7,489.1 L414.8,489.9 L414.8,490.7 L414.8,491.6 L414.8,492.4 L414.9,493.2 L415.1,494.1 L415.2,494.9 L415.2,495.7 L415.2,496.5 L415.3,497.4 L415.6,498.2 L415.9,499.0 L415.9,499.9 L415.8,500.7 L415.9,501.5 L416.5,502.4 L417.8,503.2 L419.2,504.0 L419.5,504.8 L418.9,505.7 L418.6,506.5 L418.4,507.3 L417.6,508.2 L416.3,509.0 L414.7,509.8 Z" fill="#E07A6D" stroke="#262626" stroke-width="0.55"/>
<line x1="414.4" y1="509.8" x2="414.4" y2="476.6" stroke="#222" stroke-width="0.6"/>
<rect x="413.01" y="499.86" width="2.80" height="6.64" fill="#E07A6D" stroke="#000" stroke-width="0.7"/>
<line x1="413.0" y1="504.8" x2="415.8" y2="504.8" stroke="#000" stroke-width="0.7"/>
<line x1="427.2" y1="516.3" x2="427.2" y2="517.8" stroke="#333" stroke-width="0.5"/>
<line x1="427.2" y1="504.8" x2="427.2" y2="494.9" stroke="#a8a8a8" stroke-width="0.8"/>
<line x1="427.2" y1="504.8" x2="427.2" y2="499.9" stroke="#222" stroke-width="0.75"/>
<path d="M426.9,507.2 L423.9,507.1 L423.7,507.0 L423.5,507.0 L423.3,506.9 L423.2,506.9 L423.0,506.8 L422.9,506.8 L422.9,506.7 L422.8,506.6 L422.8,506.6 L422.8,506.5 L422.8,506.5 L422.9,506.4 L423.0,506.4 L423.1,506.3 L423.2,506.2 L423.4,506.2 L423.6,506.1 L423.7,506.1 L423.9,506.0 L424.1,505.9 L424.4,505.9 L424.6,505.8 L424.8,505.8 L425.0,505.7 L425.2,505.7 L425.4,505.6 L425.6,505.5 L425.8,505.5 L425.9,505.4 L426.1,505.4 L426.2,505.3 L426.4,505.2 L426.5,505.2 L426.6,505.1 L426.7,505.1 L426.8,505.0 L426.8,505.0 L426.9,504.9 L426.9,504.8 L427.4,504.8 L427.5,504.9 L427.5,505.0 L427.6,505.0 L427.7,505.1 L427.8,505.1 L427.9,505.2 L428.0,505.2 L428.1,505.3 L428.3,505.4 L428.4,505.4 L428.6,505.5 L428.8,505.5 L429.0,505.6 L429.2,505.7 L429.4,505.7 L429.6,505.8 L429.8,505.8 L430.0,505.9 L430.2,505.9 L430.4,506.0 L430.6,506.1 L430.8,506.1 L431.0,506.2 L431.1,506.2 L431.3,506.3 L431.4,506.4 L431.5,506.4 L431.5,506.5 L431.6,506.5 L431.6,506.6 L431.5,506.6 L431.5,506.7 L431.4,506.8 L431.3,506.8 L431.2,506.9 L431.0,506.9 L430.8,507.0 L430.6,507.0 L430.4,507.1 L427.4,507.2 Z" fill="#E07A6D" stroke="#262626" stroke-width="0.55"/>
<line x1="427.2" y1="507.2" x2="427.2" y2="504.8" stroke="#222" stroke-width="0.6"/>
<rect x="425.77" y="506.33" width="2.80" height="0.80" fill="#E07A6D" stroke="#000" stroke-width="0.7"/>
<line x1="425.8" y1="506.5" x2="428.6" y2="506.5" stroke="#000" stroke-width="0.7"/>
<line x1="439.9" y1="516.3" x2="439.9" y2="517.8" stroke="#333" stroke-width="0.5"/>
<line x1="439.9" y1="500.5" x2="439.9" y2="485.6" stroke="#a8a8a8" stroke-width="0.8"/>
<line x1="439.9" y1="500.5" x2="439.9" y2="493.1" stroke="#222" stroke-width="0.75"/>
<path d="M439.7,507.5 L436.5,507.3 L436.2,507.1 L435.9,507.0 L435.8,506.8 L435.7,506.6 L435.8,506.5 L435.9,506.3 L436.0,506.1 L436.2,505.9 L436.4,505.8 L436.6,505.6 L436.9,505.4 L437.1,505.2 L437.3,505.1 L437.5,504.9 L437.7,504.7 L437.8,504.5 L437.9,504.4 L438.0,504.2 L438.1,504.0 L438.2,503.8 L438.2,503.7 L438.3,503.5 L438.4,503.3 L438.5,503.1 L438.6,503.0 L438.8,502.8 L438.9,502.6 L439.0,502.4 L439.1,502.3 L439.2,502.1 L439.3,501.9 L439.4,501.7 L439.5,501.6 L439.6,501.4 L439.6,501.2 L439.6,501.0 L439.6,500.9 L439.6,500.7 L439.7,500.5 L440.2,500.5 L440.2,500.7 L440.2,500.9 L440.2,501.0 L440.3,501.2 L440.3,501.4 L440.4,501.6 L440.5,501.7 L440.5,501.9 L440.6,502.1 L440.7,502.3 L440.9,502.4 L441.0,502.6 L441.1,502.8 L441.2,503.0 L441.4,503.1 L441.5,503.3 L441.6,503.5 L441.6,503.7 L441.7,503.8 L441.8,504.0 L441.9,504.2 L441.9,504.4 L442.1,504.5 L442.2,504.7 L442.4,504.9 L442.6,505.1 L442.8,505.2 L443.0,505.4 L443.2,505.6 L443.5,505.8 L443.7,505.9 L443.9,506.1 L444.0,506.3 L444.1,506.5 L444.1,506.6 L444.1,506.8 L443.9,507.0 L443.7,507.1 L443.4,507.3 L440.2,507.5 Z" fill="#E07A6D" stroke="#262626" stroke-width="0.55"/>
<line x1="439.9" y1="507.5" x2="439.9" y2="500.5" stroke="#222" stroke-width="0.6"/>
<rect x="438.54" y="504.84" width="2.80" height="1.66" fill="#E07A6D" stroke="#000" stroke-width="0.7"/>
<line x1="438.5" y1="506.5" x2="441.3" y2="506.5" stroke="#000" stroke-width="0.7"/>
<line x1="452.7" y1="516.3" x2="452.7" y2="517.8" stroke="#333" stroke-width="0.5"/>
<path d="M452.4,509.8 L452.4,508.9 L452.4,507.9 L452.4,507.0 L452.4,506.0 L452.4,505.0 L452.4,504.1 L452.4,503.1 L452.4,502.2 L452.4,501.2 L452.3,500.3 L452.0,499.3 L451.9,498.4 L452.0,497.4 L451.9,496.5 L451.5,495.5 L451.2,494.5 L451.0,493.6 L451.0,492.6 L450.6,491.7 L449.4,490.7 L448.3,489.8 L448.2,488.8 L448.7,487.9 L448.3,486.9 L447.3,486.0 L447.2,485.0 L448.6,484.0 L449.8,483.1 L450.2,482.1 L450.2,481.2 L450.7,480.2 L451.4,479.3 L451.9,478.3 L451.9,477.4 L451.9,476.4 L452.0,475.5 L452.3,474.5 L452.4,473.5 L452.4,472.6 L452.4,471.6 L452.9,471.6 L453.0,472.6 L453.0,473.5 L453.1,474.5 L453.4,475.5 L453.5,476.4 L453.5,477.4 L453.5,478.3 L454.0,479.3 L454.7,480.2 L455.2,481.2 L455.2,482.1 L455.6,483.1 L456.8,484.0 L458.2,485.0 L458.1,486.0 L457.1,486.9 L456.7,487.9 L457.2,488.8 L457.1,489.8 L456.0,490.7 L454.8,491.7 L454.4,492.6 L454.4,493.6 L454.2,494.5 L453.9,495.5 L453.5,496.5 L453.4,497.4 L453.5,498.4 L453.4,499.3 L453.1,500.3 L453.0,501.2 L453.0,502.2 L453.0,503.1 L453.0,504.1 L453.0,505.0 L453.0,506.0 L453.0,507.0 L453.0,507.9 L453.0,508.9 L452.9,509.8 Z" fill="#E07A6D" stroke="#262626" stroke-width="0.55"/>
<line x1="452.7" y1="509.8" x2="452.7" y2="471.6" stroke="#222" stroke-width="0.6"/>
<rect x="451.30" y="483.26" width="2.80" height="6.64" fill="#E07A6D" stroke="#000" stroke-width="0.7"/>
<line x1="451.3" y1="486.6" x2="454.1" y2="486.6" stroke="#000" stroke-width="0.7"/>
<line x1="465.5" y1="516.3" x2="465.5" y2="517.8" stroke="#333" stroke-width="0.5"/>
<path d="M465.2,509.8 L462.6,509.0 L462.0,508.2 L461.9,507.5 L462.0,506.7 L461.8,505.9 L460.8,505.1 L459.6,504.3 L459.2,503.5 L459.9,502.7 L460.8,501.9 L460.9,501.1 L460.2,500.4 L459.6,499.6 L459.9,498.8 L460.9,498.0 L461.8,497.2 L462.0,496.4 L461.5,495.6 L461.1,494.8 L461.4,494.1 L462.1,493.3 L462.7,492.5 L462.7,491.7 L462.3,490.9 L462.0,490.1 L462.3,489.3 L462.9,488.5 L463.4,487.7 L463.5,487.0 L463.3,486.2 L463.3,485.4 L463.6,484.6 L464.1,483.8 L464.4,483.0 L464.5,482.2 L464.5,481.4 L464.6,480.6 L464.8,479.9 L465.0,479.1 L465.2,478.3 L465.7,478.3 L465.9,479.1 L466.1,479.9 L466.3,480.6 L466.4,481.4 L466.4,482.2 L466.5,483.0 L466.8,483.8 L467.3,484.6 L467.7,485.4 L467.6,486.2 L467.5,487.0 L467.5,487.7 L468.0,488.5 L468.7,489.3 L468.9,490.1 L468.6,490.9 L468.2,491.7 L468.2,492.5 L468.8,493.3 L469.6,494.1 L469.8,494.8 L469.4,495.6 L469.0,496.4 L469.1,497.2 L470.0,498.0 L471.1,498.8 L471.3,499.6 L470.7,500.4 L470.0,501.1 L470.1,501.9 L471.0,502.7 L471.7,503.5 L471.3,504.3 L470.2,505.1 L469.1,505.9 L468.9,506.7 L469.1,507.5 L469.0,508.2 L468.3,509.0 L465.7,509.8 Z" fill="#E07A6D" stroke="#262626" stroke-width="0.55"/>
<line x1="465.5" y1="509.8" x2="465.5" y2="478.3" stroke="#222" stroke-width="0.6"/>
<rect x="464.06" y="489.90" width="2.80" height="13.28" fill="#E07A6D" stroke="#000" stroke-width="0.7"/>
<line x1="464.1" y1="495.9" x2="466.9" y2="495.9" stroke="#000" stroke-width="0.7"/>
<line x1="478.2" y1="516.3" x2="478.2" y2="517.8" stroke="#333" stroke-width="0.5"/>
<line x1="478.2" y1="479.9" x2="478.2" y2="478.3" stroke="#a8a8a8" stroke-width="0.8"/>
<line x1="478.2" y1="479.9" x2="478.2" y2="479.1" stroke="#222" stroke-width="0.75"/>
<path d="M478.0,508.8 L477.6,508.1 L477.0,507.4 L476.4,506.7 L475.6,505.9 L474.5,505.2 L473.7,504.5 L473.7,503.8 L474.4,503.0 L475.0,502.3 L475.0,501.6 L474.3,500.9 L473.1,500.2 L472.4,499.4 L472.9,498.7 L474.1,498.0 L475.1,497.3 L475.2,496.5 L474.7,495.8 L474.1,495.1 L474.1,494.4 L475.0,493.7 L476.0,492.9 L476.7,492.2 L476.9,491.5 L476.9,490.8 L476.9,490.0 L477.1,489.3 L477.4,488.6 L477.7,487.9 L477.9,487.2 L477.9,486.4 L477.9,485.7 L477.9,485.0 L477.9,484.3 L477.9,483.6 L477.9,482.8 L477.9,482.1 L477.9,481.4 L477.9,480.7 L478.0,479.9 L478.5,479.9 L478.5,480.7 L478.5,481.4 L478.5,482.1 L478.5,482.8 L478.5,483.6 L478.5,484.3 L478.5,485.0 L478.5,485.7 L478.5,486.4 L478.5,487.2 L478.7,487.9 L479.0,488.6 L479.4,489.3 L479.6,490.0 L479.6,490.8 L479.6,491.5 L479.8,492.2 L480.4,492.9 L481.5,493.7 L482.3,494.4 L482.4,495.1 L481.8,495.8 L481.2,496.5 L481.4,497.3 L482.3,498.0 L483.6,498.7 L484.1,499.4 L483.4,500.2 L482.2,500.9 L481.4,501.6 L481.4,502.3 L482.1,503.0 L482.8,503.8 L482.8,504.5 L481.9,505.2 L480.8,505.9 L480.1,506.7 L479.5,507.4 L478.9,508.1 L478.5,508.8 Z" fill="#E07A6D" stroke="#262626" stroke-width="0.55"/>
<line x1="478.2" y1="508.8" x2="478.2" y2="479.9" stroke="#222" stroke-width="0.6"/>
<rect x="476.83" y="494.88" width="2.80" height="7.64" fill="#E07A6D" stroke="#000" stroke-width="0.7"/>
<line x1="476.8" y1="498.2" x2="479.6" y2="498.2" stroke="#000" stroke-width="0.7"/>
<line x1="491.0" y1="516.3" x2="491.0" y2="517.8" stroke="#333" stroke-width="0.5"/>
<line x1="491.0" y1="486.6" x2="491.0" y2="478.3" stroke="#a8a8a8" stroke-width="0.8"/>
<line x1="491.0" y1="486.6" x2="491.0" y2="482.4" stroke="#222" stroke-width="0.75"/>
<path d="M490.7,509.2 L488.5,508.6 L487.4,508.0 L486.8,507.5 L486.7,506.9 L486.9,506.3 L486.9,505.8 L486.9,505.2 L486.9,504.6 L487.1,504.1 L487.5,503.5 L488.0,502.9 L488.6,502.4 L489.0,501.8 L489.2,501.3 L489.3,500.7 L489.3,500.1 L489.3,499.6 L489.4,499.0 L489.7,498.4 L490.0,497.9 L490.2,497.3 L490.4,496.7 L490.6,496.2 L490.7,495.6 L490.7,495.0 L490.7,494.5 L490.7,493.9 L490.7,493.4 L490.7,492.8 L490.7,492.2 L490.7,491.7 L490.7,491.1 L490.7,490.5 L490.7,490.0 L490.7,489.4 L490.7,488.8 L490.7,488.3 L490.7,487.7 L490.7,487.1 L490.7,486.6 L491.2,486.6 L491.3,487.1 L491.3,487.7 L491.3,488.3 L491.3,488.8 L491.3,489.4 L491.3,490.0 L491.3,490.5 L491.3,491.1 L491.3,491.7 L491.3,492.2 L491.3,492.8 L491.3,493.4 L491.3,493.9 L491.3,494.5 L491.3,495.0 L491.3,495.6 L491.4,496.2 L491.5,496.7 L491.7,497.3 L492.0,497.9 L492.3,498.4 L492.5,499.0 L492.7,499.6 L492.7,500.1 L492.7,500.7 L492.7,501.3 L493.0,501.8 L493.4,502.4 L493.9,502.9 L494.5,503.5 L494.9,504.1 L495.1,504.6 L495.1,505.2 L495.1,505.8 L495.1,506.3 L495.3,506.9 L495.2,507.5 L494.5,508.0 L493.5,508.6 L491.2,509.2 Z" fill="#E07A6D" stroke="#262626" stroke-width="0.55"/>
<line x1="491.0" y1="509.2" x2="491.0" y2="486.6" stroke="#222" stroke-width="0.6"/>
<rect x="489.59" y="502.52" width="2.80" height="3.98" fill="#E07A6D" stroke="#000" stroke-width="0.7"/>
<line x1="489.6" y1="504.8" x2="492.4" y2="504.8" stroke="#000" stroke-width="0.7"/>
<line x1="503.8" y1="516.3" x2="503.8" y2="517.8" stroke="#333" stroke-width="0.5"/>
<line x1="503.8" y1="473.3" x2="503.8" y2="472.6" stroke="#a8a8a8" stroke-width="0.8"/>
<line x1="503.8" y1="473.3" x2="503.8" y2="473.0" stroke="#222" stroke-width="0.75"/>
<path d="M503.5,509.8 L503.5,508.9 L503.5,508.0 L503.5,507.1 L503.5,506.2 L503.5,505.3 L503.5,504.3 L503.5,503.4 L503.5,502.5 L503.3,501.6 L503.1,500.7 L502.6,499.8 L502.1,498.9 L502.0,498.0 L502.0,497.0 L501.6,496.1 L500.8,495.2 L500.2,494.3 L500.4,493.4 L500.6,492.5 L500.1,491.6 L498.8,490.6 L498.1,489.7 L498.6,488.8 L499.5,487.9 L499.6,487.0 L499.0,486.1 L499.1,485.2 L500.2,484.3 L501.3,483.3 L501.7,482.4 L501.6,481.5 L501.6,480.6 L502.0,479.7 L502.5,478.8 L502.7,477.9 L502.7,477.0 L502.7,476.0 L503.0,475.1 L503.3,474.2 L503.5,473.3 L504.0,473.3 L504.2,474.2 L504.5,475.1 L504.8,476.0 L504.9,477.0 L504.8,477.9 L505.0,478.8 L505.5,479.7 L505.9,480.6 L505.9,481.5 L505.8,482.4 L506.2,483.3 L507.4,484.3 L508.4,485.2 L508.5,486.1 L507.9,487.0 L508.0,487.9 L508.9,488.8 L509.4,489.7 L508.7,490.6 L507.4,491.6 L506.9,492.5 L507.2,493.4 L507.3,494.3 L506.7,495.2 L505.9,496.1 L505.5,497.0 L505.5,498.0 L505.4,498.9 L504.9,499.8 L504.4,500.7 L504.2,501.6 L504.1,502.5 L504.1,503.4 L504.1,504.3 L504.1,505.3 L504.1,506.2 L504.1,507.1 L504.1,508.0 L504.1,508.9 L504.0,509.8 Z" fill="#E07A6D" stroke="#262626" stroke-width="0.55"/>
<line x1="503.8" y1="509.8" x2="503.8" y2="473.3" stroke="#222" stroke-width="0.6"/>
<rect x="502.35" y="484.92" width="2.80" height="6.64" fill="#E07A6D" stroke="#000" stroke-width="0.7"/>
<line x1="502.4" y1="488.2" x2="505.2" y2="488.2" stroke="#000" stroke-width="0.7"/>
<line x1="516.5" y1="516.3" x2="516.5" y2="517.8" stroke="#333" stroke-width="0.5"/>
<line x1="516.5" y1="475.0" x2="516.5" y2="473.3" stroke="#a8a8a8" stroke-width="0.8"/>
<line x1="516.5" y1="475.0" x2="516.5" y2="474.1" stroke="#222" stroke-width="0.75"/>
<path d="M516.3,516.5 L516.2,515.4 L516.0,514.4 L515.8,513.3 L515.6,512.3 L515.6,511.3 L515.3,510.2 L514.5,509.2 L513.8,508.2 L513.7,507.1 L513.6,506.1 L512.4,505.0 L510.9,504.0 L511.0,503.0 L511.9,501.9 L511.7,500.9 L510.5,499.9 L510.2,498.8 L511.5,497.8 L512.3,496.7 L511.5,495.7 L510.8,494.7 L511.5,493.6 L512.8,492.6 L512.9,491.6 L512.3,490.5 L512.5,489.5 L513.6,488.4 L514.3,487.4 L514.2,486.4 L514.2,485.3 L514.7,484.3 L515.4,483.3 L515.5,482.2 L515.5,481.2 L515.7,480.1 L516.0,479.1 L516.2,478.1 L516.2,477.0 L516.2,476.0 L516.3,475.0 L516.8,475.0 L516.8,476.0 L516.8,477.0 L516.9,478.1 L517.0,479.1 L517.3,480.1 L517.5,481.2 L517.5,482.2 L517.7,483.3 L518.3,484.3 L518.9,485.3 L518.9,486.4 L518.7,487.4 L519.4,488.4 L520.5,489.5 L520.8,490.5 L520.2,491.6 L520.3,492.6 L521.5,493.6 L522.3,494.7 L521.5,495.7 L520.8,496.7 L521.5,497.8 L522.8,498.8 L522.6,499.9 L521.3,500.9 L521.1,501.9 L522.1,503.0 L522.1,504.0 L520.7,505.0 L519.5,506.1 L519.3,507.1 L519.2,508.2 L518.5,509.2 L517.8,510.2 L517.5,511.3 L517.4,512.3 L517.3,513.3 L517.0,514.4 L516.8,515.4 L516.8,516.5 Z" fill="#E07A6D" stroke="#262626" stroke-width="0.55"/>
<line x1="516.5" y1="516.5" x2="516.5" y2="475.0" stroke="#222" stroke-width="0.6"/>
<rect x="515.12" y="488.24" width="2.80" height="12.28" fill="#E07A6D" stroke="#000" stroke-width="0.7"/>
<line x1="515.1" y1="493.2" x2="517.9" y2="493.2" stroke="#000" stroke-width="0.7"/>
<rect x="544.40" y="451.10" width="139.80" height="7.80" fill="#D9D9D9" stroke="#333" stroke-width="0.5"/>
<text x="614.3" y="457.0" font-size="5.5" text-anchor="middle" font-weight="bold" fill="#1a1a1a">Exhausted</text>
<rect x="544.40" y="458.90" width="139.80" height="57.40" fill="#fff" stroke="#333" stroke-width="0.5"/>
<line x1="542.9" y1="510.4" x2="544.4" y2="510.4" stroke="#333" stroke-width="0.5"/>
<text x="541.9" y="512.4" font-size="5.4" text-anchor="end" font-weight="normal" fill="#4d4d4d">0.00</text>
<line x1="542.9" y1="497.7" x2="544.4" y2="497.7" stroke="#333" stroke-width="0.5"/>
<text x="541.9" y="499.7" font-size="5.4" text-anchor="end" font-weight="normal" fill="#4d4d4d">0.25</text>
<line x1="542.9" y1="485.0" x2="544.4" y2="485.0" stroke="#333" stroke-width="0.5"/>
<text x="541.9" y="487.0" font-size="5.4" text-anchor="end" font-weight="normal" fill="#4d4d4d">0.50</text>
<line x1="542.9" y1="472.3" x2="544.4" y2="472.3" stroke="#333" stroke-width="0.5"/>
<text x="541.9" y="474.3" font-size="5.4" text-anchor="end" font-weight="normal" fill="#4d4d4d">0.75</text>
<line x1="542.9" y1="459.6" x2="544.4" y2="459.6" stroke="#333" stroke-width="0.5"/>
<text x="541.9" y="461.6" font-size="5.4" text-anchor="end" font-weight="normal" fill="#4d4d4d">1.00</text>
<line x1="550.8" y1="516.3" x2="550.8" y2="517.8" stroke="#333" stroke-width="0.5"/>
<line x1="550.8" y1="492.6" x2="550.8" y2="477.4" stroke="#a8a8a8" stroke-width="0.8"/>
<line x1="550.8" y1="492.6" x2="550.8" y2="485.0" stroke="#222" stroke-width="0.75"/>
<path d="M550.5,511.9 L548.2,511.4 L547.8,511.0 L547.2,510.5 L546.4,510.0 L545.5,509.5 L544.9,509.0 L544.8,508.5 L545.2,508.1 L546.0,507.6 L546.9,507.1 L547.5,506.6 L547.9,506.1 L547.9,505.7 L547.6,505.2 L547.4,504.7 L547.2,504.2 L547.4,503.7 L547.7,503.2 L548.3,502.8 L548.9,502.3 L549.3,501.8 L549.6,501.3 L549.8,500.8 L549.9,500.3 L550.1,499.9 L550.2,499.4 L550.4,498.9 L550.5,498.4 L550.5,497.9 L550.5,497.4 L550.5,497.0 L550.5,496.5 L550.5,496.0 L550.5,495.5 L550.5,495.0 L550.5,494.6 L550.5,494.1 L550.5,493.6 L550.5,493.1 L550.5,492.6 L551.0,492.6 L551.1,493.1 L551.1,493.6 L551.1,494.1 L551.1,494.6 L551.1,495.0 L551.1,495.5 L551.1,496.0 L551.1,496.5 L551.1,497.0 L551.1,497.4 L551.1,497.9 L551.1,498.4 L551.1,498.9 L551.3,499.4 L551.4,499.9 L551.6,500.3 L551.7,500.8 L551.9,501.3 L552.2,501.8 L552.7,502.3 L553.2,502.8 L553.8,503.2 L554.2,503.7 L554.3,504.2 L554.1,504.7 L553.9,505.2 L553.6,505.7 L553.7,506.1 L554.0,506.6 L554.6,507.1 L555.5,507.6 L556.3,508.1 L556.8,508.5 L556.6,509.0 L556.0,509.5 L555.1,510.0 L554.3,510.5 L553.7,511.0 L553.3,511.4 L551.0,511.9 Z" fill="#7DAE4B" stroke="#262626" stroke-width="0.55"/>
<line x1="550.8" y1="511.9" x2="550.8" y2="492.6" stroke="#222" stroke-width="0.6"/>
<rect x="549.35" y="503.80" width="2.80" height="5.59" fill="#7DAE4B" stroke="#000" stroke-width="0.7"/>
<line x1="549.4" y1="505.3" x2="552.2" y2="505.3" stroke="#000" stroke-width="0.7"/>
<line x1="563.5" y1="516.3" x2="563.5" y2="517.8" stroke="#333" stroke-width="0.5"/>
<path d="M563.2,512.9 L561.1,511.9 L560.6,510.9 L559.2,509.9 L557.5,508.9 L557.5,507.9 L559.0,506.8 L559.7,505.8 L559.3,504.8 L559.0,503.8 L559.6,502.8 L560.4,501.8 L560.1,500.7 L559.5,499.7 L559.7,498.7 L560.7,497.7 L561.3,496.7 L561.1,495.7 L561.1,494.7 L561.6,493.6 L562.2,492.6 L562.4,491.6 L562.3,490.6 L562.5,489.6 L562.8,488.6 L563.0,487.5 L563.1,486.5 L563.1,485.5 L563.2,484.5 L563.2,483.5 L563.2,482.5 L563.2,481.4 L563.2,480.4 L563.2,479.4 L563.2,478.4 L563.2,477.4 L563.2,476.4 L563.2,475.3 L563.2,474.3 L563.2,473.3 L563.2,472.3 L563.7,472.3 L563.8,473.3 L563.8,474.3 L563.8,475.3 L563.8,476.4 L563.8,477.4 L563.8,478.4 L563.8,479.4 L563.8,480.4 L563.8,481.4 L563.8,482.5 L563.8,483.5 L563.8,484.5 L563.8,485.5 L563.9,486.5 L563.9,487.5 L564.1,488.6 L564.5,489.6 L564.6,490.6 L564.5,491.6 L564.7,492.6 L565.3,493.6 L565.9,494.7 L565.8,495.7 L565.7,496.7 L566.3,497.7 L567.3,498.7 L567.4,499.7 L566.8,500.7 L566.6,501.8 L567.3,502.8 L568.0,503.8 L567.7,504.8 L567.2,505.8 L567.9,506.8 L569.4,507.9 L569.5,508.9 L567.7,509.9 L566.4,510.9 L565.8,511.9 L563.7,512.9 Z" fill="#7DAE4B" stroke="#262626" stroke-width="0.55"/>
<line x1="563.5" y1="512.9" x2="563.5" y2="472.3" stroke="#222" stroke-width="0.6"/>
<rect x="562.06" y="496.68" width="2.80" height="9.65" fill="#7DAE4B" stroke="#000" stroke-width="0.7"/>
<line x1="562.1" y1="501.3" x2="564.9" y2="501.3" stroke="#000" stroke-width="0.7"/>
<line x1="576.2" y1="516.3" x2="576.2" y2="517.8" stroke="#333" stroke-width="0.5"/>
<line x1="576.2" y1="487.5" x2="576.2" y2="479.9" stroke="#a8a8a8" stroke-width="0.8"/>
<line x1="576.2" y1="487.5" x2="576.2" y2="483.7" stroke="#222" stroke-width="0.75"/>
<path d="M575.9,512.4 L573.8,511.8 L573.3,511.2 L572.6,510.6 L571.6,509.9 L570.5,509.3 L570.0,508.7 L570.5,508.1 L571.7,507.5 L572.8,506.8 L573.5,506.2 L573.6,505.6 L573.4,505.0 L573.3,504.3 L573.3,503.7 L573.7,503.1 L574.3,502.5 L574.7,501.9 L575.0,501.2 L575.1,500.6 L575.2,500.0 L575.4,499.4 L575.7,498.7 L575.9,498.1 L575.9,497.5 L575.9,496.9 L575.9,496.3 L575.9,495.6 L575.9,495.0 L575.9,494.4 L575.9,493.8 L575.9,493.1 L575.9,492.5 L575.9,491.9 L575.9,491.3 L575.9,490.7 L575.9,490.0 L575.9,489.4 L575.9,488.8 L575.9,488.2 L575.9,487.5 L576.4,487.5 L576.5,488.2 L576.5,488.8 L576.5,489.4 L576.5,490.0 L576.5,490.7 L576.5,491.3 L576.5,491.9 L576.5,492.5 L576.5,493.1 L576.5,493.8 L576.5,494.4 L576.5,495.0 L576.5,495.6 L576.5,496.3 L576.5,496.9 L576.5,497.5 L576.5,498.1 L576.7,498.7 L576.9,499.4 L577.1,500.0 L577.2,500.6 L577.3,501.2 L577.6,501.9 L578.1,502.5 L578.6,503.1 L579.0,503.7 L579.1,504.3 L578.9,505.0 L578.8,505.6 L578.9,506.2 L579.6,506.8 L580.7,507.5 L581.8,508.1 L582.3,508.7 L581.9,509.3 L580.8,509.9 L579.7,510.6 L579.0,511.2 L578.5,511.8 L576.4,512.4 Z" fill="#7DAE4B" stroke="#262626" stroke-width="0.55"/>
<line x1="576.2" y1="512.4" x2="576.2" y2="487.5" stroke="#222" stroke-width="0.6"/>
<rect x="574.77" y="503.29" width="2.80" height="6.10" fill="#7DAE4B" stroke="#000" stroke-width="0.7"/>
<line x1="574.8" y1="506.3" x2="577.6" y2="506.3" stroke="#000" stroke-width="0.7"/>
<line x1="588.9" y1="516.3" x2="588.9" y2="517.8" stroke="#333" stroke-width="0.5"/>
<line x1="588.9" y1="508.9" x2="588.9" y2="487.5" stroke="#a8a8a8" stroke-width="0.8"/>
<line x1="588.9" y1="508.9" x2="588.9" y2="498.2" stroke="#222" stroke-width="0.75"/>
<path d="M588.6,510.9 L586.1,510.9 L585.9,510.8 L585.7,510.8 L585.5,510.7 L585.2,510.7 L585.1,510.6 L584.9,510.6 L584.8,510.5 L584.7,510.5 L584.7,510.4 L584.6,510.3 L584.7,510.3 L584.7,510.2 L584.8,510.2 L585.0,510.1 L585.1,510.1 L585.3,510.0 L585.6,510.0 L585.8,509.9 L586.0,509.9 L586.3,509.8 L586.5,509.8 L586.8,509.7 L587.0,509.7 L587.3,509.6 L587.5,509.6 L587.7,509.5 L587.9,509.5 L588.0,509.4 L588.2,509.4 L588.3,509.3 L588.4,509.3 L588.5,509.2 L588.6,509.2 L588.6,509.1 L588.6,509.1 L588.6,509.0 L588.6,509.0 L588.6,508.9 L588.6,508.9 L589.1,508.9 L589.2,508.9 L589.2,509.0 L589.2,509.0 L589.2,509.1 L589.2,509.1 L589.2,509.2 L589.3,509.2 L589.4,509.3 L589.5,509.3 L589.6,509.4 L589.7,509.4 L589.9,509.5 L590.1,509.5 L590.3,509.6 L590.5,509.6 L590.7,509.7 L591.0,509.7 L591.2,509.8 L591.5,509.8 L591.7,509.9 L592.0,509.9 L592.2,510.0 L592.4,510.0 L592.6,510.1 L592.8,510.1 L592.9,510.2 L593.0,510.2 L593.1,510.3 L593.1,510.3 L593.1,510.4 L593.1,510.5 L593.0,510.5 L592.8,510.6 L592.7,510.6 L592.5,510.7 L592.3,510.7 L592.1,510.8 L591.9,510.8 L591.6,510.9 L589.1,510.9 Z" fill="#7DAE4B" stroke="#262626" stroke-width="0.55"/>
<line x1="588.9" y1="510.9" x2="588.9" y2="508.9" stroke="#222" stroke-width="0.6"/>
<rect x="587.48" y="510.15" width="2.80" height="0.80" fill="#7DAE4B" stroke="#000" stroke-width="0.7"/>
<line x1="587.5" y1="510.4" x2="590.3" y2="510.4" stroke="#000" stroke-width="0.7"/>
<line x1="601.6" y1="516.3" x2="601.6" y2="517.8" stroke="#333" stroke-width="0.5"/>
<line x1="601.6" y1="479.9" x2="601.6" y2="467.2" stroke="#a8a8a8" stroke-width="0.8"/>
<line x1="601.6" y1="479.9" x2="601.6" y2="473.6" stroke="#222" stroke-width="0.75"/>
<path d="M601.3,512.9 L600.9,512.1 L600.8,511.3 L600.6,510.5 L600.1,509.6 L599.5,508.8 L599.2,508.0 L599.4,507.2 L599.5,506.3 L599.2,505.5 L598.4,504.7 L597.6,503.9 L597.4,503.0 L597.8,502.2 L597.7,501.4 L596.8,500.6 L595.6,499.7 L595.4,498.9 L596.4,498.1 L597.5,497.3 L597.9,496.4 L597.7,495.6 L597.8,494.8 L598.5,494.0 L599.4,493.1 L600.0,492.3 L600.1,491.5 L600.0,490.7 L600.1,489.8 L600.3,489.0 L600.6,488.2 L600.7,487.3 L600.6,486.5 L600.5,485.7 L600.5,484.9 L600.8,484.0 L601.0,483.2 L601.1,482.4 L601.1,481.6 L601.1,480.7 L601.3,479.9 L601.8,479.9 L602.1,480.7 L602.1,481.6 L602.1,482.4 L602.2,483.2 L602.4,484.0 L602.7,484.9 L602.7,485.7 L602.6,486.5 L602.5,487.3 L602.6,488.2 L602.9,489.0 L603.1,489.8 L603.1,490.7 L603.0,491.5 L603.1,492.3 L603.7,493.1 L604.7,494.0 L605.4,494.8 L605.5,495.6 L605.3,496.4 L605.7,497.3 L606.8,498.1 L607.8,498.9 L607.5,499.7 L606.4,500.6 L605.5,501.4 L605.4,502.2 L605.7,503.0 L605.6,503.9 L604.8,504.7 L604.0,505.5 L603.7,506.3 L603.8,507.2 L604.0,508.0 L603.7,508.8 L603.1,509.6 L602.6,510.5 L602.4,511.3 L602.2,512.1 L601.8,512.9 Z" fill="#7DAE4B" stroke="#262626" stroke-width="0.55"/>
<line x1="601.6" y1="512.9" x2="601.6" y2="479.9" stroke="#222" stroke-width="0.6"/>
<rect x="600.19" y="495.16" width="2.80" height="7.62" fill="#7DAE4B" stroke="#000" stroke-width="0.7"/>
<line x1="600.2" y1="499.2" x2="603.0" y2="499.2" stroke="#000" stroke-width="0.7"/>
<line x1="614.3" y1="516.3" x2="614.3" y2="517.8" stroke="#333" stroke-width="0.5"/>
<line x1="614.3" y1="495.2" x2="614.3" y2="482.5" stroke="#a8a8a8" stroke-width="0.8"/>
<line x1="614.3" y1="495.2" x2="614.3" y2="488.8" stroke="#222" stroke-width="0.75"/>
<path d="M614.0,511.4 L612.0,511.0 L611.4,510.6 L610.6,510.2 L609.7,509.8 L609.0,509.4 L608.7,509.0 L608.9,508.6 L609.6,508.2 L610.6,507.8 L611.5,507.4 L612.2,506.9 L612.7,506.5 L613.0,506.1 L613.1,505.7 L613.1,505.3 L613.1,504.9 L613.0,504.5 L613.1,504.1 L613.2,503.7 L613.3,503.3 L613.5,502.9 L613.7,502.5 L613.9,502.1 L614.0,501.7 L614.0,501.3 L614.0,500.8 L614.0,500.4 L614.0,500.0 L614.0,499.6 L614.0,499.2 L614.0,498.8 L614.0,498.4 L614.0,498.0 L614.0,497.6 L614.0,497.2 L614.0,496.8 L614.0,496.4 L614.0,496.0 L614.0,495.6 L614.0,495.2 L614.5,495.2 L614.6,495.6 L614.6,496.0 L614.6,496.4 L614.6,496.8 L614.6,497.2 L614.6,497.6 L614.6,498.0 L614.6,498.4 L614.6,498.8 L614.6,499.2 L614.6,499.6 L614.6,500.0 L614.6,500.4 L614.6,500.8 L614.6,501.3 L614.6,501.7 L614.7,502.1 L614.9,502.5 L615.1,502.9 L615.3,503.3 L615.4,503.7 L615.5,504.1 L615.6,504.5 L615.5,504.9 L615.5,505.3 L615.5,505.7 L615.6,506.1 L615.9,506.5 L616.4,506.9 L617.1,507.4 L618.0,507.8 L619.0,508.2 L619.7,508.6 L619.9,509.0 L619.6,509.4 L618.9,509.8 L618.0,510.2 L617.2,510.6 L616.6,511.0 L614.5,511.4 Z" fill="#7DAE4B" stroke="#262626" stroke-width="0.55"/>
<line x1="614.3" y1="511.4" x2="614.3" y2="495.2" stroke="#222" stroke-width="0.6"/>
<rect x="612.90" y="505.83" width="2.80" height="4.57" fill="#7DAE4B" stroke="#000" stroke-width="0.7"/>
<line x1="612.9" y1="508.9" x2="615.7" y2="508.9" stroke="#000" stroke-width="0.7"/>
<line x1="627.0" y1="516.3" x2="627.0" y2="517.8" stroke="#333" stroke-width="0.5"/>
<line x1="627.0" y1="495.2" x2="627.0" y2="484.0" stroke="#a8a8a8" stroke-width="0.8"/>
<line x1="627.0" y1="495.2" x2="627.0" y2="489.6" stroke="#222" stroke-width="0.75"/>
<path d="M626.8,511.4 L624.8,511.0 L624.1,510.6 L623.3,510.2 L622.4,509.8 L621.7,509.4 L621.4,509.0 L621.6,508.6 L622.2,508.2 L623.2,507.8 L624.1,507.4 L624.8,506.9 L625.3,506.5 L625.5,506.1 L625.6,505.7 L625.6,505.3 L625.6,504.9 L625.5,504.5 L625.6,504.1 L625.7,503.7 L625.9,503.3 L626.1,502.9 L626.3,502.5 L626.5,502.1 L626.6,501.7 L626.7,501.3 L626.7,500.8 L626.7,500.4 L626.7,500.0 L626.7,499.6 L626.7,499.2 L626.7,498.8 L626.7,498.4 L626.7,498.0 L626.7,497.6 L626.7,497.2 L626.7,496.8 L626.7,496.4 L626.7,496.0 L626.7,495.6 L626.8,495.2 L627.3,495.2 L627.3,495.6 L627.3,496.0 L627.3,496.4 L627.3,496.8 L627.3,497.2 L627.3,497.6 L627.3,498.0 L627.3,498.4 L627.3,498.8 L627.3,499.2 L627.3,499.6 L627.3,500.0 L627.3,500.4 L627.3,500.8 L627.3,501.3 L627.4,501.7 L627.5,502.1 L627.7,502.5 L627.9,502.9 L628.2,503.3 L628.3,503.7 L628.5,504.1 L628.5,504.5 L628.5,504.9 L628.4,505.3 L628.4,505.7 L628.5,506.1 L628.7,506.5 L629.2,506.9 L629.9,507.4 L630.9,507.8 L631.8,508.2 L632.4,508.6 L632.6,509.0 L632.3,509.4 L631.6,509.8 L630.7,510.2 L629.9,510.6 L629.3,511.0 L627.3,511.4 Z" fill="#7DAE4B" stroke="#262626" stroke-width="0.55"/>
<line x1="627.0" y1="511.4" x2="627.0" y2="495.2" stroke="#222" stroke-width="0.6"/>
<rect x="625.61" y="505.32" width="2.80" height="5.08" fill="#7DAE4B" stroke="#000" stroke-width="0.7"/>
<line x1="625.6" y1="508.9" x2="628.4" y2="508.9" stroke="#000" stroke-width="0.7"/>
<line x1="639.7" y1="516.3" x2="639.7" y2="517.8" stroke="#333" stroke-width="0.5"/>
<line x1="639.7" y1="495.2" x2="639.7" y2="482.5" stroke="#a8a8a8" stroke-width="0.8"/>
<line x1="639.7" y1="495.2" x2="639.7" y2="488.8" stroke="#222" stroke-width="0.75"/>
<path d="M639.5,511.4 L637.5,511.0 L636.8,510.6 L636.0,510.2 L635.1,509.8 L634.4,509.4 L634.1,509.0 L634.3,508.6 L635.0,508.2 L635.9,507.8 L636.8,507.4 L637.5,506.9 L638.0,506.5 L638.3,506.1 L638.3,505.7 L638.3,505.3 L638.3,504.9 L638.2,504.5 L638.3,504.1 L638.4,503.7 L638.6,503.3 L638.8,502.9 L639.0,502.5 L639.2,502.1 L639.3,501.7 L639.4,501.3 L639.4,500.8 L639.4,500.4 L639.4,500.0 L639.4,499.6 L639.4,499.2 L639.4,498.8 L639.4,498.4 L639.4,498.0 L639.4,497.6 L639.4,497.2 L639.4,496.8 L639.4,496.4 L639.4,496.0 L639.4,495.6 L639.5,495.2 L640.0,495.2 L640.0,495.6 L640.0,496.0 L640.0,496.4 L640.0,496.8 L640.0,497.2 L640.0,497.6 L640.0,498.0 L640.0,498.4 L640.0,498.8 L640.0,499.2 L640.0,499.6 L640.0,500.0 L640.0,500.4 L640.0,500.8 L640.0,501.3 L640.1,501.7 L640.3,502.1 L640.4,502.5 L640.6,502.9 L640.9,503.3 L641.1,503.7 L641.2,504.1 L641.2,504.5 L641.2,504.9 L641.1,505.3 L641.1,505.7 L641.2,506.1 L641.4,506.5 L641.9,506.9 L642.7,507.4 L643.6,507.8 L644.5,508.2 L645.2,508.6 L645.4,509.0 L645.0,509.4 L644.3,509.8 L643.4,510.2 L642.6,510.6 L642.0,511.0 L640.0,511.4 Z" fill="#7DAE4B" stroke="#262626" stroke-width="0.55"/>
<line x1="639.7" y1="511.4" x2="639.7" y2="495.2" stroke="#222" stroke-width="0.6"/>
<rect x="638.32" y="505.32" width="2.80" height="5.08" fill="#7DAE4B" stroke="#000" stroke-width="0.7"/>
<line x1="638.3" y1="508.9" x2="641.1" y2="508.9" stroke="#000" stroke-width="0.7"/>
<line x1="652.4" y1="516.3" x2="652.4" y2="517.8" stroke="#333" stroke-width="0.5"/>
<line x1="652.4" y1="497.7" x2="652.4" y2="478.4" stroke="#a8a8a8" stroke-width="0.8"/>
<line x1="652.4" y1="497.7" x2="652.4" y2="488.0" stroke="#222" stroke-width="0.75"/>
<path d="M652.2,511.4 L650.3,511.1 L649.5,510.7 L648.7,510.4 L647.9,510.0 L647.5,509.7 L647.6,509.4 L648.2,509.0 L649.2,508.7 L650.1,508.3 L650.9,508.0 L651.3,507.6 L651.6,507.3 L651.7,507.0 L651.8,506.6 L651.8,506.3 L651.8,505.9 L651.8,505.6 L651.8,505.2 L651.8,504.9 L651.9,504.6 L651.9,504.2 L652.0,503.9 L652.1,503.5 L652.1,503.2 L652.1,502.8 L652.1,502.5 L652.1,502.2 L652.1,501.8 L652.1,501.5 L652.1,501.1 L652.1,500.8 L652.1,500.4 L652.1,500.1 L652.1,499.8 L652.1,499.4 L652.1,499.1 L652.1,498.7 L652.1,498.4 L652.1,498.0 L652.2,497.7 L652.7,497.7 L652.7,498.0 L652.7,498.4 L652.7,498.7 L652.7,499.1 L652.7,499.4 L652.7,499.8 L652.7,500.1 L652.7,500.4 L652.7,500.8 L652.7,501.1 L652.7,501.5 L652.7,501.8 L652.7,502.2 L652.7,502.5 L652.7,502.8 L652.7,503.2 L652.8,503.5 L652.8,503.9 L652.9,504.2 L653.0,504.6 L653.0,504.9 L653.0,505.2 L653.0,505.6 L653.0,505.9 L653.0,506.3 L653.1,506.6 L653.1,507.0 L653.3,507.3 L653.5,507.6 L654.0,508.0 L654.7,508.3 L655.7,508.7 L656.6,509.0 L657.2,509.4 L657.3,509.7 L656.9,510.0 L656.2,510.4 L655.3,510.7 L654.5,511.1 L652.7,511.4 Z" fill="#7DAE4B" stroke="#262626" stroke-width="0.55"/>
<line x1="652.4" y1="511.4" x2="652.4" y2="497.7" stroke="#222" stroke-width="0.6"/>
<rect x="651.03" y="507.86" width="2.80" height="2.54" fill="#7DAE4B" stroke="#000" stroke-width="0.7"/>
<line x1="651.0" y1="509.4" x2="653.8" y2="509.4" stroke="#000" stroke-width="0.7"/>
<line x1="665.1" y1="516.3" x2="665.1" y2="517.8" stroke="#333" stroke-width="0.5"/>
<line x1="665.1" y1="473.8" x2="665.1" y2="473.3" stroke="#a8a8a8" stroke-width="0.8"/>
<line x1="665.1" y1="473.8" x2="665.1" y2="473.6" stroke="#222" stroke-width="0.75"/>
<path d="M664.9,512.9 L663.1,512.0 L662.6,511.0 L661.4,510.0 L659.6,509.0 L659.1,508.1 L660.2,507.1 L661.0,506.1 L660.5,505.1 L659.9,504.1 L660.6,503.2 L661.9,502.2 L662.7,501.2 L662.8,500.2 L663.0,499.2 L663.7,498.3 L664.2,497.3 L664.3,496.3 L664.2,495.3 L664.2,494.4 L664.4,493.4 L664.6,492.4 L664.6,491.4 L664.5,490.4 L664.6,489.5 L664.8,488.5 L664.8,487.5 L664.8,486.5 L664.8,485.6 L664.8,484.6 L664.8,483.6 L664.8,482.6 L664.8,481.6 L664.8,480.7 L664.8,479.7 L664.8,478.7 L664.8,477.7 L664.8,476.8 L664.8,475.8 L664.8,474.8 L664.9,473.8 L665.4,473.8 L665.4,474.8 L665.4,475.8 L665.4,476.8 L665.4,477.7 L665.4,478.7 L665.4,479.7 L665.4,480.7 L665.4,481.6 L665.4,482.6 L665.4,483.6 L665.4,484.6 L665.4,485.6 L665.4,486.5 L665.4,487.5 L665.5,488.5 L665.6,489.5 L665.7,490.4 L665.7,491.4 L665.7,492.4 L665.9,493.4 L666.1,494.4 L666.1,495.3 L666.0,496.3 L666.1,497.3 L666.6,498.3 L667.2,499.2 L667.5,500.2 L667.6,501.2 L668.3,502.2 L669.7,503.2 L670.3,504.1 L669.7,505.1 L669.2,506.1 L670.0,507.1 L671.1,508.1 L670.6,509.0 L668.9,510.0 L667.7,511.0 L667.2,512.0 L665.4,512.9 Z" fill="#7DAE4B" stroke="#262626" stroke-width="0.55"/>
<line x1="665.1" y1="512.9" x2="665.1" y2="473.8" stroke="#222" stroke-width="0.6"/>
<rect x="663.74" y="500.24" width="2.80" height="7.62" fill="#7DAE4B" stroke="#000" stroke-width="0.7"/>
<line x1="663.7" y1="503.8" x2="666.5" y2="503.8" stroke="#000" stroke-width="0.7"/>
<line x1="677.8" y1="516.3" x2="677.8" y2="517.8" stroke="#333" stroke-width="0.5"/>
<line x1="677.8" y1="500.2" x2="677.8" y2="495.2" stroke="#a8a8a8" stroke-width="0.8"/>
<line x1="677.8" y1="500.2" x2="677.8" y2="497.7" stroke="#222" stroke-width="0.75"/>
<path d="M677.6,511.4 L676.0,511.1 L675.6,510.9 L675.2,510.6 L674.7,510.3 L674.2,510.0 L673.7,509.7 L673.2,509.5 L672.9,509.2 L672.8,508.9 L672.9,508.6 L673.2,508.3 L673.7,508.1 L674.2,507.8 L674.8,507.5 L675.4,507.2 L675.8,506.9 L676.2,506.7 L676.4,506.4 L676.6,506.1 L676.7,505.8 L676.7,505.5 L676.7,505.3 L676.8,505.0 L676.8,504.7 L676.8,504.4 L676.9,504.2 L677.0,503.9 L677.1,503.6 L677.2,503.3 L677.3,503.0 L677.4,502.8 L677.5,502.5 L677.5,502.2 L677.5,501.9 L677.5,501.6 L677.5,501.4 L677.5,501.1 L677.5,500.8 L677.5,500.5 L677.6,500.2 L678.1,500.2 L678.1,500.5 L678.1,500.8 L678.1,501.1 L678.1,501.4 L678.1,501.6 L678.1,501.9 L678.1,502.2 L678.2,502.5 L678.3,502.8 L678.4,503.0 L678.5,503.3 L678.6,503.6 L678.7,503.9 L678.8,504.2 L678.9,504.4 L678.9,504.7 L678.9,505.0 L678.9,505.3 L679.0,505.5 L679.0,505.8 L679.1,506.1 L679.3,506.4 L679.5,506.7 L679.9,506.9 L680.3,507.2 L680.9,507.5 L681.4,507.8 L682.0,508.1 L682.5,508.3 L682.8,508.6 L682.9,508.9 L682.8,509.2 L682.5,509.5 L682.0,509.7 L681.5,510.0 L681.0,510.3 L680.5,510.6 L680.1,510.9 L679.7,511.1 L678.1,511.4 Z" fill="#7DAE4B" stroke="#262626" stroke-width="0.55"/>
<line x1="677.8" y1="511.4" x2="677.8" y2="500.2" stroke="#222" stroke-width="0.6"/>
<rect x="676.45" y="507.35" width="2.80" height="3.05" fill="#7DAE4B" stroke="#000" stroke-width="0.7"/>
<line x1="676.4" y1="508.9" x2="679.2" y2="508.9" stroke="#000" stroke-width="0.7"/>
<rect x="382.50" y="519.30" width="140.40" height="7.80" fill="#D9D9D9" stroke="#333" stroke-width="0.5"/>
<text x="452.7" y="525.2" font-size="5.5" text-anchor="middle" font-weight="bold" fill="#1a1a1a">Inflammation_promoting</text>
<rect x="382.50" y="527.10" width="140.40" height="57.80" fill="#fff" stroke="#333" stroke-width="0.5"/>
<line x1="381.0" y1="577.0" x2="382.5" y2="577.0" stroke="#333" stroke-width="0.5"/>
<text x="380.0" y="579.0" font-size="5.4" text-anchor="end" font-weight="normal" fill="#4d4d4d">0.0</text>
<line x1="381.0" y1="563.2" x2="382.5" y2="563.2" stroke="#333" stroke-width="0.5"/>
<text x="380.0" y="565.2" font-size="5.4" text-anchor="end" font-weight="normal" fill="#4d4d4d">0.2</text>
<line x1="381.0" y1="549.4" x2="382.5" y2="549.4" stroke="#333" stroke-width="0.5"/>
<text x="380.0" y="551.4" font-size="5.4" text-anchor="end" font-weight="normal" fill="#4d4d4d">0.4</text>
<line x1="381.0" y1="535.6" x2="382.5" y2="535.6" stroke="#333" stroke-width="0.5"/>
<text x="380.0" y="537.6" font-size="5.4" text-anchor="end" font-weight="normal" fill="#4d4d4d">0.6</text>
<line x1="388.9" y1="584.9" x2="388.9" y2="586.4" stroke="#333" stroke-width="0.5"/>
<line x1="388.9" y1="568.7" x2="388.9" y2="554.2" stroke="#a8a8a8" stroke-width="0.8"/>
<line x1="388.9" y1="568.7" x2="388.9" y2="561.5" stroke="#222" stroke-width="0.75"/>
<path d="M388.6,578.4 L386.7,578.1 L386.2,577.9 L385.8,577.7 L385.4,577.4 L385.1,577.2 L384.9,576.9 L384.8,576.7 L384.8,576.4 L384.8,576.2 L384.8,576.0 L384.8,575.7 L384.8,575.5 L384.8,575.2 L384.7,575.0 L384.8,574.8 L384.8,574.5 L384.9,574.3 L385.1,574.0 L385.3,573.8 L385.5,573.5 L385.7,573.3 L386.0,573.1 L386.3,572.8 L386.6,572.6 L386.9,572.3 L387.2,572.1 L387.4,571.9 L387.6,571.6 L387.8,571.4 L387.9,571.1 L388.0,570.9 L388.1,570.7 L388.2,570.4 L388.3,570.2 L388.3,569.9 L388.4,569.7 L388.5,569.4 L388.6,569.2 L388.6,569.0 L388.6,568.7 L389.1,568.7 L389.2,569.0 L389.2,569.2 L389.3,569.4 L389.3,569.7 L389.4,569.9 L389.5,570.2 L389.6,570.4 L389.7,570.7 L389.8,570.9 L389.9,571.1 L390.0,571.4 L390.2,571.6 L390.4,571.9 L390.6,572.1 L390.9,572.3 L391.2,572.6 L391.5,572.8 L391.8,573.1 L392.0,573.3 L392.3,573.5 L392.5,573.8 L392.7,574.0 L392.8,574.3 L392.9,574.5 L393.0,574.8 L393.0,575.0 L393.0,575.2 L393.0,575.5 L393.0,575.7 L393.0,576.0 L393.0,576.2 L393.0,576.4 L393.0,576.7 L392.9,576.9 L392.7,577.2 L392.4,577.4 L392.0,577.7 L391.5,577.9 L391.0,578.1 L389.1,578.4 Z" fill="#3DB5BB" stroke="#262626" stroke-width="0.55"/>
<line x1="388.9" y1="578.4" x2="388.9" y2="568.7" stroke="#222" stroke-width="0.6"/>
<rect x="387.48" y="572.86" width="2.80" height="3.45" fill="#3DB5BB" stroke="#000" stroke-width="0.7"/>
<line x1="387.5" y1="574.9" x2="390.3" y2="574.9" stroke="#000" stroke-width="0.7"/>
<line x1="401.6" y1="584.9" x2="401.6" y2="586.4" stroke="#333" stroke-width="0.5"/>
<line x1="401.6" y1="537.0" x2="401.6" y2="535.6" stroke="#a8a8a8" stroke-width="0.8"/>
<line x1="401.6" y1="537.0" x2="401.6" y2="536.3" stroke="#222" stroke-width="0.75"/>
<path d="M401.4,580.5 L400.0,579.4 L399.0,578.3 L398.6,577.2 L398.6,576.1 L397.5,575.0 L396.0,573.9 L396.0,572.8 L397.1,571.8 L397.0,570.7 L395.9,569.6 L395.9,568.5 L397.2,567.4 L397.6,566.3 L396.6,565.2 L396.2,564.1 L397.2,563.1 L398.0,562.0 L397.5,560.9 L397.0,559.8 L397.9,558.7 L399.0,557.6 L399.1,556.5 L398.9,555.5 L399.5,554.4 L400.3,553.3 L400.6,552.2 L400.6,551.1 L400.8,550.0 L401.2,548.9 L401.3,547.8 L401.3,546.8 L401.3,545.7 L401.3,544.6 L401.3,543.5 L401.3,542.4 L401.3,541.3 L401.3,540.2 L401.3,539.2 L401.3,538.1 L401.4,537.0 L401.9,537.0 L401.9,538.1 L401.9,539.2 L401.9,540.2 L401.9,541.3 L401.9,542.4 L401.9,543.5 L401.9,544.6 L401.9,545.7 L401.9,546.8 L402.0,547.8 L402.1,548.9 L402.5,550.0 L402.7,551.1 L402.7,552.2 L403.0,553.3 L403.8,554.4 L404.4,555.5 L404.2,556.5 L404.3,557.6 L405.4,558.7 L406.3,559.8 L405.8,560.9 L405.3,562.0 L406.1,563.1 L407.1,564.1 L406.7,565.2 L405.7,566.3 L406.1,567.4 L407.4,568.5 L407.4,569.6 L406.3,570.7 L406.2,571.8 L407.3,572.8 L407.3,573.9 L405.8,575.0 L404.7,576.1 L404.7,577.2 L404.3,578.3 L403.3,579.4 L401.9,580.5 Z" fill="#3DB5BB" stroke="#262626" stroke-width="0.55"/>
<line x1="401.6" y1="580.5" x2="401.6" y2="537.0" stroke="#222" stroke-width="0.6"/>
<rect x="400.25" y="559.06" width="2.80" height="13.11" fill="#3DB5BB" stroke="#000" stroke-width="0.7"/>
<line x1="400.2" y1="565.3" x2="403.0" y2="565.3" stroke="#000" stroke-width="0.7"/>
<line x1="414.4" y1="584.9" x2="414.4" y2="586.4" stroke="#333" stroke-width="0.5"/>
<line x1="414.4" y1="556.3" x2="414.4" y2="548.0" stroke="#a8a8a8" stroke-width="0.8"/>
<line x1="414.4" y1="556.3" x2="414.4" y2="552.2" stroke="#222" stroke-width="0.75"/>
<path d="M414.2,579.1 L412.4,578.5 L411.6,577.9 L411.0,577.4 L410.7,576.8 L410.6,576.2 L410.2,575.7 L409.6,575.1 L408.9,574.5 L408.7,573.9 L409.1,573.4 L409.9,572.8 L410.8,572.2 L411.5,571.7 L411.7,571.1 L411.7,570.5 L411.6,570.0 L411.6,569.4 L411.8,568.8 L412.3,568.3 L412.9,567.7 L413.3,567.1 L413.5,566.5 L413.7,566.0 L413.8,565.4 L413.9,564.8 L414.0,564.3 L414.1,563.7 L414.1,563.1 L414.1,562.6 L414.1,562.0 L414.1,561.4 L414.1,560.9 L414.1,560.3 L414.1,559.7 L414.1,559.1 L414.1,558.6 L414.1,558.0 L414.1,557.4 L414.1,556.9 L414.2,556.3 L414.7,556.3 L414.7,556.9 L414.7,557.4 L414.7,558.0 L414.7,558.6 L414.7,559.1 L414.7,559.7 L414.7,560.3 L414.7,560.9 L414.7,561.4 L414.7,562.0 L414.7,562.6 L414.7,563.1 L414.7,563.7 L414.8,564.3 L414.9,564.8 L415.0,565.4 L415.1,566.0 L415.3,566.5 L415.5,567.1 L415.9,567.7 L416.5,568.3 L417.0,568.8 L417.2,569.4 L417.3,570.0 L417.1,570.5 L417.1,571.1 L417.3,571.7 L418.0,572.2 L418.9,572.8 L419.7,573.4 L420.1,573.9 L419.9,574.5 L419.3,575.1 L418.6,575.7 L418.2,576.2 L418.1,576.8 L417.8,577.4 L417.3,577.9 L416.5,578.5 L414.7,579.1 Z" fill="#3DB5BB" stroke="#262626" stroke-width="0.55"/>
<line x1="414.4" y1="579.1" x2="414.4" y2="556.3" stroke="#222" stroke-width="0.6"/>
<rect x="413.01" y="570.10" width="2.80" height="5.52" fill="#3DB5BB" stroke="#000" stroke-width="0.7"/>
<line x1="413.0" y1="572.9" x2="415.8" y2="572.9" stroke="#000" stroke-width="0.7"/>
<line x1="427.2" y1="584.9" x2="427.2" y2="586.4" stroke="#333" stroke-width="0.5"/>
<line x1="427.2" y1="571.5" x2="427.2" y2="558.4" stroke="#a8a8a8" stroke-width="0.8"/>
<line x1="427.2" y1="571.5" x2="427.2" y2="564.9" stroke="#222" stroke-width="0.75"/>
<path d="M426.9,578.4 L426.1,578.2 L425.8,578.0 L425.4,577.9 L424.9,577.7 L424.5,577.5 L424.1,577.3 L423.7,577.2 L423.4,577.0 L423.1,576.8 L423.0,576.7 L423.0,576.5 L423.0,576.3 L423.1,576.1 L423.2,576.0 L423.4,575.8 L423.6,575.6 L423.8,575.4 L424.0,575.3 L424.2,575.1 L424.4,574.9 L424.6,574.8 L424.8,574.6 L424.9,574.4 L425.0,574.2 L425.1,574.1 L425.2,573.9 L425.2,573.7 L425.3,573.5 L425.4,573.4 L425.5,573.2 L425.6,573.0 L425.8,572.9 L425.9,572.7 L426.1,572.5 L426.2,572.3 L426.4,572.2 L426.5,572.0 L426.6,571.8 L426.7,571.7 L426.9,571.5 L427.4,571.5 L427.6,571.7 L427.7,571.8 L427.9,572.0 L428.0,572.2 L428.1,572.3 L428.3,572.5 L428.4,572.7 L428.6,572.9 L428.7,573.0 L428.8,573.2 L428.9,573.4 L429.0,573.5 L429.1,573.7 L429.2,573.9 L429.2,574.1 L429.3,574.2 L429.4,574.4 L429.6,574.6 L429.7,574.8 L429.9,574.9 L430.1,575.1 L430.4,575.3 L430.6,575.4 L430.8,575.6 L431.0,575.8 L431.2,576.0 L431.3,576.1 L431.4,576.3 L431.4,576.5 L431.3,576.7 L431.2,576.8 L431.0,577.0 L430.7,577.2 L430.3,577.3 L429.9,577.5 L429.4,577.7 L429.0,577.9 L428.6,578.0 L428.2,578.2 L427.4,578.4 Z" fill="#3DB5BB" stroke="#262626" stroke-width="0.55"/>
<line x1="427.2" y1="578.4" x2="427.2" y2="571.5" stroke="#222" stroke-width="0.6"/>
<rect x="425.77" y="573.55" width="2.80" height="3.45" fill="#3DB5BB" stroke="#000" stroke-width="0.7"/>
<line x1="425.8" y1="575.6" x2="428.6" y2="575.6" stroke="#000" stroke-width="0.7"/>
<line x1="439.9" y1="584.9" x2="439.9" y2="586.4" stroke="#333" stroke-width="0.5"/>
<line x1="439.9" y1="563.2" x2="439.9" y2="550.8" stroke="#a8a8a8" stroke-width="0.8"/>
<line x1="439.9" y1="563.2" x2="439.9" y2="557.0" stroke="#222" stroke-width="0.75"/>
<path d="M439.7,579.1 L439.0,578.7 L438.6,578.3 L438.2,577.9 L437.8,577.5 L437.5,577.1 L437.3,576.7 L437.0,576.3 L436.7,575.9 L436.2,575.5 L435.6,575.1 L434.9,574.7 L434.4,574.3 L434.1,573.9 L434.2,573.5 L434.7,573.1 L435.3,572.7 L436.0,572.3 L436.6,571.9 L437.0,571.5 L437.3,571.1 L437.4,570.7 L437.4,570.3 L437.4,569.9 L437.5,569.5 L437.7,569.2 L438.0,568.8 L438.4,568.4 L438.7,568.0 L439.1,567.6 L439.3,567.2 L439.4,566.8 L439.6,566.4 L439.6,566.0 L439.6,565.6 L439.6,565.2 L439.6,564.8 L439.6,564.4 L439.6,564.0 L439.6,563.6 L439.7,563.2 L440.2,563.2 L440.2,563.6 L440.2,564.0 L440.2,564.4 L440.2,564.8 L440.2,565.2 L440.2,565.6 L440.2,566.0 L440.3,566.4 L440.4,566.8 L440.6,567.2 L440.8,567.6 L441.1,568.0 L441.5,568.4 L441.8,568.8 L442.1,569.2 L442.3,569.5 L442.4,569.9 L442.5,570.3 L442.5,570.7 L442.6,571.1 L442.8,571.5 L443.3,571.9 L443.9,572.3 L444.6,572.7 L445.2,573.1 L445.6,573.5 L445.7,573.9 L445.5,574.3 L445.0,574.7 L444.3,575.1 L443.7,575.5 L443.2,575.9 L442.9,576.3 L442.6,576.7 L442.4,577.1 L442.0,577.5 L441.7,577.9 L441.2,578.3 L440.9,578.7 L440.2,579.1 Z" fill="#3DB5BB" stroke="#262626" stroke-width="0.55"/>
<line x1="439.9" y1="579.1" x2="439.9" y2="563.2" stroke="#222" stroke-width="0.6"/>
<rect x="438.54" y="570.79" width="2.80" height="4.14" fill="#3DB5BB" stroke="#000" stroke-width="0.7"/>
<line x1="438.5" y1="572.9" x2="441.3" y2="572.9" stroke="#000" stroke-width="0.7"/>
<line x1="452.7" y1="584.9" x2="452.7" y2="586.4" stroke="#333" stroke-width="0.5"/>
<path d="M452.4,574.9 L452.4,574.0 L452.4,573.1 L452.3,572.2 L452.2,571.3 L451.9,570.4 L451.4,569.5 L451.0,568.7 L451.0,567.8 L451.0,566.9 L450.6,566.0 L449.9,565.1 L449.3,564.2 L449.3,563.3 L449.6,562.4 L449.2,561.5 L447.9,560.6 L447.0,559.7 L447.4,558.8 L448.4,557.9 L448.6,557.0 L448.0,556.1 L447.7,555.2 L448.5,554.3 L449.6,553.4 L450.2,552.5 L450.1,551.6 L450.0,550.7 L450.5,549.8 L451.2,548.9 L451.7,548.0 L451.8,547.1 L451.9,546.2 L452.2,545.3 L452.4,544.4 L452.4,543.5 L452.4,542.6 L452.4,541.7 L452.4,540.8 L452.4,539.9 L452.4,539.0 L452.9,539.0 L453.0,539.9 L453.0,540.8 L453.0,541.7 L453.0,542.6 L453.0,543.5 L453.0,544.4 L453.2,545.3 L453.5,546.2 L453.6,547.1 L453.7,548.0 L454.2,548.9 L454.9,549.8 L455.4,550.7 L455.3,551.6 L455.2,552.5 L455.8,553.4 L456.9,554.3 L457.7,555.2 L457.4,556.1 L456.8,557.0 L457.0,557.9 L458.0,558.8 L458.4,559.7 L457.5,560.6 L456.2,561.5 L455.8,562.4 L456.1,563.3 L456.1,564.2 L455.5,565.1 L454.8,566.0 L454.4,566.9 L454.4,567.8 L454.4,568.7 L454.0,569.5 L453.5,570.4 L453.2,571.3 L453.1,572.2 L453.0,573.1 L453.0,574.0 L452.9,574.9 Z" fill="#3DB5BB" stroke="#262626" stroke-width="0.55"/>
<line x1="452.7" y1="574.9" x2="452.7" y2="539.0" stroke="#222" stroke-width="0.6"/>
<rect x="451.30" y="554.92" width="2.80" height="6.90" fill="#3DB5BB" stroke="#000" stroke-width="0.7"/>
<line x1="451.3" y1="558.4" x2="454.1" y2="558.4" stroke="#000" stroke-width="0.7"/>
<line x1="465.5" y1="584.9" x2="465.5" y2="586.4" stroke="#333" stroke-width="0.5"/>
<path d="M465.2,581.8 L464.2,580.8 L463.7,579.7 L462.8,578.6 L462.4,577.6 L462.7,576.5 L462.3,575.4 L460.9,574.3 L460.2,573.3 L460.9,572.2 L461.2,571.1 L460.0,570.1 L459.0,569.0 L459.8,567.9 L460.9,566.9 L460.5,565.8 L459.4,564.7 L459.8,563.6 L461.2,562.6 L461.5,561.5 L460.8,560.4 L460.9,559.4 L462.1,558.3 L462.9,557.2 L462.8,556.2 L462.9,555.1 L463.6,554.0 L464.3,553.0 L464.5,551.9 L464.6,550.8 L464.9,549.7 L465.1,548.7 L465.2,547.6 L465.2,546.5 L465.2,545.5 L465.2,544.4 L465.2,543.3 L465.2,542.3 L465.2,541.2 L465.2,540.1 L465.2,539.0 L465.7,539.0 L465.8,540.1 L465.8,541.2 L465.8,542.3 L465.8,543.3 L465.8,544.4 L465.8,545.5 L465.8,546.5 L465.8,547.6 L465.8,548.7 L466.1,549.7 L466.3,550.8 L466.4,551.9 L466.6,553.0 L467.3,554.0 L468.0,555.1 L468.1,556.2 L468.0,557.2 L468.8,558.3 L470.0,559.4 L470.1,560.4 L469.4,561.5 L469.7,562.6 L471.1,563.6 L471.5,564.7 L470.5,565.8 L470.0,566.9 L471.1,567.9 L471.9,569.0 L470.9,570.1 L469.7,571.1 L470.0,572.2 L470.7,573.3 L470.0,574.3 L468.7,575.4 L468.3,576.5 L468.5,577.6 L468.1,578.6 L467.2,579.7 L466.7,580.8 L465.7,581.8 Z" fill="#3DB5BB" stroke="#262626" stroke-width="0.55"/>
<line x1="465.5" y1="581.8" x2="465.5" y2="539.0" stroke="#222" stroke-width="0.6"/>
<rect x="464.06" y="559.75" width="2.80" height="10.35" fill="#3DB5BB" stroke="#000" stroke-width="0.7"/>
<line x1="464.1" y1="565.3" x2="466.9" y2="565.3" stroke="#000" stroke-width="0.7"/>
<line x1="478.2" y1="584.9" x2="478.2" y2="586.4" stroke="#333" stroke-width="0.5"/>
<line x1="478.2" y1="546.0" x2="478.2" y2="543.9" stroke="#a8a8a8" stroke-width="0.8"/>
<line x1="478.2" y1="546.0" x2="478.2" y2="544.9" stroke="#222" stroke-width="0.75"/>
<path d="M478.0,579.1 L477.9,578.2 L477.7,577.4 L477.4,576.6 L477.1,575.8 L476.3,574.9 L475.2,574.1 L474.4,573.3 L474.4,572.4 L474.7,571.6 L474.3,570.8 L473.2,570.0 L472.4,569.1 L472.7,568.3 L473.7,567.5 L474.4,566.6 L474.2,565.8 L473.7,565.0 L473.9,564.2 L474.7,563.3 L475.5,562.5 L475.9,561.7 L475.8,560.9 L475.9,560.0 L476.5,559.2 L477.2,558.4 L477.6,557.5 L477.9,556.7 L477.9,555.9 L477.9,555.1 L477.9,554.2 L477.9,553.4 L477.9,552.6 L477.9,551.7 L477.9,550.9 L477.9,550.1 L477.9,549.3 L477.9,548.4 L477.9,547.6 L477.9,546.8 L478.0,546.0 L478.5,546.0 L478.5,546.8 L478.5,547.6 L478.5,548.4 L478.5,549.3 L478.5,550.1 L478.5,550.9 L478.5,551.7 L478.5,552.6 L478.5,553.4 L478.5,554.2 L478.5,555.1 L478.5,555.9 L478.6,556.7 L478.8,557.5 L479.3,558.4 L480.0,559.2 L480.6,560.0 L480.7,560.9 L480.6,561.7 L480.9,562.5 L481.8,563.3 L482.6,564.2 L482.7,565.0 L482.3,565.8 L482.1,566.6 L482.8,567.5 L483.8,568.3 L484.0,569.1 L483.2,570.0 L482.2,570.8 L481.8,571.6 L482.0,572.4 L482.0,573.3 L481.3,574.1 L480.1,574.9 L479.4,575.8 L479.0,576.6 L478.8,577.4 L478.6,578.2 L478.5,579.1 Z" fill="#3DB5BB" stroke="#262626" stroke-width="0.55"/>
<line x1="478.2" y1="579.1" x2="478.2" y2="546.0" stroke="#222" stroke-width="0.6"/>
<rect x="476.83" y="564.58" width="2.80" height="6.21" fill="#3DB5BB" stroke="#000" stroke-width="0.7"/>
<line x1="476.8" y1="568.0" x2="479.6" y2="568.0" stroke="#000" stroke-width="0.7"/>
<line x1="491.0" y1="584.9" x2="491.0" y2="586.4" stroke="#333" stroke-width="0.5"/>
<line x1="491.0" y1="556.3" x2="491.0" y2="549.4" stroke="#a8a8a8" stroke-width="0.8"/>
<line x1="491.0" y1="556.3" x2="491.0" y2="552.9" stroke="#222" stroke-width="0.75"/>
<path d="M490.7,579.1 L489.4,578.5 L488.8,577.9 L488.3,577.4 L488.1,576.8 L488.0,576.2 L487.6,575.7 L487.0,575.1 L486.2,574.5 L485.6,573.9 L485.4,573.4 L485.7,572.8 L486.3,572.2 L486.8,571.7 L487.1,571.1 L487.0,570.5 L487.0,570.0 L487.1,569.4 L487.6,568.8 L488.2,568.3 L488.7,567.7 L489.1,567.1 L489.4,566.5 L489.4,566.0 L489.5,565.4 L489.6,564.8 L489.9,564.3 L490.3,563.7 L490.6,563.1 L490.7,562.6 L490.7,562.0 L490.7,561.4 L490.7,560.9 L490.7,560.3 L490.7,559.7 L490.7,559.1 L490.7,558.6 L490.7,558.0 L490.7,557.4 L490.7,556.9 L490.7,556.3 L491.2,556.3 L491.3,556.9 L491.3,557.4 L491.3,558.0 L491.3,558.6 L491.3,559.1 L491.3,559.7 L491.3,560.3 L491.3,560.9 L491.3,561.4 L491.3,562.0 L491.3,562.6 L491.4,563.1 L491.7,563.7 L492.1,564.3 L492.4,564.8 L492.5,565.4 L492.6,566.0 L492.6,566.5 L492.8,567.1 L493.3,567.7 L493.8,568.3 L494.4,568.8 L494.9,569.4 L495.0,570.0 L495.0,570.5 L494.9,571.1 L495.2,571.7 L495.7,572.2 L496.3,572.8 L496.6,573.4 L496.4,573.9 L495.8,574.5 L495.0,575.1 L494.4,575.7 L494.0,576.2 L493.9,576.8 L493.6,577.4 L493.2,577.9 L492.5,578.5 L491.2,579.1 Z" fill="#3DB5BB" stroke="#262626" stroke-width="0.55"/>
<line x1="491.0" y1="579.1" x2="491.0" y2="556.3" stroke="#222" stroke-width="0.6"/>
<rect x="489.59" y="569.41" width="2.80" height="4.83" fill="#3DB5BB" stroke="#000" stroke-width="0.7"/>
<line x1="489.6" y1="572.2" x2="492.4" y2="572.2" stroke="#000" stroke-width="0.7"/>
<line x1="503.8" y1="584.9" x2="503.8" y2="586.4" stroke="#333" stroke-width="0.5"/>
<path d="M503.5,575.6 L503.5,574.7 L503.5,573.8 L503.5,572.9 L503.5,572.0 L503.5,571.0 L503.2,570.1 L502.8,569.2 L502.4,568.3 L502.3,567.4 L502.0,566.5 L501.2,565.6 L500.1,564.6 L499.7,563.7 L500.1,562.8 L500.2,561.9 L499.3,561.0 L498.2,560.1 L498.1,559.2 L499.1,558.2 L499.7,557.3 L499.3,556.4 L498.8,555.5 L499.3,554.6 L500.5,553.7 L501.4,552.8 L501.6,551.8 L501.7,550.9 L502.2,550.0 L502.8,549.1 L503.2,548.2 L503.3,547.3 L503.4,546.4 L503.5,545.4 L503.5,544.5 L503.5,543.6 L503.5,542.7 L503.5,541.8 L503.5,540.9 L503.5,540.0 L503.5,539.0 L504.0,539.0 L504.1,540.0 L504.1,540.9 L504.1,541.8 L504.1,542.7 L504.1,543.6 L504.1,544.5 L504.1,545.4 L504.1,546.4 L504.2,547.3 L504.3,548.2 L504.7,549.1 L505.3,550.0 L505.8,550.9 L505.9,551.8 L506.1,552.8 L507.0,553.7 L508.3,554.6 L508.7,555.5 L508.2,556.4 L507.8,557.3 L508.4,558.2 L509.4,559.2 L509.3,560.1 L508.2,561.0 L507.3,561.9 L507.4,562.8 L507.8,563.7 L507.4,564.6 L506.3,565.6 L505.5,566.5 L505.3,567.4 L505.1,568.3 L504.8,569.2 L504.3,570.1 L504.1,571.0 L504.1,572.0 L504.1,572.9 L504.1,573.8 L504.1,574.7 L504.0,575.6 Z" fill="#3DB5BB" stroke="#262626" stroke-width="0.55"/>
<line x1="503.8" y1="575.6" x2="503.8" y2="539.0" stroke="#222" stroke-width="0.6"/>
<rect x="502.35" y="554.23" width="2.80" height="6.90" fill="#3DB5BB" stroke="#000" stroke-width="0.7"/>
<line x1="502.4" y1="557.7" x2="505.2" y2="557.7" stroke="#000" stroke-width="0.7"/>
<line x1="516.5" y1="584.9" x2="516.5" y2="586.4" stroke="#333" stroke-width="0.5"/>
<line x1="516.5" y1="546.0" x2="516.5" y2="544.6" stroke="#a8a8a8" stroke-width="0.8"/>
<line x1="516.5" y1="546.0" x2="516.5" y2="545.3" stroke="#222" stroke-width="0.75"/>
<path d="M516.3,580.5 L515.9,579.6 L515.5,578.7 L515.1,577.9 L514.9,577.0 L514.8,576.1 L514.2,575.3 L513.2,574.4 L512.5,573.5 L512.6,572.7 L513.0,571.8 L512.9,571.0 L512.0,570.1 L511.1,569.2 L511.1,568.4 L511.8,567.5 L512.3,566.6 L511.6,565.8 L510.6,564.9 L510.4,564.1 L511.3,563.2 L512.4,562.3 L512.5,561.5 L512.0,560.6 L512.0,559.8 L512.8,558.9 L513.8,558.0 L514.4,557.2 L514.4,556.3 L514.5,555.4 L514.9,554.6 L515.4,553.7 L515.8,552.9 L515.9,552.0 L516.0,551.1 L516.1,550.3 L516.2,549.4 L516.2,548.5 L516.2,547.7 L516.2,546.8 L516.3,546.0 L516.8,546.0 L516.8,546.8 L516.8,547.7 L516.8,548.5 L516.8,549.4 L517.0,550.3 L517.1,551.1 L517.1,552.0 L517.2,552.9 L517.6,553.7 L518.2,554.6 L518.6,555.4 L518.6,556.3 L518.6,557.2 L519.2,558.0 L520.3,558.9 L521.1,559.8 L521.0,560.6 L520.5,561.5 L520.6,562.3 L521.7,563.2 L522.7,564.1 L522.5,564.9 L521.4,565.8 L520.8,566.6 L521.2,567.5 L522.0,568.4 L522.0,569.2 L521.0,570.1 L520.1,571.0 L520.0,571.8 L520.5,572.7 L520.5,573.5 L519.8,574.4 L518.8,575.3 L518.3,576.1 L518.1,577.0 L518.0,577.9 L517.6,578.7 L517.1,579.6 L516.8,580.5 Z" fill="#3DB5BB" stroke="#262626" stroke-width="0.55"/>
<line x1="516.5" y1="580.5" x2="516.5" y2="546.0" stroke="#222" stroke-width="0.6"/>
<rect x="515.12" y="559.75" width="2.80" height="8.97" fill="#3DB5BB" stroke="#000" stroke-width="0.7"/>
<line x1="515.1" y1="564.6" x2="517.9" y2="564.6" stroke="#000" stroke-width="0.7"/>
<rect x="544.40" y="519.30" width="139.80" height="7.80" fill="#D9D9D9" stroke="#333" stroke-width="0.5"/>
<text x="614.3" y="525.2" font-size="5.5" text-anchor="middle" font-weight="bold" fill="#1a1a1a">Treg_signature</text>
<rect x="544.40" y="527.10" width="139.80" height="57.80" fill="#fff" stroke="#333" stroke-width="0.5"/>
<line x1="542.9" y1="577.8" x2="544.4" y2="577.8" stroke="#333" stroke-width="0.5"/>
<text x="541.9" y="579.8" font-size="5.4" text-anchor="end" font-weight="normal" fill="#4d4d4d">0.00</text>
<line x1="542.9" y1="559.9" x2="544.4" y2="559.9" stroke="#333" stroke-width="0.5"/>
<text x="541.9" y="561.9" font-size="5.4" text-anchor="end" font-weight="normal" fill="#4d4d4d">0.25</text>
<line x1="542.9" y1="542.0" x2="544.4" y2="542.0" stroke="#333" stroke-width="0.5"/>
<text x="541.9" y="544.0" font-size="5.4" text-anchor="end" font-weight="normal" fill="#4d4d4d">0.50</text>
<line x1="550.8" y1="584.9" x2="550.8" y2="586.4" stroke="#333" stroke-width="0.5"/>
<line x1="550.8" y1="556.3" x2="550.8" y2="547.0" stroke="#a8a8a8" stroke-width="0.8"/>
<line x1="550.8" y1="556.3" x2="550.8" y2="551.7" stroke="#222" stroke-width="0.75"/>
<path d="M550.5,579.2 L549.2,578.7 L548.4,578.1 L547.8,577.5 L547.5,576.9 L547.3,576.4 L547.0,575.8 L546.3,575.2 L545.4,574.6 L544.8,574.1 L544.7,573.5 L545.3,572.9 L546.2,572.4 L547.1,571.8 L547.5,571.2 L547.7,570.6 L547.7,570.1 L547.9,569.5 L548.3,568.9 L549.0,568.3 L549.6,567.8 L550.0,567.2 L550.3,566.6 L550.4,566.1 L550.5,565.5 L550.5,564.9 L550.5,564.3 L550.5,563.8 L550.5,563.2 L550.5,562.6 L550.5,562.0 L550.5,561.5 L550.5,560.9 L550.5,560.3 L550.5,559.8 L550.5,559.2 L550.5,558.6 L550.5,558.0 L550.5,557.5 L550.5,556.9 L550.5,556.3 L551.0,556.3 L551.1,556.9 L551.1,557.5 L551.1,558.0 L551.1,558.6 L551.1,559.2 L551.1,559.8 L551.1,560.3 L551.1,560.9 L551.1,561.5 L551.1,562.0 L551.1,562.6 L551.1,563.2 L551.1,563.8 L551.1,564.3 L551.1,564.9 L551.1,565.5 L551.1,566.1 L551.3,566.6 L551.5,567.2 L552.0,567.8 L552.6,568.3 L553.2,568.9 L553.6,569.5 L553.8,570.1 L553.9,570.6 L554.0,571.2 L554.4,571.8 L555.3,572.4 L556.2,572.9 L556.8,573.5 L556.7,574.1 L556.1,574.6 L555.2,575.2 L554.5,575.8 L554.2,576.4 L554.0,576.9 L553.7,577.5 L553.1,578.1 L552.4,578.7 L551.0,579.2 Z" fill="#A590C3" stroke="#262626" stroke-width="0.55"/>
<line x1="550.8" y1="579.2" x2="550.8" y2="556.3" stroke="#222" stroke-width="0.6"/>
<rect x="549.35" y="569.92" width="2.80" height="4.30" fill="#A590C3" stroke="#000" stroke-width="0.7"/>
<line x1="549.4" y1="572.1" x2="552.2" y2="572.1" stroke="#000" stroke-width="0.7"/>
<line x1="563.5" y1="584.9" x2="563.5" y2="586.4" stroke="#333" stroke-width="0.5"/>
<line x1="563.5" y1="545.6" x2="563.5" y2="542.0" stroke="#a8a8a8" stroke-width="0.8"/>
<line x1="563.5" y1="545.6" x2="563.5" y2="543.8" stroke="#222" stroke-width="0.75"/>
<path d="M563.2,581.4 L562.4,580.5 L561.8,579.6 L560.9,578.7 L560.3,577.8 L560.3,576.9 L560.3,576.0 L559.4,575.1 L558.1,574.2 L557.6,573.3 L558.3,572.4 L559.1,571.5 L558.8,570.6 L557.8,569.7 L557.6,568.8 L558.5,568.0 L559.6,567.1 L559.8,566.2 L559.3,565.3 L559.2,564.4 L560.0,563.5 L560.9,562.6 L561.4,561.7 L561.3,560.8 L561.4,559.9 L561.9,559.0 L562.4,558.1 L562.7,557.2 L562.8,556.3 L562.9,555.4 L563.1,554.5 L563.2,553.6 L563.2,552.7 L563.2,551.8 L563.2,550.9 L563.2,550.1 L563.2,549.2 L563.2,548.3 L563.2,547.4 L563.2,546.5 L563.2,545.6 L563.7,545.6 L563.8,546.5 L563.8,547.4 L563.8,548.3 L563.8,549.2 L563.8,550.1 L563.8,550.9 L563.8,551.8 L563.8,552.7 L563.8,553.6 L563.9,554.5 L564.0,555.4 L564.1,556.3 L564.2,557.2 L564.5,558.1 L565.0,559.0 L565.5,559.9 L565.6,560.8 L565.5,561.7 L566.0,562.6 L567.0,563.5 L567.7,564.4 L567.6,565.3 L567.1,566.2 L567.3,567.1 L568.4,568.0 L569.4,568.8 L569.1,569.7 L568.1,570.6 L567.9,571.5 L568.7,572.4 L569.4,573.3 L568.8,574.2 L567.5,575.1 L566.7,576.0 L566.7,576.9 L566.7,577.8 L566.1,578.7 L565.1,579.6 L564.5,580.5 L563.7,581.4 Z" fill="#A590C3" stroke="#262626" stroke-width="0.55"/>
<line x1="563.5" y1="581.4" x2="563.5" y2="545.6" stroke="#222" stroke-width="0.6"/>
<rect x="562.06" y="564.91" width="2.80" height="7.88" fill="#A590C3" stroke="#000" stroke-width="0.7"/>
<line x1="562.1" y1="569.2" x2="564.9" y2="569.2" stroke="#000" stroke-width="0.7"/>
<line x1="576.2" y1="584.9" x2="576.2" y2="586.4" stroke="#333" stroke-width="0.5"/>
<line x1="576.2" y1="542.0" x2="576.2" y2="538.4" stroke="#a8a8a8" stroke-width="0.8"/>
<line x1="576.2" y1="542.0" x2="576.2" y2="540.2" stroke="#222" stroke-width="0.75"/>
<path d="M575.9,582.8 L574.7,581.8 L574.4,580.8 L573.5,579.8 L571.9,578.7 L571.1,577.7 L571.7,576.7 L571.8,575.7 L570.7,574.6 L570.1,573.6 L571.2,572.6 L572.4,571.6 L572.4,570.6 L571.8,569.5 L572.1,568.5 L573.1,567.5 L573.7,566.5 L573.5,565.5 L573.4,564.4 L574.1,563.4 L574.8,562.4 L575.0,561.4 L575.1,560.4 L575.3,559.3 L575.7,558.3 L575.9,557.3 L575.9,556.3 L575.9,555.3 L575.9,554.2 L575.9,553.2 L575.9,552.2 L575.9,551.2 L575.9,550.2 L575.9,549.1 L575.9,548.1 L575.9,547.1 L575.9,546.1 L575.9,545.1 L575.9,544.0 L575.9,543.0 L575.9,542.0 L576.4,542.0 L576.5,543.0 L576.5,544.0 L576.5,545.1 L576.5,546.1 L576.5,547.1 L576.5,548.1 L576.5,549.1 L576.5,550.2 L576.5,551.2 L576.5,552.2 L576.5,553.2 L576.5,554.2 L576.5,555.3 L576.5,556.3 L576.5,557.3 L576.7,558.3 L577.0,559.3 L577.3,560.4 L577.3,561.4 L577.5,562.4 L578.3,563.4 L578.9,564.4 L578.9,565.5 L578.6,566.5 L579.2,567.5 L580.3,568.5 L580.5,569.5 L579.9,570.6 L579.9,571.6 L581.2,572.6 L582.2,573.6 L581.7,574.6 L580.6,575.7 L580.7,576.7 L581.2,577.7 L580.5,578.7 L578.9,579.8 L577.9,580.8 L577.6,581.8 L576.4,582.8 Z" fill="#A590C3" stroke="#262626" stroke-width="0.55"/>
<line x1="576.2" y1="582.8" x2="576.2" y2="542.0" stroke="#222" stroke-width="0.6"/>
<rect x="574.77" y="566.34" width="2.80" height="8.59" fill="#A590C3" stroke="#000" stroke-width="0.7"/>
<line x1="574.8" y1="570.6" x2="577.6" y2="570.6" stroke="#000" stroke-width="0.7"/>
<line x1="588.9" y1="584.9" x2="588.9" y2="586.4" stroke="#333" stroke-width="0.5"/>
<line x1="588.9" y1="572.1" x2="588.9" y2="558.5" stroke="#a8a8a8" stroke-width="0.8"/>
<line x1="588.9" y1="572.1" x2="588.9" y2="565.3" stroke="#222" stroke-width="0.75"/>
<path d="M588.6,579.2 L588.0,579.1 L587.6,578.9 L587.2,578.7 L586.7,578.5 L586.2,578.3 L585.7,578.2 L585.1,578.0 L584.7,577.8 L584.4,577.6 L584.2,577.4 L584.1,577.3 L584.1,577.1 L584.3,576.9 L584.6,576.7 L584.9,576.5 L585.3,576.4 L585.6,576.2 L585.9,576.0 L586.2,575.8 L586.4,575.7 L586.6,575.5 L586.8,575.3 L586.9,575.1 L587.1,574.9 L587.2,574.8 L587.2,574.6 L587.3,574.4 L587.4,574.2 L587.6,574.0 L587.7,573.9 L587.8,573.7 L587.9,573.5 L588.1,573.3 L588.2,573.1 L588.3,573.0 L588.4,572.8 L588.5,572.6 L588.6,572.4 L588.6,572.3 L588.6,572.1 L589.1,572.1 L589.2,572.3 L589.2,572.4 L589.2,572.6 L589.3,572.8 L589.4,573.0 L589.6,573.1 L589.7,573.3 L589.8,573.5 L590.0,573.7 L590.1,573.9 L590.2,574.0 L590.3,574.2 L590.4,574.4 L590.5,574.6 L590.6,574.8 L590.7,574.9 L590.8,575.1 L591.0,575.3 L591.1,575.5 L591.3,575.7 L591.6,575.8 L591.9,576.0 L592.2,576.2 L592.5,576.4 L592.8,576.5 L593.2,576.7 L593.4,576.9 L593.6,577.1 L593.7,577.3 L593.6,577.4 L593.4,577.6 L593.1,577.8 L592.6,578.0 L592.1,578.2 L591.6,578.3 L591.0,578.5 L590.6,578.7 L590.1,578.9 L589.8,579.1 L589.1,579.2 Z" fill="#A590C3" stroke="#262626" stroke-width="0.55"/>
<line x1="588.9" y1="579.2" x2="588.9" y2="572.1" stroke="#222" stroke-width="0.6"/>
<rect x="587.48" y="574.94" width="2.80" height="2.86" fill="#A590C3" stroke="#000" stroke-width="0.7"/>
<line x1="587.5" y1="576.4" x2="590.3" y2="576.4" stroke="#000" stroke-width="0.7"/>
<line x1="601.6" y1="584.9" x2="601.6" y2="586.4" stroke="#333" stroke-width="0.5"/>
<line x1="601.6" y1="536.3" x2="601.6" y2="534.8" stroke="#a8a8a8" stroke-width="0.8"/>
<line x1="601.6" y1="536.3" x2="601.6" y2="535.6" stroke="#222" stroke-width="0.75"/>
<path d="M601.3,577.8 L601.3,576.8 L601.1,575.7 L600.7,574.7 L600.0,573.6 L599.6,572.6 L599.5,571.6 L598.8,570.5 L597.4,569.5 L596.9,568.5 L597.4,567.4 L597.5,566.4 L596.3,565.3 L595.4,564.3 L596.2,563.3 L597.2,562.2 L596.9,561.2 L596.1,560.2 L596.6,559.1 L598.0,558.1 L598.7,557.0 L598.6,556.0 L598.8,555.0 L599.7,553.9 L600.4,552.9 L600.6,551.8 L600.7,550.8 L601.0,549.8 L601.3,548.7 L601.3,547.7 L601.3,546.7 L601.3,545.6 L601.3,544.6 L601.3,543.5 L601.3,542.5 L601.3,541.5 L601.3,540.4 L601.3,539.4 L601.3,538.3 L601.3,537.3 L601.3,536.3 L601.8,536.3 L601.9,537.3 L601.9,538.3 L601.9,539.4 L601.9,540.4 L601.9,541.5 L601.9,542.5 L601.9,543.5 L601.9,544.6 L601.9,545.6 L601.9,546.7 L601.9,547.7 L601.9,548.7 L602.2,549.8 L602.4,550.8 L602.5,551.8 L602.7,552.9 L603.5,553.9 L604.4,555.0 L604.6,556.0 L604.5,557.0 L605.2,558.1 L606.6,559.1 L607.1,560.2 L606.3,561.2 L605.9,562.2 L607.0,563.3 L607.8,564.3 L606.9,565.3 L605.7,566.4 L605.7,567.4 L606.3,568.5 L605.8,569.5 L604.4,570.5 L603.7,571.6 L603.5,572.6 L603.2,573.6 L602.5,574.7 L602.1,575.7 L601.9,576.8 L601.8,577.8 Z" fill="#A590C3" stroke="#262626" stroke-width="0.55"/>
<line x1="601.6" y1="577.8" x2="601.6" y2="536.3" stroke="#222" stroke-width="0.6"/>
<rect x="600.19" y="558.47" width="2.80" height="7.16" fill="#A590C3" stroke="#000" stroke-width="0.7"/>
<line x1="600.2" y1="562.0" x2="603.0" y2="562.0" stroke="#000" stroke-width="0.7"/>
<line x1="614.3" y1="584.9" x2="614.3" y2="586.4" stroke="#333" stroke-width="0.5"/>
<line x1="614.3" y1="567.1" x2="614.3" y2="554.2" stroke="#a8a8a8" stroke-width="0.8"/>
<line x1="614.3" y1="567.1" x2="614.3" y2="560.6" stroke="#222" stroke-width="0.75"/>
<path d="M614.0,579.2 L613.3,578.9 L612.8,578.6 L612.2,578.3 L611.6,578.0 L611.0,577.7 L610.5,577.4 L610.2,577.1 L610.1,576.8 L610.1,576.5 L610.2,576.2 L610.2,575.9 L610.3,575.6 L610.3,575.3 L610.3,575.0 L610.4,574.7 L610.5,574.4 L610.7,574.1 L611.0,573.8 L611.3,573.5 L611.6,573.1 L612.0,572.8 L612.3,572.5 L612.6,572.2 L612.9,571.9 L613.1,571.6 L613.3,571.3 L613.4,571.0 L613.5,570.7 L613.6,570.4 L613.7,570.1 L613.8,569.8 L613.9,569.5 L614.0,569.2 L614.0,568.9 L614.0,568.6 L614.0,568.3 L614.0,568.0 L614.0,567.7 L614.0,567.4 L614.0,567.1 L614.5,567.1 L614.6,567.4 L614.6,567.7 L614.6,568.0 L614.6,568.3 L614.6,568.6 L614.6,568.9 L614.6,569.2 L614.7,569.5 L614.8,569.8 L614.9,570.1 L615.0,570.4 L615.1,570.7 L615.2,571.0 L615.3,571.3 L615.5,571.6 L615.7,571.9 L616.0,572.2 L616.3,572.5 L616.6,572.8 L617.0,573.1 L617.3,573.5 L617.6,573.8 L617.9,574.1 L618.1,574.4 L618.2,574.7 L618.3,575.0 L618.3,575.3 L618.3,575.6 L618.4,575.9 L618.4,576.2 L618.5,576.5 L618.5,576.8 L618.4,577.1 L618.1,577.4 L617.6,577.7 L617.0,578.0 L616.4,578.3 L615.8,578.6 L615.3,578.9 L614.5,579.2 Z" fill="#A590C3" stroke="#262626" stroke-width="0.55"/>
<line x1="614.3" y1="579.2" x2="614.3" y2="567.1" stroke="#222" stroke-width="0.6"/>
<rect x="612.90" y="573.50" width="2.80" height="3.58" fill="#A590C3" stroke="#000" stroke-width="0.7"/>
<line x1="612.9" y1="575.7" x2="615.7" y2="575.7" stroke="#000" stroke-width="0.7"/>
<line x1="627.0" y1="584.9" x2="627.0" y2="586.4" stroke="#333" stroke-width="0.5"/>
<line x1="627.0" y1="567.1" x2="627.0" y2="558.5" stroke="#a8a8a8" stroke-width="0.8"/>
<line x1="627.0" y1="567.1" x2="627.0" y2="562.8" stroke="#222" stroke-width="0.75"/>
<path d="M626.8,579.2 L626.0,578.9 L625.5,578.6 L624.9,578.3 L624.3,578.0 L623.7,577.7 L623.2,577.4 L622.9,577.1 L622.8,576.8 L622.8,576.5 L622.9,576.2 L622.9,575.9 L623.0,575.6 L623.0,575.3 L623.0,575.0 L623.1,574.7 L623.2,574.4 L623.4,574.1 L623.7,573.8 L624.0,573.5 L624.3,573.1 L624.7,572.8 L625.0,572.5 L625.3,572.2 L625.6,571.9 L625.8,571.6 L626.0,571.3 L626.1,571.0 L626.2,570.7 L626.3,570.4 L626.4,570.1 L626.5,569.8 L626.6,569.5 L626.7,569.2 L626.7,568.9 L626.7,568.6 L626.7,568.3 L626.7,568.0 L626.7,567.7 L626.7,567.4 L626.8,567.1 L627.3,567.1 L627.3,567.4 L627.3,567.7 L627.3,568.0 L627.3,568.3 L627.3,568.6 L627.3,568.9 L627.3,569.2 L627.4,569.5 L627.5,569.8 L627.6,570.1 L627.7,570.4 L627.8,570.7 L627.9,571.0 L628.0,571.3 L628.2,571.6 L628.4,571.9 L628.7,572.2 L629.0,572.5 L629.3,572.8 L629.7,573.1 L630.0,573.5 L630.3,573.8 L630.6,574.1 L630.8,574.4 L630.9,574.7 L631.0,575.0 L631.0,575.3 L631.1,575.6 L631.1,575.9 L631.2,576.2 L631.2,576.5 L631.2,576.8 L631.1,577.1 L630.8,577.4 L630.3,577.7 L629.7,578.0 L629.1,578.3 L628.5,578.6 L628.0,578.9 L627.3,579.2 Z" fill="#A590C3" stroke="#262626" stroke-width="0.55"/>
<line x1="627.0" y1="579.2" x2="627.0" y2="567.1" stroke="#222" stroke-width="0.6"/>
<rect x="625.61" y="573.50" width="2.80" height="3.58" fill="#A590C3" stroke="#000" stroke-width="0.7"/>
<line x1="625.6" y1="575.7" x2="628.4" y2="575.7" stroke="#000" stroke-width="0.7"/>
<line x1="639.7" y1="584.9" x2="639.7" y2="586.4" stroke="#333" stroke-width="0.5"/>
<line x1="639.7" y1="567.1" x2="639.7" y2="552.7" stroke="#a8a8a8" stroke-width="0.8"/>
<line x1="639.7" y1="567.1" x2="639.7" y2="559.9" stroke="#222" stroke-width="0.75"/>
<path d="M639.5,579.2 L638.7,578.9 L638.2,578.6 L637.6,578.3 L637.0,578.0 L636.4,577.7 L635.9,577.4 L635.6,577.1 L635.5,576.8 L635.5,576.5 L635.6,576.2 L635.6,575.9 L635.7,575.6 L635.7,575.3 L635.7,575.0 L635.8,574.7 L636.0,574.4 L636.2,574.1 L636.4,573.8 L636.7,573.5 L637.0,573.1 L637.4,572.8 L637.7,572.5 L638.0,572.2 L638.3,571.9 L638.5,571.6 L638.7,571.3 L638.8,571.0 L638.9,570.7 L639.0,570.4 L639.1,570.1 L639.2,569.8 L639.3,569.5 L639.4,569.2 L639.4,568.9 L639.4,568.6 L639.4,568.3 L639.4,568.0 L639.4,567.7 L639.4,567.4 L639.5,567.1 L640.0,567.1 L640.0,567.4 L640.0,567.7 L640.0,568.0 L640.0,568.3 L640.0,568.6 L640.0,568.9 L640.0,569.2 L640.1,569.5 L640.2,569.8 L640.3,570.1 L640.4,570.4 L640.5,570.7 L640.6,571.0 L640.7,571.3 L640.9,571.6 L641.1,571.9 L641.4,572.2 L641.7,572.5 L642.1,572.8 L642.4,573.1 L642.7,573.5 L643.0,573.8 L643.3,574.1 L643.5,574.4 L643.6,574.7 L643.7,575.0 L643.7,575.3 L643.8,575.6 L643.8,575.9 L643.9,576.2 L643.9,576.5 L643.9,576.8 L643.8,577.1 L643.5,577.4 L643.0,577.7 L642.5,578.0 L641.8,578.3 L641.2,578.6 L640.7,578.9 L640.0,579.2 Z" fill="#A590C3" stroke="#262626" stroke-width="0.55"/>
<line x1="639.7" y1="579.2" x2="639.7" y2="567.1" stroke="#222" stroke-width="0.6"/>
<rect x="638.32" y="573.50" width="2.80" height="3.58" fill="#A590C3" stroke="#000" stroke-width="0.7"/>
<line x1="638.3" y1="575.7" x2="641.1" y2="575.7" stroke="#000" stroke-width="0.7"/>
<line x1="652.4" y1="584.9" x2="652.4" y2="586.4" stroke="#333" stroke-width="0.5"/>
<line x1="652.4" y1="567.1" x2="652.4" y2="550.6" stroke="#a8a8a8" stroke-width="0.8"/>
<line x1="652.4" y1="567.1" x2="652.4" y2="558.8" stroke="#222" stroke-width="0.75"/>
<path d="M652.2,579.2 L651.4,578.9 L650.9,578.6 L650.3,578.3 L649.7,578.0 L649.1,577.7 L648.6,577.4 L648.4,577.1 L648.2,576.8 L648.2,576.5 L648.3,576.2 L648.3,575.9 L648.4,575.6 L648.4,575.3 L648.4,575.0 L648.5,574.7 L648.7,574.4 L648.9,574.1 L649.1,573.8 L649.4,573.5 L649.7,573.1 L650.1,572.8 L650.4,572.5 L650.7,572.2 L651.0,571.9 L651.2,571.6 L651.4,571.3 L651.6,571.0 L651.7,570.7 L651.7,570.4 L651.8,570.1 L651.9,569.8 L652.0,569.5 L652.1,569.2 L652.1,568.9 L652.1,568.6 L652.1,568.3 L652.1,568.0 L652.1,567.7 L652.1,567.4 L652.2,567.1 L652.7,567.1 L652.7,567.4 L652.7,567.7 L652.7,568.0 L652.7,568.3 L652.7,568.6 L652.7,568.9 L652.7,569.2 L652.8,569.5 L652.9,569.8 L653.0,570.1 L653.1,570.4 L653.2,570.7 L653.3,571.0 L653.4,571.3 L653.6,571.6 L653.8,571.9 L654.1,572.2 L654.4,572.5 L654.8,572.8 L655.1,573.1 L655.4,573.5 L655.7,573.8 L656.0,574.1 L656.2,574.4 L656.3,574.7 L656.4,575.0 L656.5,575.3 L656.5,575.6 L656.5,575.9 L656.6,576.2 L656.6,576.5 L656.6,576.8 L656.5,577.1 L656.2,577.4 L655.7,577.7 L655.2,578.0 L654.5,578.3 L653.9,578.6 L653.4,578.9 L652.7,579.2 Z" fill="#A590C3" stroke="#262626" stroke-width="0.55"/>
<line x1="652.4" y1="579.2" x2="652.4" y2="567.1" stroke="#222" stroke-width="0.6"/>
<rect x="651.03" y="573.50" width="2.80" height="3.58" fill="#A590C3" stroke="#000" stroke-width="0.7"/>
<line x1="651.0" y1="575.7" x2="653.8" y2="575.7" stroke="#000" stroke-width="0.7"/>
<line x1="665.1" y1="584.9" x2="665.1" y2="586.4" stroke="#333" stroke-width="0.5"/>
<line x1="665.1" y1="552.7" x2="665.1" y2="545.6" stroke="#a8a8a8" stroke-width="0.8"/>
<line x1="665.1" y1="552.7" x2="665.1" y2="549.2" stroke="#222" stroke-width="0.75"/>
<path d="M664.9,579.2 L663.6,578.6 L663.0,577.9 L662.6,577.2 L662.4,576.6 L662.0,575.9 L661.2,575.3 L660.1,574.6 L659.2,573.9 L659.1,573.3 L659.8,572.6 L660.8,571.9 L661.3,571.3 L661.3,570.6 L660.9,570.0 L660.9,569.3 L661.3,568.6 L662.0,568.0 L662.8,567.3 L663.3,566.6 L663.4,566.0 L663.5,565.3 L663.7,564.7 L664.0,564.0 L664.4,563.3 L664.7,562.7 L664.8,562.0 L664.8,561.3 L664.8,560.7 L664.8,560.0 L664.8,559.4 L664.8,558.7 L664.8,558.0 L664.8,557.4 L664.8,556.7 L664.8,556.1 L664.8,555.4 L664.8,554.7 L664.8,554.1 L664.8,553.4 L664.9,552.7 L665.4,552.7 L665.4,553.4 L665.4,554.1 L665.4,554.7 L665.4,555.4 L665.4,556.1 L665.4,556.7 L665.4,557.4 L665.4,558.0 L665.4,558.7 L665.4,559.4 L665.4,560.0 L665.4,560.7 L665.4,561.3 L665.4,562.0 L665.6,562.7 L665.9,563.3 L666.3,564.0 L666.6,564.7 L666.8,565.3 L666.8,566.0 L667.0,566.6 L667.5,567.3 L668.2,568.0 L669.0,568.6 L669.4,569.3 L669.3,570.0 L669.0,570.6 L669.0,571.3 L669.5,571.9 L670.5,572.6 L671.2,573.3 L671.1,573.9 L670.2,574.6 L669.0,575.3 L668.2,575.9 L667.9,576.6 L667.7,577.2 L667.3,577.9 L666.7,578.6 L665.4,579.2 Z" fill="#A590C3" stroke="#262626" stroke-width="0.55"/>
<line x1="665.1" y1="579.2" x2="665.1" y2="552.7" stroke="#222" stroke-width="0.6"/>
<rect x="663.74" y="568.49" width="2.80" height="5.73" fill="#A590C3" stroke="#000" stroke-width="0.7"/>
<line x1="663.7" y1="571.4" x2="666.5" y2="571.4" stroke="#000" stroke-width="0.7"/>
<line x1="677.8" y1="584.9" x2="677.8" y2="586.4" stroke="#333" stroke-width="0.5"/>
<line x1="677.8" y1="564.9" x2="677.8" y2="558.5" stroke="#a8a8a8" stroke-width="0.8"/>
<line x1="677.8" y1="564.9" x2="677.8" y2="561.7" stroke="#222" stroke-width="0.75"/>
<path d="M677.6,579.2 L675.6,578.9 L675.0,578.5 L674.4,578.2 L674.0,577.8 L673.8,577.4 L673.8,577.1 L673.8,576.7 L673.9,576.4 L673.9,576.0 L673.8,575.7 L673.6,575.3 L673.4,574.9 L673.2,574.6 L673.2,574.2 L673.3,573.9 L673.7,573.5 L674.3,573.1 L674.9,572.8 L675.5,572.4 L676.0,572.1 L676.4,571.7 L676.7,571.4 L676.9,571.0 L677.0,570.6 L677.2,570.3 L677.3,569.9 L677.4,569.6 L677.5,569.2 L677.5,568.8 L677.5,568.5 L677.5,568.1 L677.5,567.8 L677.5,567.4 L677.5,567.1 L677.5,566.7 L677.5,566.3 L677.5,566.0 L677.5,565.6 L677.5,565.3 L677.6,564.9 L678.1,564.9 L678.1,565.3 L678.1,565.6 L678.1,566.0 L678.1,566.3 L678.1,566.7 L678.1,567.1 L678.1,567.4 L678.1,567.8 L678.1,568.1 L678.1,568.5 L678.1,568.8 L678.2,569.2 L678.3,569.6 L678.4,569.9 L678.5,570.3 L678.6,570.6 L678.8,571.0 L679.0,571.4 L679.3,571.7 L679.7,572.1 L680.2,572.4 L680.8,572.8 L681.4,573.1 L682.0,573.5 L682.3,573.9 L682.5,574.2 L682.5,574.6 L682.3,574.9 L682.1,575.3 L681.9,575.7 L681.8,576.0 L681.8,576.4 L681.9,576.7 L681.9,577.1 L681.9,577.4 L681.7,577.8 L681.3,578.2 L680.7,578.5 L680.1,578.9 L678.1,579.2 Z" fill="#A590C3" stroke="#262626" stroke-width="0.55"/>
<line x1="677.8" y1="579.2" x2="677.8" y2="564.9" stroke="#222" stroke-width="0.6"/>
<rect x="676.45" y="573.50" width="2.80" height="3.58" fill="#A590C3" stroke="#000" stroke-width="0.7"/>
<line x1="676.4" y1="575.7" x2="679.2" y2="575.7" stroke="#000" stroke-width="0.7"/>
<text x="390.5" y="589.5" font-size="5.5" text-anchor="end" font-weight="normal" fill="#222" transform="rotate(-45 390.5 589.5)">CD4+ ICA1+ Treg</text>
<text x="403.2" y="589.5" font-size="5.5" text-anchor="end" font-weight="normal" fill="#222" transform="rotate(-45 403.2 589.5)">CD4+ IL17A+ Th17</text>
<text x="416.0" y="589.5" font-size="5.5" text-anchor="end" font-weight="normal" fill="#222" transform="rotate(-45 416.0 589.5)">CD4+ IL26+ Th17</text>
<text x="428.8" y="589.5" font-size="5.5" text-anchor="end" font-weight="normal" fill="#222" transform="rotate(-45 428.8 589.5)">CD4+ LEF1+ Tn</text>
<text x="441.5" y="589.5" font-size="5.5" text-anchor="end" font-weight="normal" fill="#222" transform="rotate(-45 441.5 589.5)">CD4+ TNFRSF9+ Treg</text>
<text x="454.3" y="589.5" font-size="5.5" text-anchor="end" font-weight="normal" fill="#222" transform="rotate(-45 454.3 589.5)">CD8+ FGFBP2+ Temra</text>
<text x="467.1" y="589.5" font-size="5.5" text-anchor="end" font-weight="normal" fill="#222" transform="rotate(-45 467.1 589.5)">CD8+ GZMH+ Temra</text>
<text x="479.8" y="589.5" font-size="5.5" text-anchor="end" font-weight="normal" fill="#222" transform="rotate(-45 479.8 589.5)">CD8+ GZMK+ Tem</text>
<text x="492.6" y="589.5" font-size="5.5" text-anchor="end" font-weight="normal" fill="#222" transform="rotate(-45 492.6 589.5)">CD8+ KLF2+ Tn</text>
<text x="505.4" y="589.5" font-size="5.5" text-anchor="end" font-weight="normal" fill="#222" transform="rotate(-45 505.4 589.5)">CD8+ ZNF683+ Tm</text>
<text x="518.1" y="589.5" font-size="5.5" text-anchor="end" font-weight="normal" fill="#222" transform="rotate(-45 518.1 589.5)">KIR2DL4+ NK</text>
<text x="552.4" y="589.5" font-size="5.5" text-anchor="end" font-weight="normal" fill="#222" transform="rotate(-45 552.4 589.5)">CD4+ ICA1+ Treg</text>
<text x="565.1" y="589.5" font-size="5.5" text-anchor="end" font-weight="normal" fill="#222" transform="rotate(-45 565.1 589.5)">CD4+ IL17A+ Th17</text>
<text x="577.8" y="589.5" font-size="5.5" text-anchor="end" font-weight="normal" fill="#222" transform="rotate(-45 577.8 589.5)">CD4+ IL26+ Th17</text>
<text x="590.5" y="589.5" font-size="5.5" text-anchor="end" font-weight="normal" fill="#222" transform="rotate(-45 590.5 589.5)">CD4+ LEF1+ Tn</text>
<text x="603.2" y="589.5" font-size="5.5" text-anchor="end" font-weight="normal" fill="#222" transform="rotate(-45 603.2 589.5)">CD4+ TNFRSF9+ Treg</text>
<text x="615.9" y="589.5" font-size="5.5" text-anchor="end" font-weight="normal" fill="#222" transform="rotate(-45 615.9 589.5)">CD8+ FGFBP2+ Temra</text>
<text x="628.6" y="589.5" font-size="5.5" text-anchor="end" font-weight="normal" fill="#222" transform="rotate(-45 628.6 589.5)">CD8+ GZMH+ Temra</text>
<text x="641.3" y="589.5" font-size="5.5" text-anchor="end" font-weight="normal" fill="#222" transform="rotate(-45 641.3 589.5)">CD8+ GZMK+ Tem</text>
<text x="654.0" y="589.5" font-size="5.5" text-anchor="end" font-weight="normal" fill="#222" transform="rotate(-45 654.0 589.5)">CD8+ KLF2+ Tn</text>
<text x="666.7" y="589.5" font-size="5.5" text-anchor="end" font-weight="normal" fill="#222" transform="rotate(-45 666.7 589.5)">CD8+ ZNF683+ Tm</text>
<text x="679.4" y="589.5" font-size="5.5" text-anchor="end" font-weight="normal" fill="#222" transform="rotate(-45 679.4 589.5)">KIR2DL4+ NK</text>
<text x="365.4" y="521.6" font-size="5.5" text-anchor="middle" font-weight="bold" fill="#000" transform="rotate(-90 365.4 521.6)">UCell Score</text>
<text x="533.2" y="639.5" font-size="5.4" text-anchor="middle" font-weight="bold" fill="#000">T cell Subtype</text>
<text x="-0.3" y="656.0" font-size="13" text-anchor="start" font-weight="bold" fill="#000">j</text>
<rect x="11.00" y="669.00" width="103.90" height="103.30" fill="#A08AA5" stroke="none" stroke-width="0.5"/>
<path d="M72.5,669.0 L86.8,669.0 L85.8,677.7 L83.0,685.3 L78.2,676.7 Z" fill="#B7B2BC"/>
<path d="M80.1,772.3 L83.9,766.7 Q101.0,761.9 114.9,757.1 L114.9,772.3 Z" fill="#ADABB6"/>
<path transform="scale(.5)" d="M33 1348h0M67 1348h0M71 1348h0M94 1348h0M116 1348h0M136 1348h0M219 1348h0M69 1352h0M80 1352h0M92 1352h0M96 1352h0M198 1352h0M206 1352h0M33 1355h0M94 1355h0M98 1355h0M132 1355h0M147 1355h0M185 1355h0M61 1359h0M80 1359h0M107 1359h0M115 1359h0M126 1359h0M168 1359h0M179 1359h0M187 1359h0M202 1359h0M221 1359h0M56 1363h0M59 1363h0M67 1363h0M90 1363h0M196 1363h0M215 1363h0M219 1363h0M50 1367h0M115 1367h0M122 1367h0M116 1370h0M204 1370h0M212 1370h0M42 1374h0M88 1374h0M126 1374h0M160 1374h0M71 1378h0M136 1378h0M143 1378h0M154 1378h0M174 1378h0M219 1378h0M96 1382h0M126 1382h0M153 1382h0M33 1386h0M63 1386h0M101 1386h0M116 1386h0M128 1386h0M84 1390h0M134 1390h0M160 1390h0M75 1393h0M94 1393h0M101 1393h0M181 1393h0M80 1397h0M118 1397h0M141 1397h0M156 1397h0M175 1397h0M206 1397h0M37 1401h0M196 1401h0M204 1401h0M215 1401h0M107 1405h0M156 1405h0M194 1405h0M78 1408h0M98 1408h0M109 1408h0M128 1408h0M132 1408h0M154 1408h0M54 1412h0M88 1412h0M92 1412h0M141 1412h0M153 1412h0M179 1412h0M183 1412h0M194 1412h0M202 1412h0M44 1416h0M86 1416h0M98 1416h0M109 1416h0M132 1416h0M143 1416h0M158 1416h0M166 1416h0M77 1420h0M96 1420h0M134 1420h0M172 1420h0M187 1420h0M33 1424h0M113 1424h0M88 1428h0M107 1428h0M115 1428h0M118 1428h0M149 1428h0M37 1431h0M71 1431h0M109 1431h0M39 1435h0M115 1435h0M198 1435h0M116 1439h0M130 1443h0M149 1443h0M183 1443h0M109 1446h0M136 1446h0M177 1446h0M196 1446h0M39 1450h0M42 1450h0M65 1450h0M103 1450h0M56 1454h0M63 1454h0M98 1454h0M154 1454h0M204 1454h0M35 1458h0M50 1458h0M54 1458h0M73 1458h0M107 1458h0M115 1458h0M179 1458h0M183 1458h0M210 1458h0M59 1462h0M132 1462h0M139 1462h0M143 1462h0M185 1462h0M200 1462h0M212 1462h0M39 1466h0M50 1466h0M103 1466h0M134 1466h0M40 1469h0M63 1469h0M120 1469h0M136 1469h0M200 1469h0M42 1473h0M46 1473h0M118 1473h0M141 1473h0M191 1473h0M202 1473h0M210 1473h0M52 1477h0M196 1477h0M42 1481h0M58 1481h0M99 1481h0M103 1481h0M107 1481h0M122 1481h0M134 1481h0M153 1481h0M164 1481h0M213 1481h0M98 1484h0M181 1484h0M50 1488h0M103 1488h0M130 1488h0M153 1488h0M213 1488h0M181 1492h0M35 1496h0M96 1496h0M153 1496h0M156 1496h0M187 1496h0M213 1496h0M52 1500h0M82 1500h0M116 1500h0M124 1500h0M132 1500h0M147 1500h0M204 1500h0M35 1504h0M42 1504h0M50 1504h0M58 1504h0M92 1504h0M99 1504h0M130 1504h0M137 1504h0M149 1504h0M198 1504h0M206 1504h0M210 1504h0M213 1504h0M33 1507h0M56 1507h0M67 1507h0M101 1507h0M105 1507h0M113 1507h0M116 1507h0M132 1507h0M143 1507h0M166 1507h0M35 1511h0M39 1511h0M42 1511h0M111 1511h0M145 1511h0M202 1511h0M71 1515h0M109 1515h0M120 1515h0M219 1515h0M118 1519h0M153 1519h0M156 1519h0M172 1519h0M194 1519h0M33 1522h0M143 1522h0M151 1522h0M166 1522h0M185 1522h0M69 1526h0M84 1526h0M118 1526h0M153 1526h0M33 1530h0M40 1530h0M52 1530h0M56 1530h0M78 1530h0M86 1530h0M174 1530h0M54 1534h0M58 1534h0M61 1534h0M77 1534h0M118 1534h0M122 1534h0M130 1534h0M137 1534h0M153 1534h0M160 1534h0M172 1534h0" stroke="#66a586" stroke-width="3.80" stroke-linecap="square" fill="none"/>
<path transform="scale(.5)" d="M37 1348h0M44 1348h0M59 1348h0M174 1348h0M177 1348h0M39 1352h0M84 1352h0M115 1352h0M63 1355h0M75 1355h0M200 1355h0M35 1359h0M84 1359h0M92 1359h0M33 1363h0M44 1363h0M128 1363h0M185 1363h0M35 1367h0M39 1367h0M42 1367h0M46 1367h0M58 1367h0M99 1367h0M126 1367h0M134 1367h0M149 1367h0M86 1370h0M132 1370h0M151 1370h0M200 1370h0M84 1374h0M99 1374h0M107 1374h0M168 1374h0M198 1374h0M210 1374h0M213 1374h0M56 1378h0M63 1378h0M75 1378h0M109 1378h0M212 1378h0M215 1378h0M54 1382h0M58 1382h0M80 1382h0M130 1382h0M210 1382h0M59 1386h0M185 1386h0M208 1386h0M58 1390h0M65 1390h0M80 1390h0M187 1390h0M221 1390h0M105 1393h0M196 1393h0M50 1397h0M77 1397h0M115 1397h0M191 1397h0M52 1401h0M177 1401h0M200 1401h0M212 1401h0M54 1405h0M69 1405h0M44 1408h0M48 1408h0M82 1408h0M208 1408h0M46 1412h0M61 1412h0M67 1416h0M78 1416h0M113 1416h0M162 1416h0M170 1416h0M215 1416h0M35 1420h0M39 1420h0M126 1420h0M130 1420h0M168 1420h0M175 1420h0M213 1420h0M37 1424h0M128 1424h0M132 1424h0M143 1424h0M162 1424h0M61 1428h0M69 1428h0M137 1428h0M153 1428h0M206 1428h0M33 1431h0M56 1431h0M132 1431h0M158 1431h0M166 1431h0M46 1435h0M58 1435h0M65 1435h0M69 1435h0M130 1435h0M56 1439h0M120 1439h0M143 1439h0M162 1439h0M58 1443h0M65 1443h0M122 1443h0M137 1443h0M164 1443h0M175 1443h0M179 1443h0M40 1446h0M48 1446h0M71 1446h0M143 1446h0M151 1446h0M158 1446h0M126 1450h0M137 1450h0M153 1450h0M156 1450h0M210 1450h0M221 1450h0M75 1454h0M113 1454h0M174 1454h0M84 1458h0M130 1458h0M156 1458h0M172 1458h0M187 1458h0M213 1458h0M75 1462h0M90 1462h0M105 1462h0M189 1462h0M192 1462h0M215 1462h0M61 1466h0M80 1466h0M118 1466h0M183 1466h0M187 1466h0M213 1466h0M90 1469h0M139 1469h0M147 1469h0M39 1473h0M73 1473h0M107 1473h0M134 1473h0M164 1473h0M175 1473h0M78 1477h0M86 1477h0M90 1477h0M98 1477h0M105 1477h0M132 1477h0M154 1477h0M170 1477h0M181 1477h0M204 1477h0M168 1481h0M172 1481h0M194 1481h0M37 1484h0M40 1484h0M86 1484h0M94 1484h0M139 1484h0M147 1484h0M73 1488h0M88 1488h0M99 1488h0M115 1488h0M137 1488h0M141 1488h0M156 1488h0M198 1488h0M206 1488h0M63 1492h0M189 1492h0M50 1496h0M118 1496h0M137 1496h0M59 1500h0M170 1500h0M215 1500h0M46 1504h0M77 1504h0M118 1504h0M40 1507h0M63 1507h0M128 1507h0M158 1507h0M174 1507h0M177 1507h0M208 1507h0M50 1511h0M61 1511h0M65 1511h0M122 1511h0M130 1511h0M206 1511h0M213 1511h0M37 1515h0M52 1515h0M63 1515h0M128 1515h0M42 1519h0M54 1519h0M69 1519h0M179 1519h0M202 1519h0M37 1522h0M40 1522h0M52 1522h0M139 1522h0M39 1526h0M54 1526h0M59 1530h0M132 1530h0M126 1534h0M134 1534h0M141 1534h0" stroke="#276b97" stroke-width="3.80" stroke-linecap="square" fill="none"/>
<path transform="scale(.5)" d="M40 1348h0M58 1352h0M48 1355h0M52 1355h0M59 1355h0M170 1355h0M174 1355h0M42 1359h0M175 1359h0M37 1363h0M48 1363h0M52 1363h0M75 1363h0M98 1363h0M65 1367h0M103 1367h0M198 1367h0M147 1370h0M189 1370h0M69 1374h0M73 1374h0M92 1374h0M172 1374h0M37 1378h0M78 1378h0M86 1378h0M101 1378h0M204 1378h0M46 1382h0M183 1382h0M52 1386h0M67 1386h0M105 1386h0M109 1386h0M170 1386h0M77 1390h0M185 1393h0M35 1397h0M65 1397h0M73 1397h0M192 1401h0M50 1405h0M58 1405h0M65 1405h0M198 1405h0M63 1408h0M189 1408h0M65 1412h0M75 1416h0M65 1420h0M156 1420h0M56 1424h0M208 1424h0M35 1428h0M58 1428h0M126 1428h0M134 1428h0M141 1428h0M145 1428h0M210 1428h0M59 1431h0M67 1431h0M120 1431h0M136 1431h0M215 1431h0M134 1435h0M137 1435h0M149 1435h0M153 1435h0M217 1435h0M37 1439h0M48 1439h0M67 1439h0M75 1439h0M215 1439h0M219 1439h0M69 1443h0M141 1443h0M168 1443h0M172 1443h0M44 1446h0M208 1446h0M141 1450h0M160 1450h0M206 1450h0M132 1454h0M139 1454h0M166 1454h0M215 1454h0M141 1458h0M136 1462h0M158 1462h0M77 1466h0M160 1466h0M217 1466h0M37 1469h0M82 1469h0M86 1469h0M94 1469h0M101 1469h0M105 1469h0M170 1469h0M65 1473h0M168 1473h0M172 1473h0M75 1477h0M82 1477h0M136 1477h0M158 1477h0M189 1477h0M92 1481h0M137 1481h0M82 1484h0M136 1484h0M166 1484h0M196 1484h0M65 1488h0M59 1492h0M204 1492h0M58 1496h0M73 1496h0M84 1496h0M164 1496h0M80 1504h0M48 1507h0M59 1507h0M71 1507h0M46 1511h0M198 1511h0M217 1511h0M200 1515h0M208 1515h0M130 1519h0M67 1522h0M132 1522h0M46 1526h0M58 1526h0M134 1526h0" stroke="#255a96" stroke-width="3.80" stroke-linecap="square" fill="none"/>
<path transform="scale(.5)" d="M48 1348h0M42 1352h0M69 1359h0M80 1374h0M82 1378h0M105 1378h0M187 1382h0M217 1405h0M52 1416h0M56 1416h0M54 1420h0M61 1420h0M217 1420h0M44 1424h0M52 1424h0M54 1435h0M61 1435h0M160 1435h0M213 1435h0M52 1439h0M212 1439h0M61 1443h0M67 1446h0M139 1446h0M153 1466h0M183 1473h0M88 1481h0M145 1481h0M143 1484h0M145 1488h0M65 1496h0M44 1515h0M48 1522h0M122 1526h0M137 1526h0M136 1530h0" stroke="#20428a" stroke-width="3.80" stroke-linecap="square" fill="none"/>
<path transform="scale(.5)" d="M52 1348h0M90 1348h0M113 1348h0M143 1348h0M212 1348h0M65 1352h0M145 1352h0M172 1352h0M175 1352h0M183 1352h0M221 1352h0M37 1355h0M67 1355h0M101 1355h0M54 1359h0M73 1359h0M99 1359h0M103 1359h0M118 1359h0M141 1359h0M183 1359h0M63 1363h0M143 1363h0M154 1363h0M189 1363h0M204 1363h0M54 1367h0M69 1367h0M88 1367h0M141 1367h0M33 1370h0M44 1370h0M136 1370h0M143 1370h0M166 1370h0M170 1370h0M181 1370h0M77 1374h0M179 1374h0M33 1378h0M40 1378h0M128 1378h0M151 1378h0M145 1382h0M191 1382h0M206 1382h0M213 1382h0M48 1386h0M56 1386h0M120 1386h0M124 1386h0M132 1386h0M143 1386h0M196 1386h0M61 1390h0M103 1390h0M111 1390h0M118 1390h0M126 1390h0M145 1390h0M164 1390h0M191 1390h0M202 1390h0M109 1393h0M132 1393h0M158 1393h0M177 1393h0M189 1393h0M215 1393h0M219 1393h0M88 1397h0M111 1397h0M122 1397h0M172 1397h0M183 1397h0M187 1397h0M202 1397h0M44 1401h0M59 1401h0M67 1401h0M143 1401h0M185 1401h0M42 1405h0M61 1405h0M92 1405h0M134 1405h0M141 1405h0M153 1405h0M160 1405h0M183 1405h0M210 1405h0M120 1408h0M136 1408h0M139 1408h0M151 1408h0M181 1408h0M39 1412h0M80 1412h0M130 1412h0M168 1412h0M213 1412h0M94 1416h0M154 1416h0M189 1416h0M73 1420h0M137 1420h0M179 1420h0M63 1424h0M67 1424h0M101 1424h0M147 1424h0M154 1424h0M166 1424h0M181 1424h0M204 1424h0M42 1428h0M156 1428h0M164 1428h0M63 1431h0M98 1431h0M101 1431h0M147 1431h0M154 1431h0M162 1431h0M192 1431h0M200 1431h0M204 1431h0M42 1435h0M103 1435h0M118 1435h0M145 1435h0M168 1435h0M206 1435h0M63 1439h0M82 1439h0M101 1439h0M132 1439h0M192 1439h0M200 1439h0M204 1439h0M39 1443h0M126 1443h0M198 1443h0M206 1443h0M37 1446h0M56 1446h0M59 1446h0M75 1446h0M86 1446h0M124 1446h0M128 1446h0M147 1446h0M181 1446h0M192 1446h0M46 1450h0M61 1450h0M73 1450h0M77 1450h0M80 1450h0M115 1450h0M130 1450h0M149 1450h0M198 1450h0M48 1454h0M78 1454h0M124 1454h0M181 1454h0M208 1454h0M212 1454h0M88 1458h0M206 1458h0M217 1458h0M221 1458h0M33 1462h0M40 1462h0M120 1462h0M124 1462h0M174 1462h0M181 1462h0M92 1466h0M107 1466h0M111 1466h0M130 1466h0M149 1466h0M168 1466h0M179 1466h0M194 1466h0M33 1469h0M71 1469h0M196 1469h0M58 1473h0M61 1473h0M77 1473h0M88 1473h0M99 1473h0M149 1473h0M33 1477h0M48 1477h0M63 1477h0M139 1477h0M46 1481h0M54 1481h0M69 1481h0M73 1481h0M77 1481h0M141 1481h0M179 1481h0M33 1484h0M52 1484h0M75 1484h0M120 1484h0M132 1484h0M151 1484h0M177 1484h0M192 1484h0M107 1488h0M111 1488h0M134 1488h0M164 1488h0M168 1488h0M217 1488h0M40 1492h0M48 1492h0M71 1492h0M75 1492h0M98 1492h0M113 1492h0M124 1492h0M154 1492h0M208 1492h0M42 1496h0M54 1496h0M69 1496h0M99 1496h0M111 1496h0M134 1496h0M175 1496h0M179 1496h0M63 1500h0M67 1500h0M136 1500h0M158 1500h0M196 1500h0M200 1500h0M65 1504h0M69 1504h0M73 1504h0M88 1504h0M122 1504h0M156 1504h0M168 1504h0M196 1507h0M204 1507h0M219 1507h0M54 1511h0M58 1511h0M80 1511h0M115 1511h0M126 1511h0M172 1511h0M75 1515h0M181 1515h0M50 1519h0M65 1519h0M175 1519h0M56 1522h0M71 1522h0M75 1522h0M181 1522h0M196 1522h0M200 1522h0M35 1526h0M77 1526h0M126 1526h0M105 1530h0M147 1530h0M88 1534h0M103 1534h0M115 1534h0M145 1534h0" stroke="#3a948f" stroke-width="3.80" stroke-linecap="square" fill="none"/>
<path transform="scale(.5)" d="M56 1348h0M86 1348h0M124 1348h0M196 1348h0M204 1348h0M54 1352h0M88 1352h0M126 1352h0M134 1352h0M137 1352h0M82 1355h0M90 1355h0M109 1355h0M128 1355h0M136 1355h0M143 1355h0M189 1355h0M192 1355h0M215 1355h0M39 1359h0M46 1359h0M58 1359h0M122 1359h0M130 1359h0M145 1359h0M71 1363h0M86 1363h0M94 1363h0M109 1363h0M136 1363h0M151 1363h0M170 1363h0M177 1363h0M208 1363h0M96 1367h0M130 1367h0M153 1367h0M172 1367h0M187 1367h0M210 1367h0M221 1367h0M48 1370h0M35 1374h0M122 1374h0M134 1374h0M141 1374h0M145 1374h0M206 1374h0M217 1374h0M48 1378h0M124 1378h0M158 1378h0M192 1378h0M196 1378h0M69 1382h0M122 1382h0M194 1382h0M98 1386h0M177 1386h0M181 1386h0M200 1386h0M46 1390h0M96 1390h0M99 1390h0M172 1390h0M179 1390h0M213 1390h0M37 1393h0M40 1393h0M71 1393h0M82 1393h0M86 1393h0M162 1393h0M192 1393h0M208 1393h0M168 1397h0M194 1397h0M217 1397h0M221 1397h0M40 1401h0M98 1401h0M113 1401h0M128 1401h0M147 1401h0M158 1401h0M166 1401h0M181 1401h0M46 1405h0M179 1405h0M191 1405h0M40 1408h0M75 1408h0M90 1408h0M94 1408h0M204 1408h0M35 1412h0M77 1412h0M111 1412h0M115 1412h0M137 1412h0M149 1412h0M160 1412h0M187 1412h0M191 1412h0M210 1412h0M105 1416h0M181 1416h0M204 1416h0M84 1420h0M115 1420h0M145 1420h0M194 1420h0M202 1420h0M48 1424h0M78 1424h0M86 1424h0M174 1424h0M39 1428h0M130 1428h0M183 1428h0M202 1428h0M213 1428h0M113 1431h0M124 1431h0M151 1431h0M196 1431h0M50 1435h0M73 1435h0M77 1435h0M111 1435h0M175 1435h0M179 1435h0M202 1435h0M210 1435h0M33 1439h0M174 1439h0M196 1439h0M80 1443h0M96 1443h0M33 1446h0M82 1446h0M132 1446h0M185 1446h0M189 1446h0M122 1450h0M134 1450h0M191 1450h0M52 1454h0M59 1454h0M101 1454h0M109 1454h0M136 1454h0M162 1454h0M69 1458h0M145 1458h0M149 1458h0M164 1458h0M168 1458h0M175 1458h0M37 1462h0M44 1462h0M86 1462h0M98 1462h0M162 1462h0M73 1466h0M88 1466h0M99 1466h0M115 1466h0M141 1466h0M202 1466h0M52 1469h0M59 1469h0M113 1469h0M128 1469h0M132 1469h0M151 1469h0M219 1469h0M54 1473h0M80 1473h0M156 1473h0M213 1473h0M221 1473h0M40 1477h0M67 1477h0M109 1477h0M147 1477h0M151 1477h0M162 1477h0M185 1477h0M215 1477h0M61 1481h0M115 1481h0M149 1481h0M202 1481h0M210 1481h0M56 1484h0M63 1484h0M71 1484h0M90 1484h0M101 1484h0M215 1484h0M42 1488h0M61 1488h0M92 1488h0M149 1488h0M183 1488h0M210 1488h0M44 1492h0M67 1492h0M82 1492h0M90 1492h0M105 1492h0M116 1492h0M136 1492h0M143 1492h0M158 1492h0M162 1492h0M170 1492h0M192 1492h0M196 1492h0M212 1492h0M80 1496h0M92 1496h0M103 1496h0M130 1496h0M191 1496h0M40 1500h0M71 1500h0M143 1500h0M162 1500h0M166 1500h0M212 1500h0M54 1504h0M61 1504h0M84 1504h0M145 1504h0M52 1507h0M120 1507h0M212 1507h0M69 1511h0M73 1511h0M88 1511h0M156 1511h0M168 1511h0M221 1511h0M33 1515h0M40 1515h0M98 1515h0M113 1515h0M162 1515h0M185 1515h0M192 1515h0M196 1515h0M212 1515h0M61 1519h0M103 1519h0M122 1519h0M187 1519h0M206 1519h0M210 1519h0M59 1522h0M90 1522h0M128 1522h0M61 1526h0M65 1526h0M88 1526h0M96 1526h0M107 1526h0M37 1530h0M44 1530h0M48 1530h0M98 1530h0M143 1530h0M154 1530h0M35 1534h0M42 1534h0M80 1534h0M99 1534h0M111 1534h0M164 1534h0" stroke="#4e9c8b" stroke-width="3.80" stroke-linecap="square" fill="none"/>
<path transform="scale(.5)" d="M63 1348h0M75 1348h0M78 1348h0M120 1348h0M181 1348h0M99 1352h0M141 1352h0M210 1352h0M86 1355h0M120 1355h0M151 1355h0M65 1359h0M111 1359h0M134 1359h0M206 1359h0M40 1363h0M105 1363h0M174 1363h0M212 1363h0M111 1367h0M206 1367h0M120 1370h0M46 1374h0M65 1374h0M111 1374h0M130 1374h0M156 1374h0M221 1374h0M90 1378h0M94 1378h0M116 1378h0M200 1378h0M42 1382h0M92 1382h0M141 1382h0M149 1382h0M202 1382h0M86 1386h0M94 1386h0M122 1390h0M175 1390h0M183 1390h0M217 1390h0M204 1393h0M39 1397h0M96 1397h0M137 1397h0M153 1397h0M90 1401h0M139 1401h0M170 1401h0M35 1405h0M39 1405h0M77 1405h0M80 1405h0M99 1405h0M126 1405h0M172 1405h0M101 1408h0M113 1408h0M158 1408h0M166 1408h0M174 1408h0M200 1408h0M96 1412h0M103 1412h0M164 1412h0M82 1416h0M208 1416h0M92 1420h0M111 1420h0M141 1420h0M206 1420h0M90 1424h0M105 1424h0M109 1424h0M120 1424h0M196 1424h0M77 1428h0M80 1428h0M84 1428h0M191 1428h0M82 1431h0M86 1431h0M208 1431h0M96 1435h0M99 1435h0M107 1435h0M194 1435h0M78 1439h0M90 1439h0M98 1439h0M105 1439h0M124 1439h0M181 1439h0M77 1443h0M103 1443h0M111 1443h0M187 1443h0M191 1443h0M194 1443h0M101 1446h0M113 1446h0M120 1446h0M54 1450h0M99 1450h0M118 1450h0M179 1450h0M202 1450h0M44 1454h0M67 1454h0M151 1454h0M185 1454h0M219 1454h0M42 1458h0M77 1458h0M92 1458h0M96 1458h0M99 1458h0M198 1458h0M101 1462h0M147 1462h0M46 1466h0M172 1466h0M206 1466h0M98 1469h0M124 1469h0M208 1469h0M35 1473h0M194 1473h0M206 1473h0M37 1477h0M56 1477h0M101 1477h0M120 1477h0M124 1477h0M128 1477h0M192 1477h0M35 1481h0M65 1481h0M130 1481h0M183 1481h0M198 1481h0M206 1481h0M217 1481h0M128 1484h0M154 1484h0M219 1484h0M46 1488h0M187 1488h0M86 1492h0M94 1492h0M151 1492h0M215 1492h0M46 1496h0M115 1496h0M122 1496h0M145 1496h0M149 1496h0M160 1496h0M221 1496h0M113 1500h0M151 1500h0M177 1500h0M189 1500h0M111 1504h0M134 1504h0M141 1504h0M153 1504h0M164 1504h0M37 1507h0M78 1507h0M82 1507h0M154 1507h0M170 1507h0M185 1507h0M192 1507h0M92 1511h0M96 1511h0M99 1511h0M179 1511h0M183 1511h0M90 1515h0M94 1515h0M132 1515h0M136 1515h0M166 1515h0M111 1519h0M141 1519h0M191 1519h0M98 1522h0M101 1522h0M113 1522h0M116 1522h0M162 1522h0M92 1526h0M141 1526h0M160 1526h0M75 1530h0M90 1530h0M139 1530h0M151 1530h0M181 1530h0M96 1534h0M107 1534h0" stroke="#7dae81" stroke-width="3.80" stroke-linecap="square" fill="none"/>
<path transform="scale(.5)" d="M82 1348h0M105 1348h0M50 1352h0M61 1352h0M103 1352h0M107 1352h0M118 1352h0M149 1352h0M179 1352h0M56 1355h0M71 1355h0M113 1355h0M116 1355h0M139 1355h0M181 1355h0M196 1355h0M212 1355h0M50 1359h0M153 1359h0M191 1359h0M78 1363h0M82 1363h0M101 1363h0M116 1363h0M124 1363h0M139 1363h0M200 1363h0M84 1367h0M92 1367h0M107 1367h0M191 1367h0M194 1367h0M40 1370h0M56 1370h0M67 1370h0M71 1370h0M82 1370h0M101 1370h0M113 1370h0M124 1370h0M185 1370h0M219 1370h0M50 1374h0M54 1374h0M149 1374h0M175 1374h0M202 1374h0M98 1378h0M139 1378h0M166 1378h0M35 1382h0M65 1382h0M99 1382h0M198 1382h0M221 1382h0M37 1386h0M40 1386h0M44 1386h0M151 1386h0M189 1386h0M219 1386h0M35 1390h0M50 1390h0M137 1390h0M194 1390h0M198 1390h0M206 1390h0M48 1393h0M59 1393h0M78 1393h0M113 1393h0M116 1393h0M120 1393h0M124 1393h0M128 1393h0M200 1393h0M42 1397h0M69 1397h0M198 1397h0M213 1397h0M48 1401h0M75 1401h0M82 1401h0M136 1401h0M174 1401h0M219 1401h0M84 1405h0M118 1405h0M145 1405h0M149 1405h0M86 1408h0M124 1408h0M162 1408h0M185 1408h0M192 1408h0M212 1408h0M219 1408h0M69 1412h0M84 1412h0M122 1412h0M126 1412h0M175 1412h0M48 1416h0M63 1416h0M71 1416h0M124 1416h0M174 1416h0M177 1416h0M46 1420h0M50 1420h0M69 1420h0M80 1420h0M88 1420h0M122 1420h0M149 1420h0M160 1420h0M183 1420h0M191 1420h0M210 1420h0M59 1424h0M75 1424h0M82 1424h0M124 1424h0M139 1424h0M151 1424h0M185 1424h0M189 1424h0M212 1424h0M46 1428h0M54 1428h0M99 1428h0M168 1428h0M172 1428h0M175 1428h0M48 1431h0M75 1431h0M94 1431h0M139 1431h0M170 1431h0M174 1431h0M92 1435h0M126 1435h0M141 1435h0M191 1435h0M221 1435h0M86 1439h0M94 1439h0M158 1439h0M35 1443h0M50 1443h0M145 1443h0M156 1443h0M160 1443h0M210 1443h0M221 1443h0M78 1446h0M116 1446h0M154 1446h0M204 1446h0M212 1446h0M58 1450h0M107 1450h0M145 1450h0M213 1450h0M217 1450h0M37 1454h0M71 1454h0M143 1454h0M192 1454h0M200 1454h0M46 1458h0M58 1458h0M61 1458h0M80 1458h0M111 1458h0M122 1458h0M153 1458h0M202 1458h0M48 1462h0M63 1462h0M67 1462h0M82 1462h0M94 1462h0M113 1462h0M116 1462h0M128 1462h0M151 1462h0M166 1462h0M170 1462h0M177 1462h0M204 1462h0M54 1466h0M84 1466h0M126 1466h0M145 1466h0M191 1466h0M210 1466h0M44 1469h0M56 1469h0M109 1469h0M177 1469h0M181 1469h0M204 1469h0M69 1473h0M84 1473h0M115 1473h0M137 1473h0M145 1473h0M198 1473h0M217 1473h0M59 1477h0M166 1477h0M174 1477h0M208 1477h0M84 1481h0M111 1481h0M126 1481h0M156 1481h0M187 1481h0M78 1484h0M113 1484h0M124 1484h0M208 1484h0M54 1488h0M80 1488h0M84 1488h0M96 1488h0M122 1488h0M126 1488h0M172 1488h0M202 1488h0M37 1492h0M56 1492h0M78 1492h0M109 1492h0M120 1492h0M128 1492h0M132 1492h0M166 1492h0M174 1492h0M107 1496h0M168 1496h0M172 1496h0M48 1500h0M139 1500h0M208 1500h0M219 1500h0M115 1504h0M160 1504h0M175 1504h0M217 1504h0M124 1507h0M136 1507h0M147 1507h0M181 1507h0M200 1507h0M107 1511h0M118 1511h0M134 1511h0M137 1511h0M164 1511h0M175 1511h0M187 1511h0M194 1511h0M210 1511h0M59 1515h0M139 1515h0M177 1515h0M204 1515h0M39 1519h0M73 1519h0M77 1519h0M134 1519h0M168 1519h0M198 1519h0M63 1522h0M94 1522h0M174 1522h0M177 1522h0M99 1526h0M111 1526h0M130 1526h0M149 1526h0M175 1526h0M183 1526h0M63 1530h0M71 1530h0M109 1530h0M177 1530h0M39 1534h0M46 1534h0M65 1534h0M92 1534h0" stroke="#328893" stroke-width="3.80" stroke-linecap="square" fill="none"/>
<path transform="scale(.5)" d="M98 1348h0M109 1348h0M132 1348h0M139 1348h0M147 1348h0M35 1352h0M77 1352h0M111 1352h0M217 1352h0M40 1355h0M177 1355h0M77 1359h0M88 1359h0M96 1359h0M149 1359h0M194 1359h0M198 1359h0M210 1359h0M113 1363h0M147 1363h0M181 1363h0M77 1367h0M179 1367h0M183 1367h0M202 1367h0M213 1367h0M37 1370h0M59 1370h0M63 1370h0M78 1370h0M98 1370h0M105 1370h0M109 1370h0M128 1370h0M139 1370h0M158 1370h0M174 1370h0M177 1370h0M192 1370h0M208 1370h0M58 1374h0M61 1374h0M137 1374h0M153 1374h0M164 1374h0M44 1378h0M52 1378h0M67 1378h0M132 1378h0M162 1378h0M170 1378h0M39 1382h0M50 1382h0M61 1382h0M73 1382h0M84 1382h0M88 1382h0M107 1382h0M156 1382h0M160 1382h0M179 1382h0M217 1382h0M71 1386h0M75 1386h0M113 1386h0M136 1386h0M174 1386h0M204 1386h0M215 1386h0M42 1390h0M69 1390h0M92 1390h0M115 1390h0M130 1390h0M141 1390h0M210 1390h0M33 1393h0M44 1393h0M52 1393h0M170 1393h0M174 1393h0M212 1393h0M103 1397h0M164 1397h0M210 1397h0M56 1401h0M63 1401h0M71 1401h0M78 1401h0M151 1401h0M189 1401h0M208 1401h0M175 1405h0M187 1405h0M202 1405h0M206 1405h0M213 1405h0M221 1405h0M56 1408h0M147 1408h0M170 1408h0M177 1408h0M196 1408h0M50 1412h0M73 1412h0M118 1412h0M206 1412h0M217 1412h0M33 1416h0M37 1416h0M40 1416h0M116 1416h0M128 1416h0M136 1416h0M139 1416h0M212 1416h0M219 1416h0M42 1420h0M118 1420h0M153 1420h0M164 1420h0M40 1424h0M71 1424h0M116 1424h0M136 1424h0M158 1424h0M215 1424h0M65 1428h0M73 1428h0M103 1428h0M122 1428h0M160 1428h0M44 1431h0M78 1431h0M116 1431h0M212 1431h0M35 1435h0M84 1435h0M122 1435h0M164 1435h0M172 1435h0M40 1439h0M59 1439h0M136 1439h0M139 1439h0M147 1439h0M151 1439h0M154 1439h0M170 1439h0M177 1439h0M208 1439h0M73 1443h0M99 1443h0M134 1443h0M202 1443h0M213 1443h0M52 1446h0M50 1450h0M69 1450h0M111 1450h0M175 1450h0M33 1454h0M116 1454h0M120 1454h0M128 1454h0M147 1454h0M170 1454h0M177 1454h0M39 1458h0M65 1458h0M103 1458h0M126 1458h0M134 1458h0M137 1458h0M160 1458h0M191 1458h0M194 1458h0M52 1462h0M78 1462h0M109 1462h0M154 1462h0M208 1462h0M35 1466h0M42 1466h0M58 1466h0M65 1466h0M69 1466h0M96 1466h0M122 1466h0M137 1466h0M164 1466h0M175 1466h0M116 1469h0M143 1469h0M158 1469h0M162 1469h0M174 1469h0M189 1469h0M192 1469h0M50 1473h0M103 1473h0M126 1473h0M153 1473h0M160 1473h0M179 1473h0M44 1477h0M71 1477h0M143 1477h0M177 1477h0M200 1477h0M80 1481h0M96 1481h0M160 1481h0M191 1481h0M44 1484h0M59 1484h0M67 1484h0M105 1484h0M109 1484h0M158 1484h0M162 1484h0M170 1484h0M174 1484h0M185 1484h0M189 1484h0M200 1484h0M204 1484h0M212 1484h0M35 1488h0M39 1488h0M58 1488h0M118 1488h0M160 1488h0M179 1488h0M191 1488h0M52 1492h0M139 1492h0M147 1492h0M177 1492h0M200 1492h0M61 1496h0M88 1496h0M126 1496h0M141 1496h0M194 1496h0M206 1496h0M210 1496h0M217 1496h0M78 1500h0M86 1500h0M105 1500h0M109 1500h0M120 1500h0M128 1500h0M154 1500h0M174 1500h0M181 1500h0M126 1504h0M172 1504h0M179 1504h0M221 1504h0M44 1507h0M75 1507h0M139 1507h0M189 1507h0M191 1511h0M48 1515h0M67 1515h0M124 1515h0M170 1515h0M174 1515h0M215 1515h0M46 1519h0M58 1519h0M115 1519h0M126 1519h0M124 1522h0M42 1526h0M50 1526h0M82 1530h0M94 1530h0M113 1530h0M116 1530h0M124 1530h0M128 1530h0M84 1534h0" stroke="#2b7b97" stroke-width="3.80" stroke-linecap="square" fill="none"/>
<path transform="scale(.5)" d="M101 1348h0M128 1348h0M200 1348h0M208 1348h0M215 1348h0M130 1352h0M187 1352h0M194 1352h0M204 1355h0M219 1355h0M120 1363h0M168 1367h0M217 1367h0M215 1370h0M111 1382h0M134 1382h0M147 1386h0M98 1393h0M166 1393h0M107 1397h0M149 1397h0M94 1401h0M101 1401h0M109 1401h0M132 1401h0M162 1401h0M88 1405h0M115 1405h0M137 1405h0M168 1405h0M33 1408h0M116 1408h0M107 1412h0M134 1412h0M145 1412h0M172 1412h0M198 1412h0M196 1416h0M107 1420h0M192 1424h0M200 1424h0M96 1428h0M111 1428h0M187 1428h0M198 1428h0M90 1431h0M189 1439h0M94 1446h0M200 1446h0M84 1450h0M48 1469h0M215 1469h0M122 1473h0M113 1477h0M116 1477h0M212 1477h0M50 1481h0M221 1481h0M221 1488h0M101 1492h0M185 1492h0M219 1492h0M39 1496h0M183 1496h0M90 1500h0M98 1500h0M192 1500h0M103 1504h0M194 1504h0M202 1504h0M90 1507h0M94 1507h0M109 1507h0M151 1507h0M103 1511h0M149 1511h0M153 1511h0M78 1515h0M86 1515h0M101 1515h0M105 1515h0M154 1515h0M158 1515h0M35 1519h0M80 1519h0M88 1519h0M107 1519h0M137 1519h0M145 1519h0M149 1519h0M183 1519h0M82 1522h0M105 1522h0M73 1526h0M172 1526h0M187 1526h0M101 1530h0M166 1530h0M69 1534h0M149 1534h0M156 1534h0M168 1534h0" stroke="#b1c178" stroke-width="3.80" stroke-linecap="square" fill="none"/>
<path transform="scale(.5)" d="M185 1348h0M73 1352h0M191 1352h0M213 1352h0M208 1355h0M137 1359h0M213 1359h0M217 1359h0M132 1363h0M118 1367h0M137 1367h0M156 1367h0M175 1367h0M52 1370h0M154 1370h0M39 1374h0M59 1378h0M113 1378h0M90 1386h0M139 1386h0M88 1390h0M168 1390h0M90 1393h0M92 1397h0M134 1397h0M160 1397h0M179 1397h0M33 1401h0M86 1401h0M105 1401h0M124 1401h0M154 1401h0M73 1405h0M96 1405h0M122 1405h0M130 1405h0M164 1405h0M37 1408h0M143 1408h0M99 1412h0M156 1412h0M90 1416h0M101 1416h0M120 1416h0M147 1416h0M151 1416h0M185 1416h0M192 1416h0M200 1416h0M170 1424h0M177 1424h0M179 1428h0M194 1428h0M189 1431h0M80 1435h0M88 1435h0M109 1439h0M128 1439h0M185 1439h0M84 1443h0M88 1443h0M92 1443h0M105 1446h0M187 1450h0M194 1450h0M40 1454h0M82 1454h0M105 1454h0M189 1454h0M56 1462h0M212 1469h0M111 1473h0M130 1473h0M39 1481h0M118 1481h0M48 1484h0M116 1484h0M33 1492h0M198 1496h0M202 1496h0M33 1500h0M37 1500h0M56 1500h0M185 1500h0M39 1504h0M107 1504h0M86 1507h0M162 1507h0M77 1511h0M84 1511h0M141 1511h0M160 1511h0M116 1515h0M189 1515h0M92 1519h0M160 1519h0M78 1522h0M86 1522h0M154 1522h0M170 1522h0M189 1522h0M192 1522h0M80 1526h0M103 1526h0M115 1526h0M145 1526h0M168 1526h0M179 1526h0M67 1530h0M162 1530h0" stroke="#97b77c" stroke-width="3.80" stroke-linecap="square" fill="none"/>
<path transform="scale(.5)" d="M189 1348h0M115 1374h0M118 1374h0M120 1378h0M147 1393h0M103 1405h0M105 1408h0M103 1420h0M98 1424h0M181 1431h0M107 1443h0M115 1443h0M96 1450h0M86 1454h0M90 1454h0M219 1477h0M44 1500h0M94 1500h0M101 1500h0M191 1504h0M151 1515h0M164 1519h0M158 1522h0M164 1526h0M158 1530h0" stroke="#d0c77a" stroke-width="3.80" stroke-linecap="square" fill="none"/>
<path transform="scale(.5)" d="M192 1348h0M122 1352h0M202 1352h0M78 1355h0M105 1355h0M124 1355h0M147 1378h0M118 1382h0M137 1382h0M154 1393h0M84 1397h0M99 1397h0M145 1397h0M99 1420h0M198 1420h0M94 1424h0M92 1428h0M105 1431h0M177 1431h0M187 1435h0M113 1439h0M118 1443h0M90 1446h0M88 1450h0M183 1450h0M196 1454h0M96 1504h0M183 1504h0M98 1507h0M143 1515h0M147 1515h0M96 1519h0M99 1519h0M109 1522h0M147 1522h0M156 1526h0M170 1530h0M73 1534h0" stroke="#c0c479" stroke-width="3.80" stroke-linecap="square" fill="none"/>
<path transform="scale(.5)" d="M46 1352h0M44 1355h0M172 1359h0M192 1363h0M61 1367h0M73 1367h0M80 1367h0M145 1367h0M90 1370h0M94 1370h0M96 1374h0M183 1374h0M208 1378h0M77 1382h0M103 1382h0M82 1386h0M192 1386h0M212 1386h0M39 1390h0M54 1390h0M73 1390h0M107 1390h0M56 1393h0M46 1397h0M58 1397h0M61 1397h0M52 1408h0M59 1408h0M67 1408h0M71 1408h0M215 1408h0M42 1412h0M58 1420h0M221 1420h0M50 1428h0M40 1431h0M52 1431h0M128 1431h0M143 1431h0M156 1435h0M44 1439h0M71 1439h0M166 1439h0M42 1443h0M46 1443h0M54 1443h0M153 1443h0M63 1446h0M215 1446h0M219 1446h0M35 1450h0M158 1454h0M118 1458h0M71 1462h0M196 1462h0M219 1462h0M156 1466h0M198 1466h0M221 1466h0M67 1469h0M75 1469h0M78 1469h0M166 1469h0M185 1469h0M96 1473h0M187 1473h0M94 1477h0M175 1481h0M69 1488h0M175 1488h0M194 1488h0M77 1496h0M75 1500h0M215 1507h0M56 1515h0M120 1522h0M136 1522h0M120 1530h0M50 1534h0" stroke="#234c92" stroke-width="3.80" stroke-linecap="square" fill="none"/>
<path transform="scale(.5)" d="M75 1370h0M103 1374h0M78 1386h0M63 1393h0M67 1393h0M54 1397h0M58 1412h0M221 1412h0M59 1416h0M219 1424h0M217 1428h0M221 1428h0M219 1431h0M217 1443h0M154 1469h0M92 1473h0M77 1488h0M44 1522h0" stroke="#1d3981" stroke-width="3.80" stroke-linecap="square" fill="none"/>
<path transform="scale(.5)" d="M115 1382h0M185 1431h0M98 1446h0M94 1454h0M187 1504h0M82 1515h0" stroke="#d8c070" stroke-width="3.80" stroke-linecap="square" fill="none"/>
<path transform="scale(.5)" d="M151 1393h0" stroke="#db8b4a" stroke-width="3.80" stroke-linecap="square" fill="none"/>
<path transform="scale(.5)" d="M183 1435h0M191 1526h0" stroke="#dcaf61" stroke-width="3.80" stroke-linecap="square" fill="none"/>
<path transform="scale(.5)" d="M92 1450h0" stroke="#d87742" stroke-width="3.80" stroke-linecap="square" fill="none"/>
<path transform="scale(.5)" d="M84 1519h0" stroke="#ca4839" stroke-width="3.80" stroke-linecap="square" fill="none"/>
<text x="63.5" y="650.5" font-size="5.5" text-anchor="middle" font-weight="normal" fill="#111">C3+ Macrophage</text>
<defs><linearGradient id="gsp21" x1="0" y1="0" x2="1" y2="0"><stop offset="0.0" stop-color="#3D3F95"/><stop offset="0.1" stop-color="#2F62A8"/><stop offset="0.2" stop-color="#2E8FA6"/><stop offset="0.3" stop-color="#52AE96"/><stop offset="0.4" stop-color="#98CD96"/><stop offset="0.5" stop-color="#D6E68F"/><stop offset="0.6" stop-color="#F3E48F"/><stop offset="0.7" stop-color="#F8BE6B"/><stop offset="0.8" stop-color="#EF8249"/><stop offset="0.9" stop-color="#D84840"/><stop offset="1.0" stop-color="#A0134A"/></linearGradient></defs>
<rect x="43.20" y="652.40" width="41.10" height="8.00" fill="url(#gsp21)" stroke="none" stroke-width="0.5"/>
<text x="43.8" y="666.5" font-size="4.6" text-anchor="middle" font-weight="normal" fill="#111">−0.2</text>
<text x="54.2" y="666.5" font-size="4.6" text-anchor="middle" font-weight="normal" fill="#111">0.0</text>
<text x="64.8" y="666.5" font-size="4.6" text-anchor="middle" font-weight="normal" fill="#111">0.2</text>
<text x="74.8" y="666.5" font-size="4.6" text-anchor="middle" font-weight="normal" fill="#111">0.4</text>
<rect x="126.90" y="667.70" width="104.00" height="104.10" fill="#A08AA5" stroke="none" stroke-width="0.5"/>
<path d="M188.6,667.7 L202.9,667.7 L201.9,676.8 L199.1,684.4 L194.3,675.8 Z" fill="#B7B2BC"/>
<path d="M196.2,771.8 L200.0,765.8 Q217.2,761.0 230.9,756.2 L230.9,771.8 Z" fill="#ADABB6"/>
<path transform="scale(.5)" d="M265 1346h0M268 1346h0M276 1346h0M288 1346h0M295 1346h0M310 1346h0M337 1346h0M341 1346h0M409 1346h0M417 1346h0M420 1346h0M424 1346h0M440 1346h0M443 1346h0M447 1346h0M451 1346h0M267 1350h0M270 1350h0M278 1350h0M282 1350h0M286 1350h0M289 1350h0M293 1350h0M297 1350h0M301 1350h0M308 1350h0M312 1350h0M316 1350h0M320 1350h0M331 1350h0M365 1350h0M373 1350h0M381 1350h0M403 1350h0M407 1350h0M415 1350h0M419 1350h0M422 1350h0M430 1350h0M434 1350h0M438 1350h0M449 1350h0M453 1350h0M265 1354h0M303 1354h0M306 1354h0M310 1354h0M314 1354h0M318 1354h0M322 1354h0M326 1354h0M344 1354h0M375 1354h0M379 1354h0M402 1354h0M405 1354h0M409 1354h0M413 1354h0M417 1354h0M420 1354h0M424 1354h0M432 1354h0M436 1354h0M293 1357h0M297 1357h0M301 1357h0M305 1357h0M308 1357h0M312 1357h0M316 1357h0M343 1357h0M350 1357h0M365 1357h0M373 1357h0M377 1357h0M381 1357h0M384 1357h0M403 1357h0M411 1357h0M415 1357h0M419 1357h0M422 1357h0M426 1357h0M430 1357h0M453 1357h0M265 1361h0M272 1361h0M276 1361h0M291 1361h0M295 1361h0M306 1361h0M318 1361h0M322 1361h0M356 1361h0M360 1361h0M371 1361h0M375 1361h0M379 1361h0M382 1361h0M402 1361h0M405 1361h0M424 1361h0M428 1361h0M267 1365h0M274 1365h0M282 1365h0M316 1365h0M324 1365h0M343 1365h0M350 1365h0M381 1365h0M400 1365h0M403 1365h0M411 1365h0M415 1365h0M430 1365h0M453 1365h0M268 1369h0M284 1369h0M318 1369h0M326 1369h0M360 1369h0M382 1369h0M390 1369h0M398 1369h0M428 1369h0M324 1372h0M358 1372h0M388 1372h0M449 1372h0M453 1372h0M272 1376h0M314 1376h0M364 1376h0M375 1376h0M447 1376h0M270 1380h0M274 1380h0M286 1380h0M316 1380h0M320 1380h0M331 1380h0M365 1380h0M438 1380h0M449 1380h0M265 1384h0M272 1384h0M276 1384h0M280 1384h0M360 1384h0M364 1384h0M371 1384h0M447 1384h0M270 1388h0M274 1388h0M282 1388h0M358 1388h0M362 1388h0M365 1388h0M373 1388h0M438 1388h0M441 1388h0M453 1388h0M280 1392h0M284 1392h0M303 1392h0M356 1392h0M364 1392h0M382 1392h0M386 1392h0M398 1392h0M270 1395h0M274 1395h0M278 1395h0M293 1395h0M350 1395h0M354 1395h0M365 1395h0M369 1395h0M377 1395h0M381 1395h0M384 1395h0M438 1395h0M441 1395h0M265 1399h0M272 1399h0M276 1399h0M280 1399h0M284 1399h0M295 1399h0M303 1399h0M310 1399h0M356 1399h0M364 1399h0M375 1399h0M386 1399h0M390 1399h0M440 1399h0M443 1399h0M267 1403h0M270 1403h0M274 1403h0M278 1403h0M286 1403h0M293 1403h0M297 1403h0M301 1403h0M305 1403h0M308 1403h0M312 1403h0M324 1403h0M358 1403h0M365 1403h0M381 1403h0M388 1403h0M392 1403h0M396 1403h0M438 1403h0M441 1403h0M265 1407h0M268 1407h0M272 1407h0M276 1407h0M280 1407h0M284 1407h0M288 1407h0M291 1407h0M295 1407h0M299 1407h0M303 1407h0M306 1407h0M356 1407h0M360 1407h0M379 1407h0M386 1407h0M390 1407h0M398 1407h0M402 1407h0M413 1407h0M436 1407h0M267 1410h0M270 1410h0M278 1410h0M282 1410h0M286 1410h0M293 1410h0M301 1410h0M384 1410h0M407 1410h0M411 1410h0M415 1410h0M426 1410h0M434 1410h0M265 1414h0M272 1414h0M276 1414h0M280 1414h0M284 1414h0M291 1414h0M352 1414h0M394 1414h0M405 1414h0M409 1414h0M417 1414h0M420 1414h0M424 1414h0M428 1414h0M451 1414h0M267 1418h0M270 1418h0M282 1418h0M293 1418h0M422 1418h0M426 1418h0M430 1418h0M434 1418h0M449 1418h0M453 1418h0M265 1422h0M276 1422h0M291 1422h0M443 1422h0M447 1422h0M451 1422h0M267 1426h0M270 1426h0M274 1426h0M278 1426h0M289 1426h0M346 1426h0M388 1426h0M265 1430h0M268 1430h0M272 1430h0M276 1430h0M280 1430h0M295 1430h0M348 1430h0M402 1430h0M443 1430h0M447 1430h0M267 1433h0M270 1433h0M274 1433h0M278 1433h0M282 1433h0M297 1433h0M407 1433h0M265 1437h0M268 1437h0M295 1437h0M299 1437h0M303 1437h0M352 1437h0M367 1437h0M451 1437h0M267 1441h0M270 1441h0M274 1441h0M278 1441h0M301 1441h0M308 1441h0M324 1441h0M331 1441h0M354 1441h0M358 1441h0M365 1441h0M369 1441h0M373 1441h0M449 1441h0M453 1441h0M265 1445h0M284 1445h0M288 1445h0M299 1445h0M310 1445h0M318 1445h0M364 1445h0M443 1445h0M270 1448h0M278 1448h0M286 1448h0M308 1448h0M312 1448h0M265 1452h0M272 1452h0M299 1452h0M303 1452h0M379 1452h0M301 1456h0M305 1456h0M316 1456h0M320 1456h0M331 1456h0M373 1456h0M449 1456h0M318 1460h0M326 1460h0M333 1460h0M337 1460h0M447 1460h0M320 1464h0M324 1464h0M327 1464h0M331 1464h0M335 1464h0M343 1464h0M346 1464h0M381 1464h0M384 1464h0M318 1468h0M322 1468h0M326 1468h0M329 1468h0M443 1468h0M316 1471h0M324 1471h0M327 1471h0M331 1471h0M318 1475h0M326 1475h0M329 1475h0M413 1475h0M417 1475h0M320 1479h0M324 1479h0M403 1479h0M415 1479h0M434 1479h0M445 1479h0M318 1483h0M322 1483h0M326 1483h0M364 1483h0M436 1483h0M301 1486h0M305 1486h0M320 1486h0M324 1486h0M365 1486h0M373 1486h0M403 1486h0M438 1486h0M445 1486h0M449 1486h0M291 1490h0M295 1490h0M299 1490h0M314 1490h0M322 1490h0M371 1490h0M386 1490h0M390 1490h0M420 1490h0M440 1490h0M289 1494h0M293 1494h0M297 1494h0M324 1494h0M365 1494h0M373 1494h0M377 1494h0M392 1494h0M396 1494h0M430 1494h0M434 1494h0M438 1494h0M441 1494h0M445 1494h0M276 1498h0M284 1498h0M295 1498h0M322 1498h0M356 1498h0M360 1498h0M375 1498h0M379 1498h0M382 1498h0M386 1498h0M390 1498h0M394 1498h0M398 1498h0M402 1498h0M420 1498h0M428 1498h0M432 1498h0M440 1498h0M443 1498h0M451 1498h0M289 1502h0M320 1502h0M324 1502h0M335 1502h0M373 1502h0M384 1502h0M388 1502h0M392 1502h0M396 1502h0M400 1502h0M403 1502h0M430 1502h0M438 1502h0M441 1502h0M449 1502h0M284 1506h0M288 1506h0M291 1506h0M344 1506h0M360 1506h0M364 1506h0M367 1506h0M371 1506h0M375 1506h0M379 1506h0M382 1506h0M386 1506h0M390 1506h0M394 1506h0M398 1506h0M409 1506h0M413 1506h0M428 1506h0M278 1509h0M335 1509h0M362 1509h0M369 1509h0M377 1509h0M381 1509h0M384 1509h0M388 1509h0M396 1509h0M411 1509h0M419 1509h0M434 1509h0M449 1509h0M272 1513h0M333 1513h0M375 1513h0M379 1513h0M386 1513h0M409 1513h0M417 1513h0M432 1513h0M447 1513h0M451 1513h0M274 1517h0M365 1517h0M369 1517h0M377 1517h0M419 1517h0M426 1517h0M438 1517h0M288 1521h0M291 1521h0M420 1521h0M324 1524h0M276 1528h0M288 1528h0" stroke="#1d3981" stroke-width="3.80" stroke-linecap="square" fill="none"/>
<path transform="scale(.5)" d="M272 1346h0M280 1346h0M284 1346h0M291 1346h0M303 1346h0M306 1346h0M326 1346h0M371 1346h0M405 1346h0M413 1346h0M428 1346h0M436 1346h0M274 1350h0M305 1350h0M324 1350h0M339 1350h0M346 1350h0M350 1350h0M377 1350h0M426 1350h0M441 1350h0M268 1354h0M276 1354h0M284 1354h0M288 1354h0M291 1354h0M295 1354h0M299 1354h0M348 1354h0M364 1354h0M371 1354h0M382 1354h0M428 1354h0M451 1354h0M274 1357h0M320 1357h0M346 1357h0M354 1357h0M358 1357h0M369 1357h0M407 1357h0M434 1357h0M268 1361h0M299 1361h0M326 1361h0M341 1361h0M364 1361h0M386 1361h0M409 1361h0M413 1361h0M417 1361h0M420 1361h0M432 1361h0M451 1361h0M270 1365h0M293 1365h0M297 1365h0M320 1365h0M346 1365h0M358 1365h0M362 1365h0M377 1365h0M388 1365h0M426 1365h0M272 1369h0M295 1369h0M310 1369h0M314 1369h0M322 1369h0M413 1369h0M436 1369h0M451 1369h0M320 1372h0M331 1372h0M362 1372h0M365 1372h0M403 1372h0M411 1372h0M415 1372h0M434 1372h0M441 1372h0M268 1376h0M276 1376h0M288 1376h0M322 1376h0M329 1376h0M360 1376h0M432 1376h0M443 1376h0M451 1376h0M278 1380h0M289 1380h0M297 1380h0M312 1380h0M362 1380h0M377 1380h0M415 1380h0M426 1380h0M430 1380h0M453 1380h0M268 1384h0M310 1384h0M326 1384h0M329 1384h0M379 1384h0M382 1384h0M436 1384h0M267 1388h0M278 1388h0M286 1388h0M346 1388h0M350 1388h0M407 1388h0M422 1388h0M449 1388h0M268 1392h0M295 1392h0M352 1392h0M402 1392h0M440 1392h0M443 1392h0M282 1395h0M289 1395h0M297 1395h0M301 1395h0M331 1395h0M373 1395h0M407 1395h0M268 1399h0M291 1399h0M299 1399h0M306 1399h0M371 1399h0M379 1399h0M394 1399h0M398 1399h0M405 1399h0M428 1399h0M447 1399h0M451 1399h0M282 1403h0M289 1403h0M320 1403h0M362 1403h0M377 1403h0M419 1403h0M422 1403h0M426 1403h0M445 1403h0M449 1403h0M326 1407h0M382 1407h0M394 1407h0M405 1407h0M424 1407h0M274 1410h0M297 1410h0M312 1410h0M316 1410h0M335 1410h0M362 1410h0M392 1410h0M396 1410h0M403 1410h0M422 1410h0M430 1410h0M453 1410h0M295 1414h0M299 1414h0M333 1414h0M337 1414h0M341 1414h0M386 1414h0M432 1414h0M440 1414h0M447 1414h0M286 1418h0M316 1418h0M350 1418h0M400 1418h0M403 1418h0M407 1418h0M438 1418h0M441 1418h0M272 1422h0M280 1422h0M352 1422h0M398 1422h0M428 1422h0M432 1422h0M282 1426h0M286 1426h0M350 1426h0M400 1426h0M453 1426h0M288 1430h0M344 1430h0M451 1430h0M286 1433h0M289 1433h0M293 1433h0M305 1433h0M308 1433h0M312 1433h0M320 1433h0M339 1433h0M350 1433h0M358 1433h0M438 1433h0M445 1433h0M449 1433h0M453 1433h0M272 1437h0M276 1437h0M280 1437h0M306 1437h0M318 1437h0M326 1437h0M364 1437h0M443 1437h0M447 1437h0M286 1441h0M289 1441h0M316 1441h0M320 1441h0M350 1441h0M445 1441h0M268 1445h0M272 1445h0M291 1445h0M436 1445h0M274 1448h0M305 1448h0M320 1448h0M331 1448h0M335 1448h0M339 1448h0M438 1448h0M441 1448h0M291 1452h0M306 1452h0M329 1452h0M367 1452h0M382 1452h0M443 1452h0M312 1456h0M324 1456h0M327 1456h0M335 1456h0M339 1456h0M369 1456h0M377 1456h0M453 1456h0M265 1460h0M306 1460h0M314 1460h0M322 1460h0M341 1460h0M348 1460h0M352 1460h0M356 1460h0M443 1460h0M350 1464h0M377 1464h0M314 1468h0M333 1468h0M341 1468h0M344 1468h0M352 1468h0M371 1468h0M379 1468h0M386 1468h0M417 1468h0M451 1468h0M320 1471h0M403 1471h0M299 1475h0M314 1475h0M322 1475h0M394 1475h0M409 1475h0M420 1475h0M424 1475h0M305 1479h0M422 1479h0M426 1479h0M299 1483h0M303 1483h0M375 1483h0M379 1483h0M409 1483h0M413 1483h0M432 1483h0M447 1483h0M267 1486h0M293 1486h0M297 1486h0M316 1486h0M327 1486h0M354 1486h0M369 1486h0M396 1486h0M407 1486h0M415 1486h0M419 1486h0M430 1486h0M434 1486h0M453 1486h0M288 1490h0M326 1490h0M329 1490h0M382 1490h0M436 1490h0M447 1490h0M451 1490h0M270 1494h0M305 1494h0M381 1494h0M384 1494h0M388 1494h0M449 1494h0M265 1498h0M268 1498h0M291 1498h0M299 1498h0M303 1498h0M326 1498h0M329 1498h0M341 1498h0M364 1498h0M413 1498h0M417 1498h0M424 1498h0M436 1498h0M447 1498h0M286 1502h0M293 1502h0M297 1502h0M308 1502h0M346 1502h0M350 1502h0M362 1502h0M369 1502h0M381 1502h0M419 1502h0M422 1502h0M434 1502h0M445 1502h0M276 1506h0M295 1506h0M306 1506h0M341 1506h0M402 1506h0M405 1506h0M424 1506h0M432 1506h0M440 1506h0M282 1509h0M289 1509h0M343 1509h0M346 1509h0M358 1509h0M365 1509h0M403 1509h0M422 1509h0M430 1509h0M280 1513h0M344 1513h0M352 1513h0M402 1513h0M424 1513h0M428 1513h0M436 1513h0M278 1517h0M335 1517h0M358 1517h0M362 1517h0M381 1517h0M441 1517h0M268 1521h0M295 1521h0M322 1521h0M329 1521h0M337 1521h0M348 1521h0M360 1521h0M371 1521h0M375 1521h0M432 1521h0M270 1524h0M293 1524h0M335 1524h0M343 1524h0M358 1524h0M365 1524h0M377 1524h0M419 1524h0M333 1528h0M316 1532h0" stroke="#20428a" stroke-width="3.80" stroke-linecap="square" fill="none"/>
<path transform="scale(.5)" d="M299 1346h0M314 1346h0M333 1346h0M344 1346h0M356 1346h0M379 1346h0M432 1346h0M327 1350h0M335 1350h0M343 1350h0M354 1350h0M362 1350h0M411 1350h0M445 1350h0M352 1354h0M447 1354h0M267 1357h0M270 1357h0M289 1357h0M324 1357h0M327 1357h0M362 1357h0M449 1357h0M280 1361h0M303 1361h0M314 1361h0M329 1361h0M348 1361h0M352 1361h0M367 1361h0M278 1365h0M301 1365h0M305 1365h0M308 1365h0M327 1365h0M331 1365h0M335 1365h0M339 1365h0M354 1365h0M384 1365h0M407 1365h0M419 1365h0M276 1369h0M291 1369h0M303 1369h0M306 1369h0M333 1369h0M356 1369h0M364 1369h0M417 1369h0M420 1369h0M432 1369h0M270 1372h0M305 1372h0M327 1372h0M373 1372h0M377 1372h0M384 1372h0M396 1372h0M400 1372h0M438 1372h0M445 1372h0M265 1376h0M280 1376h0M291 1376h0M299 1376h0M303 1376h0M318 1376h0M326 1376h0M333 1376h0M367 1376h0M379 1376h0M382 1376h0M390 1376h0M394 1376h0M424 1376h0M440 1376h0M267 1380h0M327 1380h0M354 1380h0M358 1380h0M369 1380h0M384 1380h0M388 1380h0M434 1380h0M445 1380h0M288 1384h0M306 1384h0M333 1384h0M356 1384h0M417 1384h0M428 1384h0M432 1384h0M440 1384h0M451 1384h0M305 1388h0M369 1388h0M377 1388h0M396 1388h0M419 1388h0M434 1388h0M445 1388h0M265 1392h0M276 1392h0M291 1392h0M341 1392h0M348 1392h0M360 1392h0M413 1392h0M432 1392h0M436 1392h0M267 1395h0M286 1395h0M339 1395h0M346 1395h0M388 1395h0M392 1395h0M403 1395h0M411 1395h0M434 1395h0M445 1395h0M288 1399h0M314 1399h0M322 1399h0M329 1399h0M360 1399h0M382 1399h0M424 1399h0M436 1399h0M331 1403h0M354 1403h0M373 1403h0M407 1403h0M415 1403h0M310 1407h0M322 1407h0M352 1407h0M364 1407h0M375 1407h0M428 1407h0M432 1407h0M440 1407h0M447 1407h0M451 1407h0M289 1410h0M320 1410h0M324 1410h0M327 1410h0M339 1410h0M354 1410h0M388 1410h0M400 1410h0M438 1410h0M445 1410h0M449 1410h0M268 1414h0M288 1414h0M344 1414h0M390 1414h0M398 1414h0M443 1414h0M274 1418h0M289 1418h0M320 1418h0M324 1418h0M346 1418h0M354 1418h0M392 1418h0M396 1418h0M411 1418h0M419 1418h0M445 1418h0M268 1422h0M288 1422h0M295 1422h0M329 1422h0M341 1422h0M344 1422h0M348 1422h0M402 1422h0M409 1422h0M424 1422h0M440 1422h0M293 1426h0M316 1426h0M339 1426h0M343 1426h0M362 1426h0M365 1426h0M392 1426h0M396 1426h0M426 1426h0M438 1426h0M441 1426h0M445 1426h0M449 1426h0M284 1430h0M291 1430h0M299 1430h0M303 1430h0M306 1430h0M318 1430h0M367 1430h0M382 1430h0M394 1430h0M398 1430h0M409 1430h0M436 1430h0M301 1433h0M316 1433h0M324 1433h0M343 1433h0M354 1433h0M365 1433h0M384 1433h0M388 1433h0M411 1433h0M441 1433h0M322 1437h0M341 1437h0M344 1437h0M348 1437h0M356 1437h0M360 1437h0M405 1437h0M436 1437h0M282 1441h0M327 1441h0M339 1441h0M362 1441h0M403 1441h0M276 1445h0M280 1445h0M295 1445h0M303 1445h0M314 1445h0M322 1445h0M326 1445h0M337 1445h0M348 1445h0M356 1445h0M360 1445h0M367 1445h0M371 1445h0M379 1445h0M451 1445h0M289 1448h0M293 1448h0M297 1448h0M301 1448h0M316 1448h0M324 1448h0M358 1448h0M362 1448h0M373 1448h0M377 1448h0M388 1448h0M276 1452h0M288 1452h0M310 1452h0M318 1452h0M322 1452h0M326 1452h0M352 1452h0M375 1452h0M386 1452h0M267 1456h0M308 1456h0M365 1456h0M400 1456h0M441 1456h0M445 1456h0M303 1460h0M310 1460h0M329 1460h0M379 1460h0M386 1460h0M312 1464h0M316 1464h0M445 1464h0M265 1468h0M348 1468h0M367 1468h0M382 1468h0M405 1468h0M420 1468h0M297 1471h0M312 1471h0M339 1471h0M350 1471h0M369 1471h0M400 1471h0M419 1471h0M426 1471h0M445 1471h0M449 1471h0M265 1475h0M280 1475h0M371 1475h0M402 1475h0M447 1475h0M451 1475h0M274 1479h0M327 1479h0M362 1479h0M388 1479h0M396 1479h0M411 1479h0M430 1479h0M449 1479h0M453 1479h0M276 1483h0M280 1483h0M356 1483h0M360 1483h0M371 1483h0M394 1483h0M398 1483h0M402 1483h0M405 1483h0M417 1483h0M440 1483h0M443 1483h0M451 1483h0M282 1486h0M289 1486h0M308 1486h0M362 1486h0M388 1486h0M400 1486h0M441 1486h0M276 1490h0M303 1490h0M352 1490h0M367 1490h0M375 1490h0M398 1490h0M409 1490h0M413 1490h0M417 1490h0M424 1490h0M428 1490h0M443 1490h0M267 1494h0M282 1494h0M301 1494h0M316 1494h0M320 1494h0M327 1494h0M331 1494h0M358 1494h0M369 1494h0M400 1494h0M403 1494h0M407 1494h0M411 1494h0M415 1494h0M419 1494h0M426 1494h0M272 1498h0M288 1498h0M314 1498h0M333 1498h0M337 1498h0M352 1498h0M371 1498h0M274 1502h0M278 1502h0M301 1502h0M312 1502h0M339 1502h0M343 1502h0M354 1502h0M358 1502h0M365 1502h0M377 1502h0M426 1502h0M453 1502h0M280 1506h0M299 1506h0M314 1506h0M329 1506h0M348 1506h0M352 1506h0M356 1506h0M420 1506h0M436 1506h0M443 1506h0M447 1506h0M274 1509h0M297 1509h0M320 1509h0M327 1509h0M331 1509h0M373 1509h0M392 1509h0M438 1509h0M441 1509h0M445 1509h0M453 1509h0M268 1513h0M276 1513h0M322 1513h0M329 1513h0M341 1513h0M356 1513h0M360 1513h0M364 1513h0M371 1513h0M382 1513h0M394 1513h0M398 1513h0M420 1513h0M411 1517h0M415 1517h0M422 1517h0M434 1517h0M272 1521h0M276 1521h0M318 1521h0M344 1521h0M364 1521h0M382 1521h0M409 1521h0M417 1521h0M424 1521h0M274 1524h0M278 1524h0M289 1524h0M362 1524h0M369 1524h0M373 1524h0M415 1524h0M422 1524h0M265 1528h0M268 1528h0M272 1528h0M280 1528h0M295 1528h0M299 1528h0M348 1528h0M413 1528h0M267 1532h0M270 1532h0M282 1532h0M286 1532h0M297 1532h0M324 1532h0M339 1532h0" stroke="#234c92" stroke-width="3.80" stroke-linecap="square" fill="none"/>
<path transform="scale(.5)" d="M318 1346h0M329 1346h0M352 1346h0M364 1346h0M375 1346h0M358 1350h0M369 1350h0M280 1354h0M329 1354h0M356 1354h0M360 1354h0M367 1354h0M440 1354h0M443 1354h0M286 1357h0M284 1361h0M310 1361h0M337 1361h0M344 1361h0M289 1365h0M365 1365h0M369 1365h0M373 1365h0M422 1365h0M434 1365h0M265 1369h0M280 1369h0M299 1369h0M337 1369h0M341 1369h0M352 1369h0M386 1369h0M402 1369h0M405 1369h0M409 1369h0M424 1369h0M440 1369h0M267 1372h0M274 1372h0M278 1372h0M282 1372h0M286 1372h0M289 1372h0M301 1372h0M308 1372h0M335 1372h0M354 1372h0M369 1372h0M381 1372h0M284 1376h0M352 1376h0M356 1376h0M371 1376h0M398 1376h0M428 1376h0M436 1376h0M293 1380h0M305 1380h0M324 1380h0M373 1380h0M381 1380h0M422 1380h0M284 1384h0M291 1384h0M295 1384h0M299 1384h0M303 1384h0M314 1384h0M322 1384h0M367 1384h0M375 1384h0M420 1384h0M424 1384h0M443 1384h0M289 1388h0M297 1388h0M301 1388h0M316 1388h0M320 1388h0M324 1388h0M327 1388h0M339 1388h0M343 1388h0M354 1388h0M392 1388h0M400 1388h0M403 1388h0M411 1388h0M426 1388h0M430 1388h0M272 1392h0M299 1392h0M310 1392h0M314 1392h0M329 1392h0M337 1392h0M344 1392h0M394 1392h0M409 1392h0M424 1392h0M428 1392h0M451 1392h0M305 1395h0M308 1395h0M327 1395h0M343 1395h0M419 1395h0M422 1395h0M426 1395h0M453 1395h0M367 1399h0M402 1399h0M409 1399h0M417 1399h0M327 1403h0M343 1403h0M384 1403h0M400 1403h0M411 1403h0M430 1403h0M434 1403h0M453 1403h0M314 1407h0M318 1407h0M367 1407h0M409 1407h0M417 1407h0M420 1407h0M443 1407h0M331 1410h0M350 1410h0M358 1410h0M369 1410h0M377 1410h0M441 1410h0M310 1414h0M322 1414h0M329 1414h0M348 1414h0M360 1414h0M364 1414h0M402 1414h0M413 1414h0M436 1414h0M278 1418h0M297 1418h0M335 1418h0M339 1418h0M343 1418h0M362 1418h0M384 1418h0M388 1418h0M415 1418h0M284 1422h0M314 1422h0M326 1422h0M337 1422h0M356 1422h0M364 1422h0M367 1422h0M386 1422h0M405 1422h0M417 1422h0M436 1422h0M320 1426h0M331 1426h0M335 1426h0M354 1426h0M358 1426h0M384 1426h0M407 1426h0M310 1430h0M341 1430h0M352 1430h0M360 1430h0M379 1430h0M386 1430h0M405 1430h0M327 1433h0M346 1433h0M369 1433h0M377 1433h0M392 1433h0M400 1433h0M403 1433h0M434 1433h0M284 1437h0M291 1437h0M310 1437h0M314 1437h0M329 1437h0M333 1437h0M371 1437h0M375 1437h0M398 1437h0M402 1437h0M409 1437h0M293 1441h0M297 1441h0M312 1441h0M335 1441h0M407 1441h0M438 1441h0M441 1441h0M306 1445h0M329 1445h0M333 1445h0M344 1445h0M375 1445h0M432 1445h0M440 1445h0M447 1445h0M267 1448h0M282 1448h0M365 1448h0M369 1448h0M384 1448h0M392 1448h0M445 1448h0M449 1448h0M453 1448h0M268 1452h0M284 1452h0M295 1452h0M333 1452h0M348 1452h0M360 1452h0M371 1452h0M394 1452h0M402 1452h0M447 1452h0M451 1452h0M270 1456h0M274 1456h0M343 1456h0M346 1456h0M358 1456h0M381 1456h0M388 1456h0M403 1456h0M268 1460h0M295 1460h0M344 1460h0M364 1460h0M371 1460h0M402 1460h0M405 1460h0M451 1460h0M293 1464h0M339 1464h0M365 1464h0M373 1464h0M441 1464h0M449 1464h0M291 1468h0M337 1468h0M356 1468h0M364 1468h0M394 1468h0M409 1468h0M413 1468h0M447 1468h0M267 1471h0M270 1471h0M282 1471h0M301 1471h0M373 1471h0M377 1471h0M381 1471h0M415 1471h0M422 1471h0M453 1471h0M268 1475h0M288 1475h0M333 1475h0M348 1475h0M356 1475h0M364 1475h0M375 1475h0M398 1475h0M405 1475h0M443 1475h0M267 1479h0M270 1479h0M282 1479h0M316 1479h0M354 1479h0M369 1479h0M381 1479h0M384 1479h0M392 1479h0M400 1479h0M407 1479h0M419 1479h0M441 1479h0M272 1483h0M291 1483h0M295 1483h0M306 1483h0M310 1483h0M314 1483h0M329 1483h0M367 1483h0M428 1483h0M270 1486h0M286 1486h0M312 1486h0M350 1486h0M411 1486h0M422 1486h0M426 1486h0M265 1490h0M268 1490h0M272 1490h0M280 1490h0M284 1490h0M306 1490h0M310 1490h0M318 1490h0M337 1490h0M348 1490h0M356 1490h0M364 1490h0M379 1490h0M394 1490h0M402 1490h0M432 1490h0M286 1494h0M308 1494h0M312 1494h0M339 1494h0M350 1494h0M354 1494h0M362 1494h0M422 1494h0M453 1494h0M318 1498h0M348 1498h0M282 1502h0M316 1502h0M407 1502h0M411 1502h0M415 1502h0M268 1506h0M272 1506h0M303 1506h0M318 1506h0M322 1506h0M333 1506h0M417 1506h0M451 1506h0M267 1509h0M286 1509h0M293 1509h0M301 1509h0M339 1509h0M350 1509h0M400 1509h0M415 1509h0M426 1509h0M288 1513h0M291 1513h0M295 1513h0M337 1513h0M367 1513h0M413 1513h0M440 1513h0M443 1513h0M270 1517h0M282 1517h0M289 1517h0M293 1517h0M324 1517h0M327 1517h0M331 1517h0M339 1517h0M343 1517h0M346 1517h0M354 1517h0M373 1517h0M384 1517h0M403 1517h0M430 1517h0M280 1521h0M284 1521h0M333 1521h0M352 1521h0M367 1521h0M379 1521h0M413 1521h0M267 1524h0M282 1524h0M286 1524h0M297 1524h0M301 1524h0M320 1524h0M331 1524h0M350 1524h0M354 1524h0M407 1524h0M284 1528h0M310 1528h0M318 1528h0M329 1528h0M337 1528h0M352 1528h0M356 1528h0M364 1528h0M367 1528h0M375 1528h0M293 1532h0M301 1532h0M305 1532h0M327 1532h0M350 1532h0M354 1532h0M373 1532h0" stroke="#255a96" stroke-width="3.80" stroke-linecap="square" fill="none"/>
<path transform="scale(.5)" d="M322 1346h0M348 1346h0M367 1346h0M272 1354h0M333 1354h0M337 1354h0M282 1357h0M288 1361h0M436 1361h0M286 1365h0M312 1365h0M449 1365h0M288 1369h0M329 1369h0M344 1369h0M348 1369h0M379 1369h0M447 1369h0M293 1372h0M297 1372h0M312 1372h0M316 1372h0M392 1372h0M407 1372h0M295 1376h0M310 1376h0M386 1376h0M402 1376h0M405 1376h0M282 1380h0M301 1380h0M308 1380h0M419 1380h0M441 1380h0M318 1384h0M405 1384h0M409 1384h0M413 1384h0M293 1388h0M308 1388h0M312 1388h0M331 1388h0M288 1392h0M326 1392h0M390 1392h0M405 1392h0M417 1392h0M420 1392h0M447 1392h0M312 1395h0M316 1395h0M320 1395h0M400 1395h0M415 1395h0M430 1395h0M449 1395h0M318 1399h0M326 1399h0M333 1399h0M337 1399h0M341 1399h0M344 1399h0M413 1399h0M420 1399h0M432 1399h0M316 1403h0M339 1403h0M346 1403h0M350 1403h0M369 1403h0M403 1403h0M333 1407h0M348 1407h0M371 1407h0M305 1410h0M308 1410h0M346 1410h0M419 1410h0M306 1414h0M314 1414h0M318 1414h0M356 1414h0M331 1418h0M322 1422h0M360 1422h0M390 1422h0M394 1422h0M413 1422h0M297 1426h0M369 1426h0M403 1426h0M411 1426h0M430 1426h0M314 1430h0M322 1430h0M329 1430h0M333 1430h0M356 1430h0M364 1430h0M371 1430h0M420 1430h0M440 1430h0M335 1433h0M362 1433h0M381 1433h0M396 1433h0M415 1433h0M419 1433h0M288 1437h0M337 1437h0M379 1437h0M382 1437h0M390 1437h0M432 1437h0M440 1437h0M305 1441h0M343 1441h0M346 1441h0M384 1441h0M430 1441h0M341 1445h0M386 1445h0M327 1448h0M343 1448h0M346 1448h0M354 1448h0M381 1448h0M314 1452h0M337 1452h0M364 1452h0M405 1452h0M436 1452h0M350 1456h0M354 1456h0M384 1456h0M392 1456h0M299 1460h0M375 1460h0M382 1460h0M308 1464h0M362 1464h0M400 1464h0M453 1464h0M276 1468h0M299 1468h0M375 1468h0M398 1468h0M440 1468h0M274 1471h0M278 1471h0M286 1471h0M293 1471h0M305 1471h0M308 1471h0M335 1471h0M346 1471h0M354 1471h0M392 1471h0M396 1471h0M407 1471h0M411 1471h0M276 1475h0M291 1475h0M295 1475h0M303 1475h0M306 1475h0M379 1475h0M382 1475h0M386 1475h0M390 1475h0M428 1475h0M432 1475h0M436 1475h0M440 1475h0M278 1479h0M286 1479h0M289 1479h0M293 1479h0M297 1479h0M301 1479h0M312 1479h0M350 1479h0M377 1479h0M438 1479h0M265 1483h0M268 1483h0M284 1483h0M288 1483h0M352 1483h0M386 1483h0M390 1483h0M424 1483h0M278 1486h0M358 1486h0M377 1486h0M381 1486h0M384 1486h0M333 1490h0M344 1490h0M360 1490h0M405 1490h0M274 1494h0M278 1494h0M335 1494h0M346 1494h0M280 1498h0M310 1498h0M344 1498h0M367 1498h0M405 1498h0M409 1498h0M267 1502h0M270 1502h0M305 1502h0M327 1502h0M331 1502h0M310 1506h0M326 1506h0M337 1506h0M270 1509h0M316 1509h0M354 1509h0M407 1509h0M284 1513h0M318 1513h0M326 1513h0M348 1513h0M390 1513h0M286 1517h0M320 1517h0M388 1517h0M392 1517h0M265 1521h0M356 1521h0M428 1521h0M312 1524h0M327 1524h0M339 1524h0M346 1524h0M381 1524h0M411 1524h0M291 1528h0M303 1528h0M306 1528h0M314 1528h0M326 1528h0M341 1528h0M360 1528h0M371 1528h0M382 1528h0M274 1532h0M278 1532h0M289 1532h0M308 1532h0M331 1532h0M335 1532h0M343 1532h0M346 1532h0" stroke="#276b97" stroke-width="3.80" stroke-linecap="square" fill="none"/>
<path transform="scale(.5)" d="M360 1346h0M341 1354h0M278 1357h0M331 1357h0M438 1357h0M441 1357h0M333 1361h0M438 1365h0M367 1369h0M371 1369h0M375 1369h0M339 1372h0M306 1376h0M392 1380h0M396 1380h0M352 1384h0M335 1388h0M415 1388h0M306 1392h0M318 1392h0M333 1392h0M324 1395h0M335 1395h0M396 1395h0M335 1403h0M329 1407h0M337 1407h0M344 1407h0M343 1410h0M365 1410h0M381 1410h0M326 1414h0M367 1414h0M382 1414h0M312 1418h0M327 1418h0M358 1418h0M318 1422h0M333 1422h0M379 1422h0M382 1422h0M420 1422h0M301 1426h0M327 1426h0M377 1426h0M434 1426h0M326 1430h0M337 1430h0M375 1430h0M390 1430h0M413 1430h0M428 1430h0M432 1430h0M331 1433h0M373 1433h0M422 1433h0M426 1433h0M424 1437h0M428 1437h0M377 1441h0M381 1441h0M392 1441h0M352 1445h0M350 1448h0M430 1448h0M280 1452h0M341 1452h0M356 1452h0M390 1452h0M432 1452h0M440 1452h0M289 1456h0M293 1456h0M297 1456h0M362 1456h0M396 1456h0M407 1456h0M438 1456h0M272 1460h0M360 1460h0M367 1460h0M390 1460h0M394 1460h0M440 1460h0M267 1464h0M270 1464h0M297 1464h0M301 1464h0M305 1464h0M354 1464h0M369 1464h0M388 1464h0M392 1464h0M396 1464h0M403 1464h0M407 1464h0M411 1464h0M306 1468h0M310 1468h0M360 1468h0M390 1468h0M289 1471h0M343 1471h0M358 1471h0M362 1471h0M365 1471h0M384 1471h0M388 1471h0M430 1471h0M434 1471h0M438 1471h0M441 1471h0M272 1475h0M284 1475h0M310 1475h0M337 1475h0M352 1475h0M367 1475h0M308 1479h0M358 1479h0M365 1479h0M333 1483h0M382 1483h0M420 1483h0M274 1486h0M331 1486h0M335 1486h0M392 1486h0M343 1494h0M306 1498h0M265 1506h0M312 1509h0M324 1509h0M265 1513h0M405 1513h0M267 1517h0M350 1517h0M407 1517h0M299 1521h0M326 1521h0M341 1521h0M316 1524h0M322 1528h0M344 1528h0M379 1528h0M312 1532h0M358 1532h0M365 1532h0M369 1532h0M377 1532h0" stroke="#2b7b97" stroke-width="3.80" stroke-linecap="square" fill="none"/>
<path transform="scale(.5)" d="M335 1357h0M339 1357h0M447 1361h0M350 1372h0M337 1376h0M335 1380h0M337 1384h0M348 1384h0M402 1384h0M341 1407h0M373 1410h0M371 1414h0M379 1414h0M365 1418h0M310 1422h0M371 1422h0M305 1426h0M308 1426h0M312 1426h0M324 1426h0M381 1426h0M415 1426h0M419 1426h0M422 1426h0M424 1430h0M386 1437h0M413 1437h0M420 1437h0M396 1441h0M400 1441h0M411 1441h0M434 1441h0M382 1445h0M434 1448h0M344 1452h0M409 1452h0M278 1456h0M288 1460h0M291 1460h0M398 1460h0M413 1460h0M289 1464h0M358 1464h0M415 1464h0M419 1464h0M268 1468h0M272 1468h0M280 1468h0M288 1468h0M295 1468h0M303 1468h0M360 1475h0M331 1479h0M373 1479h0M348 1483h0M341 1490h0M308 1509h0M314 1513h0M297 1517h0M316 1517h0M396 1517h0M400 1517h0M386 1521h0M384 1524h0M386 1528h0M409 1528h0M320 1532h0M362 1532h0M381 1532h0M384 1532h0" stroke="#328893" stroke-width="3.80" stroke-linecap="square" fill="none"/>
<path transform="scale(.5)" d="M445 1357h0M440 1361h0M443 1369h0M322 1392h0M303 1414h0M369 1418h0M373 1418h0M381 1418h0M373 1426h0M417 1430h0M430 1433h0M394 1437h0M417 1437h0M388 1441h0M415 1441h0M419 1441h0M422 1441h0M426 1441h0M390 1445h0M409 1445h0M407 1448h0M398 1452h0M428 1452h0M282 1456h0M409 1460h0M417 1460h0M420 1460h0M274 1464h0M286 1464h0M284 1468h0M402 1468h0M424 1468h0M341 1475h0M344 1475h0M335 1479h0M346 1479h0M305 1509h0M314 1521h0M390 1521h0M405 1521h0M305 1524h0" stroke="#3a948f" stroke-width="3.80" stroke-linecap="square" fill="none"/>
<path transform="scale(.5)" d="M443 1361h0M303 1422h0M417 1452h0M432 1460h0M341 1483h0M308 1517h0M392 1532h0" stroke="#c0c479" stroke-width="3.80" stroke-linecap="square" fill="none"/>
<path transform="scale(.5)" d="M441 1365h0M417 1445h0M411 1448h0M419 1456h0M436 1460h0M278 1464h0M339 1479h0M343 1479h0M306 1513h0M392 1524h0M400 1524h0M396 1532h0M403 1532h0" stroke="#97b77c" stroke-width="3.80" stroke-linecap="square" fill="none"/>
<path transform="scale(.5)" d="M445 1365h0M343 1372h0M350 1380h0M375 1414h0M301 1418h0M377 1418h0M299 1422h0M306 1422h0M413 1445h0M428 1445h0M426 1448h0M413 1452h0M411 1456h0M430 1456h0M280 1460h0M284 1460h0M424 1460h0M282 1464h0M438 1464h0M436 1468h0M306 1521h0M388 1524h0M405 1528h0" stroke="#66a586" stroke-width="3.80" stroke-linecap="square" fill="none"/>
<path transform="scale(.5)" d="M346 1372h0M348 1376h0M341 1384h0M308 1418h0M375 1422h0M286 1456h0M426 1456h0M434 1456h0M276 1460h0M422 1464h0M426 1464h0M428 1468h0M339 1486h0M346 1486h0M299 1513h0M310 1513h0M402 1521h0M308 1524h0" stroke="#4e9c8b" stroke-width="3.80" stroke-linecap="square" fill="none"/>
<path transform="scale(.5)" d="M341 1376h0M339 1380h0M344 1384h0M305 1418h0M420 1445h0M424 1445h0M424 1452h0M415 1456h0M422 1456h0M337 1483h0M301 1517h0M390 1528h0M394 1528h0M402 1528h0M400 1532h0" stroke="#b1c178" stroke-width="3.80" stroke-linecap="square" fill="none"/>
<path transform="scale(.5)" d="M344 1376h0M420 1452h0" stroke="#d8c070" stroke-width="3.80" stroke-linecap="square" fill="none"/>
<path transform="scale(.5)" d="M343 1380h0M346 1380h0M415 1448h0M422 1448h0M305 1517h0M398 1528h0" stroke="#d0c77a" stroke-width="3.80" stroke-linecap="square" fill="none"/>
<path transform="scale(.5)" d="M419 1448h0" stroke="#df9f53" stroke-width="3.80" stroke-linecap="square" fill="none"/>
<path transform="scale(.5)" d="M428 1460h0M430 1464h0M434 1464h0M432 1468h0M344 1483h0M343 1486h0M303 1513h0M312 1517h0M303 1521h0M310 1521h0M394 1521h0M398 1521h0M396 1524h0M403 1524h0M388 1532h0" stroke="#7dae81" stroke-width="3.80" stroke-linecap="square" fill="none"/>
<text x="177.0" y="650.5" font-size="5.5" text-anchor="middle" font-weight="normal" fill="#111">T cell</text>
<defs><linearGradient id="gsp31" x1="0" y1="0" x2="1" y2="0"><stop offset="0.0" stop-color="#3D3F95"/><stop offset="0.1" stop-color="#2F62A8"/><stop offset="0.2" stop-color="#2E8FA6"/><stop offset="0.3" stop-color="#52AE96"/><stop offset="0.4" stop-color="#98CD96"/><stop offset="0.5" stop-color="#D6E68F"/><stop offset="0.6" stop-color="#F3E48F"/><stop offset="0.7" stop-color="#F8BE6B"/><stop offset="0.8" stop-color="#EF8249"/><stop offset="0.9" stop-color="#D84840"/><stop offset="1.0" stop-color="#A0134A"/></linearGradient></defs>
<rect x="156.00" y="652.40" width="41.50" height="8.00" fill="url(#gsp31)" stroke="none" stroke-width="0.5"/>
<text x="159.0" y="666.5" font-size="4.6" text-anchor="middle" font-weight="normal" fill="#111">0.00</text>
<text x="168.0" y="666.5" font-size="4.6" text-anchor="middle" font-weight="normal" fill="#111">0.25</text>
<text x="177.0" y="666.5" font-size="4.6" text-anchor="middle" font-weight="normal" fill="#111">0.50</text>
<text x="186.0" y="666.5" font-size="4.6" text-anchor="middle" font-weight="normal" fill="#111">0.75</text>
<text x="195.0" y="666.5" font-size="4.6" text-anchor="middle" font-weight="normal" fill="#111">1.00</text>
<text x="244.5" y="656.0" font-size="13" text-anchor="start" font-weight="bold" fill="#000">k</text>
<text x="295.0" y="662.2" font-size="5.5" text-anchor="middle" font-weight="normal" fill="#111">LGALS9_CD45</text>
<path d="M244.2,665.5 L348.2,665.5 L348.2,754.2 Q340.2,765.2 334.2,769.2 L244.2,769.2 Z" fill="#DEDEDE"/>
<path d="M310.5,665.5 L321,665.5 L319.5,679 Z" fill="#fff"/>
<path d="M315,696 Q331,692 342,682" stroke="#fff" stroke-width="1.8" fill="none"/>
<ellipse cx="316.5" cy="716" rx="4" ry="1.4" fill="#fff"/>
<path d="M273,704 Q277,707 276,710" stroke="#fff" stroke-width="1.3" fill="none"/>
<path transform="scale(.5)" d="M527 1333h0M636 1333h0M673 1333h0M679 1333h0M529 1336h0M544 1336h0M637 1336h0M640 1336h0M555 1339h0M586 1339h0M589 1339h0M614 1339h0M626 1339h0M633 1339h0M645 1339h0M664 1339h0M667 1339h0M670 1339h0M676 1339h0M498 1342h0M634 1342h0M690 1342h0M502 1345h0M506 1345h0M527 1345h0M586 1345h0M636 1345h0M664 1345h0M670 1345h0M616 1348h0M619 1348h0M684 1348h0M490 1351h0M506 1351h0M509 1351h0M533 1351h0M586 1351h0M642 1351h0M682 1351h0M692 1351h0M695 1351h0M492 1354h0M495 1354h0M578 1354h0M668 1354h0M687 1354h0M690 1354h0M499 1357h0M527 1357h0M543 1357h0M549 1357h0M688 1357h0M492 1360h0M507 1360h0M513 1360h0M519 1360h0M526 1360h0M529 1360h0M535 1360h0M606 1360h0M690 1360h0M493 1364h0M499 1364h0M509 1364h0M530 1364h0M564 1364h0M571 1364h0M688 1364h0M513 1367h0M523 1367h0M566 1367h0M578 1367h0M588 1367h0M594 1367h0M606 1367h0M609 1367h0M668 1367h0M687 1367h0M493 1370h0M496 1370h0M527 1370h0M574 1370h0M592 1370h0M642 1370h0M692 1370h0M695 1370h0M498 1373h0M510 1373h0M526 1373h0M547 1373h0M575 1373h0M591 1373h0M600 1373h0M622 1373h0M637 1373h0M643 1373h0M687 1373h0M693 1373h0M509 1376h0M530 1376h0M540 1376h0M598 1376h0M605 1376h0M617 1376h0M623 1376h0M673 1376h0M501 1379h0M504 1379h0M526 1379h0M535 1379h0M581 1379h0M591 1379h0M606 1379h0M612 1379h0M625 1379h0M637 1379h0M496 1382h0M512 1382h0M518 1382h0M527 1382h0M611 1382h0M614 1382h0M620 1382h0M623 1382h0M626 1382h0M670 1382h0M504 1385h0M516 1385h0M563 1385h0M566 1385h0M603 1385h0M609 1385h0M612 1385h0M665 1385h0M496 1388h0M509 1388h0M527 1388h0M530 1388h0M561 1388h0M564 1388h0M608 1388h0M630 1388h0M670 1388h0M685 1388h0M688 1388h0M513 1392h0M526 1392h0M597 1392h0M606 1392h0M640 1392h0M681 1392h0M499 1395h0M524 1395h0M543 1395h0M546 1395h0M595 1395h0M598 1395h0M670 1395h0M685 1395h0M492 1398h0M507 1398h0M513 1398h0M523 1398h0M544 1398h0M603 1398h0M619 1398h0M640 1398h0M678 1398h0M690 1398h0M496 1401h0M502 1401h0M524 1401h0M564 1401h0M571 1401h0M592 1401h0M602 1401h0M614 1401h0M626 1401h0M630 1401h0M495 1404h0M507 1404h0M529 1404h0M532 1404h0M550 1404h0M591 1404h0M594 1404h0M597 1404h0M606 1404h0M612 1404h0M619 1404h0M625 1404h0M662 1404h0M493 1407h0M502 1407h0M509 1407h0M536 1407h0M564 1407h0M577 1407h0M589 1407h0M602 1407h0M611 1407h0M626 1407h0M642 1407h0M657 1407h0M679 1407h0M695 1407h0M495 1410h0M507 1410h0M510 1410h0M513 1410h0M532 1410h0M535 1410h0M557 1410h0M575 1410h0M594 1410h0M612 1410h0M631 1410h0M656 1410h0M662 1410h0M674 1410h0M515 1413h0M524 1413h0M552 1413h0M561 1413h0M577 1413h0M583 1413h0M633 1413h0M636 1413h0M651 1413h0M670 1413h0M679 1413h0M692 1413h0M507 1416h0M526 1416h0M529 1416h0M535 1416h0M541 1416h0M554 1416h0M557 1416h0M566 1416h0M628 1416h0M647 1416h0M650 1416h0M671 1416h0M674 1416h0M678 1416h0M687 1416h0M490 1419h0M502 1419h0M568 1419h0M580 1419h0M648 1419h0M682 1419h0M685 1419h0M688 1419h0M692 1419h0M498 1422h0M501 1422h0M529 1422h0M532 1422h0M535 1422h0M609 1422h0M622 1422h0M634 1422h0M674 1422h0M678 1422h0M681 1422h0M490 1426h0M506 1426h0M527 1426h0M536 1426h0M549 1426h0M555 1426h0M564 1426h0M568 1426h0M580 1426h0M598 1426h0M611 1426h0M679 1426h0M501 1429h0M519 1429h0M544 1429h0M563 1429h0M619 1429h0M622 1429h0M656 1429h0M674 1429h0M690 1429h0M530 1432h0M583 1432h0M608 1432h0M611 1432h0M617 1432h0M630 1432h0M648 1432h0M651 1432h0M695 1432h0M495 1435h0M523 1435h0M526 1435h0M572 1435h0M591 1435h0M622 1435h0M656 1435h0M687 1435h0M693 1435h0M558 1438h0M580 1438h0M605 1438h0M648 1438h0M685 1438h0M692 1438h0M495 1441h0M513 1441h0M529 1441h0M538 1441h0M541 1441h0M554 1441h0M566 1441h0M609 1441h0M612 1441h0M668 1441h0M671 1441h0M687 1441h0M690 1441h0M693 1441h0M490 1444h0M506 1444h0M527 1444h0M552 1444h0M558 1444h0M583 1444h0M595 1444h0M673 1444h0M688 1444h0M513 1447h0M541 1447h0M554 1447h0M594 1447h0M600 1447h0M609 1447h0M612 1447h0M647 1447h0M687 1447h0M690 1447h0M536 1450h0M540 1450h0M555 1450h0M561 1450h0M598 1450h0M651 1450h0M657 1450h0M670 1450h0M495 1454h0M498 1454h0M526 1454h0M532 1454h0M535 1454h0M538 1454h0M554 1454h0M563 1454h0M591 1454h0M597 1454h0M600 1454h0M622 1454h0M650 1454h0M662 1454h0M671 1454h0M687 1454h0M693 1454h0M496 1457h0M512 1457h0M521 1457h0M530 1457h0M555 1457h0M564 1457h0M568 1457h0M583 1457h0M595 1457h0M642 1457h0M654 1457h0M660 1457h0M667 1457h0M498 1460h0M529 1460h0M535 1460h0M563 1460h0M600 1460h0M612 1460h0M643 1460h0M684 1460h0M687 1460h0M506 1463h0M512 1463h0M521 1463h0M524 1463h0M530 1463h0M552 1463h0M561 1463h0M608 1463h0M614 1463h0M648 1463h0M667 1463h0M673 1463h0M692 1463h0M498 1466h0M507 1466h0M510 1466h0M519 1466h0M523 1466h0M529 1466h0M532 1466h0M560 1466h0M578 1466h0M585 1466h0M591 1466h0M597 1466h0M612 1466h0M619 1466h0M628 1466h0M634 1466h0M643 1466h0M662 1466h0M671 1466h0M684 1466h0M687 1466h0M690 1466h0M518 1469h0M552 1469h0M555 1469h0M586 1469h0M592 1469h0M598 1469h0M605 1469h0M614 1469h0M617 1469h0M623 1469h0M633 1469h0M654 1469h0M664 1469h0M673 1469h0M688 1469h0M498 1472h0M507 1472h0M519 1472h0M532 1472h0M541 1472h0M557 1472h0M560 1472h0M572 1472h0M585 1472h0M588 1472h0M597 1472h0M600 1472h0M612 1472h0M637 1472h0M640 1472h0M656 1472h0M662 1472h0M678 1472h0M681 1472h0M693 1472h0M502 1475h0M512 1475h0M515 1475h0M518 1475h0M552 1475h0M583 1475h0M586 1475h0M589 1475h0M592 1475h0M598 1475h0M620 1475h0M626 1475h0M630 1475h0M648 1475h0M651 1475h0M654 1475h0M657 1475h0M664 1475h0M673 1475h0M682 1475h0M688 1475h0M695 1475h0M516 1478h0M523 1478h0M526 1478h0M535 1478h0M544 1478h0M554 1478h0M557 1478h0M572 1478h0M581 1478h0M597 1478h0M600 1478h0M606 1478h0M622 1478h0M625 1478h0M656 1478h0M662 1478h0M671 1478h0M690 1478h0M493 1481h0M499 1481h0M527 1481h0M546 1481h0M555 1481h0M568 1481h0M583 1481h0M589 1481h0M595 1481h0M648 1481h0M651 1481h0M654 1481h0M657 1481h0M676 1481h0M688 1481h0M501 1484h0M526 1484h0M541 1484h0M547 1484h0M557 1484h0M566 1484h0M585 1484h0M588 1484h0M591 1484h0M597 1484h0M600 1484h0M609 1484h0M619 1484h0M671 1484h0M678 1484h0M687 1484h0M690 1484h0M490 1488h0M509 1488h0M527 1488h0M533 1488h0M552 1488h0M555 1488h0M558 1488h0M561 1488h0M571 1488h0M574 1488h0M577 1488h0M586 1488h0M589 1488h0M595 1488h0M608 1488h0M623 1488h0M667 1488h0M676 1488h0M679 1488h0M682 1488h0M685 1488h0M692 1488h0M695 1488h0M492 1491h0M519 1491h0M523 1491h0M557 1491h0M560 1491h0M585 1491h0M588 1491h0M591 1491h0M600 1491h0M616 1491h0M628 1491h0M656 1491h0M659 1491h0M674 1491h0M690 1491h0M502 1494h0M506 1494h0M515 1494h0M530 1494h0M536 1494h0M546 1494h0M555 1494h0M561 1494h0M586 1494h0M589 1494h0M598 1494h0M620 1494h0M660 1494h0M685 1494h0M498 1497h0M501 1497h0M513 1497h0M529 1497h0M532 1497h0M535 1497h0M547 1497h0M566 1497h0M575 1497h0M581 1497h0M585 1497h0M594 1497h0M597 1497h0M600 1497h0M603 1497h0M606 1497h0M622 1497h0M625 1497h0M628 1497h0M653 1497h0M656 1497h0M662 1497h0M668 1497h0M687 1497h0M690 1497h0M693 1497h0M490 1500h0M493 1500h0M496 1500h0M502 1500h0M506 1500h0M515 1500h0M530 1500h0M536 1500h0M546 1500h0M561 1500h0M568 1500h0M571 1500h0M577 1500h0M583 1500h0M586 1500h0M589 1500h0M592 1500h0M602 1500h0M608 1500h0M617 1500h0M633 1500h0M660 1500h0M501 1503h0M510 1503h0M513 1503h0M541 1503h0M544 1503h0M547 1503h0M560 1503h0M563 1503h0M566 1503h0M594 1503h0M612 1503h0M628 1503h0M659 1503h0M687 1503h0M693 1503h0M490 1506h0M496 1506h0M502 1506h0M509 1506h0M524 1506h0M527 1506h0M543 1506h0M549 1506h0M552 1506h0M555 1506h0M561 1506h0M568 1506h0M574 1506h0M586 1506h0M592 1506h0M608 1506h0M614 1506h0M623 1506h0M626 1506h0M645 1506h0M660 1506h0M685 1506h0M688 1506h0M495 1509h0M504 1509h0M510 1509h0M516 1509h0M523 1509h0M535 1509h0M544 1509h0M554 1509h0M566 1509h0M578 1509h0M588 1509h0M616 1509h0M650 1509h0M653 1509h0M656 1509h0M678 1509h0M693 1509h0M512 1512h0M518 1512h0M521 1512h0M540 1512h0M543 1512h0M546 1512h0M552 1512h0M555 1512h0M558 1512h0M571 1512h0M574 1512h0M595 1512h0M598 1512h0M611 1512h0M620 1512h0M648 1512h0M692 1512h0M507 1516h0M513 1516h0M519 1516h0M563 1516h0M566 1516h0M572 1516h0M575 1516h0M581 1516h0M591 1516h0M600 1516h0M606 1516h0M609 1516h0M616 1516h0M628 1516h0M634 1516h0M640 1516h0M668 1516h0M493 1519h0M506 1519h0M512 1519h0M515 1519h0M527 1519h0M546 1519h0M549 1519h0M561 1519h0M568 1519h0M571 1519h0M574 1519h0M577 1519h0M580 1519h0M586 1519h0M589 1519h0M598 1519h0M602 1519h0M605 1519h0M623 1519h0M636 1519h0M648 1519h0M679 1519h0M501 1522h0M510 1522h0M513 1522h0M516 1522h0M519 1522h0M532 1522h0M544 1522h0M560 1522h0M563 1522h0M588 1522h0M603 1522h0M606 1522h0M616 1522h0M637 1522h0M647 1522h0M650 1522h0M668 1522h0M499 1525h0M506 1525h0M509 1525h0M512 1525h0M533 1525h0M540 1525h0M549 1525h0M552 1525h0M555 1525h0M574 1525h0M595 1525h0M617 1525h0M636 1525h0M645 1525h0M492 1528h0M495 1528h0M498 1528h0M510 1528h0M513 1528h0M523 1528h0M557 1528h0M606 1528h0M631 1528h0M640 1528h0M647 1528h0M653 1528h0M490 1531h0M496 1531h0M499 1531h0M502 1531h0M530 1531h0M540 1531h0M543 1531h0M546 1531h0M558 1531h0M561 1531h0M602 1531h0M608 1531h0M611 1531h0M620 1531h0M626 1531h0M636 1531h0M639 1531h0M645 1531h0M495 1534h0M504 1534h0M516 1534h0M523 1534h0M544 1534h0M585 1534h0M591 1534h0M609 1534h0M628 1534h0M653 1534h0M662 1534h0" stroke="#E8817A" stroke-width="2.60" stroke-linecap="square" fill="none"/>
<path transform="scale(.5)" d="M544 1354h0M591 1354h0M504 1367h0M575 1367h0M600 1367h0M602 1370h0M512 1376h0M515 1382h0M676 1382h0M501 1385h0M523 1385h0M541 1385h0M687 1385h0M490 1388h0M603 1392h0M671 1392h0M678 1392h0M684 1392h0M496 1395h0M495 1398h0M600 1398h0M668 1398h0M493 1401h0M595 1401h0M616 1404h0M614 1407h0M692 1407h0M578 1410h0M609 1410h0M693 1410h0M543 1413h0M673 1413h0M498 1416h0M586 1419h0M569 1422h0M499 1426h0M695 1426h0M547 1429h0M554 1429h0M594 1429h0M540 1432h0M682 1432h0M577 1438h0M602 1438h0M695 1438h0M591 1441h0M598 1444h0M676 1444h0M538 1447h0M614 1450h0M510 1454h0M656 1454h0M659 1454h0M586 1457h0M617 1457h0M688 1457h0M526 1460h0M560 1460h0M662 1460h0M668 1460h0M671 1460h0M502 1463h0M526 1466h0M566 1466h0M569 1466h0M653 1466h0M665 1466h0M668 1466h0M693 1466h0M524 1469h0M583 1469h0M630 1469h0M657 1469h0M523 1472h0M581 1472h0M616 1472h0M619 1472h0M622 1472h0M536 1475h0M577 1475h0M631 1478h0M605 1481h0M682 1481h0M495 1484h0M612 1484h0M493 1488h0M499 1488h0M580 1488h0M598 1488h0M617 1488h0M501 1491h0M526 1491h0M578 1491h0M662 1491h0M493 1494h0M568 1494h0M602 1494h0M679 1494h0M510 1497h0M526 1497h0M578 1497h0M588 1497h0M643 1497h0M614 1500h0M682 1500h0M692 1500h0M578 1503h0M597 1503h0M622 1503h0M580 1506h0M498 1509h0M526 1509h0M606 1509h0M612 1509h0M662 1509h0M496 1512h0M533 1512h0M536 1512h0M586 1512h0M630 1512h0M544 1516h0M647 1516h0M620 1519h0M673 1519h0M535 1522h0M538 1522h0M550 1522h0M554 1522h0M569 1522h0M597 1522h0M643 1522h0M602 1525h0M648 1525h0M507 1528h0M586 1531h0M617 1531h0M664 1531h0M510 1534h0M557 1534h0M560 1534h0M566 1534h0M572 1534h0M668 1534h0" stroke="#7DB24A" stroke-width="2.60" stroke-linecap="square" fill="none"/>
<path transform="scale(.5)" d="M532 1342h0M580 1351h0M502 1364h0M529 1367h0M662 1367h0M586 1376h0M506 1382h0M524 1382h0M561 1382h0M510 1392h0M682 1395h0M501 1398h0M682 1401h0M637 1404h0M498 1410h0M493 1419h0M695 1419h0M540 1426h0M664 1426h0M682 1426h0M692 1426h0M490 1432h0M561 1444h0M588 1447h0M656 1447h0M529 1454h0M523 1460h0M575 1460h0M650 1460h0M605 1463h0M679 1463h0M574 1469h0M679 1469h0M685 1469h0M625 1472h0M690 1472h0M623 1475h0M513 1478h0M547 1478h0M574 1481h0M594 1484h0M521 1488h0M549 1488h0M630 1488h0M535 1491h0M566 1491h0M575 1491h0M564 1494h0M612 1497h0M630 1500h0M665 1503h0M569 1509h0M667 1512h0M541 1516h0M608 1519h0M642 1519h0M546 1525h0M560 1528h0M597 1528h0M622 1528h0M518 1531h0M642 1531h0M547 1534h0M563 1534h0" stroke="#22A8C6" stroke-width="2.60" stroke-linecap="square" fill="none"/>
<circle cx="353.10" cy="709.20" r="1.50" fill="#E8817A" stroke="none" stroke-width="0.4"/>
<text x="357.4" y="711.3" font-size="5.5" text-anchor="start" font-weight="normal" fill="#111">LGALS9</text>
<circle cx="353.10" cy="715.65" r="1.50" fill="#7DB24A" stroke="none" stroke-width="0.4"/>
<text x="357.4" y="717.8" font-size="5.5" text-anchor="start" font-weight="normal" fill="#111">PTPRC</text>
<circle cx="353.10" cy="722.10" r="1.50" fill="#22A8C6" stroke="none" stroke-width="0.4"/>
<text x="357.4" y="724.2" font-size="5.5" text-anchor="start" font-weight="normal" fill="#111">Both</text>
<circle cx="353.10" cy="728.55" r="1.50" fill="#DEDEDE" stroke="none" stroke-width="0.4"/>
<text x="357.4" y="730.7" font-size="5.5" text-anchor="start" font-weight="normal" fill="#111">None</text>
<text x="392.0" y="656.0" font-size="13" text-anchor="start" font-weight="bold" fill="#000">l</text>
<text x="451.5" y="659.5" font-size="5.4" text-anchor="middle" font-weight="normal" fill="#111">C3+ macrophage–T cell:</text>
<text x="453.2" y="665.7" font-size="5.4" text-anchor="middle" font-weight="normal" fill="#111">colocalize vs. non–colocalize</text>
<circle cx="415.90" cy="673.40" r="1.20" fill="#E8786A" stroke="#222" stroke-width="0.3"/>
<text x="419.9" y="675.6" font-size="5.5" text-anchor="start" font-weight="normal" fill="#111">Up</text>
<circle cx="436.40" cy="673.40" r="1.20" fill="#555" stroke="#222" stroke-width="0.3"/>
<text x="440.4" y="675.6" font-size="5.5" text-anchor="start" font-weight="normal" fill="#111">Not sig</text>
<circle cx="469.00" cy="673.40" r="1.20" fill="#5FB3A8" stroke="#222" stroke-width="0.3"/>
<text x="473.0" y="675.6" font-size="5.5" text-anchor="start" font-weight="normal" fill="#111">Down</text>
<path transform="scale(.5)" d="M900 1499h0M909 1505h0M896 1495h0M917 1497h0M913 1501h0M909 1505h0M907 1506h0M912 1502h0M902 1503h0M911 1502h0M911 1501h0M905 1503h0M914 1501h0M916 1498h0M909 1505h0M903 1503h0M908 1505h0M914 1496h0M910 1503h0M915 1497h0M911 1504h0M901 1502h0M914 1497h0M904 1504h0M902 1501h0M909 1506h0M911 1502h0M906 1504h0M902 1503h0M900 1500h0M908 1504h0M902 1500h0M915 1499h0M909 1505h0M907 1506h0M905 1504h0M900 1500h0M907 1507h0M904 1503h0M909 1506h0M909 1505h0M911 1502h0M896 1498h0M901 1498h0M908 1506h0M903 1502h0M902 1502h0M908 1506h0M902 1503h0M899 1499h0M910 1504h0M913 1501h0M914 1501h0M914 1499h0M900 1501h0M913 1501h0M899 1500h0M913 1501h0M898 1499h0M903 1502h0M904 1504h0M895 1495h0M914 1496h0M915 1499h0M911 1502h0M902 1501h0M900 1501h0M913 1503h0M915 1497h0M915 1498h0M896 1495h0M910 1504h0M904 1503h0M901 1499h0M906 1505h0M907 1506h0M899 1496h0M913 1502h0M909 1504h0M901 1501h0M904 1505h0M897 1499h0M898 1498h0M897 1497h0M902 1502h0M908 1505h0M899 1499h0M911 1503h0M897 1498h0M912 1502h0M913 1501h0M906 1505h0M904 1503h0M907 1507h0M897 1495h0M915 1499h0M915 1499h0M898 1495h0M910 1504h0M911 1502h0M898 1497h0M912 1504h0M897 1499h0M896 1495h0M898 1495h0M916 1496h0M913 1503h0M911 1503h0M911 1501h0M907 1506h0M901 1502h0M912 1502h0M903 1503h0M897 1496h0M916 1499h0M910 1503h0M910 1503h0M915 1501h0M897 1495h0M905 1504h0M899 1500h0M902 1502h0M910 1503h0M904 1502h0M908 1507h0M906 1506h0M899 1499h0M898 1495h0M906 1503h0M913 1501h0M906 1505h0M911 1501h0M905 1506h0M910 1502h0M914 1502h0M899 1498h0M914 1499h0M902 1500h0M911 1502h0M902 1501h0M908 1505h0M905 1505h0M900 1499h0M907 1507h0M901 1499h0M915 1500h0M916 1499h0M902 1499h0M909 1505h0M916 1496h0M907 1506h0M911 1503h0M908 1506h0M899 1496h0M909 1505h0M902 1502h0M908 1505h0M902 1502h0M897 1496h0M911 1502h0M901 1501h0M906 1506h0M912 1502h0M907 1506h0M903 1502h0M897 1499h0M912 1502h0M904 1503h0M913 1500h0M904 1504h0M907 1506h0M912 1503h0M913 1500h0M907 1507h0M909 1505h0M914 1500h0M908 1504h0M910 1505h0M907 1506h0M896 1495h0M909 1502h0M915 1500h0M912 1501h0M900 1502h0M907 1506h0M910 1503h0M914 1499h0M911 1503h0M913 1500h0M912 1502h0M898 1500h0M899 1499h0M910 1502h0M902 1501h0M912 1502h0M911 1502h0M903 1503h0M895 1497h0M912 1503h0M900 1501h0M904 1504h0M899 1499h0M897 1499h0M910 1504h0M904 1501h0M900 1501h0M906 1505h0M898 1500h0M911 1504h0M915 1499h0M901 1501h0M903 1502h0M910 1504h0M896 1499h0M899 1500h0M915 1501h0M916 1498h0M916 1499h0M902 1501h0M902 1501h0M898 1498h0M915 1499h0M911 1502h0M915 1499h0M904 1505h0M901 1501h0M911 1503h0M906 1505h0M911 1503h0M910 1505h0M900 1498h0M914 1499h0M915 1499h0M897 1497h0M916 1500h0M897 1496h0M901 1501h0M908 1505h0M900 1498h0M904 1502h0M908 1505h0M899 1501h0M913 1500h0M900 1498h0M897 1497h0M909 1503h0M912 1501h0M905 1504h0M913 1501h0M907 1506h0M911 1504h0M897 1496h0M911 1503h0M900 1499h0M917 1498h0M900 1501h0M915 1496h0M908 1503h0M907 1504h0M916 1498h0M912 1500h0M902 1500h0M899 1501h0M907 1505h0M896 1495h0M903 1501h0M911 1503h0M904 1504h0M899 1497h0M916 1495h0M903 1504h0M907 1505h0M903 1502h0M914 1498h0M902 1503h0M898 1498h0M907 1506h0M912 1503h0M916 1497h0M899 1502h0M905 1503h0M897 1498h0M901 1499h0M896 1497h0M909 1504h0M901 1501h0M912 1500h0M907 1507h0M899 1500h0M915 1498h0M910 1504h0M904 1503h0M899 1499h0M907 1504h0M903 1503h0M916 1499h0M902 1500h0M913 1499h0M909 1505h0M906 1505h0M911 1502h0M903 1502h0M915 1498h0M915 1500h0M904 1503h0M916 1496h0M902 1503h0M901 1499h0M897 1499h0M907 1506h0M913 1501h0M901 1500h0M897 1498h0M907 1507h0M900 1497h0M899 1495h0M910 1504h0M912 1503h0M899 1498h0M916 1498h0" stroke="#7a7a7a" stroke-width="3.40" stroke-linecap="round" fill="none"/>
<path transform="scale(.5)" d="M883 1471h0M865 1452h0M887 1478h0M893 1484h0M884 1476h0M890 1486h0M866 1448h0M884 1478h0M866 1470h0M886 1478h0M898 1493h0M877 1460h0M881 1482h0M878 1473h0M869 1459h0M866 1449h0M869 1453h0M869 1447h0M887 1481h0M865 1455h0M882 1473h0M899 1496h0M868 1454h0M874 1489h0M879 1472h0M878 1475h0M881 1469h0M885 1471h0M879 1477h0M884 1473h0M876 1452h0M868 1463h0M869 1466h0M887 1461h0M893 1495h0M875 1468h0M887 1473h0M880 1475h0M878 1456h0M878 1487h0M881 1477h0M882 1477h0M869 1461h0M868 1464h0M883 1470h0M889 1484h0M878 1465h0M868 1466h0M873 1470h0M879 1468h0M883 1484h0M868 1453h0M877 1467h0M884 1473h0M876 1467h0M886 1477h0M887 1472h0M867 1457h0M878 1473h0M869 1476h0M867 1470h0M893 1484h0M868 1466h0M867 1454h0M887 1475h0M876 1456h0M895 1482h0M899 1493h0M869 1459h0M883 1471h0M879 1482h0M874 1463h0M882 1458h0M873 1454h0M895 1492h0M896 1486h0M899 1493h0M869 1461h0M885 1488h0M868 1455h0M890 1487h0M875 1466h0M898 1484h0M877 1474h0M895 1488h0M868 1453h0M878 1476h0M874 1446h0M878 1470h0M867 1454h0M893 1495h0M871 1466h0M867 1452h0M890 1494h0M896 1496h0M868 1458h0M889 1476h0M893 1493h0M883 1475h0M897 1487h0M879 1484h0M869 1452h0M896 1496h0M888 1478h0M888 1484h0M894 1495h0M889 1492h0M888 1479h0M873 1464h0M876 1458h0M891 1485h0M878 1479h0M876 1475h0M896 1493h0M868 1471h0M887 1481h0M867 1462h0M870 1467h0M865 1471h0M880 1453h0M891 1486h0M872 1472h0M877 1463h0M869 1455h0M880 1488h0M881 1478h0M880 1485h0M890 1491h0M894 1488h0M886 1490h0M867 1453h0M865 1463h0M869 1462h0M899 1493h0M872 1470h0M877 1464h0M888 1485h0M883 1486h0M894 1494h0M872 1467h0M891 1489h0M882 1473h0M877 1468h0M880 1472h0M890 1489h0M894 1489h0M878 1458h0M879 1479h0M883 1471h0M886 1477h0M866 1449h0M882 1463h0M888 1477h0M877 1471h0M879 1471h0M865 1452h0M870 1465h0M894 1493h0M872 1463h0M865 1449h0M885 1479h0M874 1472h0M887 1489h0M868 1461h0M872 1476h0M882 1476h0M870 1463h0M877 1460h0M883 1472h0M875 1467h0M890 1483h0M866 1467h0M869 1462h0M897 1494h0M872 1460h0M892 1488h0M865 1458h0M872 1473h0M892 1494h0M892 1489h0M893 1496h0M899 1496h0M871 1470h0M864 1451h0M876 1470h0M900 1483h0M887 1482h0M897 1494h0M885 1476h0M870 1463h0M883 1474h0M874 1475h0M885 1478h0M870 1455h0M885 1477h0M894 1481h0M886 1488h0M876 1474h0M887 1479h0M885 1478h0M890 1490h0M871 1466h0M876 1476h0M879 1482h0M882 1476h0M870 1460h0M879 1459h0M877 1460h0M875 1472h0M864 1455h0M891 1496h0M879 1451h0M880 1473h0M882 1459h0M899 1494h0M873 1466h0M868 1459h0M874 1468h0M886 1486h0M886 1479h0" stroke="#6CBAB0" stroke-width="3.80" stroke-linecap="round" fill="none"/>
<path transform="scale(.5)" d="M920 1491h0M947 1460h0M916 1486h0M918 1491h0M940 1480h0M933 1476h0M937 1457h0M933 1466h0M947 1454h0M938 1467h0M946 1471h0M934 1465h0M929 1490h0M916 1490h0M926 1482h0M932 1482h0M924 1491h0M940 1454h0M947 1463h0M927 1479h0M917 1490h0M936 1457h0M924 1482h0M921 1482h0M933 1474h0M935 1452h0M927 1482h0M940 1464h0M941 1474h0M925 1471h0M923 1484h0M936 1464h0M937 1469h0M941 1468h0M932 1482h0M930 1469h0M922 1496h0M939 1458h0M946 1452h0M942 1445h0M939 1461h0M941 1464h0M945 1450h0M947 1449h0M926 1469h0M930 1492h0M920 1484h0M930 1460h0M926 1495h0M915 1486h0M947 1461h0M948 1448h0M925 1465h0M924 1474h0M923 1478h0M945 1462h0M927 1482h0M934 1466h0M934 1480h0M926 1475h0M943 1447h0M943 1468h0M917 1491h0M921 1481h0M947 1440h0M934 1483h0M919 1491h0M945 1458h0M925 1488h0M922 1464h0M946 1464h0M919 1477h0M945 1466h0M937 1463h0M936 1470h0M935 1466h0M915 1487h0M921 1493h0M927 1474h0M934 1467h0M929 1481h0M932 1468h0M941 1478h0M932 1468h0M919 1480h0M932 1459h0M929 1496h0M928 1480h0M928 1480h0M934 1471h0M932 1484h0M932 1474h0M939 1456h0M919 1465h0M944 1453h0M924 1468h0M918 1493h0M944 1465h0M948 1448h0M919 1486h0M941 1479h0M942 1458h0M948 1464h0M934 1489h0M918 1487h0M918 1493h0M943 1464h0M916 1479h0M923 1485h0M933 1476h0M946 1455h0M940 1451h0M936 1468h0M915 1496h0M934 1466h0M935 1472h0M920 1482h0M933 1481h0M938 1458h0M942 1452h0M944 1462h0M921 1480h0M945 1468h0M933 1469h0M939 1470h0M941 1456h0M941 1465h0M946 1455h0M940 1473h0M947 1462h0M930 1475h0M927 1475h0M936 1485h0M937 1451h0M931 1482h0M936 1480h0M932 1484h0M943 1463h0M922 1484h0M944 1469h0M917 1493h0M922 1484h0M924 1475h0M935 1462h0M914 1492h0M947 1452h0M931 1482h0M938 1471h0M942 1463h0M930 1476h0M932 1458h0M926 1476h0M926 1490h0M932 1482h0M944 1469h0M917 1492h0M934 1479h0M927 1471h0M915 1489h0M918 1488h0M944 1467h0M939 1469h0M937 1455h0M923 1478h0M948 1451h0M924 1477h0M944 1456h0M920 1495h0M939 1447h0M943 1454h0M946 1462h0M948 1469h0M925 1484h0M922 1482h0M942 1450h0M929 1469h0M944 1459h0M943 1475h0M916 1493h0M930 1467h0M938 1456h0M946 1469h0M939 1473h0M940 1456h0M943 1468h0M936 1463h0M923 1484h0M937 1468h0M932 1470h0M932 1463h0M947 1448h0M944 1468h0M945 1451h0M943 1447h0M948 1456h0M922 1494h0M937 1464h0M935 1456h0M943 1467h0M945 1453h0M938 1476h0M930 1468h0M937 1476h0M948 1457h0M945 1459h0M922 1493h0M940 1459h0M923 1493h0M933 1481h0M931 1467h0M937 1468h0M919 1494h0M947 1464h0M944 1471h0M916 1489h0M935 1483h0M926 1484h0M933 1476h0M924 1468h0M932 1482h0M941 1473h0M921 1479h0M944 1459h0M918 1493h0M915 1496h0M930 1481h0M945 1465h0M943 1468h0M928 1472h0M918 1496h0M947 1450h0M941 1461h0M919 1494h0M927 1484h0M941 1459h0M937 1480h0M927 1492h0M914 1478h0M922 1483h0M922 1469h0M921 1486h0M948 1462h0M931 1462h0M922 1495h0M942 1469h0M916 1489h0M939 1473h0M943 1465h0M922 1489h0M927 1478h0M945 1465h0M924 1484h0M937 1472h0M917 1472h0M944 1473h0M928 1491h0M917 1485h0M916 1481h0M919 1485h0M944 1479h0M943 1479h0M939 1473h0M934 1473h0M918 1489h0M924 1488h0M947 1456h0M935 1472h0M923 1493h0M947 1458h0M942 1458h0M960 1366h0M955 1394h0M935 1408h0M945 1409h0M933 1420h0M939 1424h0M955 1473h0M959 1480h0M950 1435h0M941 1432h0" stroke="#EA806F" stroke-width="3.80" stroke-linecap="round" fill="none"/>
<line x1="449.5" y1="680" x2="449.5" y2="755" stroke="#888" stroke-width="0.6" stroke-dasharray="2.5,1.5"/>
<line x1="457.1" y1="680" x2="457.1" y2="755" stroke="#888" stroke-width="0.6" stroke-dasharray="2.5,1.5"/>
<line x1="410" y1="748.2" x2="495.6" y2="748.2" stroke="#888" stroke-width="0.6" stroke-dasharray="2.5,1.5"/>
<circle cx="463.59" cy="725.18" r="1.25" fill="none" stroke="#000" stroke-width="0.6"/>
<line x1="463.6" y1="725.2" x2="480.0" y2="698.0" stroke="#000" stroke-width="0.6"/>
<text x="480.5" y="699.5" font-size="4.3" text-anchor="start" font-weight="normal" fill="#111">C3</text>
<circle cx="469.51" cy="726.43" r="1.25" fill="none" stroke="#000" stroke-width="0.6"/>
<line x1="469.5" y1="726.4" x2="477.5" y2="705.0" stroke="#000" stroke-width="0.6"/>
<text x="478.0" y="706.5" font-size="4.3" text-anchor="start" font-weight="normal" fill="#111">CD86</text>
<circle cx="462.48" cy="731.45" r="1.25" fill="none" stroke="#000" stroke-width="0.6"/>
<line x1="462.5" y1="731.4" x2="476.5" y2="714.5" stroke="#000" stroke-width="0.6"/>
<text x="477.0" y="716.0" font-size="4.3" text-anchor="start" font-weight="normal" fill="#111">CD163</text>
<circle cx="462.48" cy="741.06" r="1.25" fill="none" stroke="#000" stroke-width="0.6"/>
<line x1="462.5" y1="741.1" x2="476.0" y2="723.5" stroke="#000" stroke-width="0.6"/>
<text x="476.5" y="725.0" font-size="4.3" text-anchor="start" font-weight="normal" fill="#111">ACKR1</text>
<circle cx="471.73" cy="730.61" r="1.25" fill="none" stroke="#000" stroke-width="0.6"/>
<line x1="471.7" y1="730.6" x2="475.5" y2="732.5" stroke="#000" stroke-width="0.6"/>
<text x="476.0" y="734.0" font-size="4.3" text-anchor="start" font-weight="normal" fill="#111">CD74</text>
<circle cx="460.63" cy="739.39" r="1.25" fill="none" stroke="#000" stroke-width="0.6"/>
<line x1="460.6" y1="739.4" x2="474.0" y2="740.5" stroke="#000" stroke-width="0.6"/>
<text x="474.5" y="742.0" font-size="4.3" text-anchor="start" font-weight="normal" fill="#111">TGFBR2</text>
<circle cx="462.11" cy="743.15" r="1.25" fill="none" stroke="#000" stroke-width="0.6"/>
<line x1="462.1" y1="743.1" x2="473.0" y2="749.5" stroke="#000" stroke-width="0.6"/>
<text x="473.5" y="751.0" font-size="4.3" text-anchor="start" font-weight="normal" fill="#111">PDGFRB</text>
<line x1="410.1" y1="680.0" x2="410.1" y2="755.7" stroke="#333" stroke-width="0.7"/>
<line x1="410.1" y1="755.7" x2="495.6" y2="755.7" stroke="#333" stroke-width="0.7"/>
<line x1="416.6" y1="755.7" x2="416.6" y2="757.3" stroke="#333" stroke-width="0.5"/>
<text x="416.6" y="763.5" font-size="5.4" text-anchor="middle" font-weight="normal" fill="#222">−10</text>
<line x1="435.1" y1="755.7" x2="435.1" y2="757.3" stroke="#333" stroke-width="0.5"/>
<text x="435.1" y="763.5" font-size="5.4" text-anchor="middle" font-weight="normal" fill="#222">−5</text>
<line x1="453.6" y1="755.7" x2="453.6" y2="757.3" stroke="#333" stroke-width="0.5"/>
<text x="453.6" y="763.5" font-size="5.4" text-anchor="middle" font-weight="normal" fill="#222">0</text>
<line x1="472.1" y1="755.7" x2="472.1" y2="757.3" stroke="#333" stroke-width="0.5"/>
<text x="472.1" y="763.5" font-size="5.4" text-anchor="middle" font-weight="normal" fill="#222">5</text>
<line x1="490.6" y1="755.7" x2="490.6" y2="757.3" stroke="#333" stroke-width="0.5"/>
<text x="490.6" y="763.5" font-size="5.4" text-anchor="middle" font-weight="normal" fill="#222">10</text>
<line x1="408.6" y1="753.6" x2="410.1" y2="753.6" stroke="#333" stroke-width="0.5"/>
<text x="407.0" y="755.6" font-size="5.4" text-anchor="end" font-weight="normal" fill="#222">0</text>
<line x1="408.6" y1="732.7" x2="410.1" y2="732.7" stroke="#333" stroke-width="0.5"/>
<text x="407.0" y="734.7" font-size="5.4" text-anchor="end" font-weight="normal" fill="#222">5</text>
<line x1="408.6" y1="711.8" x2="410.1" y2="711.8" stroke="#333" stroke-width="0.5"/>
<text x="407.0" y="713.8" font-size="5.4" text-anchor="end" font-weight="normal" fill="#222">10</text>
<line x1="408.6" y1="690.9" x2="410.1" y2="690.9" stroke="#333" stroke-width="0.5"/>
<text x="407.0" y="692.9" font-size="5.4" text-anchor="end" font-weight="normal" fill="#222">15</text>
<text x="452" y="774" font-size="5.8" text-anchor="middle" fill="#222">Log<tspan font-size="3.8" dy="1.5">2</tspan><tspan dy="-1.5"> (Fold Change)</tspan></text>
<text x="394.5" y="718.6" font-size="5.8" text-anchor="middle" fill="#222" transform="rotate(-90 394.5 718.6)">−Log<tspan font-size="3.8" dy="1.5">10</tspan><tspan dy="-1.5"> (</tspan><tspan font-style="italic">P</tspan> adj)</text>
<text x="509.5" y="657.0" font-size="13" text-anchor="start" font-weight="bold" fill="#000">m</text>
<rect x="612.40" y="663.90" width="54.70" height="8.60" fill="#E6746A" stroke="#555" stroke-width="0.4"/>
<text x="608.0" y="667.3" font-size="5.55" text-anchor="end" font-weight="normal" fill="#111">negative regulation of immune</text>
<text x="608.0" y="673.1" font-size="5.55" text-anchor="end" font-weight="normal" fill="#111">system process</text>
<rect x="612.40" y="673.88" width="52.60" height="8.60" fill="#E0786C" stroke="#555" stroke-width="0.4"/>
<text x="608.0" y="680.2" font-size="5.55" text-anchor="end" font-weight="normal" fill="#111">lymphocyte differentiation</text>
<rect x="612.40" y="683.86" width="50.50" height="8.60" fill="#DB7C70" stroke="#555" stroke-width="0.4"/>
<text x="608.0" y="690.2" font-size="5.55" text-anchor="end" font-weight="normal" fill="#111">myeloid cell differentiation</text>
<rect x="612.40" y="693.84" width="44.50" height="8.60" fill="#CD887C" stroke="#555" stroke-width="0.4"/>
<text x="608.0" y="700.1" font-size="5.55" text-anchor="end" font-weight="normal" fill="#111">Th17 cell differentiation</text>
<rect x="612.40" y="703.82" width="37.14" height="8.60" fill="#C0A196" stroke="#555" stroke-width="0.4"/>
<text x="608.0" y="710.1" font-size="5.55" text-anchor="end" font-weight="normal" fill="#111">regulation of angiogenesis</text>
<rect x="612.40" y="713.80" width="37.14" height="8.60" fill="#BFA69B" stroke="#555" stroke-width="0.4"/>
<text x="608.0" y="717.2" font-size="5.55" text-anchor="end" font-weight="normal" fill="#111">PD−L1 expression and PD−1</text>
<text x="608.0" y="723.0" font-size="5.55" text-anchor="end" font-weight="normal" fill="#111">checkpoint pathway in cancer</text>
<rect x="612.40" y="723.78" width="35.87" height="8.60" fill="#BAAAA0" stroke="#555" stroke-width="0.4"/>
<text x="608.0" y="730.1" font-size="5.55" text-anchor="end" font-weight="normal" fill="#111">negative regulation of immune response</text>
<rect x="612.40" y="733.76" width="30.09" height="8.60" fill="#93B3A9" stroke="#555" stroke-width="0.4"/>
<text x="608.0" y="737.2" font-size="5.55" text-anchor="end" font-weight="normal" fill="#111">immune response−regulating</text>
<text x="608.0" y="743.0" font-size="5.55" text-anchor="end" font-weight="normal" fill="#111">signalling pathway</text>
<rect x="612.40" y="743.74" width="28.19" height="8.60" fill="#86B5AB" stroke="#555" stroke-width="0.4"/>
<text x="608.0" y="750.0" font-size="5.55" text-anchor="end" font-weight="normal" fill="#111">TGF−beta signalling pathway</text>
<rect x="612.40" y="753.72" width="25.46" height="8.60" fill="#6EB8AF" stroke="#555" stroke-width="0.4"/>
<text x="608.0" y="757.1" font-size="5.55" text-anchor="end" font-weight="normal" fill="#111">negative regulation of leukocyte</text>
<text x="608.0" y="762.9" font-size="5.55" text-anchor="end" font-weight="normal" fill="#111">differentiation</text>
<line x1="612.1" y1="662.0" x2="612.1" y2="763.8" stroke="#333" stroke-width="0.6"/>
<line x1="612.1" y1="763.8" x2="672.0" y2="763.8" stroke="#333" stroke-width="0.6"/>
<line x1="612.4" y1="763.8" x2="612.4" y2="765.2" stroke="#333" stroke-width="0.4"/>
<text x="612.4" y="770.5" font-size="3.8" text-anchor="middle" font-weight="normal" fill="#333">0</text>
<line x1="622.9" y1="763.8" x2="622.9" y2="765.2" stroke="#333" stroke-width="0.4"/>
<text x="622.9" y="770.5" font-size="3.8" text-anchor="middle" font-weight="normal" fill="#333">1</text>
<line x1="633.4" y1="763.8" x2="633.4" y2="765.2" stroke="#333" stroke-width="0.4"/>
<text x="633.4" y="770.5" font-size="3.8" text-anchor="middle" font-weight="normal" fill="#333">2</text>
<line x1="644.0" y1="763.8" x2="644.0" y2="765.2" stroke="#333" stroke-width="0.4"/>
<text x="644.0" y="770.5" font-size="3.8" text-anchor="middle" font-weight="normal" fill="#333">3</text>
<line x1="654.5" y1="763.8" x2="654.5" y2="765.2" stroke="#333" stroke-width="0.4"/>
<text x="654.5" y="770.5" font-size="3.8" text-anchor="middle" font-weight="normal" fill="#333">4</text>
<line x1="665.0" y1="763.8" x2="665.0" y2="765.2" stroke="#333" stroke-width="0.4"/>
<text x="665.0" y="770.5" font-size="3.8" text-anchor="middle" font-weight="normal" fill="#333">5</text>
<text x="640.4" y="777.8" font-size="5.4" text-anchor="middle" font-weight="normal" fill="#111">Z−score</text>
<text x="671.3" y="704.5" font-size="2.6" text-anchor="start" font-weight="normal" fill="#333">Z−score</text>
<defs><linearGradient id="gz" x1="0" y1="0" x2="0" y2="1"><stop offset="0" stop-color="#E6746A"/><stop offset="0.5" stop-color="#C0A196"/><stop offset="1" stop-color="#6EB8AF"/></linearGradient></defs>
<rect x="671.50" y="705.80" width="2.70" height="17.50" fill="url(#gz)" stroke="none" stroke-width="0.5"/>
<text x="675.0" y="707.5" font-size="2.4" text-anchor="start" font-weight="normal" fill="#333">5.0</text>
<text x="675.0" y="710.8" font-size="2.4" text-anchor="start" font-weight="normal" fill="#333">4.5</text>
<text x="675.0" y="714.1" font-size="2.4" text-anchor="start" font-weight="normal" fill="#333">4.0</text>
<text x="675.0" y="717.4" font-size="2.4" text-anchor="start" font-weight="normal" fill="#333">3.5</text>
<text x="675.0" y="720.7" font-size="2.4" text-anchor="start" font-weight="normal" fill="#333">3.0</text>
<text x="675.0" y="724.0" font-size="2.4" text-anchor="start" font-weight="normal" fill="#333">2.5</text>
</svg></body></html>
